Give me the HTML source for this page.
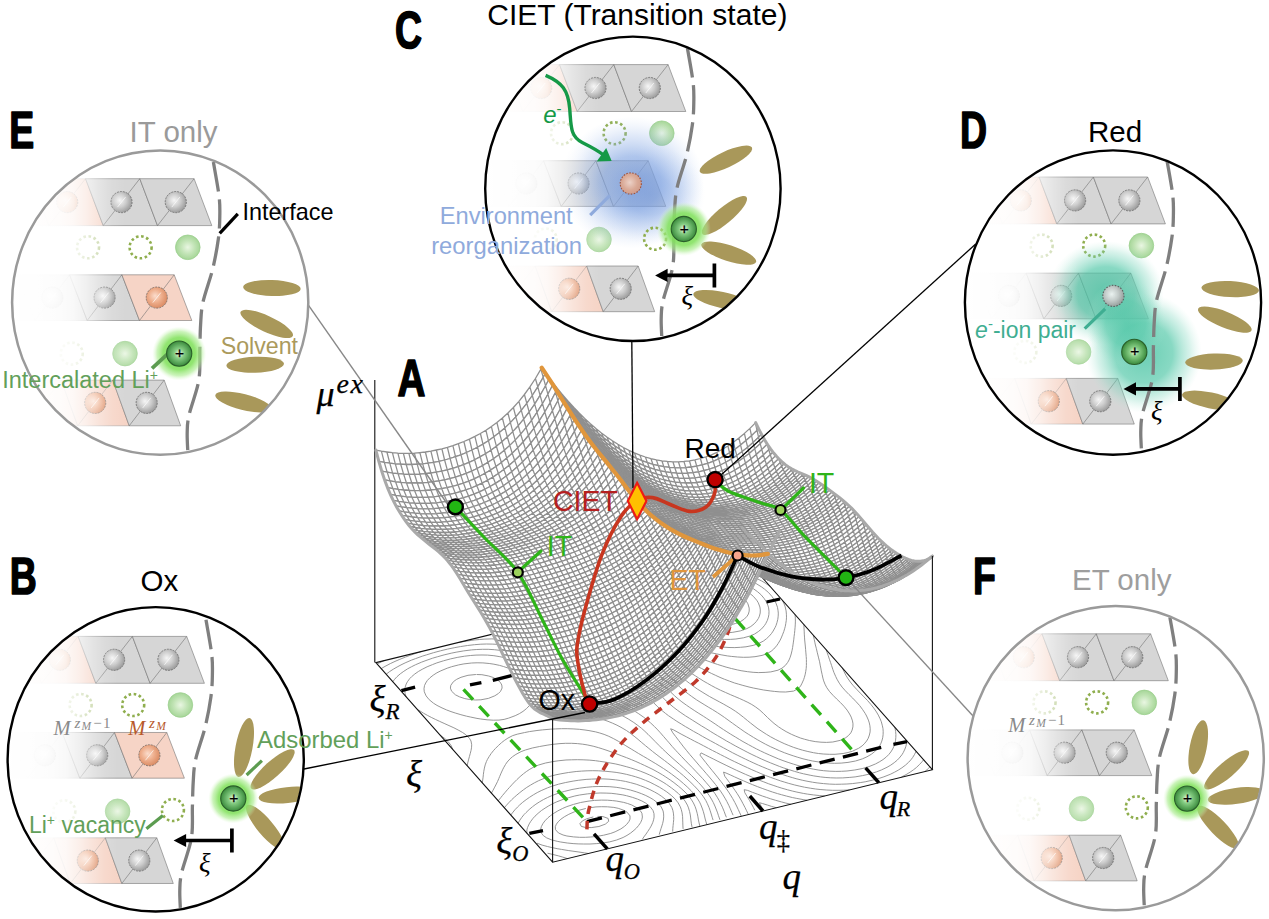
<!DOCTYPE html>
<html><head><meta charset="utf-8"><title>CIET landscape</title>
<style>html,body{margin:0;padding:0;background:#fff}svg{display:block}</style></head>
<body><svg width="1269" height="919" viewBox="0 0 1269 919">
<rect width="1269" height="919" fill="#fff"/>
<g id="plot">
<g fill="none" stroke="#8a8a8a" stroke-width="0.9">
<path d="M597.5 816.4l5.5 0.2 5.1 1.8 0.6 2.9-3.3 2.8-6.5 2.4-7.7 1.1-5.9-0.2-4-1-1.4-2.7 2.5-2.8 4-2 6.9-2"/>
<path d="M714.5 589.2l5.5 0.2 4.2 0.5 6.3 1.5 5 1.8 3.9 2.1 3.2 2.2 3.7 3.7 1.6 2.6 1.3 4.3 0 3-0.8 2.9-1.3 2.2-2.8 2.9-3.7 2.4-5.1 2-3.8 1-7.8 0.9-5.8 0-6.3-0.6-3.7-0.6-5.8-1.7-4.7-1.9-3.8-2.1-4.3-3.5-2.8-3.8-1-2.9-0.2-3.4 0.8-2.7 2.4-3.5 2.4-2.3 3.9-2.4 4.9-2.1 7-1.9 7.6-0.8"/>
<path d="M588.9 807.9l7.1-1 5.5-0.2 5.9 0.1 6.4 0.6 4.4 0.9 5.2 1.8 3.7 2.1 2.9 3.7 0 3.2-1 2.3-2.4 3.1-2.3 2-3.4 2.4-5.8 2.9-4.3 1.6-7.1 1.8-7.5 1.3-5.3 0.5-5.5 0.3-5.8 0-6.1-0.4-6.6-0.9-3.8-1-4.6-2-3-3.3-0.2-3 1.1-2.6 2.2-2.8 2.3-2.1 3.4-2.4 4.5-2.5 5.6-2.5 4.4-1.5 7-1.8"/>
<path d="M703.6 584.3l6.3-0.8 5.6-0.2 6 0.3 6.3 0.9 3.8 0.8 5.3 1.5 4.7 1.9 4.1 2 5 3.4 2.7 2.3 3.3 3.8 1.6 2.6 1.6 4.2 0.4 2.9-0.1 3.1-0.8 3.2-1.1 2.4-2 2.9-2.1 2.3-3.4 2.7-3.9 2.1-6.6 2.3-7.5 1.4-5.3 0.5-5.7 0.1-6-0.3-6.4-0.8-4.5-0.8-6-1.6-4.7-1.6-4.7-2.2-3.7-2.1-3.2-2.2-3.8-3.7-2.8-3.8-1.3-2.7-0.8-3 0-3.3 0.6-2.8 1.7-3.4 1.7-2.3 3.2-2.9 3.6-2.5 3.9-2 6.5-2.5 4.6-1.3"/>
<path d="M594.4 800.4l7.1-0.3 5.9 0.1 5.2 0.4 4.2 0.5 6.9 1.3 3.9 1.1 4.2 1.5 5.6 3.1 2.8 2.4 1.7 2.7 0.5 3.8-0.5 2.6-1.3 3-2.1 3-2.2 2.6-2.3 2.1-3.3 2.7-3.7 2.4-3.9 2.1-6.4 2.5-7.1 1.9-7.5 1.2-5.3 0.5-6.8 0.4-6.4 0-5.5-0.1-5-0.3-5.8-0.6-6.6-1-3.5-0.7-5.8-1.5-4.7-1.9-3.4-2.3-1.9-2.5-0.7-3.8 0.6-2.6 1.6-3.1 2-2.7 3-3.1 2.6-2.1 3.2-2.3 4.1-2.5 4.9-2.5 4.2-1.8 6.6-2.2 7.1-1.9 7.4-1.3 6.4-0.8"/>
<path d="M719.5 578.9l4.7 0.4 5.8 0.8 5 1.1 5.7 1.7 4.8 1.8 4.3 2 3.7 2.1 3.9 2.8 3.5 3 3.2 3.8 2 3.1 1.7 3.6 0.8 2.8 0.4 3.3-0.1 3.2-0.5 2.7-1 3.2-1.7 3.4-1.3 1.9-2.8 3.3-3.3 2.7-3.7 2.4-4.2 1.9-6.9 1.9-7.6 1.2-5.5 0.4-5.7 0-6-0.2-6.3-0.7-4.4-0.7-6-1.2-3.7-1-5.4-1.7-4.8-1.8-4.2-2-4.2-2.5-4.3-3.1-4-3.6-3-3.7-2.3-4.1-0.9-2.8-0.6-2.9 0.1-3.2 0.7-3 1.6-3.4 1.6-2.3 2.9-3.1 3.3-2.6"/>
<path d="M588.5 853.5l-3.8-0.6-6.6-1-5.1-0.7-4.8-0.7-6.7-1.1-3.6-0.6-6.8-1.4-3.7-0.9-5.3-1.4-5.1-1.9"/>
<path d="M526.8 833.1l0.1-3.2 0.7-2.5 1.6-3.5 1.6-2.6 2.2-2.9 2-2.2 3.1-2.9 3.4-2.8 3.6-2.4 3.7-2.3 3.9-2.1 4.1-1.9 6.5-2.5 4.9-1.5 6.6-1.8 4.9-1 7.6-1.1 5.3-0.5 7.5-0.4 6 0.1 5.1 0.2 5 0.6 6.7 1 3.6 0.8 5.8 1.6 5.2 1.8 4.4 1.9 3.8 2.1 4.4 3.5 2.9 3.9 1 3.2 0.1 3.4-0.5 2.7-0.9 2.9-1.6 3.4-1.4 2.4-1.9 2.9-1.8 2.7-2.1 2.8-1.7 2.6"/>
<path d="M732.7 575.7l6 1.3 3.9 1.1 4.8 1.6 4.6 1.9 4.2 2 5.3 3.3 3.1 2.3 4.1 3.5 3.3 3.8 2.6 3.9 1.4 2.7 1.5 4.2 0.5 2.9 0.3 2.9-0.1 3.1-0.4 3.1-0.8 3.2-1 3.1-1 2.1-1.9 3.4-1.6 2.4-2.8 3.2-2.2 2-3 2.3-5.4 2.8-5 1.6-7.1 1.4-5.6 0.5-5.6 0.3-5.8-0.1-6.1-0.4-6.4-0.7-3.9-0.6-6.4-1.2-3.8-0.9-5.9-1.5-5.5-1.8-4.3-1.5-4.6-2-4.6-2.3-3.6-2.1-3.6-2.4-4.1-3.3-3.7-3.7-3-3.8-2.3-4-1.1-2.7-0.8-2.9-0.4-3.5 0.3-3 0.6-2.7 1.4-3.4 1.8-2.6"/>
<path d="M567.5 858.6l-5.1-1.6-3.8-1.1-5.6-1.4-5.5-1.3"/>
<path d="M518.1 823.2l1.8-3.1 1.8-2.6 2.4-3 1.9-1.9 3.1-3 3.3-2.8 3.5-2.6 3.7-2.4 3.8-2.2 4-2 4.3-1.9 6.3-2.4 6.8-2 7.2-1.8 7.4-1.3 6.8-0.9 6.4-0.6 5.5-0.2 5.8 0 6 0.2 6.3 0.6 4.5 0.7 5.7 1.1 4.2 1 5.7 1.7 5 1.8 4.5 1.9 4.1 2.1 3.6 2.1 4.4 3.5 3.3 3.7 1.9 4.1 0.5 2.9 0.1 3-0.3 3.2-0.7 3.2-0.8 2.6-0.8 2.4-1 3.2-0.9 3.2"/>
<path d="M782.4 600.3l1.8 3.8 1 2.8 0.9 4 0.3 3.3 0.1 3-0.2 3.1-0.5 3.1-0.5 2.9-0.7 2.5-0.8 2.7-1.3 3.3-1.3 3.2-1 2.1-2 3.4-1.6 2.3-2.9 3.3-2.6 2.2-4.5 2.6-4.6 1.5-7 1.3-5.9 0.5-5.7 0.1-6-0.3-6.1-0.6-4-0.5-6.2-1.1-4.5-0.9-6.2-1.3-3.7-0.9-5.7-1.5-5.6-1.7-4.3-1.4-4.2-1.5-4.5-1.8-4.8-2.2-5.2-2.7-3.7-2.1-3.3-2.2-4.5-3.5-3.8-3.6-3.3-3.8-2.8-3.8-2.1-4.1-1.1-2.7-0.8-2.9-0.4-3.7 0.1-3.1 0.5-2.7 1-2.9"/>
<path d="M742 573.4l5.7 1.7 5.1 1.8 4.5 1.9 4.1 2 3.7 2.2 4.9 3.3"/>
<path d="M510.8 815l1.6-2.1 2.5-3.1 2.6-2.7 2.1-2.1 3.1-2.7 3.4-2.6 3.6-2.5 3.7-2.4 3.8-2.2 4-2 6.2-2.7 4.3-1.6 6.8-2.1 7.2-1.7 7.4-1.4 5.1-0.8 7.9-0.9 5.5-0.3 5.6-0.2 5.8 0 6 0.3 6.3 0.6 5 0.7 5.1 0.9 5 1.2 5.8 1.6 4.5 1.6 4.5 1.7 4.7 2.1 4.5 2.3 3.7 2.1 3.6 2.4 4.2 3.3 3.4 3.7 2.5 4 1 2.8 0.6 2.9 0.3 3.4 0 3.2-0.3 3-0.3 2.8-0.3 3-0.1 3.1"/>
<path d="M795.1 614.6l0.2 3.5 0.1 3-0.1 3-0.2 3.1-0.3 3.1-0.3 3.1-0.4 2.9-0.3 2.9-0.4 2.9-0.4 2.8-0.4 2.7-0.6 3.1-0.8 3.3-1 3.2-1.1 2.7-1.4 2.5-2.4 3.1-3.3 2.7-4 2-7.2 1.7-5.7 0.5-6.8 0.2-5.2-0.3-5.5-0.6-6.5-1-3.8-0.8-5.9-1.4-5.3-1.4-3.9-1.2-4.8-1.5-5.2-1.8-5.1-1.8-5.1-1.8-4.8-1.8-4.3-1.6-4.4-1.7-4.5-1.9-4.7-2-5-2.3-4.2-2.2-3.7-2.1-3.6-2.1-4.8-3.4-3.4-2.7-3.5-3.2-3.5-3.7-3-3.9-1.7-2.6-2.2-4-1.4-3.1-1.1-3.9-0.5-2.9-0.1-3 0.2-3.1 0.8-3.2"/>
<path d="M751.1 571.2l2.6 0.9 1.3 0.5 1.2 0.4 2.4 0.9 0.8 0.4"/>
<path d="M504.4 807.7l2.1-2.5 2.2-2.4 3-3.1 2.7-2.5 2.4-2.1 3-2.5 3.5-2.7 3.5-2.5 3.7-2.3 3.8-2.2 4.3-2.2 6-2.5 4.8-1.7 6.6-1.7 4.9-1 7.5-1.3 7.8-1 5.4-0.4 5.5-0.3 5.7-0.1 5.9 0.1 6.1 0.4 6.3 0.6 5 0.6 4.9 0.8 5.7 1.2 5.1 1.3 3.9 1.1 5.1 1.7 4.8 1.9 4.5 1.9 4.1 2.1 5.1 2.7 4.2 2.6 3.3 2.2 4.5 3.5 3.8 3.6 3 3.8 2.2 4 1 2.8 0.8 3.3 0.5 3.8 0.1 3.2 0.1 3 0.1 3 0.2 3"/>
<path d="M803.9 624.5l0.1 3.5 0.2 3.1 0.1 3 0.2 3 0.2 2.9 0.3 3 0.3 3 0.3 3.3 0.3 3.6 0.3 3.5 0.2 3 0 3 0 3-0.2 3.1-0.5 3.2-0.6 3.1-0.7 2.5-0.8 2.4-1.5 3.4-1.5 2.9-2.5 2.7-4.6 2.4-7.8 0.9-5.8-0.1-5.6-0.5-4.2-0.5-6.4-0.9-4.8-0.9-5.6-1.1-4.3-1-6.1-1.6-4.5-1.3-4.1-1.2-4.9-1.8-4.8-1.8-4.6-1.9-4.3-2-4.3-2-4.9-2.4-5.1-2.6-4.3-2.1-4.1-2.1-4.1-2-4.2-2-4.2-2-4.7-2.4-5.3-2.7-3.9-2.1-3.7-2.2-4.4-2.7-4.1-2.8-4-3.1-3.2-2.7-3.7-3.7-3.3-3.7-2.9-3.9-2.1-3.2-1.9-3.4-1.7-3.9-1-3-0.7-2.9-0.4-3-0.1-3.3"/>
<path d="M498.2 800.8l2.7-3.3 1.5-1.9 2.8-3.3 2.1-2.5 2.2-2.4 2.9-3.2 2.1-2.2 2.4-2.4 3.2-3 3.3-2.8 2.9-2.2 3.6-2.4 4.5-2.5 4.3-1.7 6.9-2 7.4-1.4 5.1-0.8 7.9-0.8 5.6-0.2 5.7-0.1 5.8 0.1 6.1 0.3 6.3 0.6 4.2 0.6 5.6 0.8 5.6 1 4.9 0.9 5 1.2 6 1.6 3.9 1.1 4.4 1.4 5.1 1.8 4.8 1.9 4.4 1.9 4.2 2 4.6 2.5 4.9 2.8 3.4 2.2 4.8 3.4 3 2.3 4.2 3.5 3.6 3.7 3 3.8 2.3 4 1.1 2.8 1.1 3.7 0.7 3.4 0.4 3 0.3 2.9 0.4 2.9 0.7 3.6"/>
<path d="M813.3 635.2l0.9 4.1 0.6 2.9 0.6 2.8 0.9 3.3 0.9 3.9 0.7 2.8 0.7 2.9 1 3.9 0.6 3.3 0.6 2.9 0.5 2.9 0.8 3.5 0.8 3.7 0.8 2.8 1.3 3.3 1.8 3.5 2.8 3.9 3.4 3.7 3.7 3.7 3.8 3.6 3.5 3.7 3.1 3.8 2.5 3.9 1.6 3.1 1.3 3.8 0.5 2.9-0.1 3.1-0.8 3.2-1.3 2.8-2.3 2.6-2.7 2.2-5.7 2.7-7.3 1.6-6.3 0.4-5.5-0.2-5.8-0.6-5.8-1.1-5-1.3-4-1.2-4.6-1.8-4.4-1.9-5.3-2.7-4.3-2.6-3.3-2.2-4.5-3.4-4-3.6-2.6-2.4-3.7-3.7-3.9-3.6-4-3-4-2.6-3.9-2.1-4.2-2-4.4-2-4.5-1.9-4.5-1.9-4.7-2.1-4.9-2.2-5.1-2.5-4.3-2.3-3.7-2.1-3.7-2.1-5.2-3.3-3.4-2.2-4.3-2.7-4.3-2.8-3.4-2.2-5.2-3.1-3.8-2.3-3.7-2.1-4.4-2.6-4.7-2.8-3.5-2.2-4.8-3.1-3.4-2.4-4.4-3.5-2.8-2.4-3.7-3.6-3.4-3.7-3.1-3.8-2.7-3.9-1.7-2.7-2.1-4-1.2-2.7-1.5-4.2-0.7-2.9-0.5-2.9-0.1-3"/>
<path d="M491.4 793.1l1.6-2.8 1.7-3.2 1.1-2.1 1.7-3.4 1.3-3 0.9-2.2 1.4-3.3 1.5-3.3 1-2 1.9-3.3 1.7-2.5 2.9-3.2 2.4-2.1 3.4-2.3 5.2-2.8 4.3-1.6 6.9-2 7.3-1.5 7.5-1.3 5.1-0.8 7.8-0.8 5.7-0.3 5.7 0 6 0.3 5.3 0.6 4.5 0.7 6 1.3 5.1 1.4 3.9 1.2 4.8 1.6 5 1.8 4.9 1.8 4.9 1.9 4.8 1.8 4.7 1.9 4.6 1.9 4.5 2 4.3 2 4.2 2 4.1 2 4.2 2.3 5.2 3 3.4 2.2 4.5 3 3.6 2.6 4.4 3.5 2.8 2.3 3.9 3.6 3.5 3.7 2.9 3.9 2 3.3 1.6 3.4 1 2.8 1.2 4.2 0.6 2.9 0.5 2.9 0.6 3 1 4.2"/>
<path d="M826.1 649.6l1.1 3.2 1 2.8 1.4 4.2 1 2.8 1 3 1.3 4 1 2.8 1.8 4.1 1.3 2.7 2.3 4 2.8 3.9 3.3 3.7 3.6 3.7 3.7 3.6 3.5 3.7 3.4 3.7 2.9 3.9 2.6 3.9 1.5 2.7 1.8 4.1 0.9 2.8 0.6 2.9 0.3 3-0.1 3.1-0.7 3.1-1.2 3.3-1.6 2.7-2.3 2.8-2.2 2.1-3.5 2.4-6.1 2.9-4.5 1.3-4.9 1-8 0.8-5.7 0-6.1-0.3-4.8-0.5-5.1-0.8-5.5-1.2-5.3-1.3-3.9-1.2-5-1.6-4.9-1.9-4.6-1.9-4.3-2-4.1-2-5.4-2.9-4-2.4-3.4-2.2-5-3.3-3-2.3-4.5-3.5-3.1-2.5-4-3.3-4.5-3.5-3.2-2.3-4.8-3.1-4-2.3-3.7-2.1-3.9-2.1-5.4-2.9-4.2-2.3-3.7-2.2-3.9-2.4-4.8-3-3.2-2.3-4.6-3.4-3.2-2.5-4.1-3.3-4.5-3.5-3-2.3-4.7-3.4-3.3-2.2-4.9-3.4-3.4-2.2-3.8-2.6-4.4-3-3.4-2.4-4.2-3.3-4.1-3.5-3.6-3.4-2.6-2.7-3.2-3.8-2-2.5-2.8-3.9-2.5-3.9-1.8-3.3-1.6-3.5-1.2-3-1.3-4-0.6-2.9-0.4-2.9"/>
<path d="M476.5 674.5l5.4 0.2 6.8 1.3 4.2 1.4 4.8 2.6 2.6 2.3 1.5 2.7 0.3 3-1.6 3.4-2.1 2.1-3.6 2.3-6.4 2.6-7.5 1.4-5.5 0.2-6.3-0.6-4.3-0.8-5.4-1.8-4-2-3.8-3.6-1.2-3.1 0.4-2.8 2.6-3.6 3.3-2.4 4.3-2 7-2 7.9-0.8"/>
<path d="M482.3 782.8l0.4-2.8 0.4-2.8 0.3-2.9 0.4-3 0.6-3.2 0.8-3.2 1.2-3.3 1.1-2.3 1.8-3 1.8-2.7 2.3-2.9 1.9-2.1 3.1-3.1 3.1-2.8 2.8-2.2 3.6-2.4 4.8-2.5 4.5-1.4 7.2-1.6 5-1 7.6-1.1 5.3-0.6 8-0.7 5.5-0.3 5.6-0.2 5.8 0 5.9 0.2 6.2 0.4 5.7 0.7 4 0.6 6.7 1.3 4.1 1.1 4.3 1.4 4.7 1.9 4.5 2.2 5.5 3 3.6 2.1 3.5 2.2 5.3 3.2 3.6 2.2 3.6 2.2 5.3 3.1 3.8 2.2 3.6 2.2 4.7 2.8 4.2 2.6 3.5 2.2 4.9 3.3 3.2 2.3 4.5 3.4 3 2.3 4.2 3.6 3.9 3.5 3.8 3.7 3.3 3.7 2.9 3.9 2.4 3.9 1.3 2.8 1.6 4.1 0.9 2.8 0.9 3.3 0.9 3.9 0.8 2.8 0.8 2.8"/>
<path d="M842.3 667.9l1.6 3.5 2 3.9 1.7 2.8 2.7 3.9 3.1 3.8 3.4 3.7 3.6 3.7 3.6 3.7 3.6 3.7 3.2 3.7 3 3.8 2.7 3.9 1.8 3.1 1.8 3.7 1.2 2.9 1.1 4.1 0.6 2.9 0.2 2.9-0.1 3.1-0.4 3.1-0.9 3.3-1.1 2.7-1.4 2.4-2.4 3.2-2.7 2.6-2.8 2.2-4.4 2.6-4.7 2.1-6.8 2.1-7.5 1.4-6.8 0.7-6.8 0.2-5.6-0.2-4.7-0.4-5.2-0.7-6.3-1-4.1-0.9-5.5-1.3-5.8-1.7-4-1.3-4.2-1.4-4.7-1.7-4.6-1.9-4.5-2-4.5-2-5.2-2.6-4.6-2.5-3.7-2.1-3.7-2.2-5.2-3.2-3.4-2.2-4.3-3-3.8-2.7-4.2-3-3.6-2.6-4.4-3.2-3.6-2.5-3.5-2.3-5.1-3.2-3.6-2.1-3.9-2.4-4.9-3-3.5-2.2-4.9-3.4-3.1-2.3-4.4-3.4-2.8-2.4-4-3.6-3.9-3.6-3.9-3.6-2.7-2.4-4.1-3.5-4.4-3.5-3-2.3-4.6-3.4-3.1-2.3-4.5-3.4-4-3.2-3.1-2.7-3.9-3.6-3.6-3.6-3.4-3.8-3-3.8-2.8-3.9-2.4-3.6-1.7-3-2.1-4-1.3-2.7-1.6-4.2-0.8-2.8-0.7-2.9"/>
<path d="M463.9 663.9l7.6-0.9 5.6-0.2 5.8 0.1 6.3 0.6 4.7 0.7 5.7 1.2 3.8 1.1 5.1 1.7 4.5 2 4.2 2.1 5.1 3.2 2.9 2.3 3.6 3.7 2.2 3.1 1.6 3.5 0.8 2.9 0.3 3.2-0.3 2.9-0.9 3.2-1.8 3.5-1.3 1.8-3 3.1-3.4 2.7-3.7 2.3-4.1 2-6.5 2.4-4.6 1.3-5.1 0.7-5.7 0.1-6.2-0.4-6.4-0.8-3.7-0.6-6.7-1.4-3.7-0.8-5.7-1.5-5.7-1.7-4.2-1.4-4.3-1.6-4.7-2.1-5-2.5-3.5-2.2-4.3-3.5-3.1-3.8-1.8-4.1-0.3-3 0.5-3.2 1.2-2.6 1.7-2.6 2.4-2.5 3.4-2.7 3.7-2.4 4-2 6.3-2.6 4.5-1.5 7-1.8 5.2-1"/>
<path d="M406.1 696.8l-1-3.4-0.3-3 0.3-3.1 1.1-3.3 1.2-2.2 2.3-3.2 1.9-1.9 3.2-2.7 3.6-2.5 3.8-2.2 4.9-2.5 5.4-2.2 4.3-1.7 6.7-2.1 7-1.9 7.3-1.6 6.8-1.1 6-0.7 5.4-0.4 6-0.1 5.6 0.1 6.3 0.6 6 1 4.3 0.9 5.1 1.3 5.4 1.7 5 1.9 4.5 1.9 4.2 2 4 2.1 3.6 2.1 5 3.3 3.1 2.3 4 3.6 3.6 3.7 3.3 3.7 3.1 3.8 2.9 3.9 3.1 3.8 3.4 3.7 4.1 3.5 3.5 2.5 5.5 2.9 4.5 2 4.5 1.6 4.1 1.4 4.2 1.4 5.1 1.8 5 1.8 4.6 1.9 4.4 2 4 2.1 5.4 3.2 3.2 2.2 4.5 3.5 2.9 2.3 4.2 3.6 4.2 3.5 2.8 2.3 4.3 3.5 3.6 2.8 3.9 3 4.6 3.4 3 2.3 4.5 3.5 2.9 2.3 4.3 3.5 4.2 3.5 2.6 2.4 3.9 3.6 3.8 3.7 3.5 3.7 3.2 3.7 2.9 3.9 2.4 3.8 1.4 2.8 1.8 4.1 1 2.8 0.9 2.8 1.3 4.3 0.9 2.8"/>
<path d="M894.9 727.3l0.7 4.1 0.3 3.2-0.1 3.1-0.3 3.1-0.6 2.8-0.8 2.4-1.4 3-1.9 3-2 2.5-2.4 2.4-3.4 2.7-3.7 2.3-3.9 2.1-6.4 2.6-6.9 2-7.3 1.4-7.8 1-5.5 0.3-5.7 0.1-6-0.2-6.2-0.5-4.7-0.6-5.2-0.9-5.5-1.1-5.3-1.3-3.9-1-5.6-1.7-5.3-1.7-5.1-1.8-4.5-1.7-4.5-1.9-4.6-2-4.7-2.1-4.2-2-4.1-2-3.9-2.1-3.9-2.1-5.6-3.1-3.7-2.2-3.6-2.2-5-3-3.8-2.4-3.4-2.2-5-3.3-3.3-2.3-5-3.3-3.4-2.2-3.5-2.3-5.1-3.2-3.4-2.2-5-3.3-3.3-2.3-4.6-3.3-3-2.4-4.1-3.5-3.9-3.7-3.5-3.6-2.3-2.5-3.4-3.7-3.5-3.7-3.6-3.7-3.9-3.6-4.1-3.5-2.8-2.4-4.3-3.5-4.2-3.5-2.7-2.4-3.9-3.6-3.7-3.7-3.4-3.7-3.1-3.8-2.9-3.8-2.8-3.9-1.6-2.6-2.4-4-1.8-3.3-1.6-3.4-1.5-3.3-1.3-3.7-0.8-2.8"/>
<path d="M467.2 765.7l0.5-2.7 0.8-3.1 0.9-3.3 0.9-3.3 0.7-2.8 0.5-2.7 0.2-3-0.7-3.8-1.5-2.6-3.7-3.7-3.2-2.2-3.7-2.1-5-2.6-4.9-2.2-4.9-2.2-4.4-2-4.3-2-4.1-2-4-2.1-3.8-2.1-5.2-3.3"/>
<path d="M392.8 681.7l1.8-2.4 2.4-2.6 3.3-2.9 3.5-2.5 3.7-2.4 3.9-2.1 4-2 6.3-2.7 4.3-1.6 6.6-2.3 5.1-1.5 6.4-1.8 7.1-1.7 4.9-1 7.6-1.3 7.8-1 5.3-0.4 5.6-0.2 5.8 0 6.1 0.4 6.3 0.7 3.7 0.7 6.5 1.4 4.4 1.3 4.1 1.2 4.9 1.8 4.7 1.9 4.4 2 4.3 2 5.3 2.7 4.3 2.5 3.6 2.2 4.8 3.2 3.2 2.4 4.5 3.4 2.8 2.4 4.2 3.5 4.1 3.6 2.9 2.3 4.5 3.4 3.3 2.3 5.3 3.2 3.7 2.2 4 2 4.1 2 4.4 2.1 5 2.3 4.9 2.4 4.7 2.3 3.9 2.1 3.7 2.1 5 3.2 3.3 2.4 4.4 3.4 2.7 2.4 3.8 3.6 3.7 3.7 3.6 3.7 3.6 3.6 3.7 3.7 2.6 2.4 3.8 3.6 4 3.6 4 3.5 2.7 2.4 4 3.6 3.8 3.6 3.8 3.6 3.7 3.7 3.6 3.7 2.3 2.4 3.3 3.8 2 2.5 2.9 3.9 2.4 3.9 1.8 3.3 1.6 3.5 1.2 3 1.5 3.9 0.9 2.8 1.5 4.2"/>
<path d="M906.8 740.8l-0.3 2.8-0.6 2.7-1 2.8-1.6 3.4-1.4 2.3-2.7 3.3-1.9 2-3 2.5-3.5 2.5-3.8 2.2-5.7 2.7-4.7 1.8-6.8 2.2-7.2 1.6-7.5 1.3-5.3 0.5-7 0.5-6.6 0.1-5.5-0.2-4.8-0.3-5.4-0.6-6.7-1-3.7-0.7-6.6-1.4-4-1-4.9-1.4-5.5-1.7-5.3-1.7-4.4-1.6-4.3-1.7-4.5-1.8-4.6-1.9-4.8-2.1-4.8-2.3-4.5-2.1-4-2-4-2.1-4-2.1-4.7-2.5-4.8-2.7-3.8-2.1-3.7-2.2-5.3-3.1-3.7-2.2-3.6-2.2-5.1-3.2-3.7-2.2-3.5-2.2-5.2-3.3-3.5-2.2-3.8-2.4-4.6-3.1-3.2-2.3-4.5-3.4-4.2-3.6-2.7-2.3-3.6-3.7-3.4-3.7-3.1-3.8-3-3.9-2.4-3-2.8-3.3-3.3-3.7-2.4-2.5-3.8-3.6-3.9-3.6-3.9-3.6-3.9-3.6-2.5-2.4-3.6-3.7-3.3-3.7-3.2-3.8-2.9-3.8-1.9-2.6-2.6-3.9-2.5-4-1.6-2.6-2.1-4-1.7-3.4-1.5-3.5-1.1-2.7-1.3-4.2"/>
<path d="M452.6 749.2l-1.3-3.4-2.8-3.8-3.8-3.6-4.7-3.4"/>
<path d="M386.2 674.2l3.4-2.6 3.7-2.4 3.8-2.2 3.9-2.1 4.1-2 6.2-2.7 4.3-1.6 6.6-2.4 4.5-1.4 6.8-2.1 7-1.9 7.1-1.7 7.3-1.5 5.5-1 7.1-1.1 6.9-0.8 6.4-0.5 5.6-0.2 5.8 0.1 6.1 0.3 5.5 0.7 4.4 0.7 5.9 1.3 5.2 1.5 4 1.3 4.4 1.5 4.8 1.9 4.5 1.9 4.4 2 5 2.4 5.2 2.7 3.8 2.1 3.8 2.1 4.2 2.5 4.5 2.9 3.3 2.3 4.8 3.4 3.2 2.2 4.7 3.4 3.3 2.3 5 3.3 3.6 2.1 3.7 2.2 4.6 2.4 5.2 2.6 4.4 2.1 4.1 2.1 4.1 2 4.1 2 4.1 2.2 5.3 3.1 3.4 2.2 4.6 3.2 3.2 2.5 4.1 3.5 3.9 3.7 2.4 2.4 3.4 3.7 3.3 3.8 3.2 3.7 2.2 2.5 3.2 3.8 3.4 3.7 2.3 2.5 3.5 3.7 3.5 3.7 3.6 3.7 3.6 3.6 3.5 3.7 3.5 3.7 3.5 3.7 3.3 3.8 3.2 3.7 3.1 3.8 2.8 3.9 2.2 3.5 1.8 3.1 2 4.1 1.3 2.7 1.7 4.1 1 2.8 1.3 3.2"/>
<path d="M916.1 751.2l-1.5 3.1-1.8 3-1.9 2.5-2.3 2.5-3.2 2.9-3.5 2.6-3.7 2.4-3.9 2.1-4 2-6.4 2.5-4.5 1.5-7 1.9-7.2 1.6-5 0.8-7.9 1-5.4 0.4-5.5 0.2-6.1 0.1-5.6-0.2-6.2-0.5-6.4-0.7-4.6-0.7-5.5-1-4.8-1-6.1-1.5-3.8-1.1-4.8-1.4-5.4-1.8-5-1.7-4.9-1.9-4.8-1.9-4.6-1.9-4.5-1.9-4.4-2-4.3-2-4.2-2-4.1-2-4.1-2-4.5-2.3-5.4-2.9-3.9-2.1-3.9-2.1-3.8-2.1-5-2.7-4.6-2.5-3.8-2.1-3.7-2.2-5.1-2.8-4.2-2.5-3.7-2.1-4.2-2.6-4.6-2.8-3.4-2.3-4.9-3.3-3-2.3-4.3-3.5-4-3.6-2.4-2.4-3.3-3.8-2-2.5-2.8-3.9-2.7-3.9-2.6-3.9-1.8-2.6-3-3.8-3.2-3.8-3.4-3.7-3.6-3.7-2.4-2.4-3.6-3.7-3.6-3.7-3.3-3.7-3.2-3.8-3-3.8-1.8-2.6-2.7-3.9-2.6-3.9-2.3-3.8-1.7-2.8-2.2-4-1.4-2.7-1.9-4.1-1.2-2.8-1.5-4.1"/>
<path d="M849.6 789.9l-5.8 0.3-5.7 0.1-5.8 0-6-0.3-6.2-0.5-4.4-0.5-5.4-0.8-5.8-1-4.6-1-5.1-1.2-6-1.6-4-1.2-4.2-1.3-5.2-1.8-5-1.8-4.8-1.8-4.7-1.9-4.6-2-4.5-1.9-4.3-2-4.4-2-4.2-2-4.2-2-4.8-2.3-5.2-2.7-4.2-2.1-4-2.1-4-2-4-2.1-5.1-2.7-4.8-2.5-4-2-3.9-2.1-4-2.1-4.8-2.5-4.9-2.7-3.8-2.1-2.6-0.9 2.2 4 3 3.9 2.9 3.8 2 2.6 2.9 3.8 3.1 3.8 3.1 3.8 3.2 3.7 3.3 3.8 3.2 3.8 3.3 3.7 3.3 3.8 3.2 3.7 3.2 3.8 3.1 3.8 2.9 3.8 2 2.7 2.5 3.8 2.4 4 1.5 2.7 2 4 1.4 3.1 1.6 3.8 1.2 2.7"/>
<path d="M923.6 759.7l-1.4 1.9-2.9 3.1-3 2.9-2.7 2.1-3.4 2.4-4.1 2.5-4.7 2.4"/>
<path d="M459.4 642.3l7.1-1.2 7.7-1.1 5.3-0.5 5.4-0.4 7-0.2 5.6 0.2 5.1 0.3 6.5 0.9 4.5 0.9 6.2 1.5 4 1.2 4.2 1.4 4.9 1.8 4.7 1.9 4.5 1.9 4.4 2 4.5 2.2 5.1 2.5 4.7 2.4 3.9 2.1 3.8 2.1 4.4 2.6 4.7 2.8 3.5 2.2 4.7 3 3.8 2.5 3.5 2.2 5.2 3.2 3.6 2.2 3.8 2.1 4.5 2.4 5.2 2.5 4.6 2.2 4.2 2 4.3 2 4.1 2.1 4.6 1.9 3.9 2.6-2-3.1-2.5-3.9-2.3-4-1.5-2.7-2.4-4-2-3.2-2.3-3.3-2.9-3.8-3.2-3.8-3.3-3.7-3.4-3.8-3.3-3.7-3.1-3.8-3.1-3.8-2.8-3.9-2.2-3.1-2.3-3.4-2.5-3.9-2.4-4-1.6-2.6-2.2-4-1.5-2.7-2-4-1.6-3.4-1.5-3.5"/>
<path d="M381.2 668.6l3.8-2.2 5.3-2.8 4.7-2.2 4.2-1.8 6.4-2.6 4.3-1.6 6.6-2.3 5.3-1.7"/>
<path d="M824.7 795.9l-5-0.3-6.4-0.7-5.9-0.8-4.1-0.7-6.4-1.3-4.3-1-5-1.3-5.7-1.6-4.7-1.5-4.1-1.4-4.4-1.5-4.9-1.9-4.7-1.8-4.7-1.9-4.5-2-4.5-1.9-4.4-2-4.3-1.9-4.8-2.3-5-2.4-4.9-2.4-4.1-2-4.1-2.1-4.1-2-4-2-4.6-2.3-1.2 2.1 3 3.9 3 3.8 3 3.8 3.1 3.8 3.1 3.8 3 3.8 3 3.8 2 2.6 2.8 3.8 2.7 3.9 2.5 4 1.6 2.6 2.2 4 1.7 3.4 1.6 3.4 1.6 3.5 1.5 3.3"/>
<path d="M929.9 766.9l-0.4 0.5-1.1 1-1.1 1-0.5 0.5-1.7 1.4-0.3 0.3"/>
<path d="M493.7 633.9l5.9 0.1 4.9 0.3 5.6 0.7 6 1 4.6 1.2 4.4 1.2 5.3 1.7 4.9 1.9 4.7 1.9 4.5 1.9 4.3 2 4.3 2 4.2 2 4.2 2.1 5.2 2.6 4.7 2.5 3.9 2 3.8 2.2 4.3 2.4 4.9 2.9 3.6 2.1 3.7 2.2 5.3 3.2 3.7 2.2 3.7 2.1 4.9 2.7 3.2-0.1-2.7-3.9-2.8-3.9-3.1-3.8-3-3.8-3.1-3.8-2-2.5-2.8-3.9-2.7-3.9-2.6-3.9-1.8-2.7-2.3-3.9-2.4-3.9-1.6-2.7-2.2-4-2.3-4-1.4-2.7-2.1-4-1.3-2.7-1.9-4.1"/>
<path d="M377.1 664l0.7-0.3 1.3-0.7 2-1 2.1-1 0.9-0.4"/>
<path d="M807 800.2l-3.9-0.6-6.9-1.3-3.6-0.7-6-1.5-5.2-1.4-3.9-1.1-5.1-1.6-5.2-1.8-5-1.8-4.8-1.8-4.8-1.9-4.6-1.9-4.5-2-4.5-1.9-4.4-2-4.3-2-4.3-1.9-2.5-0.9 1.3 4.2 1.9 2.5 2.9 3.9 2.8 3.9 2.7 3.9 2.1 3.1 2.1 3.4 2.3 4 1.4 2.7 2.1 4 1.5 3.1 1.8 3.7"/>
<path d="M511.3 629.6l6.7 1.2 3.7 0.8 5.7 1.7 5.2 1.8 4.8 1.8 4.6 1.9 4.5 2 4.3 2 4.2 2 4.2 2 4.1 2 4.2 2 5.2 2.7 4.8 2.5 4 2 3.9 2.1 3.7 0.6-2.1-4-1.7-2.6-2.4-4-2.3-4-1.6-2.6-2.3-4-1.6-2.9-2.2-3.8-2.2-4-1.5-2.7-2.1-4-1.5-2.7"/>
<path d="M790.8 804.2l-4.9-1.1-4.5-1.2-5.8-1.6-5-1.5-4.1-1.4-4.2-1.4-5-1.9-4.9-1.8-4.7-1.9-3.5-0.7 0.6 3 2.4 3.9 2.4 4 1.5 2.6 2.2 4.1 1.5 3"/>
<path d="M525.4 626.2l4.1 1.3 4.3 1.6 4.4 1.8 4.7 2 4.9 2.2 4.9 2.3 4.6 2.3 4.1 2 4.1 2 3.2 0.8-0.5-3-2.2-4-2.2-3.9-1.6-2.7-2.3-4-1.5-2.7-2.3-4"/>
<path d="M776.3 807.7l-4.8-1.3-3.9-1.3-5.2-1.6-3-0.8 2 4.1 1.4 2.8"/>
<path d="M536.6 623.5l4.3 1.9 4.2 2.1 5.4 1.7-0.1-1.5-2.4-4"/>
</g>
<polygon points="375.9,662.6 552.6,862.2 932.4,769.7 755.7,570.1" fill="none" stroke="#111" stroke-width="1.1"/>
<g stroke="#000" stroke-width="3.3">
<line x1="529.3" y1="833.4" x2="543.0" y2="830.6" />
<line x1="586.9" y1="821.6" x2="886.0" y2="746.2" stroke-dasharray="15.5 8.5"/>
<line x1="893.4" y1="744.3" x2="907.0" y2="741.6" />
<line x1="401.4" y1="690.6" x2="415.1" y2="687.1" />
<line x1="470.0" y1="684.9" x2="481.4" y2="682.6" />
<line x1="492.8" y1="680.3" x2="530.0" y2="671.0" />
<line x1="766.5" y1="602.0" x2="780.0" y2="599.0" />
</g>
<g stroke="#000" stroke-width="3.5">
<line x1="607.3" y1="848.9" x2="594.0" y2="833.9" />
<line x1="763.0" y1="811.0" x2="749.8" y2="796.0" />
<line x1="878.8" y1="782.7" x2="865.6" y2="767.8" />
</g>
<g stroke="#2fb419" stroke-width="3.4" stroke-dasharray="14 9" fill="none">
<line x1="463.5" y1="689.4" x2="586.9" y2="821.6" />
<line x1="735.2" y1="618.6" x2="854.3" y2="752.5" />
</g>
<path d="M586.9 829.4C587.2 826.2 586.8 818.5 588.8 810.0C590.8 801.5 593.7 789.1 598.6 778.7C603.5 768.3 610.9 756.5 618.0 747.4C625.1 738.3 633.0 731.5 641.5 724.0C650.0 716.5 659.8 709.7 668.9 702.5C678.0 695.3 688.4 688.5 696.2 681.0C704.0 673.5 710.5 665.4 715.7 657.6C720.9 649.8 724.8 640.7 727.4 634.2C730.0 627.7 730.6 621.2 731.3 618.6" fill="none" stroke="#c0392b" stroke-width="3.5" stroke-dasharray="8.5 7"/>
<g stroke="#111" stroke-width="1.1">
<line x1="374.8" y1="380.0" x2="374.8" y2="662.6" />
</g>
<g fill="#fff" stroke="#8f8f8f" stroke-width="1.28" stroke-linejoin="round"><path d="M541.7 367.7l4.7 6.5 5.5 7.3 5.5 7 5.5 6.6 5.5 6.4 5.5 6 5.5 5.7 5.5 5.4 5.5 5.1 5.5 4.8 5.5 4.4 5.5 4.1 5.5 3.8 5.5 3.5 5.5 3.2 5.5 2.9 5.5 2.5 5.5 2.2 5.5 1.9 5.5 1.6 5.5 1.3 5.5 0.9 5.5 0.6 5.5 0.4 5.5 0 5.5-0.4 5.5-0.6 5.5-1 5.5-1.3 5.5-1.6 5.5-2.1 5.5-2.5 5.5-3 5.5-3.3 5.5-3.8 5.5-4.2 5.5-4.6 5.5-5 5.5-5.5 0.3-0.3 2.9 6.1-1.6 1.7-5.5 5.3-5.5 4.9-5.4 4.5-5.5 4.1-5.5 3.6-5.5 3.3-5.5 2.8-5.4 2.4-5.5 2-5.5 1.6-5.5 1.2-5.5 0.9-5.4 0.6-5.5 0.2-5.5-0.1-5.5-0.4-5.5-0.7-5.5-1-5.4-1.3-5.5-1.7-5.5-2-5.5-2.3-5.5-2.6-5.4-3-5.5-3.3-5.5-3.6-5.5-3.9-5.5-4.2-5.4-4.5-5.5-4.9-5.5-5.2-5.5-5.5-5.5-5.8-5.4-6.2-5.5-6.4-5.5-6.8-5.5-7.1-5.5-7.4-3.2-4.6ZM546.4 374.2l2.3 3.7M551.9 381.5l2.3 3.8M557.4 388.5l2.3 3.9M562.9 395.1l2.3 4.1M568.4 401.5l2.3 4.1M573.9 407.5l2.2 4.3M579.4 413.2l2.2 4.4M584.9 418.6l2.2 4.5M590.4 423.7l2.2 4.6M595.9 428.5l2.2 4.7M601.4 432.9l2.1 4.8M606.9 437l2.1 4.9M612.4 440.8l2.1 5M617.9 444.3l2.1 5.1M623.4 447.5l2.1 5.2M628.9 450.4l2 5.3M634.4 452.9l2 5.4M639.9 455.1l2 5.5M645.4 457l2 5.6M650.9 458.6l2 5.7M656.4 459.9l1.9 5.7M661.9 460.8l1.9 5.8M667.4 461.4l1.9 5.9M672.9 461.8l1.9 5.9M678.4 461.8l1.9 6M683.9 461.4l1.9 6.2M689.4 460.8l1.8 6.2M694.9 459.8l1.8 6.3M700.4 458.5l1.8 6.4M705.9 456.9l1.8 6.4M711.4 454.8l1.8 6.5M716.9 452.3l1.7 6.6M722.4 449.3l1.7 6.8M727.9 446l1.7 6.8M733.4 442.2l1.7 7M738.9 438l1.7 7.1M744.4 433.4l1.6 7.2M749.9 428.4l1.6 7.3M755.4 422.9l1.6 7.5"/>
<path d="M375.9 450.1l5.5 1.1 5.5 0.8 5.5 0.7 5.5 0.4 5.5 0.2 5.5 0 5.5-0.2 5.5-0.5 5.5-0.6 5.5-0.9 5.5-1.1 5.5-1.2 5.5-1.5 5.5-1.7 5.5-2 5.5-2.1 5.5-2.4 5.5-2.7 5.5-2.9 5.5-3.3 5.5-3.6 5.5-4.1 5.5-4.5 5.5-5 5.5-5.5 5.5-6.2 5.5-6.8 5.5-7.6 5.5-8.4 5.5-9.3 0.8-1.5 3.8 5.6-2.3 4.1-5.4 9.5-5.5 8.6-5.5 7.9-5.5 7-5.5 6.5-5.4 5.7-5.5 5.3-5.5 4.7-5.5 4.2-5.5 3.9-5.4 3.4-5.5 3.1-5.5 2.8-5.5 2.5-5.5 2.3-5.5 1.9-5.4 1.8-5.5 1.5-5.5 1.3-5.5 1-5.5 0.9-5.4 0.6-5.5 0.4-5.5 0.3-5.5 0-5.5-0.3-5.4-0.4-5.5-0.6-5.5-0.8-5.5-1.1ZM381.4 451.2l2.9 11.2M386.9 452l2.9 11.2M392.4 452.7l2.9 11.1M397.9 453.1l2.8 11.1M403.4 453.3l2.8 11.2M408.9 453.3l2.8 11.2M414.4 453.1l2.8 11.1M419.9 452.6l2.8 11.2M425.4 452l2.7 11.2M430.9 451.1l2.7 11.2M436.4 450l2.7 11.3M441.9 448.8l2.7 11.2M447.4 447.3l2.7 11.2M452.9 445.6l2.6 11.1M458.4 443.6l2.6 11.2M463.9 441.5l2.6 11M469.4 439.1l2.6 10.9M474.9 436.4l2.6 10.8M480.4 433.5l2.6 10.6M485.9 430.2l2.5 10.5M491.4 426.6l2.5 10.2M496.9 422.5l2.5 10.1M502.4 418l2.5 9.9M507.9 413l2.5 9.6M513.4 407.5l2.4 9.4M518.9 401.3l2.4 9.1M524.4 394.5l2.4 8.9M529.9 386.9l2.4 8.6M535.4 378.5l2.4 8.4M540.9 369.2l2.3 8.2"/>
<path d="M545.5 373.3l3.2 4.6 5.5 7.4 5.5 7.1 5.5 6.8 5.5 6.4 5.4 6.2 5.5 5.8 5.5 5.5 5.5 5.2 5.5 4.9 5.4 4.5 5.5 4.2 5.5 3.9 5.5 3.6 5.5 3.3 5.4 3 5.5 2.6 5.5 2.3 5.5 2 5.5 1.7 5.4 1.3 5.5 1 5.5 0.7 5.5 0.4 5.5 0.1 5.5-0.2 5.4-0.6 5.5-0.9 5.5-1.2 5.5-1.6 5.5-2 5.4-2.4 5.5-2.8 5.5-3.3 5.5-3.6 5.5-4.1 5.4-4.5 5.5-4.9 5.5-5.3 1.6-1.7 2.9 5.6-2.9 3-5.5 5.2-5.4 4.8-5.5 4.3-5.4 4-5.5 3.5-5.5 3.2-5.4 2.7-5.5 2.3-5.5 1.9-5.4 1.5-5.5 1.1-5.4 0.9-5.5 0.5-5.5 0.1-5.4-0.1-5.5-0.5-5.5-0.8-5.4-1.1-5.5-1.4-5.4-1.7-5.5-2.1-5.5-2.4-5.4-2.7-5.5-3-5.5-3.3-5.4-3.7-5.5-4-5.4-4.3-5.5-4.6-5.5-4.9-5.4-5.3-5.5-5.6-5.4-5.9-5.5-6.2-5.5-6.6-5.4-6.8-5.5-7.2-5.5-7.5-1.8-2.7ZM548.7 377.9l2.3 3.7M554.2 385.3l2.3 3.8M559.7 392.4l2.3 3.9M565.2 399.2l2.2 3.9M570.7 405.6l2.2 4.1M576.1 411.8l2.3 4.1M581.6 417.6l2.2 4.2M587.1 423.1l2.2 4.3M592.6 428.3l2.1 4.4M598.1 433.2l2.1 4.4M603.5 437.7l2.2 4.5M609 441.9l2.1 4.6M614.5 445.8l2.1 4.7M620 449.4l2 4.8M625.5 452.7l2 4.8M630.9 455.7l2.1 4.8M636.4 458.3l2 4.9M641.9 460.6l2 5M647.4 462.6l2 5.1M652.9 464.3l1.9 5.1M658.3 465.6l2 5.2M663.8 466.6l1.9 5.3M669.3 467.3l1.9 5.4M674.8 467.7l1.9 5.5M680.3 467.8l1.8 5.5M685.8 467.6l1.8 5.6M691.2 467l1.9 5.7M696.7 466.1l1.8 5.7M702.2 464.9l1.8 5.8M707.7 463.3l1.7 5.9M713.2 461.3l1.7 6M718.6 458.9l1.8 6.1M724.1 456.1l1.7 6.2M729.6 452.8l1.7 6.3M735.1 449.2l1.7 6.4M740.6 445.1l1.6 6.5M746 440.6l1.7 6.7M751.5 435.7l1.6 6.8M757 430.4l1.6 6.9"/>
<path d="M378.8 461.3l5.5 1.1 5.5 0.8 5.5 0.6 5.4 0.4 5.5 0.3 5.5 0 5.5-0.3 5.5-0.4 5.4-0.6 5.5-0.9 5.5-1 5.5-1.3 5.5-1.5 5.4-1.8 5.5-1.9 5.5-2.3 5.5-2.5 5.5-2.8 5.5-3.1 5.4-3.4 5.5-3.9 5.5-4.2 5.5-4.7 5.5-5.3 5.4-5.7 5.5-6.5 5.5-7 5.5-7.9 5.5-8.6 5.4-9.5 2.3-4.1 3.7 5.6-3.6 6.9-5.5 9.6-5.4 8.7-5.5 7.9-5.5 7.2-5.4 6.5-5.5 5.9-5.5 5.4-5.4 4.8-5.5 4.4-5.4 4-5.5 3.5-5.5 3.2-5.4 2.9-5.5 2.5-5.5 2.3-5.4 2-5.5 1.8-5.4 1.5-5.5 1.2-5.5 1.1-5.4 0.8-5.5 0.7-5.5 0.4-5.4 0.2-5.5 0-5.4-0.2-5.5-0.4-5.5-0.6-5.4-0.9-5.5-1ZM384.3 462.4l2.9 9.8M389.8 463.2l2.8 9.9M395.3 463.8l2.8 9.9M400.7 464.2l2.9 9.9M406.2 464.5l2.8 9.8M411.7 464.5l2.8 9.8M417.2 464.2l2.7 9.9M422.7 463.8l2.7 9.9M428.1 463.2l2.8 9.8M433.6 462.3l2.7 9.9M439.1 461.3l2.7 9.8M444.6 460l2.7 9.9M450.1 458.5l2.6 9.9M455.5 456.7l2.7 9.9M461 454.8l2.6 9.8M466.5 452.5l2.6 9.8M472 450l2.6 9.8M477.5 447.2l2.5 9.7M483 444.1l2.5 9.6M488.4 440.7l2.6 9.5M493.9 436.8l2.5 9.4M499.4 432.6l2.5 9.2M504.9 427.9l2.4 9.1M510.4 422.6l2.4 9M515.8 416.9l2.5 8.8M521.3 410.4l2.4 8.8M526.8 403.4l2.4 8.6M532.3 395.5l2.4 8.6M537.8 386.9l2.3 8.5M543.2 377.4l2.4 8.4"/>
<path d="M549.2 378.9l1.8 2.7 5.5 7.5 5.5 7.2 5.4 6.8 5.5 6.6 5.5 6.2 5.4 5.9 5.5 5.6 5.4 5.3 5.5 4.9 5.5 4.6 5.4 4.3 5.5 4 5.4 3.7 5.5 3.3 5.5 3 5.4 2.7 5.5 2.4 5.5 2.1 5.4 1.7 5.5 1.4 5.4 1.1 5.5 0.8 5.5 0.5 5.4 0.1 5.5-0.1 5.5-0.5 5.4-0.9 5.5-1.1 5.4-1.5 5.5-1.9 5.5-2.3 5.4-2.7 5.5-3.2 5.5-3.5 5.4-4 5.5-4.3 5.4-4.8 5.5-5.2 2.9-3 2.9 5.2-4.2 4.2-5.5 5-5.4 4.7-5.4 4.2-5.5 3.9-5.4 3.4-5.5 3.1-5.4 2.6-5.5 2.2-5.4 1.8-5.4 1.4-5.5 1.1-5.4 0.7-5.5 0.5-5.4 0.1-5.5-0.2-5.4-0.6-5.4-0.8-5.5-1.2-5.4-1.4-5.5-1.8-5.4-2.2-5.5-2.4-5.4-2.8-5.4-3-5.5-3.4-5.4-3.8-5.5-4-5.4-4.3-5.5-4.7-5.4-5-5.5-5.3-5.4-5.6-5.4-6-5.5-6.3-5.4-6.5-5.5-6.9-5.4-7.3-5.5-7.5-0.4-0.7ZM551 381.6l2.3 3.8M556.5 389.1l2.3 3.8M562 396.3l2.2 3.9M567.4 403.1l2.3 4M572.9 409.7l2.2 3.9M578.4 415.9l2.2 4M583.8 421.8l2.2 4.1M589.3 427.4l2.1 4.1M594.7 432.7l2.2 4.1M600.2 437.6l2.1 4.2M605.7 442.2l2.1 4.3M611.1 446.5l2.1 4.3M616.6 450.5l2.1 4.3M622 454.2l2.1 4.4M627.5 457.5l2.1 4.5M633 460.5l2 4.5M638.4 463.2l2 4.6M643.9 465.6l2 4.6M649.4 467.7l1.9 4.7M654.8 469.4l2 4.8M660.3 470.8l1.9 4.8M665.7 471.9l2 4.9M671.2 472.7l1.9 4.9M676.7 473.2l1.8 5M682.1 473.3l1.9 5.1M687.6 473.2l1.8 5.1M693.1 472.7l1.8 5.1M698.5 471.8l1.8 5.3M704 470.7l1.8 5.3M709.4 469.2l1.8 5.4M714.9 467.3l1.7 5.5M720.4 465l1.7 5.6M725.8 462.3l1.7 5.7M731.3 459.1l1.7 5.8M736.8 455.6l1.6 5.9M742.2 451.6l1.7 6M747.7 447.3l1.6 6.1M753.1 442.5l1.6 6.2M758.6 437.3l1.6 6.4"/>
<path d="M381.7 471.2l5.5 1 5.4 0.9 5.5 0.6 5.5 0.4 5.4 0.2 5.5 0 5.4-0.2 5.5-0.4 5.5-0.7 5.4-0.8 5.5-1.1 5.5-1.2 5.4-1.5 5.5-1.8 5.4-2 5.5-2.3 5.5-2.5 5.4-2.9 5.5-3.2 5.5-3.5 5.4-4 5.5-4.4 5.4-4.8 5.5-5.4 5.5-5.9 5.4-6.5 5.5-7.2 5.5-7.9 5.4-8.7 5.5-9.6 3.6-6.9 3.7 5.8-5 9.5-5.4 9.5-5.5 8.7-5.4 8-5.5 7.2-5.4 6.5-5.5 6-5.4 5.3-5.4 4.9-5.5 4.4-5.4 4-5.5 3.6-5.4 3.3-5.5 2.9-5.4 2.6-5.5 2.3-5.4 2-5.4 1.7-5.5 1.5-5.4 1.3-5.5 1-5.4 0.8-5.5 0.7-5.4 0.4-5.4 0.2-5.5 0-5.4-0.2-5.5-0.4-5.4-0.6-5.5-0.9-5.4-1ZM387.2 472.2l2.8 8.7M392.6 473.1l2.9 8.7M398.1 473.7l2.8 8.7M403.6 474.1l2.8 8.7M409 474.3l2.8 8.7M414.5 474.3l2.8 8.7M419.9 474.1l2.8 8.7M425.4 473.7l2.7 8.7M430.9 473l2.7 8.7M436.3 472.2l2.7 8.7M441.8 471.1l2.7 8.8M447.3 469.9l2.6 8.7M452.7 468.4l2.7 8.7M458.2 466.6l2.6 8.8M463.6 464.6l2.6 8.8M469.1 462.3l2.6 8.8M474.6 459.8l2.5 8.7M480 456.9l2.6 8.7M485.5 453.7l2.5 8.6M491 450.2l2.5 8.5M496.4 446.2l2.5 8.5M501.9 441.8l2.5 8.5M507.3 437l2.5 8.4M512.8 431.6l2.4 8.5M518.3 425.7l2.4 8.4M523.7 419.2l2.4 8.4M529.2 412l2.4 8.4M534.7 404.1l2.3 8.3M540.1 395.4l2.4 8.3M545.6 385.8l2.3 8.4"/>
<path d="M552.9 384.7l0.4 0.7 5.5 7.5 5.4 7.3 5.5 6.9 5.4 6.5 5.5 6.3 5.4 6 5.4 5.6 5.5 5.3 5.4 5 5.5 4.7 5.4 4.3 5.5 4 5.4 3.8 5.5 3.4 5.4 3 5.4 2.8 5.5 2.4 5.4 2.2 5.5 1.8 5.4 1.4 5.5 1.2 5.4 0.8 5.4 0.6 5.5 0.2 5.4-0.1 5.5-0.5 5.4-0.7 5.5-1.1 5.4-1.4 5.4-1.8 5.5-2.2 5.4-2.6 5.5-3.1 5.4-3.4 5.5-3.9 5.4-4.2 5.4-4.7 5.5-5 4.2-4.2 2.9 4.6-0.1 0.1-5.4 5.4-5.5 4.9-5.4 4.5-5.4 4.2-5.4 3.7-5.4 3.3-5.5 3-5.4 2.5-5.4 2.1-5.4 1.7-5.5 1.4-5.4 1-5.4 0.6-5.4 0.4-5.5 0.1-5.4-0.3-5.4-0.6-5.4-0.9-5.5-1.2-5.4-1.5-5.4-1.9-5.4-2.1-5.5-2.5-5.4-2.8-5.4-3.1-5.4-3.5-5.5-3.7-5.4-4.1-5.4-4.4-5.4-4.7-5.5-5-5.4-5.3-5.4-5.6-5.4-6-5.5-6.3-5.4-6.6-5.4-6.9-5.4-7.2-4.6-6.3ZM553.3 385.4l0.8 1.3M558.8 392.9l2.3 3.9M564.2 400.2l2.3 3.8M569.7 407.1l2.2 3.8M575.1 413.6l2.2 3.9M580.6 419.9l2.2 3.9M586 425.9l2.2 3.9M591.4 431.5l2.2 3.9M596.9 436.8l2.1 3.9M602.3 441.8l2.2 3.9M607.8 446.5l2.1 3.9M613.2 450.8l2.1 4M618.7 454.8l2 4.1M624.1 458.6l2.1 4M629.6 462l2 4.1M635 465l2 4.2M640.4 467.8l2 4.2M645.9 470.2l2 4.3M651.3 472.4l2 4.2M656.8 474.2l1.9 4.3M662.2 475.6l1.9 4.4M667.7 476.8l1.9 4.4M673.1 477.6l1.9 4.5M678.5 478.2l1.9 4.5M684 478.4l1.8 4.6M689.4 478.3l1.9 4.6M694.9 477.8l1.8 4.7M700.3 477.1l1.8 4.8M705.8 476l1.7 4.9M711.2 474.6l1.8 4.9M716.6 472.8l1.8 5M722.1 470.6l1.7 5.1M727.5 468l1.7 5.2M733 464.9l1.7 5.3M738.4 461.5l1.7 5.4M743.9 457.6l1.6 5.6M749.3 453.4l1.6 5.6M754.7 448.7l1.6 5.8M760.2 443.7l1.6 5.9M767.2 444.2l-0.1-0.3"/>
<path d="M384.6 479.9l5.4 1 5.5 0.9 5.4 0.6 5.5 0.4 5.4 0.2 5.5 0 5.4-0.2 5.4-0.4 5.5-0.7 5.4-0.8 5.5-1 5.4-1.3 5.5-1.5 5.4-1.7 5.4-2 5.5-2.3 5.4-2.6 5.5-2.9 5.4-3.3 5.5-3.6 5.4-4 5.5-4.4 5.4-4.9 5.4-5.3 5.5-6 5.4-6.5 5.5-7.2 5.4-8 5.5-8.7 5.4-9.5 5-9.5 3.6 5.8-0.9 1.8-5.4 10.3-5.4 9.4-5.4 8.6-5.5 7.8-5.4 7.1-5.4 6.5-5.4 5.9-5.5 5.3-5.4 4.9-5.4 4.4-5.4 4-5.5 3.6-5.4 3.2-5.4 2.9-5.4 2.6-5.5 2.3-5.4 2-5.4 1.7-5.4 1.5-5.5 1.3-5.4 1-5.4 0.8-5.4 0.6-5.5 0.4-5.4 0.3-5.4 0-5.4-0.3-5.5-0.4-5.4-0.6-5.4-0.8-5.4-1ZM390 480.9l2.9 7.7M395.5 481.8l2.8 7.6M400.9 482.4l2.8 7.6M406.4 482.8l2.8 7.6M411.8 483l2.8 7.7M417.3 483l2.7 7.7M422.7 482.8l2.7 7.6M428.1 482.4l2.8 7.6M433.6 481.7l2.7 7.7M439 480.9l2.7 7.7M444.5 479.9l2.6 7.7M449.9 478.6l2.7 7.7M455.4 477.1l2.6 7.7M460.8 475.4l2.6 7.7M466.2 473.4l2.6 7.7M471.7 471.1l2.6 7.7M477.1 468.5l2.6 7.7M482.6 465.6l2.5 7.7M488 462.3l2.5 7.8M493.5 458.7l2.5 7.8M498.9 454.7l2.5 7.8M504.4 450.3l2.4 7.8M509.8 445.4l2.4 7.8M515.2 440.1l2.5 7.8M520.7 434.1l2.4 7.9M526.1 427.6l2.4 7.9M531.6 420.4l2.3 8M537 412.4l2.4 8.2M542.5 403.7l2.3 8.3M547.9 394.2l2.3 8.4M555.6 392.3l-1.5-5.6"/>
<path d="M556.5 390.5l4.6 6.3 5.4 7.2 5.4 6.9 5.4 6.6 5.5 6.3 5.4 6 5.4 5.6 5.4 5.3 5.5 5 5.4 4.7 5.4 4.4 5.4 4.1 5.5 3.7 5.4 3.5 5.4 3.1 5.4 2.8 5.5 2.5 5.4 2.1 5.4 1.9 5.4 1.5 5.5 1.2 5.4 0.9 5.4 0.6 5.4 0.3 5.5-0.1 5.4-0.4 5.4-0.6 5.4-1 5.5-1.4 5.4-1.7 5.4-2.1 5.4-2.5 5.5-3 5.4-3.3 5.4-3.7 5.4-4.2 5.4-4.5 5.5-4.9 5.4-5.4 0.1-0.1 2.8 4.3-1.3 1.4-5.5 5.2-5.4 4.8-5.4 4.4-5.4 4-5.4 3.7-5.4 3.2-5.4 2.8-5.4 2.4-5.4 2.1-5.4 1.6-5.4 1.2-5.4 1-5.4 0.6-5.4 0.3-5.4 0-5.4-0.3-5.5-0.6-5.4-1-5.4-1.2-5.4-1.6-5.4-1.9-5.4-2.2-5.4-2.5-5.4-2.8-5.4-3.1-5.4-3.5-5.4-3.7-5.4-4.1-5.4-4.4-5.4-4.7-5.4-5-5.4-5.3-5.4-5.7-5.5-5.9-5.4-6.3-5.4-6.6-5.4-6.8-5.4-7.3-3.1-4.3ZM561.1 396.8l2.2 3.8M566.5 404l2.2 3.9M571.9 410.9l2.2 3.8M577.3 417.5l2.2 3.8M582.8 423.8l2.1 3.8M588.2 429.8l2.2 3.7M593.6 435.4l2.2 3.8M599 440.7l2.2 3.8M604.5 445.7l2.1 3.8M609.9 450.4l2.1 3.8M615.3 454.8l2.1 3.8M620.7 458.9l2.1 3.8M626.2 462.6l2 3.8M631.6 466.1l2 3.8M637 469.2l2 3.8M642.4 472l2 3.8M647.9 474.5l1.9 3.8M653.3 476.6l1.9 3.9M658.7 478.5l1.9 3.9M664.1 480l1.9 4M669.6 481.2l1.8 4M675 482.1l1.8 4.1M680.4 482.7l1.9 4.1M685.8 483l1.9 4.1M691.3 482.9l1.8 4.2M696.7 482.5l1.8 4.3M702.1 481.9l1.8 4.3M707.5 480.9l1.8 4.3M713 479.5l1.7 4.5M718.4 477.8l1.7 4.6M723.8 475.7l1.7 4.6M729.2 473.2l1.7 4.7M734.7 470.2l1.6 4.9M740.1 466.9l1.6 5M745.5 463.2l1.6 5M750.9 459l1.6 5.2M756.3 454.5l1.6 5.3M761.8 449.6l1.5 5.4M767.2 444.2l1.6 5.6"/>
<path d="M387.5 487.6l5.4 1 5.4 0.8 5.4 0.6 5.5 0.4 5.4 0.3 5.4 0 5.4-0.3 5.5-0.4 5.4-0.6 5.4-0.8 5.4-1 5.5-1.3 5.4-1.5 5.4-1.7 5.4-2 5.5-2.3 5.4-2.6 5.4-2.9 5.4-3.2 5.5-3.6 5.4-4 5.4-4.4 5.4-4.9 5.5-5.3 5.4-5.9 5.4-6.5 5.4-7.1 5.5-7.8 5.4-8.6 5.4-9.4 5.4-10.3 0.9-1.8 3.7 5.8-2.3 4.5-5.4 10-5.4 9.2-5.4 8.4-5.4 7.7-5.4 6.9-5.4 6.4-5.4 5.8-5.4 5.3-5.4 4.7-5.4 4.4-5.5 3.9-5.4 3.6-5.4 3.1-5.4 2.9-5.4 2.6-5.4 2.3-5.4 1.9-5.4 1.8-5.4 1.4-5.4 1.3-5.4 1-5.4 0.8-5.4 0.6-5.4 0.4-5.4 0.2-5.4 0-5.5-0.2-5.4-0.4-5.4-0.6-5.4-0.8-5.4-1ZM392.9 488.6l2.8 6.8M398.3 489.4l2.8 6.8M403.7 490l2.8 6.8M409.2 490.4l2.7 6.8M414.6 490.7l2.8 6.7M420 490.7l2.8 6.7M425.4 490.4l2.8 6.8M430.9 490l2.7 6.8M436.3 489.4l2.7 6.8M441.7 488.6l2.7 6.8M447.1 487.6l2.7 6.8M452.6 486.3l2.6 6.8M458 484.8l2.6 6.9M463.4 483.1l2.6 6.8M468.8 481.1l2.6 6.9M474.3 478.8l2.5 6.9M479.7 476.2l2.5 6.9M485.1 473.3l2.5 6.9M490.5 470.1l2.5 7M496 466.5l2.4 7M501.4 462.5l2.5 7.1M506.8 458.1l2.5 7.1M512.2 453.2l2.5 7.3M517.7 447.9l2.4 7.3M523.1 442l2.4 7.4M528.5 435.5l2.4 7.5M533.9 428.4l2.4 7.7M539.4 420.6l2.3 7.8M544.8 412l2.3 8M550.2 402.6l2.3 8.2M555.6 392.3l2.3 8.5"/>
<path d="M560.2 396.3l3.1 4.3 5.4 7.3 5.4 6.8 5.4 6.6 5.4 6.3 5.5 5.9 5.4 5.7 5.4 5.3 5.4 5 5.4 4.7 5.4 4.4 5.4 4.1 5.4 3.7 5.4 3.5 5.4 3.1 5.4 2.8 5.4 2.5 5.4 2.2 5.4 1.9 5.4 1.6 5.4 1.2 5.4 1 5.5 0.6 5.4 0.3 5.4 0 5.4-0.3 5.4-0.6 5.4-1 5.4-1.2 5.4-1.6 5.4-2.1 5.4-2.4 5.4-2.8 5.4-3.2 5.4-3.7 5.4-4 5.4-4.4 5.4-4.8 5.5-5.2 1.3-1.4 2.9 3.8-2.7 2.6-5.4 5.1-5.4 4.7-5.4 4.3-5.3 3.9-5.4 3.6-5.4 3.1-5.4 2.7-5.4 2.3-5.4 2-5.4 1.5-5.4 1.2-5.4 0.9-5.3 0.5-5.4 0.3-5.4-0.1-5.4-0.3-5.4-0.7-5.4-1-5.4-1.3-5.4-1.5-5.3-1.9-5.4-2.3-5.4-2.5-5.4-2.8-5.4-3.1-5.4-3.5-5.4-3.7-5.4-4.1-5.3-4.4-5.4-4.6-5.4-5-5.4-5.3-5.4-5.6-5.4-5.9-5.4-6.3-5.4-6.5-5.3-6.8-5.4-7.2-1.8-2.4ZM563.3 400.6l2.3 3.9M568.7 407.9l2.3 3.8M574.1 414.7l2.2 3.8M579.5 421.3l2.2 3.7M584.9 427.6l2.2 3.7M590.4 433.5l2.1 3.7M595.8 439.2l2.1 3.6M601.2 444.5l2.1 3.6M606.6 449.5l2.1 3.6M612 454.2l2.1 3.5M617.4 458.6l2 3.5M622.8 462.7l2 3.5M628.2 466.4l2 3.5M633.6 469.9l2 3.5M639 473l2 3.5M644.4 475.8l2 3.5M649.8 478.3l2 3.5M655.2 480.5l2 3.6M660.6 482.4l1.9 3.6M666 484l1.9 3.5M671.4 485.2l1.9 3.6M676.8 486.2l1.9 3.6M682.3 486.8l1.8 3.7M687.7 487.1l1.8 3.7M693.1 487.1l1.8 3.8M698.5 486.8l1.8 3.8M703.9 486.2l1.7 3.9M709.3 485.2l1.7 4M714.7 484l1.7 4M720.1 482.4l1.7 4.1M725.5 480.3l1.7 4.2M730.9 477.9l1.7 4.3M736.3 475.1l1.7 4.4M741.7 471.9l1.7 4.5M747.1 468.2l1.7 4.6M752.5 464.2l1.6 4.7M757.9 459.8l1.6 4.8M763.3 455l1.6 4.9M768.8 449.8l1.5 5"/>
<path d="M390.3 494.4l5.4 1 5.4 0.8 5.4 0.6 5.4 0.4 5.5 0.2 5.4 0 5.4-0.2 5.4-0.4 5.4-0.6 5.4-0.8 5.4-1 5.4-1.3 5.4-1.4 5.4-1.8 5.4-1.9 5.4-2.3 5.4-2.6 5.4-2.9 5.4-3.1 5.4-3.6 5.5-3.9 5.4-4.4 5.4-4.7 5.4-5.3 5.4-5.8 5.4-6.4 5.4-6.9 5.4-7.7 5.4-8.4 5.4-9.2 5.4-10 2.3-4.5 3.6 5.8-3.6 7.1-5.4 9.7-5.4 8.9-5.4 8.1-5.4 7.5-5.4 6.8-5.3 6.2-5.4 5.6-5.4 5.1-5.4 4.7-5.4 4.2-5.4 3.9-5.4 3.5-5.4 3.1-5.3 2.8-5.4 2.6-5.4 2.2-5.4 2-5.4 1.7-5.4 1.4-5.4 1.2-5.4 1-5.3 0.8-5.4 0.6-5.4 0.4-5.4 0.2-5.4 0-5.4-0.2-5.4-0.4-5.4-0.6-5.3-0.8-5.4-1ZM395.7 495.4l2.9 6M401.1 496.2l2.8 6M406.5 496.8l2.8 6M411.9 497.2l2.8 6M417.4 497.4l2.7 6M422.8 497.4l2.7 6M428.2 497.2l2.7 6M433.6 496.8l2.7 6M439 496.2l2.7 6M444.4 495.4l2.6 6M449.8 494.4l2.6 6M455.2 493.1l2.6 6.1M460.6 491.7l2.6 6.1M466 489.9l2.6 6.2M471.4 488l2.6 6.1M476.8 485.7l2.6 6.2M482.2 483.1l2.6 6.2M487.6 480.2l2.5 6.3M493 477.1l2.5 6.3M498.4 473.5l2.5 6.4M503.9 469.6l2.4 6.4M509.3 465.2l2.4 6.6M514.7 460.5l2.4 6.6M520.1 455.2l2.4 6.8M525.5 449.4l2.4 7M530.9 443l2.3 7.2M536.3 436.1l2.3 7.3M541.7 428.4l2.3 7.5M547.1 420l2.3 7.8M552.5 410.8l2.3 8.1M557.9 400.8l2.3 8.4"/>
<path d="M563.8 402.1l1.8 2.4 5.4 7.2 5.3 6.8 5.4 6.5 5.4 6.3 5.4 5.9 5.4 5.6 5.4 5.3 5.4 5 5.4 4.6 5.3 4.4 5.4 4.1 5.4 3.7 5.4 3.5 5.4 3.1 5.4 2.8 5.4 2.5 5.4 2.3 5.3 1.9 5.4 1.5 5.4 1.3 5.4 1 5.4 0.7 5.4 0.3 5.4 0.1 5.4-0.3 5.3-0.5 5.4-0.9 5.4-1.2 5.4-1.5 5.4-2 5.4-2.3 5.4-2.7 5.4-3.1 5.4-3.6 5.3-3.9 5.4-4.3 5.4-4.7 5.4-5.1 2.7-2.6 2.8 3.4-4 3.9-5.3 5-5.4 4.6-5.4 4.2-5.3 3.8-5.4 3.4-5.4 3-5.3 2.6-5.4 2.2-5.4 1.9-5.4 1.4-5.3 1.2-5.4 0.8-5.4 0.5-5.3 0.2-5.4-0.1-5.4-0.4-5.3-0.7-5.4-1-5.4-1.3-5.3-1.6-5.4-1.9-5.4-2.3-5.4-2.5-5.3-2.8-5.4-3.1-5.4-3.4-5.3-3.8-5.4-4-5.4-4.3-5.3-4.7-5.4-4.9-5.4-5.3-5.3-5.5-5.4-5.9-5.4-6.1-5.4-6.5-5.3-6.7-5.4-7.1-0.4-0.5ZM565.6 404.5l2.2 3.9M571 411.7l2.2 3.8M576.3 418.5l2.2 3.7M581.7 425l2.2 3.7M587.1 431.3l2.2 3.5M592.5 437.2l2.2 3.5M597.9 442.8l2.1 3.4M603.3 448.1l2.1 3.4M608.7 453.1l2.1 3.3M614.1 457.7l2 3.4M619.4 462.1l2.1 3.3M624.8 466.2l2.1 3.2M630.2 469.9l2 3.3M635.6 473.4l2 3.2M641 476.5l2 3.2M646.4 479.3l1.9 3.2M651.8 481.8l1.9 3.2M657.2 484.1l1.9 3.2M662.5 486l2 3.2M667.9 487.5l1.9 3.3M673.3 488.8l1.9 3.3M678.7 489.8l1.9 3.3M684.1 490.5l1.8 3.3M689.5 490.8l1.8 3.4M694.9 490.9l1.8 3.4M700.3 490.6l1.7 3.5M705.6 490.1l1.8 3.5M711 489.2l1.8 3.6M716.4 488l1.7 3.6M721.8 486.5l1.7 3.7M727.2 484.5l1.7 3.8M732.6 482.2l1.7 3.9M738 479.5l1.6 4M743.4 476.4l1.6 4.1M748.8 472.8l1.6 4.3M754.1 468.9l1.6 4.4M759.5 464.6l1.6 4.5M764.9 459.9l1.6 4.6M770.3 454.8l1.5 4.7"/>
<path d="M393.2 500.4l5.4 1 5.3 0.8 5.4 0.6 5.4 0.4 5.4 0.2 5.4 0 5.4-0.2 5.4-0.4 5.4-0.6 5.3-0.8 5.4-1 5.4-1.2 5.4-1.4 5.4-1.7 5.4-2 5.4-2.2 5.4-2.6 5.3-2.8 5.4-3.1 5.4-3.5 5.4-3.9 5.4-4.2 5.4-4.7 5.4-5.1 5.4-5.6 5.3-6.2 5.4-6.8 5.4-7.5 5.4-8.1 5.4-8.9 5.4-9.7 3.6-7.1 3.6 5.8-5 9.5-5.3 9.3-5.4 8.6-5.4 7.9-5.3 7.1-5.4 6.6-5.4 6-5.3 5.5-5.4 4.9-5.4 4.6-5.4 4.1-5.3 3.7-5.4 3.4-5.4 3.1-5.3 2.8-5.4 2.4-5.4 2.2-5.3 1.9-5.4 1.7-5.4 1.4-5.3 1.2-5.4 1-5.4 0.8-5.4 0.6-5.3 0.4-5.4 0.2-5.4 0-5.3-0.2-5.4-0.4-5.4-0.6-5.3-0.8-5.4-1ZM398.6 501.4l2.8 5.4M403.9 502.2l2.8 5.4M409.3 502.8l2.8 5.4M414.7 503.2l2.8 5.4M420.1 503.4l2.7 5.4M425.5 503.4l2.7 5.4M430.9 503.2l2.7 5.4M436.3 502.8l2.6 5.4M441.7 502.2l2.6 5.4M447 501.4l2.7 5.4M452.4 500.4l2.7 5.4M457.8 499.2l2.6 5.4M463.2 497.8l2.6 5.4M468.6 496.1l2.6 5.4M474 494.1l2.5 5.5M479.4 491.9l2.5 5.5M484.8 489.3l2.5 5.7M490.1 486.5l2.5 5.7M495.5 483.4l2.5 5.7M500.9 479.9l2.5 5.8M506.3 476l2.4 6M511.7 471.8l2.4 6.1M517.1 467.1l2.4 6.2M522.5 462l2.4 6.4M527.9 456.4l2.3 6.5M533.2 450.2l2.4 6.7M538.6 443.4l2.4 6.9M544 435.9l2.3 7.3M549.4 427.8l2.3 7.5M554.8 418.9l2.3 7.8M560.2 409.2l2.2 8.2"/>
<path d="M567.4 407.9l0.4 0.5 5.4 7.1 5.3 6.7 5.4 6.5 5.4 6.1 5.4 5.9 5.3 5.5 5.4 5.3 5.4 4.9 5.3 4.7 5.4 4.3 5.4 4 5.3 3.8 5.4 3.4 5.4 3.1 5.3 2.8 5.4 2.5 5.4 2.3 5.4 1.9 5.3 1.6 5.4 1.3 5.4 1 5.3 0.7 5.4 0.4 5.4 0.1 5.3-0.2 5.4-0.5 5.4-0.8 5.3-1.2 5.4-1.4 5.4-1.9 5.4-2.2 5.3-2.6 5.4-3 5.4-3.4 5.3-3.8 5.4-4.2 5.4-4.6 5.3-5 4-3.9 2.8 3.1-5.2 5.1-5.4 4.8-5.3 4.5-5.4 4.1-5.3 3.7-5.4 3.3-5.3 2.9-5.4 2.5-5.3 2.1-5.4 1.8-5.3 1.4-5.4 1-5.3 0.8-5.4 0.5-5.3 0.1-5.4-0.1-5.3-0.4-5.4-0.8-5.3-1-5.4-1.3-5.3-1.6-5.4-1.9-5.3-2.2-5.4-2.5-5.3-2.8-5.4-3.1-5.4-3.4-5.3-3.7-5.4-4-5.3-4.3-5.4-4.6-5.3-4.9-5.4-5.1-5.3-5.5-5.4-5.8-5.3-6.1-5.4-6.3-5.3-6.7-4.3-5.6ZM567.8 408.4l0.6 1M573.2 415.5l2.2 3.7M578.5 422.2l2.2 3.7M583.9 428.7l2.2 3.5M589.3 434.8l2.1 3.5M594.7 440.7l2.1 3.4M600 446.2l2.1 3.4M605.4 451.5l2.1 3.2M610.8 456.4l2 3.2M616.1 461.1l2.1 3.1M621.5 465.4l2 3.1M626.9 469.4l2 3.1M632.2 473.2l2 3M637.6 476.6l2 3M643 479.7l2 3M648.3 482.5l2 3M653.7 485l2 3M659.1 487.3l1.9 2.9M664.5 489.2l1.9 2.9M669.8 490.8l1.9 2.9M675.2 492.1l1.9 2.9M680.6 493.1l1.8 2.9M685.9 493.8l1.9 3M691.3 494.2l1.8 3M696.7 494.3l1.8 3M702 494.1l1.8 3.1M707.4 493.6l1.8 3.1M712.8 492.8l1.7 3.1M718.1 491.6l1.8 3.3M723.5 490.2l1.7 3.3M728.9 488.3l1.7 3.4M734.3 486.1l1.6 3.5M739.6 483.5l1.7 3.6M745 480.5l1.6 3.7M750.4 477.1l1.6 3.8M755.7 473.3l1.6 3.9M761.1 469.1l1.6 4M766.5 464.5l1.5 4.1M771.8 459.5l1.6 4.3"/>
<path d="M396 505.8l5.4 1 5.3 0.8 5.4 0.6 5.4 0.4 5.3 0.2 5.4 0 5.4-0.2 5.3-0.4 5.4-0.6 5.4-0.8 5.4-1 5.3-1.2 5.4-1.4 5.4-1.7 5.3-1.9 5.4-2.2 5.4-2.4 5.3-2.8 5.4-3.1 5.4-3.4 5.3-3.7 5.4-4.1 5.4-4.6 5.4-4.9 5.3-5.5 5.4-6 5.4-6.6 5.3-7.1 5.4-7.9 5.4-8.6 5.3-9.3 5-9.5 3.7 5.7-1.1 1.9-5.3 9.8-5.4 9-5.3 8.2-5.4 7.6-5.3 6.9-5.4 6.3-5.3 5.8-5.4 5.2-5.3 4.8-5.4 4.4-5.3 4-5.4 3.7-5.3 3.2-5.4 3-5.3 2.7-5.4 2.4-5.3 2.1-5.4 1.9-5.3 1.7-5.4 1.4-5.3 1.2-5.4 1-5.3 0.8-5.4 0.6-5.3 0.4-5.4 0.2-5.3 0-5.4-0.2-5.3-0.4-5.4-0.6-5.3-0.8-5.4-1ZM401.4 506.8l2.8 5M406.7 507.6l2.8 5M412.1 508.2l2.8 5M417.5 508.6l2.7 5M422.8 508.8l2.8 5M428.2 508.8l2.7 5M433.6 508.6l2.7 5M438.9 508.2l2.7 5M444.3 507.6l2.7 5M449.7 506.8l2.6 5M455.1 505.8l2.6 5M460.4 504.6l2.6 5M465.8 503.2l2.6 5M471.2 501.5l2.5 5M476.5 499.6l2.6 5M481.9 497.4l2.5 5.1M487.3 495l2.5 5.1M492.6 492.2l2.5 5.2M498 489.1l2.5 5.3M503.4 485.7l2.4 5.5M508.7 482l2.5 5.5M514.1 477.9l2.4 5.6M519.5 473.3l2.4 5.8M524.9 468.4l2.3 5.9M530.2 462.9l2.4 6.2M535.6 456.9l2.3 6.4M541 450.3l2.3 6.7M546.3 443.2l2.3 6.9M551.7 435.3l2.3 7.2M557.1 426.7l2.2 7.6M562.4 417.4l2.3 7.9M570 415.5l-1.6-6.1"/>
<path d="M571.1 413.6l4.3 5.6 5.3 6.7 5.4 6.3 5.3 6.1 5.4 5.8 5.3 5.5 5.4 5.1 5.3 4.9 5.4 4.6 5.3 4.3 5.4 4 5.3 3.7 5.4 3.4 5.4 3.1 5.3 2.8 5.4 2.5 5.3 2.2 5.4 1.9 5.3 1.6 5.4 1.3 5.3 1 5.4 0.8 5.3 0.4 5.4 0.1 5.3-0.1 5.4-0.5 5.3-0.8 5.4-1 5.3-1.4 5.4-1.8 5.3-2.1 5.4-2.5 5.3-2.9 5.4-3.3 5.3-3.7 5.4-4.1 5.3-4.5 5.4-4.8 5.2-5.1 2.8 2.7-1.2 1.2-5.3 5.1-5.3 4.7-5.4 4.3-5.3 4-5.3 3.6-5.4 3.2-5.3 2.8-5.3 2.4-5.4 2.1-5.3 1.7-5.3 1.3-5.4 1-5.3 0.7-5.3 0.4-5.4 0.1-5.3-0.2-5.3-0.4-5.4-0.7-5.3-1.1-5.3-1.3-5.4-1.6-5.3-1.9-5.3-2.2-5.4-2.5-5.3-2.8-5.3-3-5.4-3.4-5.3-3.6-5.3-3.9-5.4-4.3-5.3-4.5-5.3-4.8-5.3-5.1-5.4-5.3-5.3-5.7-5.3-6-5.4-6.2-5.3-6.6-3-3.7ZM575.4 419.2l2.2 3.7M580.7 425.9l2.2 3.6M586.1 432.2l2.2 3.5M591.4 438.3l2.2 3.4M596.8 444.1l2.1 3.3M602.1 449.6l2.2 3.1M607.5 454.7l2.1 3.1M612.8 459.6l2.1 3M618.2 464.2l2 2.9M623.5 468.5l2.1 2.9M628.9 472.5l2 2.8M634.2 476.2l2 2.7M639.6 479.6l2 2.7M645 482.7l1.9 2.6M650.3 485.5l1.9 2.6M655.7 488l1.9 2.6M661 490.2l1.9 2.6M666.4 492.1l1.8 2.6M671.7 493.7l1.9 2.6M677.1 495l1.8 2.6M682.4 496l1.8 2.7M687.8 496.8l1.8 2.6M693.1 497.2l1.8 2.6M698.5 497.3l1.7 2.7M703.8 497.2l1.8 2.7M709.2 496.7l1.7 2.8M714.5 495.9l1.7 2.9M719.9 494.9l1.7 2.9M725.2 493.5l1.7 3M730.6 491.7l1.6 3.1M735.9 489.6l1.7 3.1M741.3 487.1l1.6 3.2M746.6 484.2l1.6 3.3M752 480.9l1.6 3.4M757.3 477.2l1.6 3.5M762.7 473.1l1.5 3.6M768 468.6l1.6 3.8M773.4 463.8l1.5 3.9M780.2 462.6l-1.3-3.7"/>
<path d="M398.8 510.8l5.4 1 5.3 0.8 5.4 0.6 5.3 0.4 5.4 0.2 5.3 0 5.4-0.2 5.3-0.4 5.4-0.6 5.3-0.8 5.4-1 5.3-1.2 5.4-1.4 5.3-1.7 5.4-1.9 5.3-2.1 5.4-2.4 5.3-2.7 5.4-3 5.3-3.2 5.4-3.7 5.3-4 5.4-4.4 5.3-4.8 5.4-5.2 5.3-5.8 5.4-6.3 5.3-6.9 5.4-7.6 5.3-8.2 5.4-9 5.3-9.8 1.1-1.9 3.5 5.6-2.3 4.4-5.4 9.4-5.3 8.5-5.3 7.9-5.4 7.3-5.3 6.6-5.3 6-5.4 5.6-5.3 5-5.3 4.7-5.4 4.2-5.3 3.9-5.3 3.5-5.4 3.1-5.3 2.9-5.3 2.6-5.4 2.4-5.3 2.1-5.3 1.8-5.4 1.6-5.3 1.4-5.3 1.2-5.4 1-5.3 0.8-5.3 0.6-5.4 0.3-5.3 0.2-5.3 0-5.4-0.2-5.3-0.4-5.3-0.6-5.4-0.8-5.3-0.9ZM404.2 511.8l2.7 4.4M409.5 512.6l2.8 4.4M414.9 513.2l2.7 4.4M420.2 513.6l2.7 4.4M425.6 513.8l2.7 4.4M430.9 513.8l2.7 4.4M436.3 513.6l2.6 4.4M441.6 513.2l2.7 4.5M447 512.6l2.6 4.5M452.3 511.8l2.6 4.5M457.7 510.8l2.6 4.5M463 509.6l2.6 4.5M468.4 508.2l2.5 4.5M473.7 506.5l2.6 4.6M479.1 504.6l2.5 4.7M484.4 502.5l2.5 4.7M489.8 500.1l2.5 4.7M495.1 497.4l2.5 4.8M500.5 494.4l2.4 4.9M505.8 491.2l2.5 5M511.2 487.5l2.4 5.2M516.5 483.5l2.4 5.3M521.9 479.1l2.4 5.5M527.2 474.3l2.4 5.6M532.6 469.1l2.3 5.8M537.9 463.3l2.4 6M543.3 457l2.3 6.3M548.6 450.1l2.3 6.6M554 442.5l2.3 6.9M559.3 434.3l2.3 7.2M564.7 425.3l2.2 7.7M570 415.5l2.3 8.1"/>
<path d="M574.6 419.2l3 3.7 5.3 6.6 5.4 6.2 5.3 6 5.3 5.7 5.4 5.3 5.3 5.1 5.3 4.8 5.3 4.5 5.4 4.3 5.3 3.9 5.3 3.6 5.4 3.4 5.3 3 5.3 2.8 5.4 2.5 5.3 2.2 5.3 1.9 5.4 1.6 5.3 1.3 5.3 1.1 5.4 0.7 5.3 0.4 5.3 0.2 5.4-0.1 5.3-0.4 5.3-0.7 5.4-1 5.3-1.3 5.3-1.7 5.4-2.1 5.3-2.4 5.3-2.8 5.4-3.2 5.3-3.6 5.3-4 5.4-4.3 5.3-4.7 5.3-5.1 1.2-1.2 2.8 2.4-2.5 2.4-5.3 5-5.3 4.6-5.3 4.3-5.3 3.8-5.3 3.5-5.4 3.1-5.3 2.7-5.3 2.3-5.3 2-5.3 1.6-5.3 1.2-5.3 0.9-5.4 0.7-5.3 0.4-5.3 0.1-5.3-0.2-5.3-0.5-5.3-0.7-5.3-1.1-5.4-1.3-5.3-1.6-5.3-1.9-5.3-2.1-5.3-2.5-5.3-2.7-5.4-3-5.3-3.3-5.3-3.6-5.3-3.9-5.3-4.1-5.3-4.4-5.3-4.7-5.4-5-5.3-5.3-5.3-5.6-5.3-5.8-5.3-6.1-5.3-6.4-1.6-2ZM577.6 422.9l2.2 3.7M582.9 429.5l2.2 3.5M588.3 435.7l2.1 3.4M593.6 441.7l2.1 3.2M598.9 447.4l2.1 3.1M604.3 452.7l2 3.1M609.6 457.8l2.1 3M614.9 462.6l2.1 2.9M620.2 467.1l2.1 2.8M625.6 471.4l2 2.6M630.9 475.3l2 2.6M636.2 478.9l2 2.6M641.6 482.3l1.9 2.5M646.9 485.3l2 2.5M652.2 488.1l2 2.4M657.6 490.6l1.9 2.4M662.9 492.8l1.9 2.3M668.2 494.7l1.9 2.3M673.6 496.3l1.8 2.3M678.9 497.6l1.9 2.3M684.2 498.7l1.9 2.3M689.6 499.4l1.8 2.3M694.9 499.8l1.8 2.4M700.2 500l1.8 2.4M705.6 499.9l1.7 2.4M710.9 499.5l1.7 2.4M716.2 498.8l1.8 2.4M721.6 497.8l1.7 2.5M726.9 496.5l1.7 2.6M732.2 494.8l1.7 2.7M737.6 492.7l1.6 2.8M742.9 490.3l1.6 2.9M748.2 487.5l1.6 3M753.6 484.3l1.6 3.1M758.9 480.7l1.6 3.2M764.2 476.7l1.6 3.4M769.6 472.4l1.5 3.4M774.9 467.7l1.5 3.5M780.2 462.6l1.5 3.6"/>
<path d="M401.6 515.3l5.3 0.9 5.4 0.8 5.3 0.6 5.3 0.4 5.4 0.2 5.3 0 5.3-0.2 5.4-0.3 5.3-0.6 5.3-0.8 5.4-1 5.3-1.2 5.3-1.4 5.4-1.6 5.3-1.8 5.3-2.1 5.4-2.4 5.3-2.6 5.3-2.9 5.4-3.1 5.3-3.5 5.3-3.9 5.4-4.2 5.3-4.7 5.3-5 5.4-5.6 5.3-6 5.3-6.6 5.4-7.3 5.3-7.9 5.3-8.5 5.4-9.4 2.3-4.4 3.6 5.4-3.7 6.8-5.4 8.9-5.3 8.2-5.3 7.5-5.3 6.9-5.3 6.3-5.3 5.8-5.3 5.3-5.4 4.9-5.3 4.4-5.3 4.1-5.3 3.7-5.3 3.4-5.3 3.1-5.3 2.7-5.4 2.6-5.3 2.2-5.3 2.1-5.3 1.8-5.3 1.6-5.3 1.3-5.3 1.2-5.4 1-5.3 0.8-5.3 0.5-5.3 0.4-5.3 0.2-5.3 0-5.3-0.2-5.4-0.4-5.3-0.6-5.3-0.8-5.3-0.9ZM406.9 516.2l2.8 4.1M412.3 517l2.7 4.1M417.6 517.6l2.7 4.1M422.9 518l2.8 4.1M428.3 518.2l2.7 4.1M433.6 518.2l2.7 4.1M438.9 518l2.7 4.1M444.3 517.7l2.6 4M449.6 517.1l2.6 4.1M454.9 516.3l2.6 4.1M460.3 515.3l2.6 4.1M465.6 514.1l2.6 4.1M470.9 512.7l2.6 4.2M476.3 511.1l2.5 4.2M481.6 509.3l2.5 4.2M486.9 507.2l2.5 4.2M492.3 504.8l2.4 4.4M497.6 502.2l2.5 4.4M502.9 499.3l2.5 4.6M508.3 496.2l2.4 4.6M513.6 492.7l2.4 4.7M518.9 488.8l2.4 4.9M524.3 484.6l2.3 5M529.6 479.9l2.3 5.3M534.9 474.9l2.4 5.4M540.3 469.3l2.3 5.7M545.6 463.3l2.3 5.9M550.9 456.7l2.3 6.2M556.3 449.4l2.2 6.6M561.6 441.5l2.2 7M566.9 433l2.2 7.3M572.3 423.6l2.2 7.8"/>
<path d="M578.2 424.6l1.6 2 5.3 6.4 5.3 6.1 5.3 5.8 5.3 5.6 5.3 5.3 5.4 5 5.3 4.7 5.3 4.4 5.3 4.1 5.3 3.9 5.3 3.6 5.3 3.3 5.4 3 5.3 2.7 5.3 2.5 5.3 2.1 5.3 1.9 5.3 1.6 5.4 1.3 5.3 1.1 5.3 0.7 5.3 0.5 5.3 0.2 5.3-0.1 5.3-0.4 5.4-0.7 5.3-0.9 5.3-1.2 5.3-1.6 5.3-2 5.3-2.3 5.3-2.7 5.4-3.1 5.3-3.5 5.3-3.8 5.3-4.3 5.3-4.6 5.3-5 2.5-2.4 2.8 2.1-3.8 3.6-5.3 4.9-5.3 4.5-5.3 4.1-5.3 3.8-5.3 3.3-5.3 3-5.3 2.7-5.3 2.2-5.2 1.9-5.3 1.5-5.3 1.1-5.3 0.9-5.3 0.6-5.3 0.4-5.3 0.1-5.3-0.3-5.3-0.4-5.3-0.8-5.3-1-5.3-1.3-5.3-1.6-5.3-1.9-5.3-2.1-5.3-2.4-5.3-2.7-5.3-2.9-5.3-3.3-5.3-3.5-5.3-3.8-5.3-4-5.3-4.3-5.3-4.6-5.3-4.9-5.3-5.2-5.3-5.4-5.3-5.7-5.3-6-5.2-6.2-0.2-0.3ZM579.8 426.6l2.2 3.6M585.1 433l2.1 3.4M590.4 439.1l2.1 3.3M595.7 444.9l2.1 3.2M601 450.5l2.1 3M606.3 455.8l2.1 2.9M611.7 460.8l2 2.8M617 465.5l2 2.7M622.3 469.9l2 2.6M627.6 474l2 2.5M632.9 477.9l2 2.4M638.2 481.5l2 2.3M643.5 484.8l2 2.3M648.9 487.8l1.9 2.2M654.2 490.5l1.9 2.2M659.5 493l1.9 2.1M664.8 495.1l1.9 2.1M670.1 497l1.9 2.1M675.4 498.6l1.9 2.1M680.8 499.9l1.8 2.1M686.1 501l1.8 2M691.4 501.7l1.8 2.1M696.7 502.2l1.8 2M702 502.4l1.8 2.1M707.3 502.3l1.8 2.1M712.6 501.9l1.8 2.1M718 501.2l1.7 2.2M723.3 500.3l1.7 2.2M728.6 499.1l1.7 2.3M733.9 497.5l1.7 2.4M739.2 495.5l1.6 2.5M744.5 493.2l1.6 2.6M749.8 490.5l1.6 2.6M755.2 487.4l1.5 2.7M760.5 483.9l1.5 2.9M765.8 480.1l1.5 2.9M771.1 475.8l1.5 3.1M776.4 471.2l1.5 3.2M781.7 466.2l1.5 3.3"/>
<path d="M404.4 519.4l5.3 0.9 5.3 0.8 5.3 0.6 5.4 0.4 5.3 0.2 5.3 0 5.3-0.2 5.3-0.4 5.3-0.5 5.3-0.8 5.4-1 5.3-1.2 5.3-1.3 5.3-1.6 5.3-1.8 5.3-2.1 5.3-2.2 5.4-2.6 5.3-2.7 5.3-3.1 5.3-3.4 5.3-3.7 5.3-4.1 5.3-4.4 5.4-4.9 5.3-5.3 5.3-5.8 5.3-6.3 5.3-6.9 5.3-7.5 5.3-8.2 5.4-8.9 3.7-6.8 3.6 5.3-5.1 8.9-5.3 8.5-5.3 7.8-5.3 7.1-5.3 6.6-5.3 6.1-5.3 5.5-5.3 5.1-5.3 4.6-5.3 4.3-5.3 3.9-5.3 3.5-5.3 3.3-5.3 2.9-5.3 2.7-5.3 2.4-5.3 2.3-5.3 1.9-5.3 1.8-5.3 1.6-5.3 1.3-5.3 1.2-5.3 0.9-5.3 0.8-5.3 0.6-5.3 0.4-5.3 0.1-5.3 0-5.2-0.2-5.3-0.3-5.3-0.6-5.3-0.8-5.3-1ZM409.7 520.3l2.8 3.8M415 521.1l2.8 3.8M420.3 521.7l2.8 3.8M425.7 522.1l2.7 3.7M431 522.3l2.6 3.7M436.3 522.3l2.6 3.7M441.6 522.1l2.6 3.8M446.9 521.7l2.6 3.8M452.2 521.2l2.6 3.7M457.5 520.4l2.6 3.7M462.9 519.4l2.5 3.8M468.2 518.2l2.5 3.8M473.5 516.9l2.5 3.8M478.8 515.3l2.5 3.8M484.1 513.5l2.5 3.8M489.4 511.4l2.5 4M494.7 509.2l2.5 3.9M500.1 506.6l2.4 4.1M505.4 503.9l2.4 4.1M510.7 500.8l2.4 4.3M516 497.4l2.4 4.4M521.3 493.7l2.4 4.6M526.6 489.6l2.4 4.8M531.9 485.2l2.4 4.9M537.3 480.3l2.3 5.2M542.6 475l2.3 5.4M547.9 469.2l2.3 5.7M553.2 462.9l2.3 5.9M558.5 456l2.3 6.2M563.8 448.5l2.3 6.6M569.1 440.3l2.3 7M574.5 431.4l2.2 7.4"/>
<path d="M581.8 429.9l0.2 0.3 5.2 6.2 5.3 6 5.3 5.7 5.3 5.4 5.3 5.2 5.3 4.9 5.3 4.6 5.3 4.3 5.3 4 5.3 3.8 5.3 3.5 5.3 3.3 5.3 2.9 5.3 2.7 5.3 2.4 5.3 2.1 5.3 1.9 5.3 1.6 5.3 1.3 5.3 1 5.3 0.8 5.3 0.4 5.3 0.3 5.3-0.1 5.3-0.4 5.3-0.6 5.3-0.9 5.3-1.1 5.3-1.5 5.2-1.9 5.3-2.2 5.3-2.7 5.3-3 5.3-3.3 5.3-3.8 5.3-4.1 5.3-4.5 5.3-4.9 3.8-3.6 2.7 1.8-5 4.8-5.3 4.8-5.3 4.4-5.2 4-5.3 3.6-5.3 3.3-5.3 2.9-5.2 2.5-5.3 2.2-5.3 1.8-5.3 1.4-5.3 1.1-5.2 0.8-5.3 0.6-5.3 0.3-5.3 0.1-5.3-0.3-5.2-0.5-5.3-0.7-5.3-1-5.3-1.3-5.2-1.6-5.3-1.8-5.3-2.1-5.3-2.4-5.3-2.6-5.2-2.9-5.3-3.1-5.3-3.5-5.3-3.6-5.3-4-5.2-4.2-5.3-4.5-5.3-4.8-5.3-5-5.2-5.3-5.3-5.5-5.3-5.9-4.1-4.7ZM582 430.2l0.3 0.5M587.2 436.4l2.2 3.3M592.5 442.4l2.2 3.2M597.8 448.1l2.2 3M603.1 453.5l2.1 2.9M608.4 458.7l2.1 2.7M613.7 463.6l2.1 2.6M619 468.2l2.1 2.5M624.3 472.5l2 2.4M629.6 476.5l2 2.4M634.9 480.3l2 2.2M640.2 483.8l2 2.2M645.5 487.1l2 2M650.8 490l1.9 2M656.1 492.7l1.9 1.9M661.4 495.1l1.9 1.9M666.7 497.2l1.9 1.9M672 499.1l1.9 1.8M677.3 500.7l1.8 1.8M682.6 502l1.8 1.8M687.9 503l1.8 1.8M693.2 503.8l1.8 1.7M698.5 504.2l1.7 1.8M703.8 504.5l1.7 1.8M709.1 504.4l1.7 1.8M714.4 504l1.7 1.9M719.7 503.4l1.7 1.9M725 502.5l1.6 2M730.3 501.4l1.6 2M735.6 499.9l1.6 2.1M740.8 498l1.7 2.2M746.1 495.8l1.7 2.2M751.4 493.1l1.6 2.4M756.7 490.1l1.6 2.5M762 486.8l1.6 2.5M767.3 483l1.6 2.7M772.6 478.9l1.5 2.8M777.9 474.4l1.5 2.9M783.2 469.5l1.5 3"/>
<path d="M407.2 523.1l5.3 1 5.3 0.8 5.3 0.6 5.3 0.3 5.2 0.2 5.3 0 5.3-0.1 5.3-0.4 5.3-0.6 5.3-0.8 5.3-0.9 5.3-1.2 5.3-1.3 5.3-1.6 5.3-1.8 5.3-1.9 5.3-2.3 5.3-2.4 5.3-2.7 5.3-2.9 5.3-3.3 5.3-3.5 5.3-3.9 5.3-4.3 5.3-4.6 5.3-5.1 5.3-5.5 5.3-6.1 5.3-6.6 5.3-7.1 5.3-7.8 5.3-8.5 5.1-8.9 3.5 5.1-1.2 2-5.3 8.8-5.2 8.1-5.3 7.4-5.3 6.8-5.3 6.3-5.3 5.7-5.2 5.3-5.3 4.8-5.3 4.5-5.3 4-5.2 3.8-5.3 3.4-5.3 3.1-5.3 2.8-5.3 2.6-5.2 2.4-5.3 2.1-5.3 1.9-5.3 1.8-5.3 1.5-5.2 1.3-5.3 1.2-5.3 0.9-5.3 0.8-5.2 0.6-5.3 0.3-5.3 0.2-5.3 0-5.3-0.2-5.2-0.4-5.3-0.5-5.3-0.8-5.3-1ZM412.5 524.1l2.7 3.4M417.8 524.9l2.7 3.4M423.1 525.5l2.7 3.3M428.4 525.8l2.6 3.4M433.6 526l2.7 3.4M438.9 526l2.7 3.4M444.2 525.9l2.7 3.3M449.5 525.5l2.7 3.4M454.8 524.9l2.6 3.4M460.1 524.1l2.6 3.4M465.4 523.2l2.6 3.4M470.7 522l2.6 3.4M476 520.7l2.5 3.4M481.3 519.1l2.5 3.5M486.6 517.3l2.5 3.5M491.9 515.4l2.5 3.5M497.2 513.1l2.5 3.7M502.5 510.7l2.4 3.7M507.8 508l2.4 3.8M513.1 505.1l2.4 3.9M518.4 501.8l2.4 4.1M523.7 498.3l2.4 4.2M529 494.4l2.3 4.3M534.3 490.1l2.3 4.6M539.6 485.5l2.3 4.7M544.9 480.4l2.3 5M550.2 474.9l2.2 5.2M555.5 468.8l2.2 5.6M560.8 462.2l2.2 5.9M566.1 455.1l2.2 6.2M571.4 447.3l2.2 6.6M576.7 438.8l2.1 7M584.1 437l-1.8-6.3"/>
<path d="M585.3 435l4.1 4.7 5.3 5.9 5.3 5.5 5.2 5.3 5.3 5 5.3 4.8 5.3 4.5 5.2 4.2 5.3 4 5.3 3.6 5.3 3.5 5.3 3.1 5.2 2.9 5.3 2.6 5.3 2.4 5.3 2.1 5.3 1.8 5.2 1.6 5.3 1.3 5.3 1 5.3 0.7 5.2 0.5 5.3 0.3 5.3-0.1 5.3-0.3 5.3-0.6 5.2-0.8 5.3-1.1 5.3-1.4 5.3-1.8 5.3-2.2 5.2-2.5 5.3-2.9 5.3-3.3 5.3-3.6 5.2-4 5.3-4.4 5.3-4.8 5-4.8 2.8 1.5-1.1 1.1-5.2 5-5.3 4.6-5.2 4.3-5.3 3.9-5.3 3.5-5.2 3.2-5.3 2.8-5.2 2.4-5.3 2.1-5.3 1.7-5.2 1.3-5.3 1.1-5.2 0.8-5.3 0.5-5.3 0.3-5.2 0-5.3-0.2-5.3-0.5-5.2-0.7-5.3-1.1-5.2-1.2-5.3-1.6-5.3-1.7-5.2-2.1-5.3-2.3-5.2-2.6-5.3-2.8-5.3-3.1-5.2-3.3-5.3-3.6-5.2-3.8-5.3-4.2-5.3-4.3-5.2-4.7-5.3-4.8-5.2-5.2-5.3-5.4-5.3-5.7-2.7-3ZM589.4 439.7l2.1 3.2M594.7 445.6l2.1 3M600 451.1l2.1 2.9M605.2 456.4l2.1 2.8M610.5 461.4l2.1 2.6M615.8 466.2l2 2.5M621.1 470.7l2 2.3M626.3 474.9l2.1 2.3M631.6 478.9l2 2.1M636.9 482.5l2 2.1M642.2 486l1.9 1.9M647.5 489.1l1.9 1.9M652.7 492l2 1.8M658 494.6l1.9 1.8M663.3 497l1.9 1.7M668.6 499.1l1.8 1.7M673.9 500.9l1.8 1.6M679.1 502.5l1.9 1.6M684.4 503.8l1.8 1.5M689.7 504.8l1.8 1.6M695 505.5l1.7 1.6M700.2 506l1.8 1.6M705.5 506.3l1.8 1.5M710.8 506.2l1.7 1.6M716.1 505.9l1.7 1.6M721.4 505.3l1.7 1.7M726.6 504.5l1.7 1.7M731.9 503.4l1.7 1.7M737.2 502l1.6 1.8M742.5 500.2l1.6 1.9M747.8 498l1.6 2M753 495.5l1.6 2.1M758.3 492.6l1.6 2.2M763.6 489.3l1.5 2.3M768.9 485.7l1.5 2.4M774.1 481.7l1.6 2.5M779.4 477.3l1.5 2.6M784.7 472.5l1.5 2.8M791.4 470.3l-1.1-2.3"/>
<path d="M409.9 526.5l5.3 1 5.3 0.8 5.3 0.5 5.2 0.4 5.3 0.2 5.3 0 5.3-0.2 5.3-0.3 5.2-0.6 5.3-0.8 5.3-0.9 5.3-1.2 5.2-1.3 5.3-1.5 5.3-1.8 5.3-1.9 5.3-2.1 5.2-2.4 5.3-2.6 5.3-2.8 5.3-3.1 5.3-3.4 5.2-3.8 5.3-4 5.3-4.5 5.3-4.8 5.2-5.3 5.3-5.7 5.3-6.3 5.3-6.8 5.3-7.4 5.2-8.1 5.3-8.8 1.2-2 3.5 4.9-2.5 4.2-5.3 8.4-5.2 7.6-5.3 7.1-5.3 6.4-5.2 6-5.3 5.5-5.3 5-5.2 4.6-5.3 4.2-5.2 3.9-5.3 3.6-5.3 3.2-5.2 3-5.3 2.7-5.2 2.5-5.3 2.3-5.3 2.1-5.2 1.9-5.3 1.6-5.2 1.5-5.3 1.4-5.3 1.1-5.2 0.9-5.3 0.8-5.2 0.6-5.3 0.3-5.3 0.2-5.2 0-5.3-0.2-5.2-0.4-5.3-0.5-5.3-0.8-5.2-1ZM415.2 527.5l2.7 3.1M420.5 528.3l2.7 3.1M425.8 528.8l2.7 3.1M431 529.2l2.7 3.1M436.3 529.4l2.7 3.1M441.6 529.4l2.6 3.1M446.9 529.2l2.6 3.1M452.2 528.9l2.6 3.1M457.4 528.3l2.6 3.1M462.7 527.5l2.6 3.1M468 526.6l2.5 3.1M473.3 525.4l2.5 3.2M478.5 524.1l2.6 3.1M483.8 522.6l2.5 3.1M489.1 520.8l2.5 3.3M494.4 518.9l2.4 3.3M499.7 516.8l2.4 3.3M504.9 514.4l2.5 3.4M510.2 511.8l2.4 3.5M515.5 509l2.4 3.6M520.8 505.9l2.3 3.7M526.1 502.5l2.3 3.9M531.3 498.7l2.4 4.1M536.6 494.7l2.3 4.2M541.9 490.2l2.3 4.5M547.2 485.4l2.2 4.7M552.4 480.1l2.3 5M557.7 474.4l2.3 5.2M563 468.1l2.2 5.5M568.3 461.3l2.2 5.9M573.6 453.9l2.2 6.2M578.8 445.8l2.2 6.7M584.1 437l2.2 7.1"/>
<path d="M588.8 439.9l2.7 3 5.3 5.7 5.3 5.4 5.2 5.2 5.3 4.8 5.2 4.7 5.3 4.3 5.3 4.2 5.2 3.8 5.3 3.6 5.2 3.3 5.3 3.1 5.3 2.8 5.2 2.6 5.3 2.3 5.2 2.1 5.3 1.7 5.3 1.6 5.2 1.2 5.3 1.1 5.2 0.7 5.3 0.5 5.3 0.2 5.2 0 5.3-0.3 5.3-0.5 5.2-0.8 5.3-1.1 5.2-1.3 5.3-1.7 5.3-2.1 5.2-2.4 5.3-2.8 5.2-3.2 5.3-3.5 5.3-3.9 5.2-4.3 5.3-4.6 5.2-5 1.1-1.1 2.7 1.4-2.3 2.3-5.3 4.9-5.2 4.5-5.2 4.2-5.3 3.8-5.2 3.4-5.3 3.1-5.2 2.7-5.3 2.3-5.2 2-5.2 1.6-5.3 1.3-5.2 1-5.3 0.8-5.2 0.5-5.3 0.2-5.2 0-5.2-0.2-5.3-0.5-5.2-0.8-5.3-0.9-5.2-1.3-5.3-1.5-5.2-1.7-5.2-2-5.3-2.3-5.2-2.5-5.3-2.7-5.2-3-5.3-3.3-5.2-3.5-5.2-3.7-5.3-4-5.2-4.3-5.3-4.5-5.2-4.7-5.3-5-5.2-5.3-5.2-5.5-1.4-1.5ZM591.5 442.9l2.2 3.1M596.8 448.6l2.1 2.9M602.1 454l2 2.8M607.3 459.2l2.1 2.6M612.6 464l2 2.5M617.8 468.7l2.1 2.3M623.1 473l2 2.3M628.4 477.2l2 2.1M633.6 481l2 2M638.9 484.6l1.9 1.9M644.1 487.9l2 1.9M649.4 491l1.9 1.8M654.7 493.8l1.9 1.7M659.9 496.4l1.9 1.6M665.2 498.7l1.9 1.6M670.4 500.8l1.9 1.5M675.7 502.5l1.8 1.5M681 504.1l1.8 1.4M686.2 505.3l1.8 1.5M691.5 506.4l1.8 1.3M696.7 507.1l1.8 1.4M702 507.6l1.8 1.4M707.3 507.8l1.7 1.4M712.5 507.8l1.7 1.4M717.8 507.5l1.7 1.5M723.1 507l1.6 1.5M728.3 506.2l1.7 1.5M733.6 505.1l1.6 1.6M738.8 503.8l1.7 1.6M744.1 502.1l1.6 1.7M749.4 500l1.5 1.8M754.6 497.6l1.6 1.9M759.9 494.8l1.5 2M765.1 491.6l1.6 2.1M770.4 488.1l1.5 2.2M775.7 484.2l1.5 2.3M780.9 479.9l1.5 2.4M786.2 475.3l1.4 2.5M791.4 470.3l1.5 2.6"/>
<path d="M412.7 529.6l5.2 1 5.3 0.8 5.3 0.5 5.2 0.4 5.3 0.2 5.2 0 5.3-0.2 5.3-0.3 5.2-0.6 5.3-0.8 5.2-0.9 5.3-1.1 5.3-1.4 5.2-1.5 5.3-1.6 5.2-1.9 5.3-2.1 5.3-2.3 5.2-2.5 5.3-2.7 5.2-3 5.3-3.2 5.3-3.6 5.2-3.9 5.3-4.2 5.2-4.6 5.3-5 5.3-5.5 5.2-6 5.3-6.4 5.3-7.1 5.2-7.6 5.3-8.4 2.5-4.2 3.5 4.6-3.9 6.3-5.2 7.9-5.3 7.3-5.2 6.6-5.3 6.2-5.2 5.7-5.2 5.1-5.3 4.8-5.2 4.4-5.3 4-5.2 3.7-5.3 3.4-5.2 3.2-5.2 2.8-5.3 2.6-5.2 2.5-5.3 2.2-5.2 2-5.3 1.8-5.2 1.6-5.2 1.5-5.3 1.3-5.2 1.1-5.3 1-5.2 0.7-5.3 0.6-5.2 0.3-5.2 0.2-5.3 0-5.2-0.2-5.3-0.4-5.2-0.5-5.3-0.8-5.2-0.9ZM417.9 530.6l2.7 2.8M423.2 531.4l2.7 2.8M428.5 531.9l2.6 2.8M433.7 532.3l2.7 2.8M439 532.5l2.6 2.8M444.2 532.5l2.7 2.8M449.5 532.3l2.6 2.8M454.8 532l2.5 2.8M460 531.4l2.6 2.8M465.3 530.6l2.5 2.9M470.5 529.7l2.6 2.8M475.8 528.6l2.5 2.8M481.1 527.2l2.5 2.9M486.3 525.7l2.5 2.9M491.6 524.1l2.4 2.9M496.8 522.2l2.5 3M502.1 520.1l2.4 3.1M507.4 517.8l2.4 3.2M512.6 515.3l2.4 3.2M517.9 512.6l2.4 3.3M523.1 509.6l2.4 3.5M528.4 506.4l2.3 3.5M533.7 502.8l2.3 3.7M538.9 498.9l2.3 3.9M544.2 494.7l2.3 4.1M549.4 490.1l2.3 4.3M554.7 485.1l2.3 4.5M560 479.6l2.2 4.9M565.2 473.6l2.2 5.2M570.5 467.2l2.2 5.4M575.8 460.1l2.1 5.9M581 452.5l2.2 6.2M586.3 444.1l2.1 6.7"/>
<path d="M592.3 444.5l1.4 1.5 5.2 5.5 5.2 5.3 5.3 5 5.2 4.7 5.3 4.5 5.2 4.3 5.3 4 5.2 3.7 5.2 3.5 5.3 3.3 5.2 3 5.3 2.7 5.2 2.5 5.3 2.3 5.2 2 5.2 1.7 5.3 1.5 5.2 1.3 5.3 0.9 5.2 0.8 5.3 0.5 5.2 0.2 5.2 0 5.3-0.2 5.2-0.5 5.3-0.8 5.2-1 5.3-1.3 5.2-1.6 5.2-2 5.3-2.3 5.2-2.7 5.3-3.1 5.2-3.4 5.3-3.8 5.2-4.2 5.2-4.5 5.3-4.9 2.3-2.3 2.7 1.3-3.6 3.5-5.2 4.8-5.2 4.4-5.2 4-5.3 3.7-5.2 3.4-5.2 2.9-5.2 2.6-5.3 2.3-5.2 1.9-5.2 1.5-5.2 1.2-5.3 1-5.2 0.7-5.2 0.5-5.2 0.2-5.3 0-5.2-0.2-5.2-0.5-5.2-0.8-5.3-0.9-5.2-1.3-5.2-1.4-5.2-1.7-5.3-2-5.2-2.2-5.2-2.4-5.2-2.7-5.3-2.9-5.2-3.2-5.2-3.4-5.2-3.6-5.3-3.9-5.2-4.1-5.2-4.4-5.2-4.6-5.3-4.9-5.2-5.1-5.2-5.3ZM593.7 446l2.1 3M598.9 451.5l2.1 2.8M604.1 456.8l2.1 2.6M609.4 461.8l2.1 2.5M614.6 466.5l2.1 2.4M619.9 471l2 2.3M625.1 475.3l2 2.1M630.4 479.3l2 2M635.6 483l2 1.9M640.8 486.5l2 1.8M646.1 489.8l1.9 1.7M651.3 492.8l2 1.6M656.6 495.5l1.9 1.6M661.8 498l1.9 1.5M667.1 500.3l1.8 1.4M672.3 502.3l1.9 1.4M677.5 504l1.9 1.4M682.8 505.5l1.8 1.3M688 506.8l1.8 1.3M693.3 507.7l1.8 1.3M698.5 508.5l1.8 1.3M703.8 509l1.7 1.3M709 509.2l1.7 1.3M714.2 509.2l1.8 1.3M719.5 509l1.7 1.3M724.7 508.5l1.7 1.3M730 507.7l1.6 1.4M735.2 506.7l1.7 1.4M740.5 505.4l1.6 1.5M745.7 503.8l1.6 1.6M750.9 501.8l1.6 1.7M756.2 499.5l1.6 1.7M761.4 496.8l1.6 1.8M766.7 493.7l1.5 2M771.9 490.3l1.5 2M777.2 486.5l1.5 2.1M782.4 482.3l1.5 2.3M787.6 477.8l1.5 2.4M792.9 472.9l1.4 2.5"/>
<path d="M415.4 532.5l5.2 0.9 5.3 0.8 5.2 0.5 5.3 0.4 5.2 0.2 5.3 0 5.2-0.2 5.2-0.3 5.3-0.6 5.2-0.7 5.3-1 5.2-1.1 5.3-1.3 5.2-1.5 5.2-1.6 5.3-1.8 5.2-2 5.3-2.2 5.2-2.5 5.3-2.6 5.2-2.8 5.2-3.2 5.3-3.4 5.2-3.7 5.3-4 5.2-4.4 5.3-4.8 5.2-5.1 5.2-5.7 5.3-6.2 5.2-6.6 5.3-7.3 5.2-7.9 3.9-6.3 3.5 4.5-5.2 8.1-5.3 7.5-5.2 6.9-5.2 6.3-5.3 5.8-5.2 5.4-5.2 4.9-5.2 4.6-5.3 4.1-5.2 3.9-5.2 3.5-5.2 3.3-5.3 2.9-5.2 2.8-5.2 2.5-5.2 2.3-5.3 2.1-5.2 2-5.2 1.8-5.2 1.6-5.3 1.4-5.2 1.3-5.2 1.1-5.2 1-5.3 0.7-5.2 0.5-5.2 0.4-5.2 0.2-5.3 0-5.2-0.2-5.2-0.4-5.2-0.6-5.3-0.7-5.2-1ZM420.6 533.4l2.7 2.6M425.9 534.2l2.7 2.5M431.1 534.7l2.7 2.6M436.4 535.1l2.6 2.6M441.6 535.3l2.6 2.6M446.9 535.3l2.6 2.6M452.1 535.1l2.6 2.6M457.3 534.8l2.6 2.5M462.6 534.2l2.5 2.6M467.8 533.5l2.6 2.6M473.1 532.5l2.5 2.6M478.3 531.4l2.5 2.6M483.6 530.1l2.4 2.6M488.8 528.6l2.5 2.7M494 527l2.5 2.7M499.3 525.2l2.4 2.7M504.5 523.2l2.4 2.7M509.8 521l2.4 2.8M515 518.5l2.4 3M520.3 515.9l2.3 3.1M525.5 513.1l2.3 3.1M530.7 509.9l2.4 3.4M536 506.5l2.3 3.5M541.2 502.8l2.3 3.7M546.5 498.8l2.2 3.8M551.7 494.4l2.3 4.1M557 489.6l2.2 4.3M562.2 484.5l2.2 4.5M567.4 478.8l2.2 4.8M572.7 472.6l2.2 5.2M577.9 466l2.2 5.5M583.2 458.7l2.1 5.9M588.4 450.8l2.2 6.3"/>
<path d="M595.8 449l5.2 5.3 5.2 5.1 5.3 4.9 5.2 4.6 5.2 4.4 5.2 4.1 5.3 3.9 5.2 3.6 5.2 3.4 5.2 3.2 5.3 2.9 5.2 2.7 5.2 2.4 5.2 2.2 5.3 2 5.2 1.7 5.2 1.4 5.2 1.3 5.3 0.9 5.2 0.8 5.2 0.5 5.2 0.2 5.3 0 5.2-0.2 5.2-0.5 5.2-0.7 5.3-1 5.2-1.2 5.2-1.5 5.2-1.9 5.3-2.3 5.2-2.6 5.2-2.9 5.2-3.4 5.3-3.7 5.2-4 5.2-4.4 5.2-4.8 3.6-3.5 2.7 1.2-4.8 4.7-5.2 4.6-5.2 4.3-5.3 4-5.2 3.6-5.2 3.2-5.2 2.9-5.2 2.5-5.2 2.2-5.2 1.8-5.2 1.4-5.2 1.2-5.2 0.9-5.2 0.7-5.2 0.4-5.2 0.2-5.3 0-5.2-0.2-5.2-0.5-5.2-0.7-5.2-1-5.2-1.2-5.2-1.4-5.2-1.7-5.2-1.9-5.2-2.1-5.2-2.4-5.2-2.6-5.2-2.8-5.2-3.1-5.3-3.3-5.2-3.5-5.2-3.8-5.2-4-5.2-4.3-5.2-4.4-5.2-4.8-5.2-4.9-3.9-3.8ZM601 454.3l2.1 2.8M606.2 459.4l2.1 2.6M611.5 464.3l2 2.5M616.7 468.9l2 2.3M621.9 473.3l2 2.2M627.1 477.4l2 2.1M632.4 481.3l1.9 2M637.6 484.9l1.9 1.9M642.8 488.3l2 1.8M648 491.5l2 1.7M653.3 494.4l1.9 1.6M658.5 497.1l1.9 1.5M663.7 499.5l1.9 1.5M668.9 501.7l1.9 1.4M674.2 503.7l1.8 1.3M679.4 505.4l1.8 1.3M684.6 506.8l1.8 1.3M689.8 508.1l1.8 1.2M695.1 509l1.7 1.3M700.3 509.8l1.7 1.2M705.5 510.3l1.7 1.2M710.7 510.5l1.7 1.2M716 510.5l1.7 1.2M721.2 510.3l1.7 1.2M726.4 509.8l1.7 1.3M731.6 509.1l1.7 1.3M736.9 508.1l1.6 1.4M742.1 506.9l1.6 1.4M747.3 505.4l1.6 1.5M752.5 503.5l1.6 1.6M757.8 501.2l1.5 1.7M763 498.6l1.5 1.8M768.2 495.7l1.5 1.8M773.4 492.3l1.5 2M778.7 488.6l1.4 2.1M783.9 484.6l1.5 2.1M789.1 480.2l1.5 2.2M794.3 475.4l1.5 2.4"/>
<path d="M418.1 535l5.2 1 5.3 0.7 5.2 0.6 5.2 0.4 5.2 0.2 5.3 0 5.2-0.2 5.2-0.4 5.2-0.5 5.3-0.7 5.2-1 5.2-1.1 5.2-1.3 5.3-1.4 5.2-1.6 5.2-1.8 5.2-2 5.3-2.1 5.2-2.3 5.2-2.5 5.2-2.8 5.3-2.9 5.2-3.3 5.2-3.5 5.2-3.9 5.3-4.1 5.2-4.6 5.2-4.9 5.2-5.4 5.3-5.8 5.2-6.3 5.2-6.9 5.3-7.5 5.2-8.1 3.4 4.3-1.3 2.1-5.2 7.7-5.2 7-5.2 6.6-5.2 6-5.3 5.5-5.2 5.1-5.2 4.7-5.2 4.3-5.2 3.9-5.2 3.7-5.2 3.4-5.2 3.1-5.2 2.8-5.2 2.6-5.2 2.5-5.2 2.2-5.2 2-5.3 1.9-5.2 1.7-5.2 1.6-5.2 1.5-5.2 1.2-5.2 1.1-5.2 1-5.2 0.7-5.2 0.5-5.2 0.4-5.2 0.2-5.2 0-5.2-0.2-5.3-0.4-5.2-0.6-5.2-0.7-5.2-1ZM423.3 536l2.7 2.4M428.6 536.7l2.6 2.4M433.8 537.3l2.6 2.4M439 537.7l2.7 2.4M444.2 537.9l2.7 2.4M449.5 537.9l2.6 2.4M454.7 537.7l2.6 2.4M459.9 537.3l2.6 2.4M465.1 536.8l2.6 2.4M470.4 536.1l2.5 2.4M475.6 535.1l2.5 2.4M480.8 534l2.5 2.4M486 532.7l2.5 2.5M491.3 531.3l2.4 2.4M496.5 529.7l2.4 2.4M501.7 527.9l2.4 2.5M506.9 525.9l2.5 2.6M512.2 523.8l2.4 2.7M517.4 521.5l2.4 2.8M522.6 519l2.4 2.8M527.8 516.2l2.4 3M533.1 513.3l2.3 3.1M538.3 510l2.3 3.3M543.5 506.5l2.3 3.4M548.7 502.6l2.3 3.6M554 498.5l2.2 3.8M559.2 493.9l2.2 4.1M564.4 489l2.2 4.3M569.6 483.6l2.2 4.6M574.9 477.8l2.2 4.9M580.1 471.5l2.2 5.2M585.3 464.6l2.2 5.5M590.6 457.1l2.1 6M597.9 455.4l-2.1-6.4"/>
<path d="M599.2 453.3l3.9 3.8 5.2 4.9 5.2 4.8 5.2 4.4 5.2 4.3 5.2 4 5.2 3.8 5.2 3.5 5.3 3.3 5.2 3.1 5.2 2.8 5.2 2.6 5.2 2.4 5.2 2.1 5.2 1.9 5.2 1.7 5.2 1.4 5.2 1.2 5.2 1 5.2 0.7 5.2 0.5 5.2 0.2 5.3 0 5.2-0.2 5.2-0.4 5.2-0.7 5.2-0.9 5.2-1.2 5.2-1.4 5.2-1.8 5.2-2.2 5.2-2.5 5.2-2.9 5.2-3.2 5.2-3.6 5.3-4 5.2-4.3 5.2-4.6 4.8-4.7 2.7 1.2-0.9 0.9-5.2 4.9-5.2 4.5-5.2 4.2-5.2 3.9-5.2 3.5-5.1 3.1-5.2 2.8-5.2 2.4-5.2 2.1-5.2 1.7-5.2 1.4-5.2 1.1-5.2 0.9-5.2 0.6-5.2 0.4-5.2 0.2-5.1 0-5.2-0.3-5.2-0.4-5.2-0.7-5.2-1-5.2-1.1-5.2-1.4-5.2-1.7-5.2-1.8-5.2-2.1-5.1-2.3-5.2-2.5-5.2-2.7-5.2-3-5.2-3.2-5.2-3.5-5.2-3.6-5.2-3.9-5.2-4.1-5.2-4.4-5.1-4.5-5.2-4.8-2.5-2.4ZM603.1 457.1l2.1 2.8M608.3 462l2.1 2.7M613.5 466.8l2 2.4M618.7 471.2l2 2.4M623.9 475.5l2 2.2M629.1 479.5l2 2.1M634.3 483.3l2 1.9M639.5 486.8l2 1.9M644.8 490.1l1.9 1.8M650 493.2l1.9 1.7M655.2 496l1.9 1.6M660.4 498.6l1.9 1.5M665.6 501l1.8 1.4M670.8 503.1l1.8 1.4M676 505l1.8 1.3M681.2 506.7l1.8 1.3M686.4 508.1l1.8 1.3M691.6 509.3l1.8 1.2M696.8 510.3l1.8 1.2M702 511l1.8 1.2M707.2 511.5l1.8 1.1M712.4 511.7l1.8 1.2M717.7 511.7l1.6 1.2M722.9 511.5l1.6 1.2M728.1 511.1l1.6 1.2M733.3 510.4l1.6 1.3M738.5 509.5l1.6 1.3M743.7 508.3l1.6 1.4M748.9 506.9l1.6 1.4M754.1 505.1l1.6 1.5M759.3 502.9l1.6 1.6M764.5 500.4l1.6 1.7M769.7 497.5l1.6 1.8M774.9 494.3l1.5 1.9M780.1 490.7l1.5 2M785.4 486.7l1.4 2.1M790.6 482.4l1.4 2.2M795.8 477.8l1.4 2.3M802.4 475.2l-1-1.8"/>
<path d="M420.8 537.4l5.2 1 5.2 0.7 5.2 0.6 5.3 0.4 5.2 0.2 5.2 0 5.2-0.2 5.2-0.4 5.2-0.5 5.2-0.7 5.2-1 5.2-1.1 5.2-1.2 5.2-1.5 5.2-1.6 5.2-1.7 5.3-1.9 5.2-2 5.2-2.2 5.2-2.5 5.2-2.6 5.2-2.8 5.2-3.1 5.2-3.4 5.2-3.7 5.2-3.9 5.2-4.3 5.2-4.7 5.2-5.1 5.3-5.5 5.2-6 5.2-6.6 5.2-7 5.2-7.7 1.3-2.1 3.5 4.2-2.7 4-5.2 7.3-5.2 6.7-5.2 6.1-5.2 5.7-5.2 5.3-5.2 4.8-5.2 4.4-5.1 4.1-5.2 3.8-5.2 3.4-5.2 3.2-5.2 3-5.2 2.7-5.2 2.5-5.2 2.3-5.2 2.2-5.2 2-5.1 1.8-5.2 1.7-5.2 1.5-5.2 1.4-5.2 1.3-5.2 1.1-5.2 0.9-5.2 0.7-5.2 0.6-5.2 0.3-5.1 0.2-5.2 0-5.2-0.2-5.2-0.4-5.2-0.5-5.2-0.8-5.2-0.9ZM426 538.4l2.7 2.2M431.2 539.1l2.7 2.3M436.4 539.7l2.7 2.2M441.7 540.1l2.6 2.2M446.9 540.3l2.6 2.2M452.1 540.3l2.6 2.2M457.3 540.1l2.5 2.2M462.5 539.7l2.5 2.3M467.7 539.2l2.5 2.2M472.9 538.5l2.5 2.2M478.1 537.5l2.5 2.3M483.3 536.4l2.5 2.3M488.5 535.2l2.5 2.2M493.7 533.7l2.5 2.3M498.9 532.1l2.5 2.4M504.1 530.4l2.5 2.4M509.4 528.5l2.3 2.5M514.6 526.5l2.3 2.5M519.8 524.3l2.3 2.5M525 521.8l2.3 2.7M530.2 519.2l2.3 2.8M535.4 516.4l2.3 2.9M540.6 513.3l2.3 3M545.8 509.9l2.3 3.2M551 506.2l2.3 3.5M556.2 502.3l2.3 3.6M561.4 498l2.2 3.8M566.6 493.3l2.2 4.1M571.8 488.2l2.2 4.4M577.1 482.7l2.1 4.6M582.3 476.7l2.1 4.9M587.5 470.1l2.1 5.4M592.7 463.1l2.1 5.7M597.9 455.4l2.1 6.1"/>
<path d="M602.7 457.5l2.5 2.4 5.2 4.8 5.1 4.5 5.2 4.4 5.2 4.1 5.2 3.9 5.2 3.6 5.2 3.5 5.2 3.2 5.2 3 5.2 2.7 5.2 2.5 5.1 2.3 5.2 2.1 5.2 1.8 5.2 1.7 5.2 1.4 5.2 1.1 5.2 1 5.2 0.7 5.2 0.4 5.2 0.3 5.1 0 5.2-0.2 5.2-0.4 5.2-0.6 5.2-0.9 5.2-1.1 5.2-1.4 5.2-1.7 5.2-2.1 5.2-2.4 5.2-2.8 5.1-3.1 5.2-3.5 5.2-3.9 5.2-4.2 5.2-4.5 5.2-4.9 0.9-0.9 2.7 1.2-2.2 2.1-5.2 4.8-5.1 4.4-5.2 4.1-5.2 3.7-5.2 3.4-5.1 3.1-5.2 2.7-5.2 2.3-5.2 2-5.1 1.6-5.2 1.3-5.2 1.1-5.1 0.8-5.2 0.7-5.2 0.4-5.2 0.2-5.1-0.1-5.2-0.2-5.2-0.5-5.2-0.7-5.1-0.9-5.2-1.2-5.2-1.3-5.1-1.6-5.2-1.8-5.2-2-5.2-2.2-5.1-2.5-5.2-2.6-5.2-2.9-5.2-3.1-5.1-3.3-5.2-3.6-5.2-3.8-5.1-3.9-5.2-4.2-5.2-4.5-5.2-4.6-1.1-1.1ZM605.2 459.9l2 2.8M610.4 464.7l2 2.6M615.5 469.2l2.1 2.6M620.7 473.6l2.1 2.4M625.9 477.7l2 2.2M631.1 481.6l2 2.1M636.3 485.2l2 2.1M641.5 488.7l1.9 1.9M646.7 491.9l1.9 1.8M651.9 494.9l1.9 1.7M657.1 497.6l1.9 1.6M662.3 500.1l1.8 1.6M667.4 502.4l1.9 1.5M672.6 504.5l1.9 1.4M677.8 506.3l1.9 1.4M683 508l1.8 1.3M688.2 509.4l1.8 1.2M693.4 510.5l1.8 1.3M698.6 511.5l1.7 1.2M703.8 512.2l1.7 1.2M709 512.6l1.7 1.3M714.2 512.9l1.7 1.2M719.3 512.9l1.7 1.3M724.5 512.7l1.7 1.3M729.7 512.3l1.7 1.3M734.9 511.7l1.7 1.2M740.1 510.8l1.6 1.3M745.3 509.7l1.6 1.3M750.5 508.3l1.6 1.4M755.7 506.6l1.5 1.5M760.9 504.5l1.5 1.6M766.1 502.1l1.5 1.7M771.3 499.3l1.5 1.8M776.4 496.2l1.5 1.8M781.6 492.7l1.5 1.9M786.8 488.8l1.5 2.1M792 484.6l1.5 2.2M797.2 480.1l1.4 2.3M802.4 475.2l1.4 2.4"/>
<path d="M423.5 539.7l5.2 0.9 5.2 0.8 5.2 0.5 5.2 0.4 5.2 0.2 5.2 0 5.1-0.2 5.2-0.3 5.2-0.6 5.2-0.7 5.2-0.9 5.2-1.1 5.2-1.3 5.2-1.4 5.2-1.5 5.2-1.7 5.1-1.8 5.2-2 5.2-2.2 5.2-2.3 5.2-2.5 5.2-2.7 5.2-3 5.2-3.2 5.2-3.4 5.2-3.8 5.1-4.1 5.2-4.4 5.2-4.8 5.2-5.3 5.2-5.7 5.2-6.1 5.2-6.7 5.2-7.3 2.7-4 3.4 4.1-4 5.8-5.2 6.9-5.2 6.3-5.2 5.8-5.1 5.4-5.2 4.9-5.2 4.6-5.1 4.2-5.2 3.9-5.2 3.5-5.2 3.3-5.1 3.1-5.2 2.8-5.2 2.6-5.2 2.4-5.1 2.2-5.2 2.1-5.2 1.9-5.1 1.8-5.2 1.6-5.2 1.5-5.2 1.4-5.1 1.3-5.2 1-5.2 0.9-5.2 0.8-5.1 0.5-5.2 0.3-5.2 0.2-5.1 0-5.2-0.2-5.2-0.4-5.2-0.5-5.1-0.7-5.2-1ZM428.7 540.6l2.7 2.2M433.9 541.4l2.6 2.1M439.1 541.9l2.6 2.1M444.3 542.3l2.6 2.1M449.5 542.5l2.6 2.1M454.7 542.5l2.5 2.1M459.8 542.3l2.6 2.1M465 542l2.6 2.1M470.2 541.4l2.5 2.2M475.4 540.7l2.5 2.1M480.6 539.8l2.5 2.1M485.8 538.7l2.5 2.2M491 537.4l2.4 2.2M496.2 536l2.4 2.2M501.4 534.5l2.4 2.2M506.6 532.8l2.4 2.3M511.7 531l2.4 2.3M516.9 529l2.4 2.4M522.1 526.8l2.4 2.5M527.3 524.5l2.3 2.6M532.5 522l2.3 2.7M537.7 519.3l2.3 2.8M542.9 516.3l2.3 3M548.1 513.1l2.2 3.1M553.3 509.7l2.2 3.2M558.5 505.9l2.2 3.5M563.6 501.8l2.3 3.7M568.8 497.4l2.2 3.9M574 492.6l2.2 4.1M579.2 487.3l2.2 4.5M584.4 481.6l2.1 4.8M589.6 475.5l2.1 5.1M594.8 468.8l2.1 5.5M600 461.5l2.1 5.9"/>
<path d="M606.1 461.6l1.1 1.1 5.2 4.6 5.2 4.5 5.2 4.2 5.1 3.9 5.2 3.8 5.2 3.6 5.1 3.3 5.2 3.1 5.2 2.9 5.2 2.6 5.1 2.5 5.2 2.2 5.2 2 5.2 1.8 5.1 1.6 5.2 1.3 5.2 1.2 5.1 0.9 5.2 0.7 5.2 0.5 5.2 0.2 5.1 0.1 5.2-0.2 5.2-0.4 5.2-0.7 5.1-0.8 5.2-1.1 5.2-1.3 5.1-1.6 5.2-2 5.2-2.3 5.2-2.7 5.1-3.1 5.2-3.4 5.2-3.7 5.2-4.1 5.1-4.4 5.2-4.8 2.2-2.1 2.7 1.2-3.5 3.3-5.2 4.7-5.1 4.4-5.2 3.9-5.1 3.7-5.2 3.3-5.1 2.9-5.2 2.6-5.1 2.3-5.2 1.9-5.2 1.5-5.1 1.3-5.2 1-5.1 0.8-5.2 0.6-5.1 0.4-5.2 0.1-5.1 0-5.2-0.2-5.2-0.5-5.1-0.7-5.2-0.9-5.1-1.1-5.2-1.3-5.1-1.5-5.2-1.8-5.1-1.9-5.2-2.2-5.2-2.3-5.1-2.6-5.2-2.8-5.1-3-5.2-3.2-5.1-3.5-5.2-3.6-5.1-3.9-5.2-4-5.2-4.3-4.9-4.3ZM607.2 462.7l1.7 2.4M612.4 467.3l2 2.8M617.6 471.8l2 2.6M622.8 476l2 2.4M627.9 479.9l2 2.4M633.1 483.7l2 2.2M638.3 487.3l1.9 2.1M643.4 490.6l2 2M648.6 493.7l1.9 1.9M653.8 496.6l1.9 1.8M659 499.2l1.8 1.8M664.1 501.7l1.9 1.6M669.3 503.9l1.9 1.6M674.5 505.9l1.8 1.5M679.7 507.7l1.8 1.5M684.8 509.3l1.8 1.4M690 510.6l1.8 1.4M695.2 511.8l1.7 1.3M700.3 512.7l1.8 1.3M705.5 513.4l1.7 1.3M710.7 513.9l1.7 1.3M715.9 514.1l1.7 1.3M721 514.2l1.7 1.2M726.2 514l1.7 1.3M731.4 513.6l1.6 1.3M736.6 512.9l1.6 1.4M741.7 512.1l1.6 1.4M746.9 511l1.6 1.5M752.1 509.7l1.5 1.5M757.2 508.1l1.6 1.6M762.4 506.1l1.6 1.7M767.6 503.8l1.5 1.7M772.8 501.1l1.5 1.8M777.9 498l1.5 2M783.1 494.6l1.5 2.1M788.3 490.9l1.4 2.1M793.5 486.8l1.4 2.3M798.6 482.4l1.4 2.3M803.8 477.6l1.4 2.4"/>
<path d="M426.2 541.8l5.2 1 5.1 0.7 5.2 0.5 5.2 0.4 5.2 0.2 5.1 0 5.2-0.2 5.2-0.3 5.1-0.5 5.2-0.8 5.2-0.9 5.2-1 5.1-1.3 5.2-1.4 5.2-1.5 5.2-1.6 5.1-1.8 5.2-1.9 5.2-2.1 5.1-2.2 5.2-2.4 5.2-2.6 5.2-2.8 5.1-3.1 5.2-3.3 5.2-3.5 5.2-3.9 5.1-4.2 5.2-4.6 5.2-4.9 5.1-5.4 5.2-5.8 5.2-6.3 5.2-6.9 4-5.8 3.4 4.2-0.2 0.3-5.2 7-5.1 6.5-5.2 6-5.1 5.5-5.2 5-5.1 4.7-5.2 4.3-5.2 4-5.1 3.7-5.2 3.3-5.1 3.2-5.2 2.8-5.1 2.7-5.2 2.5-5.1 2.3-5.2 2.1-5.2 2-5.1 1.9-5.2 1.7-5.1 1.6-5.2 1.4-5.1 1.4-5.2 1.3-5.1 1-5.2 0.9-5.1 0.7-5.2 0.6-5.2 0.3-5.1 0.2-5.2 0-5.1-0.2-5.2-0.4-5.1-0.5-5.2-0.8-5.1-0.9ZM431.4 542.8l2.6 2M436.5 543.5l2.7 2.1M441.7 544l2.6 2.1M446.9 544.4l2.6 2.1M452.1 544.6l2.5 2.1M457.2 544.6l2.6 2.1M462.4 544.4l2.5 2.1M467.6 544.1l2.5 2.1M472.7 543.6l2.6 2M477.9 542.8l2.5 2.1M483.1 541.9l2.5 2.1M488.3 540.9l2.4 2.1M493.4 539.6l2.5 2.1M498.6 538.2l2.4 2.1M503.8 536.7l2.4 2.2M509 535.1l2.3 2.2M514.1 533.3l2.4 2.3M519.3 531.4l2.3 2.3M524.5 529.3l2.3 2.4M529.6 527.1l2.4 2.5M534.8 524.7l2.3 2.6M540 522.1l2.3 2.7M545.2 519.3l2.2 2.8M550.3 516.2l2.3 3.1M555.5 512.9l2.2 3.2M560.7 509.4l2.2 3.4M565.9 505.5l2.1 3.6M571 501.3l2.2 3.8M576.2 496.7l2.2 4.1M581.4 491.8l2.1 4.3M586.5 486.4l2.2 4.7M591.7 480.6l2.1 5M596.9 474.3l2.1 5.3M602.1 467.4l2 5.7M609.3 466.1l-0.4-1"/>
<path d="M609.5 465.8l4.9 4.3 5.2 4.3 5.2 4 5.1 3.9 5.2 3.6 5.1 3.5 5.2 3.2 5.1 3 5.2 2.8 5.1 2.6 5.2 2.3 5.2 2.2 5.1 1.9 5.2 1.8 5.1 1.5 5.2 1.3 5.1 1.1 5.2 0.9 5.1 0.7 5.2 0.5 5.2 0.2 5.1 0 5.2-0.1 5.1-0.4 5.2-0.6 5.1-0.8 5.2-1 5.1-1.3 5.2-1.5 5.2-1.9 5.1-2.3 5.2-2.6 5.1-2.9 5.2-3.3 5.1-3.7 5.2-3.9 5.1-4.4 5.2-4.7 3.5-3.3 2.6 1.4-4.7 4.5-5.2 4.5-5.1 4.3-5.1 3.8-5.2 3.6-5.1 3.2-5.1 2.8-5.2 2.5-5.1 2.2-5.2 1.8-5.1 1.5-5.1 1.2-5.2 1-5.1 0.8-5.1 0.5-5.2 0.4-5.1 0.2-5.2-0.1-5.1-0.2-5.1-0.5-5.2-0.6-5.1-0.9-5.2-1.1-5.1-1.2-5.1-1.5-5.2-1.7-5.1-1.9-5.1-2.1-5.2-2.3-5.1-2.5-5.2-2.7-5.1-2.9-5.1-3.1-5.2-3.3-5.1-3.5-5.1-3.7-5.2-4-5.1-4.1-3.6-3ZM614.4 470.1l2.1 2.9M619.6 474.4l2 2.7M624.8 478.4l2 2.7M629.9 482.3l2 2.5M635.1 485.9l1.9 2.4M640.2 489.4l2 2.2M645.4 492.6l1.9 2.1M650.5 495.6l1.9 2M655.7 498.4l1.9 1.9M660.8 501l1.9 1.8M666 503.3l1.9 1.8M671.2 505.5l1.8 1.7M676.3 507.4l1.8 1.7M681.5 509.2l1.8 1.6M686.6 510.7l1.8 1.6M691.8 512l1.7 1.5M696.9 513.1l1.8 1.5M702.1 514l1.7 1.5M707.2 514.7l1.8 1.4M712.4 515.2l1.7 1.4M717.6 515.4l1.6 1.4M722.7 515.4l1.7 1.5M727.9 515.3l1.6 1.4M733 514.9l1.7 1.4M738.2 514.3l1.6 1.5M743.3 513.5l1.6 1.5M748.5 512.5l1.6 1.5M753.6 511.2l1.6 1.6M758.8 509.7l1.5 1.6M764 507.8l1.5 1.7M769.1 505.5l1.5 1.8M774.3 502.9l1.5 1.9M779.4 500l1.5 2M784.6 496.7l1.4 2.1M789.7 493l1.5 2.2M794.9 489.1l1.4 2.3M800 484.7l1.4 2.4M805.2 480l1.4 2.6"/>
<path d="M428.9 543.9l5.1 0.9 5.2 0.8 5.1 0.5 5.2 0.4 5.1 0.2 5.2 0 5.1-0.2 5.2-0.3 5.2-0.6 5.1-0.7 5.2-0.9 5.1-1 5.2-1.3 5.1-1.4 5.2-1.4 5.1-1.6 5.2-1.7 5.1-1.9 5.2-2 5.2-2.1 5.1-2.3 5.2-2.5 5.1-2.7 5.2-2.8 5.1-3.2 5.2-3.3 5.1-3.7 5.2-4 5.2-4.3 5.1-4.7 5.2-5 5.1-5.5 5.2-6 5.1-6.5 5.2-7 0.2-0.3 3.4 4.2-1.6 2.1-5.1 6.6-5.1 6.1-5.2 5.7-5.1 5.1-5.2 4.8-5.1 4.4-5.1 4.1-5.2 3.7-5.1 3.5-5.1 3.2-5.2 2.9-5.1 2.8-5.2 2.5-5.1 2.4-5.1 2.2-5.2 2-5.1 1.9-5.1 1.8-5.2 1.7-5.1 1.5-5.2 1.5-5.1 1.3-5.1 1.2-5.2 1.1-5.1 0.9-5.2 0.7-5.1 0.5-5.1 0.3-5.2 0.2-5.1 0-5.1-0.2-5.2-0.4-5.1-0.5-5.2-0.7-5.1-0.9ZM434 544.8l2.6 2.1M439.2 545.6l2.6 2M444.3 546.1l2.6 2M449.5 546.5l2.6 2M454.6 546.7l2.6 2M459.8 546.7l2.5 2M464.9 546.5l2.6 2M470.1 546.2l2.5 2M475.3 545.6l2.4 2.1M480.4 544.9l2.5 2.1M485.6 544l2.4 2.1M490.7 543l2.5 2M495.9 541.7l2.4 2.1M501 540.3l2.4 2.2M506.2 538.9l2.4 2.1M511.3 537.3l2.4 2.2M516.5 535.6l2.4 2.2M521.6 533.7l2.4 2.3M526.8 531.7l2.3 2.4M532 529.6l2.3 2.5M537.1 527.3l2.3 2.6M542.3 524.8l2.2 2.7M547.4 522.1l2.3 2.9M552.6 519.3l2.2 2.9M557.7 516.1l2.3 3.2M562.9 512.8l2.2 3.3M568 509.1l2.2 3.5M573.2 505.1l2.2 3.8M578.4 500.8l2.1 4M583.5 496.1l2.1 4.3M588.7 491.1l2.1 4.5M593.8 485.6l2.1 4.9M599 479.6l2.1 5.2M604.1 473.1l2.1 5.6M609.3 466.1l2 6"/>
<path d="M612.9 470l3.6 3 5.1 4.1 5.2 4 5.1 3.7 5.1 3.5 5.2 3.3 5.1 3.1 5.1 2.9 5.2 2.7 5.1 2.5 5.2 2.3 5.1 2.1 5.1 1.9 5.2 1.7 5.1 1.5 5.1 1.2 5.2 1.1 5.1 0.9 5.2 0.6 5.1 0.5 5.1 0.2 5.2 0.1 5.1-0.2 5.2-0.4 5.1-0.5 5.1-0.8 5.2-1 5.1-1.2 5.1-1.5 5.2-1.8 5.1-2.2 5.2-2.5 5.1-2.8 5.1-3.2 5.2-3.6 5.1-3.8 5.1-4.3 5.2-4.5 4.7-4.5 2.6 1.5-0.8 0.8-5.1 4.8-5.2 4.4-5.1 4.2-5.1 3.7-5.1 3.5-5.1 3.1-5.2 2.7-5.1 2.5-5.1 2.1-5.1 1.7-5.1 1.4-5.2 1.1-5.1 1-5.1 0.7-5.1 0.6-5.1 0.3-5.2 0.2-5.1-0.1-5.1-0.2-5.1-0.4-5.1-0.7-5.2-0.8-5.1-1-5.1-1.3-5.1-1.4-5.2-1.6-5.1-1.8-5.1-2-5.1-2.2-5.1-2.4-5.2-2.7-5.1-2.8-5.1-3-5.1-3.2-5.1-3.3-5.2-3.6-5.1-3.8-5.1-4-2.2-1.8ZM616.5 473l2 3.1M621.6 477.1l2 3M626.8 481.1l1.9 2.8M631.9 484.8l2 2.7M637 488.3l2 2.5M642.2 491.6l1.9 2.4M647.3 494.7l1.9 2.3M652.4 497.6l1.9 2.2M657.6 500.3l1.9 2.2M662.7 502.8l1.9 2.1M667.9 505.1l1.8 2M673 507.2l1.8 1.9M678.1 509.1l1.8 1.8M683.3 510.8l1.8 1.7M688.4 512.3l1.8 1.6M693.5 513.5l1.8 1.7M698.7 514.6l1.7 1.6M703.8 515.5l1.8 1.5M709 516.1l1.7 1.6M714.1 516.6l1.7 1.5M719.2 516.8l1.7 1.5M724.4 516.9l1.6 1.5M729.5 516.7l1.7 1.5M734.7 516.3l1.6 1.6M739.8 515.8l1.6 1.5M744.9 515l1.6 1.6M750.1 514l1.5 1.6M755.2 512.8l1.6 1.7M760.3 511.3l1.6 1.8M765.5 509.5l1.5 1.9M770.6 507.3l1.5 2M775.8 504.8l1.4 2M780.9 502l1.5 2.1M786 498.8l1.5 2.2M791.2 495.2l1.4 2.3M796.3 491.4l1.4 2.4M801.4 487.1l1.4 2.5M806.6 482.6l1.4 2.6M813.1 480.4l-0.9-1.8"/>
<path d="M431.5 546l5.1 0.9 5.2 0.7 5.1 0.5 5.2 0.4 5.1 0.2 5.1 0 5.2-0.2 5.1-0.3 5.1-0.5 5.2-0.7 5.1-0.9 5.2-1.1 5.1-1.2 5.1-1.3 5.2-1.5 5.1-1.5 5.2-1.7 5.1-1.8 5.1-1.9 5.2-2 5.1-2.2 5.1-2.4 5.2-2.5 5.1-2.8 5.2-2.9 5.1-3.2 5.1-3.5 5.2-3.7 5.1-4.1 5.1-4.4 5.2-4.8 5.1-5.1 5.2-5.7 5.1-6.1 5.1-6.6 1.6-2.1 3.4 4.3-2.9 3.8-5.1 6.2-5.2 5.7-5.1 5.3-5.1 4.9-5.1 4.5-5.2 4.1-5.1 3.8-5.1 3.5-5.1 3.3-5.1 3-5.2 2.8-5.1 2.6-5.1 2.4-5.1 2.2-5.1 2.1-5.2 2-5.1 1.8-5.1 1.7-5.1 1.6-5.1 1.6-5.2 1.4-5.1 1.3-5.1 1.2-5.1 1.1-5.1 0.9-5.2 0.6-5.1 0.6-5.1 0.3-5.1 0.2-5.2 0-5.1-0.2-5.1-0.4-5.1-0.5-5.1-0.8-5.2-0.8ZM436.6 546.9l2.7 2M441.8 547.6l2.6 2.1M446.9 548.1l2.6 2.1M452.1 548.5l2.5 2.1M457.2 548.7l2.5 2.1M462.3 548.7l2.6 2.1M467.5 548.5l2.5 2.1M472.6 548.2l2.5 2.1M477.7 547.7l2.5 2M482.9 547l2.5 2.1M488 546.1l2.5 2.1M493.2 545l2.4 2.1M498.3 543.8l2.4 2.1M503.4 542.5l2.4 2.1M508.6 541l2.4 2.2M513.7 539.5l2.4 2.1M518.9 537.8l2.3 2.2M524 536l2.3 2.3M529.1 534.1l2.3 2.4M534.3 532.1l2.3 2.4M539.4 529.9l2.3 2.5M544.5 527.5l2.3 2.7M549.7 525l2.2 2.8M554.8 522.2l2.2 3M560 519.3l2.2 3.1M565.1 516.1l2.2 3.3M570.2 512.6l2.2 3.5M575.4 508.9l2.1 3.7M580.5 504.8l2.1 4M585.6 500.4l2.2 4.3M590.8 495.6l2.1 4.6M595.9 490.5l2.1 4.8M601.1 484.8l2 5.2M606.2 478.7l2.1 5.6M611.3 472.1l2.1 6"/>
<path d="M616.3 474.3l2.2 1.8 5.1 4 5.1 3.8 5.2 3.6 5.1 3.3 5.1 3.2 5.1 3 5.1 2.8 5.2 2.7 5.1 2.4 5.1 2.2 5.1 2 5.1 1.8 5.2 1.6 5.1 1.4 5.1 1.3 5.1 1 5.2 0.8 5.1 0.7 5.1 0.4 5.1 0.2 5.1 0.1 5.2-0.2 5.1-0.3 5.1-0.6 5.1-0.7 5.1-1 5.2-1.1 5.1-1.4 5.1-1.7 5.1-2.1 5.1-2.5 5.2-2.7 5.1-3.1 5.1-3.5 5.1-3.7 5.1-4.2 5.2-4.4 5.1-4.8 0.8-0.8 2.7 1.5-2.1 2.1-5.2 4.7-5.1 4.3-5.1 4-5.1 3.7-5.1 3.4-5.1 3-5.1 2.6-5.1 2.4-5.1 2-5.1 1.6-5.1 1.4-5.1 1.1-5.1 0.9-5.1 0.7-5.1 0.5-5.1 0.4-5.1 0.1-5.1 0-5.1-0.2-5.1-0.5-5.1-0.6-5.1-0.8-5.1-0.9-5.1-1.2-5.1-1.4-5.1-1.6-5.2-1.7-5.1-1.9-5.1-2.2-5.1-2.3-5.1-2.5-5.1-2.7-5.1-2.9-5.1-3-5.1-3.3-5.1-3.5-5.1-3.6-5.1-3.8-0.9-0.7ZM618.5 476.1l2 3.3M623.6 480.1l2 3.1M628.7 483.9l2 2.9M633.9 487.5l1.9 2.8M639 490.8l1.9 2.8M644.1 494l1.9 2.6M649.2 497l1.9 2.5M654.3 499.8l1.9 2.4M659.5 502.5l1.8 2.2M664.6 504.9l1.8 2.1M669.7 507.1l1.8 2.1M674.8 509.1l1.8 2M679.9 510.9l1.9 1.9M685.1 512.5l1.8 1.9M690.2 513.9l1.8 1.9M695.3 515.2l1.8 1.8M700.4 516.2l1.8 1.7M705.6 517l1.7 1.7M710.7 517.7l1.7 1.6M715.8 518.1l1.7 1.7M720.9 518.3l1.7 1.7M726 518.4l1.7 1.6M731.2 518.2l1.6 1.7M736.3 517.9l1.6 1.6M741.4 517.3l1.6 1.7M746.5 516.6l1.6 1.7M751.6 515.6l1.6 1.8M756.8 514.5l1.5 1.8M761.9 513.1l1.5 1.8M767 511.4l1.5 1.9M772.1 509.3l1.5 2M777.2 506.8l1.5 2.1M782.4 504.1l1.4 2.2M787.5 501l1.4 2.3M792.6 497.5l1.4 2.4M797.7 493.8l1.4 2.4M802.8 489.6l1.4 2.6M808 485.2l1.3 2.7M813.1 480.4l1.4 2.8"/>
<path d="M434.1 548.1l5.2 0.8 5.1 0.8 5.1 0.5 5.1 0.4 5.1 0.2 5.2 0 5.1-0.2 5.1-0.3 5.1-0.6 5.2-0.6 5.1-0.9 5.1-1.1 5.1-1.2 5.1-1.3 5.2-1.4 5.1-1.6 5.1-1.6 5.1-1.7 5.1-1.8 5.2-2 5.1-2.1 5.1-2.2 5.1-2.4 5.1-2.6 5.2-2.8 5.1-3 5.1-3.3 5.1-3.5 5.1-3.8 5.2-4.1 5.1-4.5 5.1-4.9 5.1-5.3 5.2-5.7 5.1-6.2 2.9-3.8 3.3 4.4-4.2 5.2-5.1 5.9-5.1 5.3-5.1 5-5.1 4.6-5.1 4.2-5.1 3.9-5.1 3.5-5.1 3.4-5.1 3-5.1 2.9-5.1 2.6-5.1 2.4-5.1 2.3-5.2 2.2-5.1 1.9-5.1 1.9-5.1 1.8-5.1 1.6-5.1 1.6-5.1 1.5-5.1 1.4-5.1 1.3-5.1 1.2-5.1 1-5.1 0.9-5.1 0.7-5.1 0.5-5.1 0.3-5.1 0.2-5.1 0-5.1-0.2-5.1-0.4-5.1-0.5-5.1-0.7-5.1-0.9ZM439.3 548.9l2.6 2.2M444.4 549.7l2.6 2.1M449.5 550.2l2.6 2.1M454.6 550.6l2.6 2.1M459.7 550.8l2.6 2.1M464.9 550.8l2.5 2.1M470 550.6l2.5 2.1M475.1 550.3l2.5 2.1M480.2 549.7l2.5 2.2M485.4 549.1l2.4 2.1M490.5 548.2l2.4 2.1M495.6 547.1l2.4 2.2M500.7 545.9l2.4 2.2M505.8 544.6l2.4 2.2M511 543.2l2.3 2.2M516.1 541.6l2.3 2.3M521.2 540l2.3 2.3M526.3 538.3l2.3 2.4M531.4 536.5l2.3 2.4M536.6 534.5l2.2 2.5M541.7 532.4l2.2 2.7M546.8 530.2l2.3 2.7M551.9 527.8l2.3 2.8M557 525.2l2.3 3M562.2 522.4l2.2 3.2M567.3 519.4l2.2 3.3M572.4 516.1l2.2 3.6M577.5 512.6l2.2 3.7M582.6 508.8l2.2 4M587.8 504.7l2.1 4.2M592.9 500.2l2.1 4.5M598 495.3l2.1 4.8M603.1 490l2.1 5.1M608.3 484.3l2 5.5M613.4 478.1l2 5.8"/>
<path d="M619.6 478.7l0.9 0.7 5.1 3.8 5.1 3.6 5.1 3.5 5.1 3.3 5.1 3 5.1 2.9 5.1 2.7 5.1 2.5 5.1 2.3 5.1 2.2 5.1 1.9 5.2 1.7 5.1 1.6 5.1 1.4 5.1 1.2 5.1 0.9 5.1 0.8 5.1 0.6 5.1 0.5 5.1 0.2 5.1 0 5.1-0.1 5.1-0.4 5.1-0.5 5.1-0.7 5.1-0.9 5.1-1.1 5.1-1.4 5.1-1.6 5.1-2 5.1-2.4 5.1-2.6 5.1-3 5.1-3.4 5.1-3.7 5.1-4 5.1-4.3 5.2-4.7 2.1-2.1 2.6 1.7-3.4 3.2-5.1 4.6-5.1 4.3-5.1 3.9-5 3.6-5.1 3.2-5.1 2.9-5.1 2.6-5.1 2.3-5.1 1.9-5.1 1.6-5.1 1.2-5 1.1-5.1 0.9-5.1 0.7-5.1 0.5-5.1 0.3-5.1 0.2-5.1-0.1-5-0.2-5.1-0.4-5.1-0.6-5.1-0.7-5.1-1-5.1-1.1-5.1-1.3-5.1-1.5-5-1.7-5.1-1.8-5.1-2.1-5.1-2.2-5.1-2.4-5.1-2.6-5.1-2.8-5-2.9-5.1-3.1-5.1-3.4-5.1-3.5-4.6-3.3ZM620.5 479.4l1.3 2.1M625.6 483.2l2 3.2M630.7 486.8l2 3.1M635.8 490.3l2 3M640.9 493.6l2 2.8M646 496.6l1.9 2.7M651.1 499.5l1.9 2.6M656.2 502.2l1.9 2.5M661.3 504.7l1.9 2.4M666.4 507l1.9 2.3M671.5 509.2l1.9 2.2M676.6 511.1l1.9 2.1M681.8 512.8l1.7 2.1M686.9 514.4l1.7 2M692 515.8l1.7 1.9M697.1 517l1.7 1.8M702.2 517.9l1.7 1.9M707.3 518.7l1.7 1.8M712.4 519.3l1.7 1.8M717.5 519.8l1.7 1.7M722.6 520l1.6 1.7M727.7 520l1.6 1.8M732.8 519.9l1.6 1.7M737.9 519.5l1.6 1.8M743 519l1.6 1.8M748.1 518.3l1.6 1.8M753.2 517.4l1.6 1.8M758.3 516.3l1.5 1.8M763.4 514.9l1.5 2M768.5 513.3l1.5 2M773.6 511.3l1.5 2.1M778.7 508.9l1.5 2.2M783.8 506.3l1.5 2.2M788.9 503.3l1.5 2.3M794 499.9l1.5 2.5M799.1 496.2l1.4 2.6M804.2 492.2l1.4 2.7M809.3 487.9l1.4 2.7M814.5 483.2l1.3 2.8"/>
<path d="M436.8 550.2l5.1 0.9 5.1 0.7 5.1 0.5 5.1 0.4 5.1 0.2 5.1 0 5.1-0.2 5.1-0.3 5.1-0.5 5.1-0.7 5.1-0.9 5.1-1 5.1-1.2 5.1-1.3 5.1-1.4 5.1-1.5 5.1-1.6 5.1-1.6 5.1-1.8 5.1-1.9 5.1-1.9 5.2-2.2 5.1-2.3 5.1-2.4 5.1-2.6 5.1-2.9 5.1-3 5.1-3.4 5.1-3.5 5.1-3.9 5.1-4.2 5.1-4.6 5.1-5 5.1-5.3 5.1-5.9 4.2-5.2 3.4 4.4-0.5 0.6-5.1 5.9-5.1 5.5-5.1 5.1-5 4.6-5.1 4.3-5.1 4-5.1 3.6-5.1 3.4-5.1 3.1-5.1 2.9-5.1 2.7-5 2.4-5.1 2.4-5.1 2.1-5.1 2-5.1 1.9-5.1 1.8-5.1 1.7-5 1.6-5.1 1.5-5.1 1.5-5.1 1.3-5.1 1.3-5.1 1.2-5.1 1.1-5.1 0.8-5 0.7-5.1 0.5-5.1 0.4-5.1 0.1-5.1 0-5.1-0.2-5.1-0.3-5.1-0.6-5-0.7-5.1-0.9ZM441.9 551.1l2.6 2.2M447 551.8l2.5 2.2M452.1 552.3l2.5 2.3M457.2 552.7l2.5 2.2M462.3 552.9l2.5 2.2M467.4 552.9l2.5 2.2M472.5 552.7l2.5 2.3M477.6 552.4l2.5 2.2M482.7 551.9l2.5 2.2M487.8 551.2l2.4 2.2M492.9 550.3l2.4 2.3M498 549.3l2.4 2.2M503.1 548.1l2.4 2.2M508.2 546.8l2.4 2.2M513.3 545.4l2.4 2.3M518.4 543.9l2.4 2.3M523.5 542.3l2.4 2.4M528.6 540.7l2.3 2.4M533.7 538.9l2.3 2.5M538.8 537l2.3 2.6M543.9 535.1l2.3 2.6M549.1 532.9l2.2 2.8M554.2 530.6l2.2 3M559.3 528.2l2.2 3M564.4 525.6l2.1 3.2M569.5 522.7l2.1 3.4M574.6 519.7l2.1 3.5M579.7 516.3l2.1 3.8M584.8 512.8l2.1 3.9M589.9 508.9l2.1 4.2M595 504.7l2.1 4.4M600.1 500.1l2.1 4.7M605.2 495.1l2 5.1M610.3 489.8l2 5.3M615.4 483.9l2 5.7M622.5 483.7l-0.7-2.2"/>
<path d="M623 483.1l4.6 3.3 5.1 3.5 5.1 3.4 5.1 3.1 5 2.9 5.1 2.8 5.1 2.6 5.1 2.4 5.1 2.2 5.1 2.1 5.1 1.8 5 1.7 5.1 1.5 5.1 1.3 5.1 1.1 5.1 1 5.1 0.7 5.1 0.6 5.1 0.4 5 0.2 5.1 0.1 5.1-0.2 5.1-0.3 5.1-0.5 5.1-0.7 5.1-0.9 5-1.1 5.1-1.2 5.1-1.6 5.1-1.9 5.1-2.3 5.1-2.6 5.1-2.9 5.1-3.2 5-3.6 5.1-3.9 5.1-4.3 5.1-4.6 3.4-3.2 2.6 1.8-4.6 4.3-5.1 4.5-5.1 4.1-5.1 3.9-5 3.4-5.1 3.2-5.1 2.8-5 2.5-5.1 2.2-5.1 1.8-5 1.5-5.1 1.2-5.1 1.1-5.1 0.8-5 0.7-5.1 0.5-5.1 0.3-5 0.2-5.1 0-5.1-0.2-5-0.4-5.1-0.6-5.1-0.7-5.1-0.9-5-1.1-5.1-1.2-5.1-1.5-5-1.6-5.1-1.7-5.1-2-5-2.1-5.1-2.3-5.1-2.5-5.1-2.7-5-2.8-5.1-3-5.1-3.2-5-3.4-3.3-2.2ZM627.6 486.4l2 3.3M632.7 489.9l1.9 3.2M637.8 493.3l1.9 3M642.9 496.4l1.9 2.9M647.9 499.3l1.9 2.8M653 502.1l1.9 2.7M658.1 504.7l1.9 2.6M663.2 507.1l1.9 2.5M668.3 509.3l1.8 2.4M673.4 511.4l1.8 2.3M678.5 513.2l1.8 2.2M683.5 514.9l1.8 2.1M688.6 516.4l1.8 2.1M693.7 517.7l1.8 2M698.8 518.8l1.7 2M703.9 519.8l1.7 1.9M709 520.5l1.7 1.9M714.1 521.1l1.7 1.9M719.2 521.5l1.6 1.9M724.2 521.7l1.7 1.9M729.3 521.8l1.7 1.8M734.4 521.6l1.6 1.8M739.5 521.3l1.6 1.8M744.6 520.8l1.6 1.8M749.7 520.1l1.5 1.8M754.8 519.2l1.5 1.9M759.8 518.1l1.6 1.9M764.9 516.9l1.6 1.9M770 515.3l1.5 2M775.1 513.4l1.5 2.1M780.2 511.1l1.5 2.2M785.3 508.5l1.4 2.3M790.4 505.6l1.4 2.4M795.5 502.4l1.4 2.4M800.5 498.8l1.4 2.6M805.6 494.9l1.4 2.6M810.7 490.6l1.4 2.8M815.8 486l1.4 2.9"/>
<path d="M439.4 552.4l5.1 0.9 5 0.7 5.1 0.6 5.1 0.3 5.1 0.2 5.1 0 5.1-0.1 5.1-0.4 5.1-0.5 5-0.7 5.1-0.8 5.1-1.1 5.1-1.2 5.1-1.3 5.1-1.3 5.1-1.5 5.1-1.5 5-1.6 5.1-1.7 5.1-1.8 5.1-1.9 5.1-2 5.1-2.1 5.1-2.4 5-2.4 5.1-2.7 5.1-2.9 5.1-3.1 5.1-3.4 5.1-3.6 5.1-4 5.1-4.3 5-4.6 5.1-5.1 5.1-5.5 5.1-5.9 0.5-0.6 3.3 4.4-1.8 2.1-5.1 5.6-5 5.2-5.1 4.7-5.1 4.4-5.1 4-5 3.7-5.1 3.5-5.1 3.1-5 3-5.1 2.7-5.1 2.5-5 2.4-5.1 2.2-5.1 2-5.1 1.9-5 1.9-5.1 1.7-5.1 1.6-5 1.6-5.1 1.4-5.1 1.4-5 1.4-5.1 1.3-5.1 1.1-5.1 1.1-5 0.8-5.1 0.7-5.1 0.5-5 0.3-5.1 0.2-5.1 0-5-0.2-5.1-0.4-5.1-0.5-5.1-0.7-5-0.9ZM444.5 553.3l2.5 2.4M449.5 554l2.6 2.4M454.6 554.6l2.6 2.3M459.7 554.9l2.6 2.4M464.8 555.1l2.5 2.4M469.9 555.1l2.5 2.4M475 555l2.5 2.3M480.1 554.6l2.4 2.4M485.2 554.1l2.4 2.4M490.2 553.4l2.5 2.4M495.3 552.6l2.4 2.4M500.4 551.5l2.4 2.4M505.5 550.3l2.4 2.5M510.6 549l2.4 2.5M515.7 547.7l2.3 2.4M520.8 546.2l2.3 2.5M525.9 544.7l2.3 2.6M530.9 543.1l2.3 2.6M536 541.4l2.3 2.7M541.1 539.6l2.3 2.8M546.2 537.7l2.2 2.8M551.3 535.7l2.2 2.9M556.4 533.6l2.2 3M561.5 531.2l2.2 3.2M566.5 528.8l2.2 3.2M571.6 526.1l2.2 3.4M576.7 523.2l2.2 3.6M581.8 520.1l2.1 3.7M586.9 516.7l2.1 4M592 513.1l2.1 4.1M597.1 509.1l2 4.4M602.2 504.8l2 4.7M607.2 500.2l2.1 4.9M612.3 495.1l2.1 5.3M617.4 489.6l2 5.6M622.5 483.7l2 5.9"/>
<path d="M626.3 487.5l3.3 2.2 5 3.4 5.1 3.2 5.1 3 5 2.8 5.1 2.7 5.1 2.5 5.1 2.3 5 2.1 5.1 2 5.1 1.7 5 1.6 5.1 1.5 5.1 1.2 5 1.1 5.1 0.9 5.1 0.7 5.1 0.6 5 0.4 5.1 0.2 5.1 0 5-0.2 5.1-0.3 5.1-0.5 5-0.7 5.1-0.8 5.1-1.1 5.1-1.2 5-1.5 5.1-1.8 5.1-2.2 5-2.5 5.1-2.8 5.1-3.2 5-3.4 5.1-3.9 5.1-4.1 5.1-4.5 4.6-4.3 2.6 1.8-0.9 0.8-5 4.7-5.1 4.3-5 4.1-5.1 3.7-5 3.4-5.1 3-5 2.8-5.1 2.4-5 2.1-5.1 1.7-5 1.5-5.1 1.1-5 1-5.1 0.8-5.1 0.7-5 0.5-5.1 0.3-5 0.2-5.1 0-5-0.2-5.1-0.4-5-0.5-5.1-0.7-5-0.9-5.1-1-5-1.2-5.1-1.4-5-1.5-5.1-1.7-5-1.9-5.1-2-5.1-2.2-5-2.4-5.1-2.6-5-2.7-5.1-2.9-5-3-5.1-3.2-1.9-1.3ZM629.6 489.7l1.9 3.4M634.6 493.1l2 3.2M639.7 496.3l1.9 3M644.8 499.3l1.9 2.9M649.8 502.1l1.9 2.8M654.9 504.8l1.9 2.7M660 507.3l1.8 2.6M665.1 509.6l1.8 2.5M670.1 511.7l1.9 2.4M675.2 513.7l1.8 2.3M680.3 515.4l1.8 2.3M685.3 517l1.8 2.2M690.4 518.5l1.8 2.1M695.5 519.7l1.7 2.1M700.5 520.8l1.8 2M705.6 521.7l1.7 2M710.7 522.4l1.7 2M715.8 523l1.6 1.9M720.8 523.4l1.7 1.9M725.9 523.6l1.6 1.9M731 523.6l1.6 1.9M736 523.4l1.6 1.9M741.1 523.1l1.6 1.9M746.2 522.6l1.5 1.9M751.2 521.9l1.6 1.9M756.3 521.1l1.6 1.9M761.4 520l1.5 2M766.5 518.8l1.5 2.1M771.5 517.3l1.5 2.1M776.6 515.5l1.5 2.2M781.7 513.3l1.4 2.3M786.7 510.8l1.5 2.4M791.8 508l1.4 2.4M796.9 504.8l1.4 2.6M801.9 501.4l1.4 2.6M807 497.5l1.4 2.8M812.1 493.4l1.3 2.8M817.2 488.9l1.3 3M823.5 487.2l-0.8-2"/>
<path d="M442 554.8l5 0.9 5.1 0.7 5.1 0.5 5.1 0.4 5 0.2 5.1 0 5.1-0.2 5-0.3 5.1-0.5 5.1-0.7 5-0.8 5.1-1.1 5.1-1.1 5.1-1.3 5-1.4 5.1-1.4 5.1-1.4 5-1.6 5.1-1.6 5.1-1.7 5-1.9 5.1-1.9 5.1-2 5.1-2.2 5-2.4 5.1-2.5 5.1-2.7 5-3 5.1-3.1 5.1-3.5 5-3.7 5.1-4 5.1-4.4 5.1-4.7 5-5.2 5.1-5.6 1.8-2.1 3.3 4.3-3.1 3.5-5.1 5.3-5 4.8-5.1 4.5-5 4.1-5.1 3.9-5 3.5-5.1 3.2-5.1 3-5 2.8-5.1 2.6-5 2.3-5.1 2.3-5 2.1-5.1 1.9-5 1.9-5.1 1.7-5 1.7-5.1 1.6-5 1.5-5.1 1.4-5 1.4-5.1 1.3-5.1 1.3-5 1.1-5.1 1.1-5 0.8-5.1 0.7-5 0.5-5.1 0.3-5 0.2-5.1-0.1-5-0.1-5.1-0.4-5-0.5-5.1-0.7-5-0.9ZM447 555.7l2.6 2.6M452.1 556.4l2.6 2.6M457.2 556.9l2.5 2.6M462.3 557.3l2.5 2.6M467.3 557.5l2.5 2.5M472.4 557.5l2.5 2.6M477.5 557.3l2.4 2.6M482.5 557l2.5 2.6M487.6 556.5l2.4 2.6M492.7 555.8l2.4 2.6M497.7 555l2.4 2.6M502.8 553.9l2.4 2.6M507.9 552.8l2.3 2.6M513 551.5l2.3 2.6M518 550.1l2.4 2.7M523.1 548.7l2.3 2.7M528.2 547.3l2.3 2.7M533.2 545.7l2.3 2.8M538.3 544.1l2.3 2.8M543.4 542.4l2.2 2.8M548.4 540.5l2.3 3M553.5 538.6l2.2 3M558.6 536.6l2.2 3.1M563.7 534.4l2.1 3.2M568.7 532l2.2 3.3M573.8 529.5l2.1 3.5M578.9 526.8l2.1 3.6M583.9 523.8l2.1 3.8M589 520.7l2.1 3.9M594.1 517.2l2.1 4.2M599.1 513.5l2.1 4.4M604.2 509.5l2.1 4.5M609.3 505.1l2 4.8M614.4 500.4l2 5M619.4 495.2l2 5.4M624.5 489.6l2 5.7"/>
<path d="M629.6 491.8l1.9 1.3 5.1 3.2 5 3 5.1 2.9 5 2.7 5.1 2.6 5 2.4 5.1 2.2 5.1 2 5 1.9 5.1 1.7 5 1.5 5.1 1.4 5 1.2 5.1 1 5 0.9 5.1 0.7 5 0.5 5.1 0.4 5 0.2 5.1 0 5-0.2 5.1-0.3 5-0.5 5.1-0.7 5.1-0.8 5-1 5.1-1.1 5-1.5 5.1-1.7 5-2.1 5.1-2.4 5-2.8 5.1-3 5-3.4 5.1-3.7 5-4.1 5.1-4.3 5-4.7 0.9-0.8 2.5 1.8-2 2-5.1 4.6-5 4.3-5 3.9-5.1 3.6-5 3.3-5.1 3-5 2.6-5 2.4-5.1 2-5 1.6-5 1.4-5.1 1.1-5 1-5 0.8-5.1 0.6-5 0.5-5.1 0.3-5 0.2-5 0-5.1-0.2-5-0.3-5-0.5-5.1-0.7-5-0.8-5-1-5.1-1.1-5-1.3-5.1-1.5-5-1.6-5-1.8-5.1-2-5-2.1-5-2.3-5.1-2.5-5-2.6-5-2.7-5.1-3-5-3.1-0.6-0.3ZM631.5 493.1l2 3.2M636.6 496.3l1.9 3.1M641.6 499.3l2 3.1M646.7 502.2l1.9 2.9M651.7 504.9l1.9 2.8M656.8 507.5l1.9 2.7M661.8 509.9l1.9 2.6M666.9 512.1l1.8 2.5M672 514.1l1.8 2.5M677 516l1.8 2.4M682.1 517.7l1.7 2.3M687.1 519.2l1.8 2.3M692.2 520.6l1.7 2.2M697.2 521.8l1.8 2.1M702.3 522.8l1.7 2.1M707.3 523.7l1.7 2M712.4 524.4l1.7 2M717.4 524.9l1.7 2M722.5 525.3l1.6 1.9M727.5 525.5l1.7 1.9M732.6 525.5l1.6 1.9M737.6 525.3l1.6 1.9M742.7 525l1.6 1.9M747.7 524.5l1.6 1.9M752.8 523.8l1.6 2M757.9 523l1.5 2M762.9 522l1.5 2M768 520.9l1.5 2M773 519.4l1.5 2.1M778.1 517.7l1.4 2.2M783.1 515.6l1.5 2.3M788.2 513.2l1.4 2.3M793.2 510.4l1.4 2.5M798.3 507.4l1.4 2.5M803.3 504l1.4 2.6M808.4 500.3l1.4 2.7M813.4 496.2l1.4 2.9M818.5 491.9l1.3 2.9M823.5 487.2l1.4 3"/>
<path d="M444.6 557.4l5 0.9 5.1 0.7 5 0.5 5.1 0.4 5 0.1 5.1 0.1 5-0.2 5.1-0.3 5-0.5 5.1-0.7 5-0.8 5.1-1.1 5-1.1 5.1-1.3 5.1-1.3 5-1.4 5.1-1.4 5-1.5 5.1-1.6 5-1.7 5.1-1.7 5-1.9 5.1-1.9 5-2.1 5.1-2.3 5-2.3 5.1-2.6 5-2.8 5.1-3 5.1-3.2 5-3.5 5.1-3.9 5-4.1 5.1-4.5 5-4.8 5.1-5.3 3.1-3.5 3.3 4.2-4.5 4.8-5 5-5 4.6-5.1 4.2-5 3.9-5 3.6-5.1 3.4-5 3.1-5 2.8-5.1 2.6-5 2.5-5.1 2.3-5 2.1-5 2-5.1 1.9-5 1.8-5 1.7-5.1 1.6-5 1.5-5 1.5-5.1 1.4-5 1.3-5.1 1.4-5 1.2-5 1.2-5.1 1-5 0.8-5 0.7-5.1 0.5-5 0.3-5.1 0.2-5-0.1-5-0.1-5.1-0.4-5-0.5-5-0.7-5.1-0.9ZM449.6 558.3l2.6 2.8M454.7 559l2.5 2.8M459.7 559.5l2.5 2.8M464.8 559.9l2.5 2.8M469.8 560l2.5 2.8M474.9 560.1l2.4 2.8M479.9 559.9l2.5 2.8M485 559.6l2.4 2.8M490 559.1l2.5 2.8M495.1 558.4l2.4 2.8M500.1 557.6l2.4 2.8M505.2 556.5l2.4 2.9M510.2 555.4l2.4 2.8M515.3 554.1l2.3 2.9M520.4 552.8l2.3 2.8M525.4 551.4l2.3 2.9M530.5 550l2.3 2.9M535.5 548.5l2.3 2.9M540.6 546.9l2.2 3M545.6 545.2l2.3 3.1M550.7 543.5l2.2 3.1M555.7 541.6l2.2 3.2M560.8 539.7l2.2 3.2M565.8 537.6l2.2 3.3M570.9 535.3l2.1 3.5M575.9 533l2.2 3.5M581 530.4l2.1 3.6M586 527.6l2.2 3.8M591.1 524.6l2.1 4M596.2 521.4l2 4.1M601.2 517.9l2.1 4.2M606.3 514l2 4.5M611.3 509.9l2 4.7M616.4 505.4l2 5M621.4 500.6l2 5.2M626.5 495.3l1.9 5.5"/>
<path d="M632.9 496l0.6 0.3 5 3.1 5.1 3 5 2.7 5 2.6 5.1 2.5 5 2.3 5 2.1 5.1 2 5 1.8 5 1.6 5.1 1.5 5 1.3 5.1 1.1 5 1 5 0.8 5.1 0.7 5 0.5 5 0.3 5.1 0.2 5 0 5-0.2 5.1-0.3 5-0.5 5.1-0.6 5-0.8 5-1 5.1-1.1 5-1.4 5-1.6 5.1-2 5-2.4 5-2.6 5.1-3 5-3.3 5.1-3.6 5-3.9 5-4.3 5.1-4.6 2-2 2.6 1.9-3.3 3.2-5 4.4-5.1 4.2-5 3.8-5 3.6-5 3.2-5 2.9-5.1 2.5-5 2.3-5 1.9-5 1.6-5 1.3-5.1 1.1-5 0.9-5 0.8-5 0.6-5 0.5-5.1 0.3-5 0.2-5-0.1-5-0.1-5-0.3-5.1-0.5-5-0.6-5-0.8-5-1-5-1.1-5.1-1.2-5-1.4-5-1.6-5-1.7-5-1.9-5.1-2.1-5-2.2-5-2.3-5-2.5-5-2.7-5.1-2.8-4.2-2.6ZM633.5 496.3l0.8 1.3M638.5 499.4l1.9 3.1M643.6 502.4l1.9 2.9M648.6 505.1l1.9 2.9M653.6 507.7l1.9 2.8M658.7 510.2l1.8 2.6M663.7 512.5l1.8 2.5M668.7 514.6l1.9 2.5M673.8 516.6l1.8 2.4M678.8 518.4l1.8 2.3M683.8 520l1.8 2.3M688.9 521.5l1.7 2.2M693.9 522.8l1.8 2.1M699 523.9l1.7 2.1M704 524.9l1.7 2.1M709 525.7l1.7 2.1M714.1 526.4l1.6 2M719.1 526.9l1.7 2M724.1 527.2l1.7 2M729.2 527.4l1.6 1.9M734.2 527.4l1.6 2M739.2 527.2l1.6 2M744.3 526.9l1.6 2M749.3 526.4l1.6 2M754.4 525.8l1.5 2M759.4 525l1.5 2M764.4 524l1.5 2.1M769.5 522.9l1.5 2.1M774.5 521.5l1.5 2.2M779.5 519.9l1.5 2.2M784.6 517.9l1.4 2.3M789.6 515.5l1.4 2.4M794.6 512.9l1.5 2.5M799.7 509.9l1.4 2.6M804.7 506.6l1.4 2.7M809.8 503l1.3 2.7M814.8 499.1l1.3 2.8M819.8 494.8l1.4 2.9M824.9 490.2l1.3 3.1"/>
<path d="M447.1 560.2l5.1 0.9 5 0.7 5 0.5 5.1 0.4 5 0.1 5 0.1 5.1-0.2 5-0.3 5.1-0.5 5-0.7 5-0.8 5.1-1 5-1.2 5-1.2 5.1-1.4 5-1.3 5.1-1.4 5-1.5 5-1.5 5.1-1.6 5-1.7 5-1.8 5.1-1.9 5-2 5-2.1 5.1-2.3 5-2.5 5.1-2.6 5-2.8 5-3.1 5.1-3.4 5-3.6 5-3.9 5.1-4.2 5-4.6 5-5 4.5-4.8 3.3 3.9-0.8 0.9-5 5.2-5 4.7-5 4.4-5.1 4.1-5 3.7-5 3.5-5 3.2-5 2.9-5.1 2.8-5 2.5-5 2.4-5 2.2-5 2-5.1 2-5 1.8-5 1.7-5 1.7-5 1.5-5.1 1.5-5 1.5-5 1.3-5 1.4-5 1.3-5.1 1.2-5 1.2-5 1-5 0.8-5 0.7-5.1 0.5-5 0.3-5 0.1-5 0-5-0.2-5.1-0.3-5-0.5-5-0.7-5-0.9ZM452.2 561.1l2.5 3.1M457.2 561.8l2.5 3.1M462.2 562.3l2.5 3.1M467.3 562.7l2.5 3M472.3 562.8l2.5 3.1M477.3 562.9l2.5 3M482.4 562.7l2.4 3.1M487.4 562.4l2.4 3.1M492.5 561.9l2.4 3.1M497.5 561.2l2.4 3.1M502.5 560.4l2.4 3.1M507.6 559.4l2.3 3.1M512.6 558.2l2.3 3.1M517.6 557l2.4 3.1M522.7 555.6l2.3 3.2M527.7 554.3l2.3 3.1M532.8 552.9l2.2 3.2M537.8 551.4l2.2 3.2M542.8 549.9l2.3 3.2M547.9 548.3l2.2 3.3M552.9 546.6l2.2 3.3M557.9 544.8l2.2 3.4M563 542.9l2.1 3.5M568 540.9l2.2 3.5M573 538.8l2.2 3.6M578.1 536.5l2.1 3.7M583.1 534l2.1 3.8M588.2 531.4l2 3.9M593.2 528.6l2.1 3.9M598.2 525.5l2.1 4.1M603.3 522.1l2 4.3M608.3 518.5l2 4.4M613.3 514.6l2 4.6M618.4 510.4l2 4.7M623.4 505.8l2 4.9M628.4 500.8l2 5.2M635.4 500.8l-1.1-3.2"/>
<path d="M636.2 499.9l4.2 2.6 5.1 2.8 5 2.7 5 2.5 5 2.3 5 2.2 5.1 2.1 5 1.9 5 1.7 5 1.6 5 1.4 5.1 1.2 5 1.1 5 1 5 0.8 5 0.6 5.1 0.5 5 0.3 5 0.1 5 0.1 5-0.2 5.1-0.3 5-0.5 5-0.6 5-0.8 5-0.9 5.1-1.1 5-1.3 5-1.6 5-1.9 5-2.3 5.1-2.5 5-2.9 5-3.2 5-3.6 5-3.8 5.1-4.2 5-4.4 3.3-3.2 2.5 1.9-4.5 4.3-5 4.4-5 4-5 3.8-5 3.4-5 3.1-5 2.8-5 2.5-5 2.2-5.1 1.8-5 1.5-5 1.3-5 1-5 0.9-5 0.8-5 0.6-5 0.5-5 0.3-5 0.1-5 0-5-0.1-5-0.3-5-0.5-5-0.6-5-0.8-5-0.9-5-1-5-1.3-5-1.3-5-1.5-5-1.7-5-1.8-5-2-5-2.1-5-2.3-5-2.5-5-2.5-5-2.8-2.9-1.6ZM640.4 502.5l2 2.8M645.5 505.3l1.9 2.8M650.5 508l1.9 2.6M655.5 510.5l1.9 2.6M660.5 512.8l1.9 2.6M665.5 515l1.9 2.5M670.6 517.1l1.8 2.4M675.6 519l1.8 2.3M680.6 520.7l1.8 2.3M685.6 522.3l1.8 2.2M690.6 523.7l1.8 2.1M695.7 524.9l1.7 2.2M700.7 526l1.7 2.1M705.7 527l1.7 2M710.7 527.8l1.7 2M715.7 528.4l1.7 2M720.8 528.9l1.6 2M725.8 529.2l1.6 2M730.8 529.3l1.6 2M735.8 529.4l1.6 1.9M740.8 529.2l1.6 2M745.9 528.9l1.5 2M750.9 528.4l1.5 2M755.9 527.8l1.5 2M760.9 527l1.5 2M765.9 526.1l1.5 2M771 525l1.4 2.1M776 523.7l1.4 2.1M781 522.1l1.4 2.2M786 520.2l1.5 2.3M791 517.9l1.5 2.4M796.1 515.4l1.4 2.4M801.1 512.5l1.4 2.5M806.1 509.3l1.4 2.6M811.1 505.7l1.4 2.8M816.1 501.9l1.4 2.8M821.2 497.7l1.3 3M826.2 493.3l1.3 3"/>
<path d="M449.7 563.3l5 0.9 5 0.7 5 0.5 5.1 0.3 5 0.2 5 0 5-0.1 5-0.3 5.1-0.5 5-0.7 5-0.8 5-1 5-1.2 5.1-1.2 5-1.3 5-1.4 5-1.3 5-1.5 5.1-1.5 5-1.5 5-1.7 5-1.7 5-1.8 5.1-2 5-2 5-2.2 5-2.4 5-2.5 5.1-2.8 5-2.9 5-3.2 5-3.5 5-3.7 5.1-4.1 5-4.4 5-4.7 5-5.2 0.8-0.9 3.3 3.8-2.1 2.2-5 5-5.1 4.6-5 4.2-5 3.9-5 3.7-5 3.3-5 3.1-5 2.8-5 2.7-5 2.5-5 2.3-5 2.1-5 2-5 1.9-5 1.8-5 1.7-5 1.6-5 1.5-5 1.5-5 1.4-5 1.4-5 1.3-5 1.3-5 1.3-5 1.1-5 1-5 0.8-5 0.7-5 0.4-5 0.4-5 0.1-5 0-5-0.2-5.1-0.3-5-0.5-5-0.7-5-0.9ZM454.7 564.2l2.5 3.4M459.7 564.9l2.5 3.4M464.7 565.4l2.5 3.4M469.8 565.7l2.5 3.4M474.8 565.9l2.5 3.4M479.8 565.9l2.5 3.4M484.8 565.8l2.5 3.4M489.8 565.5l2.5 3.3M494.9 565l2.4 3.4M499.9 564.3l2.4 3.4M504.9 563.5l2.4 3.4M509.9 562.5l2.4 3.4M514.9 561.3l2.4 3.5M520 560.1l2.3 3.4M525 558.8l2.3 3.4M530 557.4l2.3 3.5M535 556.1l2.3 3.4M540 554.6l2.3 3.5M545.1 553.1l2.2 3.5M550.1 551.6l2.2 3.5M555.1 549.9l2.2 3.6M560.1 548.2l2.2 3.6M565.1 546.4l2.2 3.6M570.2 544.4l2.1 3.7M575.2 542.4l2.1 3.7M580.2 540.2l2.1 3.8M585.2 537.8l2.1 3.9M590.2 535.3l2.1 3.9M595.3 532.5l2 4M600.3 529.6l2 4.1M605.3 526.4l2 4.2M610.3 522.9l2 4.4M615.3 519.2l2 4.4M620.4 515.1l1.9 4.6M625.4 510.7l1.9 4.8M630.4 506l2 4.9M635.4 500.8l2 5.1"/>
<path d="M639.5 503.7l2.9 1.6 5 2.8 5 2.5 5 2.5 5 2.3 5 2.1 5 2 5 1.8 5 1.7 5 1.5 5 1.3 5 1.3 5 1 5 0.9 5 0.8 5 0.6 5 0.5 5 0.3 5 0.1 5 0 5-0.1 5-0.3 5-0.5 5-0.6 5-0.8 5-0.9 5-1 5-1.3 5-1.5 5.1-1.8 5-2.2 5-2.5 5-2.8 5-3.1 5-3.4 5-3.8 5-4 5-4.4 4.5-4.3 2.6 1.9-0.8 0.8-5 4.6-5 4.3-5 3.9-5 3.7-5 3.3-5 3.1-4.9 2.7-5 2.4-5 2-5 1.8-5 1.5-5 1.2-5 1-5 0.9-4.9 0.7-5 0.6-5 0.4-5 0.3-5 0.2-5 0-5-0.2-4.9-0.3-5-0.4-5-0.6-5-0.7-5-0.9-5-1.1-5-1.1-5-1.4-4.9-1.5-5-1.6-5-1.7-5-2-5-2-5-2.2-5-2.4-4.9-2.5-5-2.7-1.6-0.8ZM642.4 505.3l1.9 2.7M647.4 508.1l1.9 2.6M652.4 510.6l1.8 2.6M657.4 513.1l1.8 2.5M662.4 515.4l1.8 2.4M667.4 517.5l1.8 2.3M672.4 519.5l1.8 2.3M677.4 521.3l1.8 2.2M682.4 523l1.8 2.1M687.4 524.5l1.7 2.1M692.4 525.8l1.7 2.2M697.4 527.1l1.7 2M702.4 528.1l1.7 2.1M707.4 529l1.7 2.1M712.4 529.8l1.7 2M717.4 530.4l1.7 2M722.4 530.9l1.7 1.9M727.4 531.2l1.6 1.9M732.4 531.3l1.6 2M737.4 531.3l1.6 2M742.4 531.2l1.6 1.9M747.4 530.9l1.6 1.9M752.4 530.4l1.6 2M757.4 529.8l1.6 2M762.4 529l1.5 2.1M767.4 528.1l1.5 2.1M772.4 527.1l1.5 2.1M777.4 525.8l1.5 2.2M782.4 524.3l1.5 2.2M787.5 522.5l1.4 2.2M792.5 520.3l1.4 2.4M797.5 517.8l1.4 2.5M802.5 515l1.3 2.6M807.5 511.9l1.3 2.6M812.5 508.5l1.3 2.7M817.5 504.7l1.3 2.8M822.5 500.7l1.3 2.9M827.5 496.3l1.3 3M833.8 494.7l-0.9-2"/>
<path d="M452.2 566.7l5 0.9 5 0.7 5 0.5 5.1 0.3 5 0.2 5 0 5-0.1 5-0.4 5-0.4 5-0.7 5-0.8 5-1 5-1.1 5-1.3 5-1.3 5-1.3 5-1.4 5-1.4 5-1.5 5-1.5 5-1.6 5-1.7 5-1.8 5-1.9 5-2 5-2.1 5-2.3 5-2.5 5-2.7 5-2.8 5-3.1 5-3.3 5-3.7 5-3.9 5-4.2 5.1-4.6 5-5 2.1-2.2 3.2 3.5-3.4 3.5-5 4.9-5 4.4-5 4.2-5 3.8-5 3.5-4.9 3.3-5 3-5 2.8-5 2.6-5 2.4-5 2.3-5 2.1-4.9 2-5 1.8-5 1.8-5 1.7-5 1.6-5 1.5-5 1.5-5 1.4-4.9 1.3-5 1.4-5 1.2-5 1.3-5 1.1-5 1-5 0.8-4.9 0.6-5 0.5-5 0.3-5 0.2-5 0-5-0.2-5-0.3-5-0.6-4.9-0.6-5-0.9ZM457.2 567.6l2.6 3.7M462.2 568.3l2.5 3.6M467.2 568.8l2.5 3.7M472.3 569.1l2.4 3.7M477.3 569.3l2.4 3.7M482.3 569.3l2.4 3.7M487.3 569.2l2.4 3.6M492.3 568.8l2.4 3.7M497.3 568.4l2.4 3.6M502.3 567.7l2.3 3.7M507.3 566.9l2.3 3.7M512.3 565.9l2.3 3.7M517.3 564.8l2.3 3.7M522.3 563.5l2.3 3.7M527.3 562.2l2.3 3.8M532.3 560.9l2.3 3.7M537.3 559.5l2.2 3.8M542.3 558.1l2.2 3.8M547.3 556.6l2.2 3.8M552.3 555.1l2.2 3.8M557.3 553.5l2.2 3.8M562.3 551.8l2.2 3.8M567.3 550l2.2 3.8M572.3 548.1l2.2 3.9M577.3 546.1l2.1 3.9M582.3 544l2.1 3.9M587.3 541.7l2.1 3.9M592.3 539.2l2.1 4M597.3 536.5l2.1 4.1M602.3 533.7l2.1 4.1M607.3 530.6l2.1 4.2M612.3 527.3l2 4.2M617.3 523.6l2 4.4M622.3 519.7l2 4.5M627.3 515.5l2 4.5M632.4 510.9l1.9 4.7M637.4 505.9l1.9 4.8"/>
<path d="M642.7 507.2l1.6 0.8 5 2.7 4.9 2.5 5 2.4 5 2.2 5 2 5 2 5 1.7 5 1.6 4.9 1.5 5 1.4 5 1.1 5 1.1 5 0.9 5 0.7 5 0.6 5 0.4 4.9 0.3 5 0.2 5 0 5-0.2 5-0.3 5-0.4 5-0.6 4.9-0.7 5-0.9 5-1 5-1.2 5-1.5 5-1.8 5-2 5-2.4 4.9-2.7 5-3.1 5-3.3 5-3.7 5-3.9 5-4.3 5-4.6 0.8-0.8 2.5 1.9-2.1 2-4.9 4.5-5 4.2-5 3.8-4.9 3.6-5 3.2-5 3-5 2.6-4.9 2.3-5 2-5 1.7-4.9 1.4-5 1.1-5 1-4.9 0.9-5 0.7-5 0.6-5 0.4-4.9 0.3-5 0.1-5 0-4.9-0.1-5-0.3-5-0.5-5-0.5-4.9-0.8-5-0.8-5-1-4.9-1.2-5-1.3-5-1.4-4.9-1.6-5-1.8-5-1.8-5-2-4.9-2.2-5-2.3-5-2.5-4.9-2.6-0.3-0.1ZM644.3 508l1.9 2.5M649.3 510.7l1.8 2.4M654.2 513.2l1.9 2.4M659.2 515.6l1.9 2.3M664.2 517.8l1.8 2.3M669.2 519.8l1.8 2.3M674.2 521.8l1.8 2.1M679.2 523.5l1.8 2.2M684.2 525.1l1.7 2.2M689.1 526.6l1.8 2.1M694.1 528l1.8 2M699.1 529.1l1.7 2.1M704.1 530.2l1.7 2M709.1 531.1l1.7 1.9M714.1 531.8l1.6 2M719.1 532.4l1.6 1.9M724.1 532.8l1.6 2M729 533.1l1.7 2M734 533.3l1.6 1.9M739 533.3l1.6 1.9M744 533.1l1.6 2M749 532.8l1.5 2M754 532.4l1.5 2M759 531.8l1.5 2M763.9 531.1l1.6 2M768.9 530.2l1.5 2M773.9 529.2l1.5 2M778.9 528l1.5 2.1M783.9 526.5l1.4 2.2M788.9 524.7l1.4 2.3M793.9 522.7l1.4 2.3M798.9 520.3l1.3 2.4M803.8 517.6l1.4 2.5M808.8 514.5l1.4 2.6M813.8 511.2l1.4 2.7M818.8 507.5l1.3 2.8M823.8 503.6l1.3 2.9M828.8 499.3l1.3 3M833.8 494.7l1.2 3.1"/>
<path d="M454.8 570.4l5 0.9 4.9 0.6 5 0.6 5 0.3 5 0.2 5 0 5-0.2 5-0.3 5-0.5 4.9-0.6 5-0.8 5-1 5-1.1 5-1.3 5-1.2 5-1.4 4.9-1.3 5-1.4 5-1.5 5-1.5 5-1.6 5-1.7 5-1.8 5-1.8 4.9-2 5-2.1 5-2.3 5-2.4 5-2.6 5-2.8 5-3 4.9-3.3 5-3.5 5-3.8 5-4.2 5-4.4 5-4.9 3.4-3.5 3.2 3.2-4.7 4.9-5 4.7-4.9 4.4-5 4.1-5 3.7-5 3.5-4.9 3.2-5 3-5 2.8-4.9 2.6-5 2.4-5 2.2-5 2.1-4.9 2-5 1.8-5 1.8-4.9 1.7-5 1.6-5 1.5-4.9 1.4-5 1.4-5 1.4-5 1.3-4.9 1.3-5 1.2-5 1.1-4.9 1-5 0.8-5 0.7-4.9 0.4-5 0.3-5 0.2-5 0-4.9-0.2-5-0.3-5-0.6-4.9-0.6-5-0.9ZM459.8 571.3l2.5 3.9M464.7 571.9l2.5 3.9M469.7 572.5l2.5 3.9M474.7 572.8l2.5 3.9M479.7 573l2.4 3.9M484.7 573l2.4 3.9M489.7 572.8l2.4 3.9M494.7 572.5l2.4 3.9M499.7 572l2.3 4M504.6 571.4l2.4 3.9M509.6 570.6l2.4 3.9M514.6 569.6l2.3 3.9M519.6 568.5l2.3 3.9M524.6 567.2l2.3 4M529.6 566l2.2 3.9M534.6 564.6l2.2 4M539.5 563.3l2.3 3.9M544.5 561.9l2.3 3.9M549.5 560.4l2.2 4M554.5 558.9l2.2 4M559.5 557.3l2.2 4M564.5 555.6l2.1 4M569.5 553.8l2.1 4M574.5 552l2.1 4M579.4 550l2.1 4M584.4 547.9l2.1 4M589.4 545.6l2.1 4.1M594.4 543.2l2.1 4.1M599.4 540.6l2 4.1M604.4 537.8l2 4.1M609.4 534.8l2 4.1M614.3 531.5l2 4.2M619.3 528l2 4.2M624.3 524.2l2 4.3M629.3 520l2 4.4M634.3 515.6l1.9 4.4M639.3 510.7l1.9 4.6"/>
<path d="M645.9 510.4l0.3 0.1 4.9 2.6 5 2.5 5 2.3 4.9 2.2 5 2 5 1.8 5 1.8 4.9 1.6 5 1.4 5 1.3 4.9 1.2 5 1 5 0.8 4.9 0.8 5 0.5 5 0.5 5 0.3 4.9 0.1 5 0 5-0.1 4.9-0.3 5-0.4 5-0.6 5-0.7 4.9-0.9 5-1 5-1.1 4.9-1.4 5-1.7 5-2 4.9-2.3 5-2.6 5-3 5-3.2 4.9-3.6 5-3.8 5-4.2 4.9-4.5 2.1-2 2.5 2-3.3 3.1-5 4.4-4.9 4-5 3.8-4.9 3.5-5 3.1-4.9 2.9-5 2.5-4.9 2.3-5 1.9-4.9 1.6-5 1.3-4.9 1.1-5 1-5 0.8-4.9 0.7-5 0.6-4.9 0.4-5 0.3-4.9 0.1-5 0-4.9-0.2-5-0.3-4.9-0.4-5-0.6-4.9-0.7-5-0.9-5-1-4.9-1.1-5-1.3-4.9-1.4-5-1.6-4.9-1.7-5-1.8-4.9-2-5-2.1-4.9-2.3-5-2.4-3.9-1.9ZM646.2 510.5l0.3 0.5M651.1 513.1l1.9 2.3M656.1 515.6l1.9 2.2M661.1 517.9l1.8 2.2M666 520.1l1.9 2.1M671 522.1l1.8 2.1M676 523.9l1.8 2.1M681 525.7l1.7 2M685.9 527.3l1.8 2M690.9 528.7l1.7 2M695.9 530l1.7 2M700.8 531.2l1.7 1.9M705.8 532.2l1.7 1.9M710.8 533l1.7 2M715.7 533.8l1.7 1.9M720.7 534.3l1.7 2M725.7 534.8l1.6 1.9M730.7 535.1l1.6 1.9M735.6 535.2l1.6 2M740.6 535.2l1.6 2M745.6 535.1l1.5 2M750.5 534.8l1.6 2M755.5 534.4l1.5 2M760.5 533.8l1.5 2M765.5 533.1l1.4 2M770.4 532.2l1.5 2.1M775.4 531.2l1.5 2.1M780.4 530.1l1.4 2.1M785.3 528.7l1.5 2.2M790.3 527l1.4 2.3M795.3 525l1.4 2.4M800.2 522.7l1.4 2.4M805.2 520.1l1.4 2.5M810.2 517.1l1.3 2.6M815.2 513.9l1.3 2.7M820.1 510.3l1.3 2.8M825.1 506.5l1.3 2.8M830.1 502.3l1.2 3M835 497.8l1.3 3.1"/>
<path d="M457.3 574.3l5 0.9 4.9 0.6 5 0.6 5 0.3 4.9 0.2 5 0 5-0.2 5-0.3 4.9-0.4 5-0.7 5-0.8 4.9-1 5-1.1 5-1.2 4.9-1.3 5-1.3 5-1.4 5-1.4 4.9-1.4 5-1.5 5-1.6 4.9-1.7 5-1.8 5-1.8 4.9-2 5-2.1 5-2.2 5-2.4 4.9-2.6 5-2.8 5-3 4.9-3.2 5-3.5 5-3.7 5-4.1 4.9-4.4 5-4.7 4.7-4.9 3.2 3.1-1 1.1-5 5.1-5 4.7-4.9 4.3-5 4-4.9 3.7-5 3.5-4.9 3.2-5 2.9-4.9 2.8-5 2.5-4.9 2.4-5 2.3-4.9 2.1-5 1.9-5 1.9-4.9 1.8-5 1.6-4.9 1.6-5 1.6-4.9 1.4-5 1.4-4.9 1.4-5 1.3-4.9 1.3-5 1.2-5 1.1-4.9 1-5 0.8-4.9 0.6-5 0.5-4.9 0.3-5 0.1-4.9 0-5-0.2-4.9-0.3-5-0.5-4.9-0.7-5-0.8ZM462.3 575.2l2.5 4M467.2 575.8l2.5 4.1M472.2 576.4l2.5 4M477.2 576.7l2.4 4M482.1 576.9l2.5 4M487.1 576.9l2.4 4M492.1 576.7l2.4 4.1M497.1 576.4l2.3 4.1M502 576l2.4 4M507 575.3l2.3 4.1M512 574.5l2.3 4.1M516.9 573.5l2.3 4.1M521.9 572.4l2.3 4.1M526.9 571.2l2.3 4.1M531.8 569.9l2.3 4.1M536.8 568.6l2.3 4.1M541.8 567.2l2.2 4.1M546.8 565.8l2.2 4.1M551.7 564.4l2.2 4.1M556.7 562.9l2.2 4M561.7 561.3l2.1 4M566.6 559.6l2.2 4.1M571.6 557.8l2.1 4.1M576.6 556l2.1 4M581.5 554l2.2 4.1M586.5 551.9l2.1 4.1M591.5 549.7l2.1 4M596.5 547.3l2 4M601.4 544.7l2.1 4.1M606.4 541.9l2 4.1M611.4 538.9l2 4.2M616.3 535.7l2 4.2M621.3 532.2l2 4.2M626.3 528.5l1.9 4.2M631.3 524.4l1.9 4.3M636.2 520l1.9 4.4M641.2 515.3l1.9 4.4M648.1 514.6l-1.6-3.6"/>
<path d="M649.1 513.5l3.9 1.9 5 2.4 4.9 2.3 5 2.1 4.9 2 5 1.8 4.9 1.7 5 1.6 4.9 1.4 5 1.3 4.9 1.1 5 1 5 0.9 4.9 0.7 5 0.6 4.9 0.4 5 0.3 4.9 0.2 5 0 4.9-0.1 5-0.3 4.9-0.4 5-0.6 4.9-0.7 5-0.8 5-1 4.9-1.1 5-1.3 4.9-1.6 5-1.9 4.9-2.3 5-2.5 4.9-2.9 5-3.1 4.9-3.5 5-3.8 4.9-4 5-4.4 3.3-3.1 2.5 2-4.5 4.2-5 4.3-4.9 3.9-4.9 3.7-5 3.4-4.9 3.1-5 2.7-4.9 2.5-4.9 2.1-5 1.9-4.9 1.5-5 1.3-4.9 1.1-4.9 0.9-5 0.8-4.9 0.7-4.9 0.5-5 0.4-4.9 0.2-5 0.2-4.9-0.1-4.9-0.1-5-0.3-4.9-0.5-4.9-0.5-5-0.8-4.9-0.8-5-1-4.9-1.1-4.9-1.3-5-1.4-4.9-1.6-4.9-1.6-5-1.9-4.9-1.9-5-2.1-4.9-2.3-4.9-2.3-2.6-1.3ZM653 515.4l1.9 2.2M658 517.8l1.8 2.1M662.9 520.1l1.8 2.1M667.9 522.2l1.8 2.1M672.8 524.2l1.8 2M677.8 526l1.8 2.1M682.7 527.7l1.8 2M687.7 529.3l1.7 2M692.6 530.7l1.8 2M697.6 532l1.7 2M702.5 533.1l1.7 2M707.5 534.1l1.7 2M712.5 535l1.6 1.9M717.4 535.7l1.7 2M722.4 536.3l1.6 1.9M727.3 536.7l1.6 2M732.3 537l1.6 2M737.2 537.2l1.6 1.9M742.2 537.2l1.5 2M747.1 537.1l1.6 1.9M752.1 536.8l1.5 2M757 536.4l1.6 2M762 535.8l1.5 2.1M766.9 535.1l1.5 2.1M771.9 534.3l1.5 2.1M776.9 533.3l1.4 2.2M781.8 532.2l1.4 2.2M786.8 530.9l1.4 2.2M791.7 529.3l1.4 2.3M796.7 527.4l1.4 2.3M801.6 525.1l1.4 2.5M806.6 522.6l1.3 2.5M811.5 519.7l1.4 2.7M816.5 516.6l1.3 2.7M821.4 513.1l1.4 2.8M826.4 509.3l1.3 2.9M831.3 505.3l1.3 3M836.3 500.9l1.3 3.1"/>
<path d="M459.8 578.4l5 0.8 4.9 0.7 5 0.5 4.9 0.3 5 0.2 4.9 0 5-0.1 4.9-0.3 5-0.5 4.9-0.6 5-0.8 4.9-1 5-1.1 5-1.2 4.9-1.3 5-1.3 4.9-1.4 5-1.4 4.9-1.4 5-1.6 4.9-1.6 5-1.6 4.9-1.8 5-1.9 5-1.9 4.9-2.1 5-2.3 4.9-2.4 5-2.5 4.9-2.8 5-2.9 4.9-3.2 5-3.5 4.9-3.7 5-4 4.9-4.3 5-4.7 5-5.1 1-1.1 3.2 2.8-2.4 2.6-4.9 5-4.9 4.6-5 4.3-4.9 4-5 3.7-4.9 3.4-4.9 3.2-5 3-4.9 2.7-4.9 2.6-5 2.4-4.9 2.2-5 2.2-4.9 1.9-4.9 1.9-5 1.8-4.9 1.7-4.9 1.6-5 1.5-4.9 1.5-5 1.4-4.9 1.4-4.9 1.3-5 1.3-4.9 1.2-4.9 1.1-5 0.9-4.9 0.8-5 0.7-4.9 0.4-4.9 0.3-5 0.2-4.9 0-5-0.2-4.9-0.4-4.9-0.5-5-0.6-4.9-0.8ZM464.8 579.2l2.4 4.2M469.7 579.9l2.5 4.1M474.7 580.4l2.4 4.1M479.6 580.7l2.4 4.2M484.6 580.9l2.4 4.2M489.5 580.9l2.4 4.2M494.5 580.8l2.4 4.1M499.4 580.5l2.4 4.1M504.4 580l2.3 4.2M509.3 579.4l2.4 4.1M514.3 578.6l2.3 4.1M519.2 577.6l2.4 4.2M524.2 576.5l2.3 4.2M529.2 575.3l2.2 4.2M534.1 574l2.3 4.2M539.1 572.7l2.2 4.2M544 571.3l2.2 4.2M549 569.9l2.2 4.2M553.9 568.5l2.2 4.1M558.9 566.9l2.2 4.2M563.8 565.3l2.2 4.2M568.8 563.7l2.1 4.1M573.7 561.9l2.2 4.1M578.7 560l2.1 4.1M583.7 558.1l2 4.1M588.6 556l2.1 4M593.6 553.7l2 4.1M598.5 551.3l2.1 4.1M603.5 548.8l2 4M608.4 546l2 4.1M613.4 543.1l2 4M618.3 539.9l2 4M623.3 536.4l1.9 4.1M628.2 532.7l2 4.1M633.2 528.7l1.9 4.1M638.1 524.4l2 4.1M643.1 519.7l1.9 4.2M648.1 514.6l1.8 4.3"/>
<path d="M652.3 516.3l2.6 1.3 4.9 2.3 4.9 2.3 5 2.1 4.9 1.9 5 1.9 4.9 1.6 4.9 1.6 5 1.4 4.9 1.3 4.9 1.1 5 1 4.9 0.8 5 0.8 4.9 0.5 4.9 0.5 5 0.3 4.9 0.1 4.9 0.1 5-0.2 4.9-0.2 5-0.4 4.9-0.5 4.9-0.7 5-0.8 4.9-0.9 4.9-1.1 5-1.3 4.9-1.5 5-1.9 4.9-2.1 4.9-2.5 5-2.7 4.9-3.1 5-3.4 4.9-3.7 4.9-3.9 5-4.3 4.5-4.2 2.5 2-0.9 0.8-4.9 4.5-4.9 4.2-4.9 3.9-4.9 3.6-5 3.2-4.9 3-4.9 2.7-4.9 2.4-5 2.1-4.9 1.7-4.9 1.5-4.9 1.2-4.9 1.1-5 0.9-4.9 0.7-4.9 0.7-4.9 0.5-4.9 0.4-5 0.2-4.9 0.1-4.9-0.1-4.9-0.1-5-0.4-4.9-0.4-4.9-0.6-4.9-0.7-4.9-0.9-5-1-4.9-1.1-4.9-1.3-4.9-1.4-4.9-1.5-5-1.7-4.9-1.8-4.9-2-4.9-2.1-5-2.2-4.9-2.4-1.2-0.6ZM654.9 517.6l1.8 1.9M659.8 519.9l1.8 2M664.7 522.2l1.9 1.9M669.7 524.3l1.8 1.9M674.6 526.2l1.8 2M679.6 528.1l1.7 1.9M684.5 529.7l1.8 2M689.4 531.3l1.8 1.9M694.4 532.7l1.7 1.9M699.3 534l1.7 1.9M704.2 535.1l1.7 1.9M709.2 536.1l1.7 1.9M714.1 536.9l1.7 2M719.1 537.7l1.6 1.9M724 538.2l1.6 2M728.9 538.7l1.6 1.9M733.9 539l1.6 2M738.8 539.1l1.6 2M743.7 539.2l1.6 2M748.7 539l1.5 2.1M753.6 538.8l1.6 2.1M758.6 538.4l1.5 2.1M763.5 537.9l1.5 2.1M768.4 537.2l1.5 2.1M773.4 536.4l1.4 2.2M778.3 535.5l1.5 2.2M783.2 534.4l1.5 2.2M788.2 533.1l1.4 2.3M793.1 531.6l1.4 2.3M798.1 529.7l1.3 2.5M803 527.6l1.4 2.5M807.9 525.1l1.4 2.6M812.9 522.4l1.3 2.6M817.8 519.3l1.3 2.7M822.8 515.9l1.3 2.9M827.7 512.2l1.3 3M832.6 508.3l1.3 3M837.6 504l1.2 3.1M843.7 502.6l-0.8-2.2"/>
<path d="M462.3 582.6l4.9 0.8 5 0.6 4.9 0.5 4.9 0.4 5 0.2 4.9 0 5-0.2 4.9-0.3 4.9-0.4 5-0.7 4.9-0.8 5-0.9 4.9-1.1 4.9-1.2 5-1.3 4.9-1.3 4.9-1.4 5-1.4 4.9-1.5 5-1.5 4.9-1.6 4.9-1.7 5-1.8 4.9-1.9 4.9-1.9 5-2.2 4.9-2.2 5-2.4 4.9-2.6 4.9-2.7 5-3 4.9-3.2 4.9-3.4 5-3.7 4.9-4 5-4.3 4.9-4.6 4.9-5 2.4-2.6 3.2 2.6-3.7 4-4.9 5-4.9 4.6-5 4.3-4.9 4-4.9 3.7-4.9 3.4-5 3.2-4.9 3-4.9 2.7-4.9 2.6-4.9 2.4-5 2.3-4.9 2.1-4.9 2-4.9 1.9-4.9 1.8-5 1.7-4.9 1.6-4.9 1.6-4.9 1.5-5 1.4-4.9 1.4-4.9 1.3-4.9 1.2-4.9 1.3-5 1.1-4.9 0.9-4.9 0.8-4.9 0.6-4.9 0.5-5 0.3-4.9 0.1-4.9 0-4.9-0.2-5-0.3-4.9-0.5-4.9-0.7-4.9-0.8ZM467.2 583.4l2.5 4.1M472.2 584l2.4 4.2M477.1 584.5l2.4 4.2M482 584.9l2.5 4.1M487 585.1l2.4 4.1M491.9 585.1l2.4 4.1M496.9 584.9l2.3 4.2M501.8 584.6l2.4 4.2M506.7 584.2l2.4 4.1M511.7 583.5l2.3 4.2M516.6 582.7l2.3 4.2M521.6 581.8l2.2 4.2M526.5 580.7l2.3 4.2M531.4 579.5l2.3 4.1M536.4 578.2l2.2 4.2M541.3 576.9l2.2 4.2M546.2 575.5l2.2 4.2M551.2 574.1l2.2 4.2M556.1 572.6l2.2 4.2M561.1 571.1l2.1 4.1M566 569.5l2.1 4.1M570.9 567.8l2.2 4.1M575.9 566l2.1 4.1M580.8 564.1l2.1 4.1M585.7 562.2l2.1 4M590.7 560l2 4.1M595.6 557.8l2.1 4M600.6 555.4l2 4M605.5 552.8l2 4M610.4 550.1l2 4M615.4 547.1l1.9 4M620.3 543.9l2 4M625.2 540.5l2 4M630.2 536.8l1.9 4M635.1 532.8l1.9 4M640.1 528.5l1.9 4M645 523.9l1.9 4M649.9 518.9l1.9 4"/>
<path d="M655.5 518.9l1.2 0.6 4.9 2.4 5 2.2 4.9 2.1 4.9 2 4.9 1.8 5 1.7 4.9 1.5 4.9 1.4 4.9 1.3 4.9 1.1 5 1 4.9 0.9 4.9 0.7 4.9 0.6 4.9 0.4 5 0.4 4.9 0.1 4.9 0.1 4.9-0.1 5-0.2 4.9-0.4 4.9-0.5 4.9-0.7 4.9-0.7 5-0.9 4.9-1.1 4.9-1.2 4.9-1.5 4.9-1.7 5-2.1 4.9-2.4 4.9-2.7 4.9-3 5-3.2 4.9-3.6 4.9-3.9 4.9-4.2 4.9-4.5 0.9-0.8 2.5 2.1-2.1 2-4.9 4.4-4.9 4.1-4.9 3.8-4.9 3.5-5 3.2-4.9 2.9-4.9 2.6-4.9 2.2-4.9 2-4.9 1.7-4.9 1.5-4.9 1.1-4.9 1-4.9 0.9-4.9 0.8-4.9 0.6-4.9 0.4-4.9 0.4-4.9 0.2-4.9 0.1-4.9-0.1-4.9-0.2-5-0.4-4.9-0.4-4.9-0.6-4.9-0.8-4.9-0.9-4.9-1-4.9-1.1-4.9-1.3-4.9-1.4-4.9-1.6-4.9-1.7-4.9-1.8-4.9-2-4.9-2.1-4.9-2.2-4.8-2.3ZM656.7 519.5l1.7 1.7M661.6 521.9l1.9 1.8M666.6 524.1l1.8 1.8M671.5 526.2l1.8 1.8M676.4 528.2l1.8 1.8M681.3 530l1.8 1.8M686.3 531.7l1.7 1.8M691.2 533.2l1.7 1.9M696.1 534.6l1.7 1.9M701 535.9l1.7 1.9M705.9 537l1.7 1.9M710.9 538l1.6 1.9M715.8 538.9l1.6 1.9M720.7 539.6l1.6 2M725.6 540.2l1.6 2M730.5 540.6l1.6 2M735.5 541l1.6 2M740.4 541.1l1.6 2.1M745.3 541.2l1.6 2.1M750.2 541.1l1.6 2.1M755.2 540.9l1.5 2.1M760.1 540.5l1.5 2.1M765 540l1.5 2.2M769.9 539.3l1.5 2.3M774.8 538.6l1.5 2.2M779.8 537.7l1.4 2.2M784.7 536.6l1.4 2.3M789.6 535.4l1.4 2.4M794.5 533.9l1.4 2.4M799.4 532.2l1.4 2.4M804.4 530.1l1.3 2.5M809.3 527.7l1.3 2.7M814.2 525l1.3 2.8M819.1 522l1.3 2.9M824.1 518.8l1.3 2.9M829 515.2l1.3 3M833.9 511.3l1.3 3.1M838.8 507.1l1.3 3.2M843.7 502.6l1.3 3.3"/>
<path d="M464.8 586.7l4.9 0.8 4.9 0.7 4.9 0.5 5 0.3 4.9 0.2 4.9 0 4.9-0.1 5-0.3 4.9-0.5 4.9-0.6 4.9-0.8 4.9-0.9 5-1.1 4.9-1.3 4.9-1.2 4.9-1.3 4.9-1.4 5-1.4 4.9-1.5 4.9-1.6 4.9-1.6 5-1.7 4.9-1.8 4.9-1.9 4.9-2 4.9-2.1 5-2.3 4.9-2.4 4.9-2.6 4.9-2.7 4.9-3 5-3.2 4.9-3.4 4.9-3.7 4.9-4 5-4.3 4.9-4.6 4.9-5 3.7-4 3.2 2.5-0.1 0.1-4.9 5.3-4.9 5-4.9 4.6-5 4.3-4.9 3.9-4.9 3.7-4.9 3.5-4.9 3.2-4.9 3-4.9 2.7-4.9 2.7-4.9 2.4-4.9 2.3-4.9 2.1-4.9 2.1-4.9 1.9-4.9 1.8-4.9 1.7-4.9 1.6-4.9 1.6-4.9 1.5-5 1.4-4.9 1.4-4.9 1.3-4.9 1.3-4.9 1.2-4.9 1.1-4.9 0.9-4.9 0.8-4.9 0.6-4.9 0.4-4.9 0.3-4.9 0.2-4.9 0-4.9-0.2-4.9-0.3-4.9-0.5-4.9-0.7-4.9-0.8ZM469.7 587.5l2.5 4.1M474.6 588.2l2.5 4.1M479.5 588.7l2.5 4.1M484.5 589l2.4 4.1M489.4 589.2l2.4 4.1M494.3 589.2l2.4 4.1M499.2 589.1l2.4 4M504.2 588.8l2.3 4M509.1 588.3l2.3 4.1M514 587.7l2.3 4.1M518.9 586.9l2.3 4.1M523.8 586l2.3 4.1M528.8 584.9l2.2 4.1M533.7 583.6l2.2 4.2M538.6 582.4l2.2 4.1M543.5 581.1l2.2 4.1M548.4 579.7l2.2 4.1M553.4 578.3l2.2 4.1M558.3 576.8l2.2 4.1M563.2 575.2l2.2 4.1M568.1 573.6l2.2 4.1M573.1 571.9l2.1 4.1M578 570.1l2.1 4.1M582.9 568.2l2.1 4.1M587.8 566.2l2.1 4M592.7 564.1l2.1 4M597.7 561.8l2 4M602.6 559.4l2 4M607.5 556.8l2 3.9M612.4 554.1l2 3.9M617.3 551.1l2 3.9M622.3 547.9l1.9 3.9M627.2 544.5l1.9 3.8M632.1 540.8l1.9 3.8M637 536.8l1.9 3.9M642 532.5l1.9 3.9M646.9 527.9l1.9 3.9M651.8 522.9l1.9 3.9M658.6 521.5l-0.2-0.3"/>
<path d="M658.7 521.4l4.8 2.3 4.9 2.2 4.9 2.1 4.9 2 4.9 1.8 4.9 1.7 4.9 1.6 4.9 1.4 4.9 1.3 4.9 1.1 4.9 1 4.9 0.9 4.9 0.8 4.9 0.6 4.9 0.4 5 0.4 4.9 0.2 4.9 0.1 4.9-0.1 4.9-0.2 4.9-0.4 4.9-0.4 4.9-0.6 4.9-0.8 4.9-0.9 4.9-1 4.9-1.1 4.9-1.5 4.9-1.7 4.9-2 4.9-2.2 4.9-2.6 4.9-2.9 5-3.2 4.9-3.5 4.9-3.8 4.9-4.1 4.9-4.4 2.1-2 2.4 2.3-3.3 3-4.9 4.3-4.9 4-4.9 3.7-4.9 3.4-4.8 3.2-4.9 2.8-4.9 2.5-4.9 2.2-4.9 1.9-4.9 1.7-4.9 1.3-4.9 1.1-4.9 1-4.9 0.8-4.8 0.8-4.9 0.5-4.9 0.5-4.9 0.3-4.9 0.2-4.9 0-4.9-0.1-4.9-0.2-4.9-0.4-4.8-0.5-4.9-0.6-4.9-0.8-4.9-0.9-4.9-1.1-4.9-1.1-4.9-1.4-4.9-1.4-4.9-1.6-4.9-1.7-4.8-1.9-4.9-2-4.9-2.1-4.9-2.2-3.5-1.7ZM663.5 523.7l1.8 1.7M668.4 525.9l1.8 1.7M673.3 528l1.8 1.7M678.2 530l1.8 1.7M683.1 531.8l1.7 1.8M688 533.5l1.7 1.8M692.9 535.1l1.7 1.8M697.8 536.5l1.7 1.8M702.7 537.8l1.7 1.9M707.6 538.9l1.7 1.9M712.5 539.9l1.7 2M717.4 540.8l1.7 2M722.3 541.6l1.7 2M727.2 542.2l1.7 2M732.1 542.6l1.6 2.1M737.1 543l1.5 2.1M742 543.2l1.5 2.1M746.9 543.3l1.5 2.1M751.8 543.2l1.5 2.2M756.7 543l1.5 2.2M761.6 542.6l1.5 2.3M766.5 542.2l1.5 2.2M771.4 541.6l1.5 2.3M776.3 540.8l1.4 2.3M781.2 539.9l1.4 2.4M786.1 538.9l1.4 2.4M791 537.8l1.4 2.4M795.9 536.3l1.4 2.6M800.8 534.6l1.4 2.6M805.7 532.6l1.4 2.7M810.6 530.4l1.4 2.7M815.5 527.8l1.4 2.8M820.4 524.9l1.4 2.9M825.4 521.7l1.2 2.9M830.3 518.2l1.2 3M835.2 514.4l1.2 3.1M840.1 510.3l1.2 3.2M845 505.9l1.2 3.3"/>
<path d="M467.3 590.8l4.9 0.8 4.9 0.7 4.9 0.5 4.9 0.3 4.9 0.2 4.9 0 4.9-0.2 4.9-0.3 4.9-0.4 4.9-0.6 4.9-0.8 4.9-0.9 4.9-1.1 4.9-1.2 4.9-1.3 4.9-1.3 4.9-1.4 5-1.4 4.9-1.5 4.9-1.6 4.9-1.6 4.9-1.7 4.9-1.8 4.9-1.9 4.9-2.1 4.9-2.1 4.9-2.3 4.9-2.4 4.9-2.7 4.9-2.7 4.9-3 4.9-3.2 4.9-3.5 4.9-3.7 4.9-3.9 5-4.3 4.9-4.6 4.9-5 4.9-5.3 0.1-0.1 3.1 2.3-1.4 1.6-4.9 5.3-4.9 4.9-4.9 4.6-4.9 4.3-4.8 4-4.9 3.7-4.9 3.4-4.9 3.2-4.9 3-4.9 2.8-4.9 2.7-4.9 2.4-4.9 2.3-4.9 2.2-4.8 2.1-4.9 1.9-4.9 1.8-4.9 1.8-4.9 1.6-4.9 1.6-4.9 1.5-4.9 1.4-4.9 1.4-4.8 1.3-4.9 1.3-4.9 1.2-4.9 1.1-4.9 0.9-4.9 0.8-4.9 0.6-4.9 0.4-4.9 0.3-4.9 0.2-4.8-0.1-4.9-0.1-4.9-0.4-4.9-0.5-4.9-0.6-4.9-0.8ZM472.2 591.6l2.4 4M477.1 592.3l2.4 3.9M482 592.8l2.4 3.9M486.9 593.1l2.4 4M491.8 593.3l2.4 3.9M496.7 593.3l2.3 4M501.6 593.1l2.3 4M506.5 592.8l2.3 4M511.4 592.4l2.3 4M516.3 591.8l2.3 4M521.2 591l2.3 4M526.1 590.1l2.3 4M531 589l2.3 4M535.9 587.8l2.3 4M540.8 586.5l2.3 4M545.7 585.2l2.2 4M550.6 583.8l2.2 4M555.6 582.4l2.1 4M560.5 580.9l2.1 4M565.4 579.3l2.1 4M570.3 577.7l2.1 4M575.2 576l2.1 3.9M580.1 574.2l2.1 3.9M585 572.3l2.1 3.9M589.9 570.2l2 3.9M594.8 568.1l2 3.8M599.7 565.8l2 3.8M604.6 563.4l2 3.8M609.5 560.7l2 3.8M614.4 558l2 3.7M619.3 555l2 3.7M624.2 551.8l2 3.7M629.1 548.3l2 3.8M634 544.6l2 3.8M638.9 540.7l1.9 3.7M643.9 536.4l1.8 3.7M648.8 531.8l1.8 3.7M653.7 526.8l1.8 3.8M658.6 521.5l1.8 3.8"/>
<path d="M661.8 523.7l3.5 1.7 4.9 2.2 4.9 2.1 4.9 2 4.8 1.9 4.9 1.7 4.9 1.6 4.9 1.4 4.9 1.4 4.9 1.1 4.9 1.1 4.9 0.9 4.9 0.8 4.9 0.6 4.8 0.5 4.9 0.4 4.9 0.2 4.9 0.1 4.9 0 4.9-0.2 4.9-0.3 4.9-0.5 4.9-0.5 4.8-0.8 4.9-0.8 4.9-1 4.9-1.1 4.9-1.3 4.9-1.7 4.9-1.9 4.9-2.2 4.9-2.5 4.9-2.8 4.8-3.2 4.9-3.4 4.9-3.7 4.9-4 4.9-4.3 3.3-3 2.5 2.3-4.6 4.2-4.9 4.2-4.8 3.9-4.9 3.6-4.9 3.3-4.8 3.1-4.9 2.7-4.9 2.4-4.9 2.2-4.8 1.8-4.9 1.6-4.9 1.2-4.9 1.1-4.8 1-4.9 0.8-4.9 0.7-4.9 0.5-4.8 0.4-4.9 0.3-4.9 0.1-4.8 0-4.9-0.1-4.9-0.3-4.9-0.4-4.8-0.5-4.9-0.7-4.9-0.8-4.9-1-4.8-1.1-4.9-1.2-4.9-1.3-4.9-1.5-4.8-1.7-4.9-1.7-4.9-1.9-4.9-2.1-4.8-2.1-4.9-2.3-2.1-1.1ZM665.3 525.4l1.8 1.5M670.2 527.6l1.8 1.6M675.1 529.7l1.7 1.6M680 531.7l1.7 1.7M684.8 533.6l1.8 1.7M689.7 535.3l1.8 1.7M694.6 536.9l1.7 1.8M699.5 538.3l1.7 1.9M704.4 539.7l1.7 1.8M709.3 540.8l1.7 1.9M714.2 541.9l1.6 1.9M719.1 542.8l1.6 2M724 543.6l1.6 2M728.9 544.2l1.6 2.1M733.7 544.7l1.6 2.1M738.6 545.1l1.6 2.1M743.5 545.3l1.6 2.2M748.4 545.4l1.6 2.2M753.3 545.4l1.5 2.2M758.2 545.2l1.5 2.3M763.1 544.9l1.5 2.3M768 544.4l1.4 2.4M772.9 543.9l1.4 2.4M777.7 543.1l1.5 2.5M782.6 542.3l1.5 2.5M787.5 541.3l1.4 2.5M792.4 540.2l1.4 2.5M797.3 538.9l1.4 2.6M802.2 537.2l1.4 2.7M807.1 535.3l1.3 2.8M812 533.1l1.3 2.8M816.9 530.6l1.3 2.9M821.8 527.8l1.3 3M826.6 524.6l1.3 3.1M831.5 521.2l1.3 3.2M836.4 517.5l1.3 3.3M841.3 513.5l1.2 3.4M846.2 509.2l1.2 3.5"/>
<path d="M469.7 594.8l4.9 0.8 4.9 0.6 4.9 0.5 4.9 0.4 4.9 0.1 4.8 0.1 4.9-0.2 4.9-0.3 4.9-0.4 4.9-0.6 4.9-0.8 4.9-0.9 4.9-1.1 4.9-1.2 4.9-1.3 4.8-1.3 4.9-1.4 4.9-1.4 4.9-1.5 4.9-1.6 4.9-1.6 4.9-1.8 4.9-1.8 4.9-1.9 4.8-2.1 4.9-2.2 4.9-2.3 4.9-2.4 4.9-2.7 4.9-2.8 4.9-3 4.9-3.2 4.9-3.4 4.9-3.7 4.8-4 4.9-4.3 4.9-4.6 4.9-4.9 4.9-5.3 1.4-1.6 3.2 2.1-2.8 3.1-4.8 5.3-4.9 4.9-4.9 4.6-4.9 4.3-4.8 4-4.9 3.7-4.9 3.5-4.9 3.2-4.8 3-4.9 2.8-4.9 2.7-4.9 2.5-4.8 2.3-4.9 2.2-4.9 2.1-4.8 1.9-4.9 1.9-4.9 1.7-4.9 1.7-4.8 1.6-4.9 1.5-4.9 1.4-4.9 1.4-4.8 1.3-4.9 1.3-4.9 1.2-4.9 1.1-4.8 0.9-4.9 0.7-4.9 0.6-4.9 0.5-4.8 0.3-4.9 0.1-4.9 0-4.8-0.2-4.9-0.3-4.9-0.5-4.9-0.6-4.8-0.8ZM474.6 595.6l2.4 3.9M479.5 596.2l2.4 3.9M484.4 596.7l2.4 3.9M489.3 597.1l2.4 3.8M494.2 597.2l2.3 3.9M499 597.3l2.4 3.8M503.9 597.1l2.4 3.9M508.8 596.8l2.3 3.9M513.7 596.4l2.3 3.8M518.6 595.8l2.3 3.8M523.5 595l2.3 3.9M528.4 594.1l2.2 3.9M533.3 593l2.2 3.9M538.2 591.8l2.2 3.9M543.1 590.5l2.2 3.9M547.9 589.2l2.2 3.9M552.8 587.8l2.2 3.9M557.7 586.4l2.2 3.9M562.6 584.9l2.2 3.9M567.5 583.3l2.1 3.9M572.4 581.7l2.1 3.8M577.3 579.9l2.1 3.9M582.2 578.1l2.1 3.8M587.1 576.2l2 3.8M591.9 574.1l2.1 3.8M596.8 571.9l2.1 3.8M601.7 569.6l2 3.8M606.6 567.2l2 3.7M611.5 564.5l2 3.7M616.4 561.7l2 3.7M621.3 558.7l1.9 3.7M626.2 555.5l1.9 3.7M631.1 552.1l1.9 3.6M636 548.4l1.9 3.6M640.8 544.4l1.9 3.6M645.7 540.1l1.9 3.6M650.6 535.5l1.9 3.6M655.5 530.6l1.9 3.6M660.4 525.3l1.8 3.6"/>
<path d="M665 525.8l2.1 1.1 4.9 2.3 4.8 2.1 4.9 2.1 4.9 1.9 4.9 1.7 4.8 1.7 4.9 1.5 4.9 1.3 4.9 1.2 4.8 1.1 4.9 1 4.9 0.8 4.9 0.7 4.8 0.5 4.9 0.4 4.9 0.3 4.9 0.1 4.8 0 4.9-0.1 4.9-0.3 4.8-0.4 4.9-0.5 4.9-0.7 4.9-0.8 4.8-1 4.9-1.1 4.9-1.2 4.9-1.6 4.8-1.8 4.9-2.2 4.9-2.4 4.9-2.7 4.8-3.1 4.9-3.3 4.9-3.6 4.8-3.9 4.9-4.2 4.6-4.2 2.4 2.5-0.9 0.9-4.9 4.4-4.8 4.1-4.9 3.8-4.8 3.5-4.9 3.2-4.9 3-4.8 2.6-4.9 2.4-4.8 2-4.9 1.8-4.8 1.5-4.9 1.2-4.9 1.1-4.8 0.9-4.9 0.8-4.8 0.6-4.9 0.5-4.8 0.4-4.9 0.2-4.9 0.1-4.8 0-4.9-0.2-4.8-0.3-4.9-0.5-4.8-0.6-4.9-0.7-4.9-0.9-4.8-1-4.9-1.1-4.8-1.3-4.9-1.4-4.9-1.6-4.8-1.7-4.9-1.8-4.8-2-4.9-2.1-4.8-2.2-4.9-2.4-0.8-0.4ZM667.1 526.9l1.8 1.3M672 529.2l1.8 1.4M676.8 531.3l1.8 1.5M681.7 533.4l1.8 1.5M686.6 535.3l1.7 1.6M691.5 537l1.7 1.7M696.3 538.7l1.7 1.7M701.2 540.2l1.7 1.8M706.1 541.5l1.7 1.9M711 542.7l1.6 2M715.8 543.8l1.7 2M720.7 544.8l1.6 2M725.6 545.6l1.6 2.1M730.5 546.3l1.6 2.1M735.3 546.8l1.6 2.2M740.2 547.2l1.6 2.3M745.1 547.5l1.5 2.3M750 547.6l1.5 2.4M754.8 547.6l1.5 2.4M759.7 547.5l1.5 2.4M764.6 547.2l1.5 2.5M769.4 546.8l1.5 2.5M774.3 546.3l1.5 2.5M779.2 545.6l1.4 2.6M784.1 544.8l1.4 2.6M788.9 543.8l1.4 2.7M793.8 542.7l1.4 2.7M798.7 541.5l1.4 2.7M803.6 539.9l1.3 2.8M808.4 538.1l1.4 2.8M813.3 535.9l1.3 3M818.2 533.5l1.3 3M823.1 530.8l1.2 3.1M827.9 527.7l1.3 3.2M832.8 524.4l1.3 3.3M837.7 520.8l1.2 3.4M842.5 516.9l1.3 3.5M847.4 512.7l1.2 3.6M853.5 511.9l-0.9-2.7"/>
<path d="M472.2 598.7l4.8 0.8 4.9 0.6 4.9 0.5 4.9 0.3 4.8 0.2 4.9 0 4.9-0.1 4.8-0.3 4.9-0.5 4.9-0.6 4.9-0.7 4.8-0.9 4.9-1.1 4.9-1.2 4.9-1.3 4.8-1.3 4.9-1.4 4.9-1.4 4.9-1.5 4.8-1.6 4.9-1.7 4.9-1.7 4.9-1.9 4.8-1.9 4.9-2.1 4.9-2.2 4.8-2.3 4.9-2.5 4.9-2.7 4.9-2.8 4.8-3 4.9-3.2 4.9-3.5 4.9-3.7 4.8-4 4.9-4.3 4.9-4.6 4.9-4.9 4.8-5.3 2.8-3.1 3.1 2-4.1 4.7-4.8 5.2-4.9 4.9-4.8 4.6-4.9 4.3-4.8 4-4.9 3.7-4.9 3.5-4.8 3.3-4.9 3-4.8 2.8-4.9 2.7-4.8 2.5-4.9 2.4-4.9 2.2-4.8 2.1-4.9 2-4.8 1.8-4.9 1.8-4.9 1.7-4.8 1.6-4.9 1.5-4.8 1.5-4.9 1.4-4.8 1.3-4.9 1.2-4.9 1.2-4.8 1.1-4.9 0.9-4.8 0.7-4.9 0.6-4.8 0.5-4.9 0.3-4.9 0.1-4.8 0-4.9-0.2-4.8-0.3-4.9-0.5-4.8-0.6-4.9-0.8ZM477 599.5l2.5 3.8M481.9 600.1l2.4 3.8M486.8 600.6l2.4 3.8M491.7 600.9l2.3 3.8M496.5 601.1l2.4 3.8M501.4 601.1l2.3 3.8M506.3 601l2.3 3.8M511.1 600.7l2.4 3.8M516 600.2l2.3 3.8M520.9 599.6l2.3 3.8M525.8 598.9l2.2 3.8M530.6 598l2.3 3.8M535.5 596.9l2.2 3.8M540.4 595.7l2.2 3.8M545.3 594.4l2.2 3.9M550.1 593.1l2.2 3.9M555 591.7l2.2 3.9M559.9 590.3l2.1 3.8M564.8 588.8l2.1 3.8M569.6 587.2l2.1 3.8M574.5 585.5l2.1 3.8M579.4 583.8l2.1 3.7M584.3 581.9l2 3.8M589.1 580l2.1 3.7M594 577.9l2 3.7M598.9 575.7l2 3.7M603.7 573.4l2.1 3.6M608.6 570.9l2 3.6M613.5 568.2l2 3.6M618.4 565.4l1.9 3.6M623.2 562.4l2 3.6M628.1 559.2l1.9 3.5M633 555.7l1.9 3.5M637.9 552l1.9 3.5M642.7 548l1.9 3.5M647.6 543.7l1.9 3.5M652.5 539.1l1.8 3.5M657.4 534.2l1.8 3.5M662.2 528.9l1.8 3.6"/>
<path d="M668.1 527.8l0.8 0.4 4.9 2.4 4.8 2.2 4.9 2.1 4.8 2 4.9 1.8 4.8 1.7 4.9 1.6 4.9 1.4 4.8 1.3 4.9 1.1 4.8 1 4.9 0.9 4.9 0.7 4.8 0.6 4.9 0.5 4.8 0.3 4.9 0.2 4.8 0 4.9-0.1 4.9-0.2 4.8-0.4 4.9-0.5 4.8-0.6 4.9-0.8 4.8-0.9 4.9-1.1 4.9-1.2 4.8-1.5 4.9-1.8 4.8-2 4.9-2.4 4.8-2.6 4.9-3 4.9-3.2 4.8-3.5 4.9-3.8 4.8-4.1 4.9-4.4 0.9-0.9 2.4 2.7-2.1 2-4.9 4.3-4.8 4-4.8 3.7-4.9 3.4-4.8 3.2-4.9 2.8-4.8 2.6-4.8 2.3-4.9 2-4.8 1.7-4.9 1.4-4.8 1.1-4.9 1.1-4.8 0.8-4.8 0.8-4.9 0.6-4.8 0.4-4.9 0.3-4.8 0.2-4.9 0.1-4.8-0.1-4.8-0.3-4.9-0.3-4.8-0.6-4.9-0.6-4.8-0.8-4.8-0.9-4.9-1.1-4.8-1.2-4.9-1.4-4.8-1.5-4.9-1.6-4.8-1.8-4.8-1.9-4.9-2-4.8-2.2-4.9-2.3-4.3-2.3ZM668.9 528.2l1.1 0.8M673.8 530.6l1.7 1.3M678.6 532.8l1.8 1.4M683.5 534.9l1.7 1.5M688.3 536.9l1.8 1.5M693.2 538.7l1.7 1.6M698 540.4l1.7 1.7M702.9 542l1.7 1.7M707.8 543.4l1.6 1.8M712.6 544.7l1.7 1.9M717.5 545.8l1.6 2M722.3 546.8l1.7 2.1M727.2 547.7l1.6 2.1M732.1 548.4l1.5 2.2M736.9 549l1.6 2.2M741.8 549.5l1.5 2.3M746.6 549.8l1.6 2.3M751.5 550l1.5 2.4M756.3 550l1.5 2.5M761.2 549.9l1.5 2.5M766.1 549.7l1.4 2.5M770.9 549.3l1.5 2.6M775.8 548.8l1.4 2.7M780.6 548.2l1.5 2.7M785.5 547.4l1.4 2.7M790.3 546.5l1.4 2.8M795.2 545.4l1.4 2.8M800.1 544.2l1.3 2.9M804.9 542.7l1.4 3M809.8 540.9l1.3 3.1M814.6 538.9l1.4 3.1M819.5 536.5l1.3 3.2M824.3 533.9l1.3 3.2M829.2 530.9l1.3 3.4M834.1 527.7l1.2 3.4M838.9 524.2l1.3 3.5M843.8 520.4l1.2 3.6M848.6 516.3l1.2 3.7M853.5 511.9l1.2 3.8"/>
<path d="M474.6 602.5l4.9 0.8 4.8 0.6 4.9 0.5 4.8 0.3 4.9 0.2 4.8 0 4.9-0.1 4.9-0.3 4.8-0.5 4.9-0.6 4.8-0.7 4.9-0.9 4.8-1.1 4.9-1.2 4.9-1.2 4.8-1.3 4.9-1.4 4.8-1.5 4.9-1.5 4.8-1.6 4.9-1.7 4.9-1.8 4.8-1.8 4.9-2 4.8-2.1 4.9-2.2 4.9-2.4 4.8-2.5 4.9-2.7 4.8-2.8 4.9-3 4.8-3.3 4.9-3.5 4.9-3.7 4.8-4 4.9-4.3 4.8-4.6 4.9-4.9 4.8-5.2 4.1-4.7 3.1 1.8-0.5 0.6-4.8 5.7-4.9 5.2-4.8 5-4.9 4.5-4.8 4.3-4.9 4-4.8 3.8-4.8 3.5-4.9 3.3-4.8 3-4.9 2.9-4.8 2.7-4.9 2.6-4.8 2.3-4.8 2.3-4.9 2.1-4.8 2-4.9 1.9-4.8 1.8-4.8 1.7-4.9 1.6-4.8 1.5-4.9 1.5-4.8 1.4-4.9 1.3-4.8 1.3-4.8 1.1-4.9 1.1-4.8 0.9-4.9 0.7-4.8 0.6-4.8 0.5-4.9 0.3-4.8 0.1-4.9 0-4.8-0.2-4.9-0.3-4.8-0.5-4.8-0.6-4.9-0.8ZM479.5 603.3l2.4 3.8M484.3 603.9l2.4 3.8M489.2 604.4l2.3 3.8M494 604.7l2.4 3.8M498.9 604.9l2.3 3.8M503.7 604.9l2.4 3.8M508.6 604.8l2.3 3.8M513.5 604.5l2.3 3.8M518.3 604l2.3 3.8M523.2 603.4l2.2 3.8M528 602.7l2.3 3.8M532.9 601.8l2.2 3.8M537.7 600.7l2.3 3.8M542.6 599.5l2.2 3.9M547.5 598.3l2.1 3.8M552.3 597l2.2 3.8M557.2 595.6l2.1 3.8M562 594.1l2.2 3.8M566.9 592.6l2.1 3.8M571.7 591l2.2 3.8M576.6 589.3l2.1 3.8M581.5 587.5l2 3.8M586.3 585.7l2.1 3.7M591.2 583.7l2 3.7M596 581.6l2.1 3.7M600.9 579.4l2 3.6M605.8 577l1.9 3.7M610.6 574.5l2 3.6M615.5 571.8l1.9 3.6M620.3 569l2 3.5M625.2 566l1.9 3.5M630 562.7l2 3.5M634.9 559.2l1.9 3.5M639.8 555.5l1.8 3.4M644.6 551.5l1.9 3.4M649.5 547.2l1.8 3.4M654.3 542.6l1.9 3.5M659.2 537.7l1.8 3.4M664 532.5l1.9 3.4M670.7 530.2l-0.7-1.2"/>
<path d="M671.2 529.6l4.3 2.3 4.9 2.3 4.8 2.2 4.9 2 4.8 1.9 4.8 1.8 4.9 1.6 4.8 1.5 4.9 1.4 4.8 1.2 4.9 1.1 4.8 0.9 4.8 0.8 4.9 0.6 4.8 0.6 4.9 0.3 4.8 0.3 4.8 0.1 4.9-0.1 4.8-0.2 4.9-0.3 4.8-0.4 4.9-0.6 4.8-0.8 4.8-0.8 4.9-1.1 4.8-1.1 4.9-1.4 4.8-1.7 4.9-2 4.8-2.3 4.8-2.6 4.9-2.8 4.8-3.2 4.9-3.4 4.8-3.7 4.8-4 4.9-4.3 2.1-2 2.4 2.7-3.3 3.1-4.9 4.2-4.8 3.9-4.8 3.7-4.8 3.3-4.9 3.1-4.8 2.7-4.8 2.5-4.8 2.2-4.9 2-4.8 1.6-4.8 1.3-4.8 1.2-4.9 0.9-4.8 0.9-4.8 0.7-4.8 0.5-4.9 0.4-4.8 0.3-4.8 0.1-4.9 0-4.8-0.2-4.8-0.3-4.8-0.4-4.9-0.6-4.8-0.7-4.8-0.9-4.8-1-4.9-1.1-4.8-1.3-4.8-1.5-4.8-1.6-4.9-1.7-4.8-1.8-4.8-2-4.8-2.2-4.9-2.3-4.8-2.4-3-1.6ZM675.5 531.9l1.8 1.1M680.4 534.2l1.7 1.2M685.2 536.4l1.8 1.3M690.1 538.4l1.7 1.5M694.9 540.3l1.7 1.6M699.7 542.1l1.7 1.6M704.6 543.7l1.7 1.7M709.4 545.2l1.7 1.8M714.3 546.6l1.6 1.9M719.1 547.8l1.6 2M724 548.9l1.6 2M728.8 549.8l1.6 2.1M733.6 550.6l1.6 2.2M738.5 551.2l1.5 2.3M743.3 551.8l1.6 2.3M748.2 552.1l1.5 2.4M753 552.4l1.5 2.4M757.8 552.5l1.5 2.5M762.7 552.4l1.5 2.6M767.5 552.2l1.5 2.7M772.4 551.9l1.4 2.7M777.2 551.5l1.5 2.7M782.1 550.9l1.4 2.8M786.9 550.1l1.4 2.9M791.7 549.3l1.4 2.8M796.6 548.2l1.4 3M801.4 547.1l1.4 2.9M806.3 545.7l1.3 3M811.1 544l1.3 3.1M816 542l1.3 3.1M820.8 539.7l1.3 3.2M825.6 537.1l1.3 3.3M830.5 534.3l1.2 3.4M835.3 531.1l1.3 3.5M840.2 527.7l1.2 3.6M845 524l1.2 3.6M849.8 520l1.2 3.7M854.7 515.7l1.2 3.8"/>
<path d="M477 606.3l4.9 0.8 4.8 0.6 4.8 0.5 4.9 0.3 4.8 0.2 4.9 0 4.8-0.1 4.9-0.3 4.8-0.5 4.8-0.6 4.9-0.7 4.8-0.9 4.9-1.1 4.8-1.1 4.8-1.3 4.9-1.3 4.8-1.4 4.9-1.5 4.8-1.5 4.9-1.6 4.8-1.7 4.8-1.8 4.9-1.9 4.8-2 4.9-2.1 4.8-2.3 4.8-2.3 4.9-2.6 4.8-2.7 4.9-2.9 4.8-3 4.9-3.3 4.8-3.5 4.8-3.8 4.9-4 4.8-4.3 4.9-4.5 4.8-5 4.9-5.2 4.8-5.7 0.5-0.6 3.1 1.8-1.8 2.2-4.8 5.6-4.9 5.3-4.8 4.9-4.8 4.6-4.9 4.3-4.8 4.1-4.8 3.7-4.8 3.6-4.9 3.3-4.8 3.1-4.8 2.9-4.8 2.7-4.9 2.6-4.8 2.4-4.8 2.3-4.8 2.1-4.9 2-4.8 2-4.8 1.8-4.8 1.7-4.9 1.6-4.8 1.6-4.8 1.4-4.9 1.4-4.8 1.4-4.8 1.2-4.8 1.2-4.9 1-4.8 0.9-4.8 0.8-4.8 0.5-4.9 0.5-4.8 0.3-4.8 0.1-4.8 0-4.9-0.2-4.8-0.3-4.8-0.5-4.8-0.6-4.9-0.8ZM481.9 607.1l2.4 3.8M486.7 607.7l2.4 3.8M491.5 608.2l2.4 3.8M496.4 608.5l2.3 3.8M501.2 608.7l2.4 3.8M506.1 608.7l2.3 3.8M510.9 608.6l2.3 3.8M515.8 608.3l2.2 3.8M520.6 607.8l2.3 3.8M525.4 607.2l2.3 3.9M530.3 606.5l2.2 3.8M535.1 605.6l2.2 3.8M540 604.5l2.2 3.9M544.8 603.4l2.2 3.8M549.6 602.1l2.2 3.9M554.5 600.8l2.1 3.8M559.3 599.4l2.2 3.8M564.2 597.9l2.1 3.9M569 596.4l2.1 3.8M573.9 594.8l2.1 3.8M578.7 593.1l2.1 3.8M583.5 591.3l2.1 3.8M588.4 589.4l2 3.7M593.2 587.4l2.1 3.7M598.1 585.3l2 3.7M602.9 583l2 3.7M607.7 580.7l2 3.6M612.6 578.1l2 3.6M617.4 575.4l2 3.6M622.3 572.5l1.9 3.6M627.1 569.5l1.9 3.5M632 566.2l1.9 3.5M636.8 562.7l1.9 3.4M641.6 558.9l1.9 3.5M646.5 554.9l1.8 3.4M651.3 550.6l1.9 3.4M656.2 546.1l1.8 3.3M661 541.1l1.8 3.4M665.9 535.9l1.8 3.3M670.7 530.2l1.8 3.4"/>
<path d="M674.3 531.4l3 1.6 4.8 2.4 4.9 2.3 4.8 2.2 4.8 2 4.8 1.8 4.9 1.7 4.8 1.6 4.8 1.5 4.8 1.3 4.9 1.1 4.8 1 4.8 0.9 4.8 0.7 4.9 0.6 4.8 0.4 4.8 0.3 4.8 0.2 4.9 0 4.8-0.1 4.8-0.3 4.9-0.4 4.8-0.5 4.8-0.7 4.8-0.9 4.9-0.9 4.8-1.2 4.8-1.3 4.8-1.6 4.9-2 4.8-2.2 4.8-2.5 4.8-2.7 4.9-3.1 4.8-3.3 4.8-3.7 4.8-3.9 4.9-4.2 3.3-3.1 2.4 2.9-4.5 4.1-4.9 4.1-4.8 3.8-4.8 3.6-4.8 3.2-4.8 3-4.8 2.7-4.8 2.4-4.8 2.2-4.8 1.8-4.9 1.6-4.8 1.3-4.8 1-4.8 1-4.8 0.8-4.8 0.6-4.8 0.5-4.8 0.4-4.8 0.2-4.8 0.1-4.9-0.1-4.8-0.3-4.8-0.3-4.8-0.5-4.8-0.7-4.8-0.8-4.8-1-4.8-1.1-4.8-1.2-4.9-1.4-4.8-1.5-4.8-1.7-4.8-1.8-4.8-2-4.8-2.1-4.8-2.3-4.8-2.4-4.8-2.5-1.8-1ZM677.3 533l1.8 1M682.1 535.4l1.8 1.1M687 537.7l1.7 1.2M691.8 539.9l1.7 1.3M696.6 541.9l1.7 1.4M701.4 543.7l1.7 1.6M706.3 545.4l1.6 1.7M711.1 547l1.6 1.8M715.9 548.5l1.6 1.8M720.7 549.8l1.7 1.9M725.6 550.9l1.6 2M730.4 551.9l1.6 2.1M735.2 552.8l1.6 2.2M740 553.5l1.6 2.3M744.9 554.1l1.5 2.4M749.7 554.5l1.5 2.5M754.5 554.8l1.5 2.5M759.3 555l1.5 2.6M764.2 555l1.5 2.7M769 554.9l1.5 2.7M773.8 554.6l1.5 2.8M778.7 554.2l1.4 2.8M783.5 553.7l1.4 2.8M788.3 553l1.4 2.9M793.1 552.1l1.4 3M798 551.2l1.3 2.9M802.8 550l1.3 3.1M807.6 548.7l1.3 3.1M812.4 547.1l1.4 3.1M817.3 545.1l1.3 3.3M822.1 542.9l1.3 3.3M826.9 540.4l1.3 3.4M831.7 537.7l1.3 3.4M836.6 534.6l1.2 3.5M841.4 531.3l1.2 3.6M846.2 527.6l1.2 3.7M851 523.7l1.2 3.8M855.9 519.5l1.2 3.9"/>
<path d="M479.4 610.1l4.9 0.8 4.8 0.6 4.8 0.5 4.8 0.3 4.9 0.2 4.8 0 4.8-0.1 4.8-0.3 4.9-0.5 4.8-0.5 4.8-0.8 4.8-0.9 4.9-1 4.8-1.2 4.8-1.2 4.8-1.4 4.9-1.4 4.8-1.4 4.8-1.6 4.9-1.6 4.8-1.7 4.8-1.8 4.8-2 4.9-2 4.8-2.1 4.8-2.3 4.8-2.4 4.9-2.6 4.8-2.7 4.8-2.9 4.8-3.1 4.9-3.3 4.8-3.6 4.8-3.7 4.8-4.1 4.9-4.3 4.8-4.6 4.8-4.9 4.9-5.3 4.8-5.6 1.8-2.2 3 1.6-3 3.8-4.9 5.7-4.8 5.3-4.8 4.9-4.8 4.7-4.8 4.3-4.8 4.1-4.8 3.8-4.8 3.6-4.8 3.3-4.9 3.1-4.8 3-4.8 2.8-4.8 2.6-4.8 2.4-4.8 2.3-4.8 2.2-4.8 2-4.8 2-4.8 1.8-4.9 1.8-4.8 1.6-4.8 1.6-4.8 1.4-4.8 1.4-4.8 1.4-4.8 1.2-4.8 1.2-4.8 1-4.9 0.9-4.8 0.7-4.8 0.6-4.8 0.5-4.8 0.2-4.8 0.2-4.8 0-4.8-0.2-4.8-0.3-4.9-0.5-4.8-0.6-4.8-0.8ZM484.3 610.9l2.3 3.9M489.1 611.5l2.3 3.9M493.9 612l2.4 3.9M498.7 612.3l2.4 3.9M503.6 612.5l2.3 3.9M508.4 612.5l2.3 3.9M513.2 612.4l2.3 3.8M518 612.1l2.3 3.9M522.9 611.6l2.2 3.9M527.7 611.1l2.2 3.8M532.5 610.3l2.2 3.9M537.3 609.4l2.3 3.9M542.2 608.4l2.2 3.9M547 607.2l2.2 3.9M551.8 606l2.2 3.9M556.6 604.6l2.2 3.9M561.5 603.2l2.1 3.9M566.3 601.8l2.1 3.9M571.1 600.2l2.1 3.9M576 598.6l2 3.9M580.8 596.9l2.1 3.8M585.6 595.1l2.1 3.8M590.4 593.1l2.1 3.8M595.3 591.1l2 3.8M600.1 589l2 3.7M604.9 586.7l2 3.7M609.7 584.3l2 3.7M614.6 581.7l1.9 3.7M619.4 579l1.9 3.6M624.2 576.1l1.9 3.5M629 573l2 3.5M633.9 569.7l1.9 3.5M638.7 566.1l1.9 3.5M643.5 562.4l1.9 3.4M648.3 558.3l1.9 3.4M653.2 554l1.8 3.4M658 549.4l1.8 3.3M662.8 544.5l1.8 3.3M667.7 539.2l1.7 3.3M672.5 533.6l1.8 3.2"/>
<path d="M677.3 533l1.8 1 4.8 2.5 4.8 2.4 4.8 2.3 4.8 2.1 4.8 2 4.8 1.8 4.8 1.7 4.8 1.5 4.9 1.4 4.8 1.2 4.8 1.1 4.8 1 4.8 0.8 4.8 0.7 4.8 0.5 4.8 0.3 4.8 0.3 4.9 0.1 4.8-0.1 4.8-0.2 4.8-0.4 4.8-0.5 4.8-0.6 4.8-0.8 4.8-1 4.8-1 4.8-1.3 4.9-1.6 4.8-1.8 4.8-2.2 4.8-2.4 4.8-2.7 4.8-3 4.8-3.2 4.8-3.6 4.8-3.8 4.9-4.1 4.5-4.1 2.4 2.8-1 0.9-4.8 4.3-4.8 4-4.8 3.8-4.8 3.4-4.8 3.2-4.7 2.9-4.8 2.6-4.8 2.3-4.8 2.1-4.8 1.8-4.8 1.5-4.8 1.2-4.8 1-4.8 0.9-4.8 0.8-4.8 0.6-4.8 0.4-4.8 0.3-4.8 0.2-4.8 0-4.8-0.2-4.8-0.3-4.8-0.4-4.8-0.6-4.8-0.8-4.7-0.9-4.8-1-4.8-1.2-4.8-1.3-4.8-1.5-4.8-1.7-4.8-1.8-4.8-1.9-4.8-2.1-4.8-2.2-4.8-2.4-4.8-2.5-4.8-2.7-0.4-0.3ZM679.1 534l1.7 0.8M683.9 536.5l1.7 1M688.7 538.9l1.7 1.1M693.5 541.2l1.7 1.2M698.3 543.3l1.7 1.3M703.1 545.3l1.7 1.4M707.9 547.1l1.7 1.5M712.7 548.8l1.7 1.6M717.5 550.3l1.7 1.8M722.4 551.7l1.6 1.9M727.2 552.9l1.6 2M732 554l1.6 2.1M736.8 555l1.6 2.1M741.6 555.8l1.5 2.2M746.4 556.5l1.5 2.3M751.2 557l1.5 2.4M756 557.3l1.5 2.5M760.8 557.6l1.5 2.5M765.7 557.7l1.4 2.6M770.5 557.6l1.4 2.7M775.3 557.4l1.4 2.7M780.1 557l1.4 2.8M784.9 556.5l1.4 2.9M789.7 555.9l1.4 2.9M794.5 555.1l1.4 2.9M799.3 554.1l1.4 3M804.1 553.1l1.4 3M808.9 551.8l1.4 3.1M813.8 550.2l1.3 3.2M818.6 548.4l1.3 3.2M823.4 546.2l1.3 3.3M828.2 543.8l1.3 3.4M833 541.1l1.3 3.5M837.8 538.1l1.2 3.6M842.6 534.9l1.2 3.6M847.4 531.3l1.2 3.8M852.2 527.5l1.2 3.8M857.1 523.4l1.1 3.9M863 523l-0.9-3.2"/>
<path d="M481.8 614l4.8 0.8 4.8 0.6 4.9 0.5 4.8 0.3 4.8 0.2 4.8 0 4.8-0.2 4.8-0.2 4.8-0.5 4.8-0.6 4.8-0.7 4.9-0.9 4.8-1 4.8-1.2 4.8-1.2 4.8-1.4 4.8-1.4 4.8-1.4 4.8-1.6 4.8-1.6 4.9-1.8 4.8-1.8 4.8-2 4.8-2 4.8-2.2 4.8-2.3 4.8-2.4 4.8-2.6 4.8-2.8 4.8-3 4.9-3.1 4.8-3.3 4.8-3.6 4.8-3.8 4.8-4.1 4.8-4.3 4.8-4.7 4.8-4.9 4.8-5.3 4.9-5.7 3-3.8 3.1 1.5-4.4 5.6-4.8 5.6-4.8 5.4-4.8 4.9-4.8 4.7-4.8 4.4-4.8 4.1-4.7 3.9-4.8 3.6-4.8 3.4-4.8 3.2-4.8 3-4.8 2.8-4.8 2.6-4.8 2.5-4.8 2.3-4.8 2.3-4.8 2-4.8 2-4.8 1.9-4.8 1.7-4.8 1.7-4.8 1.6-4.8 1.5-4.8 1.4-4.8 1.3-4.8 1.2-4.7 1.2-4.8 1-4.8 0.9-4.8 0.7-4.8 0.6-4.8 0.4-4.8 0.3-4.8 0.2-4.8-0.1-4.8-0.1-4.8-0.3-4.8-0.5-4.8-0.6-4.8-0.8ZM486.6 614.8l2.4 4M491.4 615.4l2.4 4M496.3 615.9l2.3 4M501.1 616.2l2.3 4M505.9 616.4l2.3 3.9M510.7 616.4l2.3 4M515.5 616.2l2.3 4M520.3 616l2.3 3.9M525.1 615.5l2.3 4M529.9 614.9l2.3 4M534.7 614.2l2.3 4M539.6 613.3l2.2 4M544.4 612.3l2.2 4M549.2 611.1l2.1 4M554 609.9l2.1 4M558.8 608.5l2.1 4.1M563.6 607.1l2.1 4.1M568.4 605.7l2.1 4M573.2 604.1l2.1 4M578 602.5l2.1 3.9M582.9 600.7l2 4M587.7 598.9l2 3.9M592.5 596.9l2 3.9M597.3 594.9l2 3.9M602.1 592.7l2 3.8M606.9 590.4l2 3.8M611.7 588l2 3.7M616.5 585.4l2 3.7M621.3 582.6l2 3.7M626.1 579.6l2 3.7M631 576.5l1.9 3.6M635.8 573.2l1.9 3.5M640.6 569.6l1.9 3.5M645.4 565.8l1.8 3.4M650.2 561.7l1.8 3.4M655 557.4l1.8 3.3M659.8 552.7l1.8 3.3M664.6 547.8l1.8 3.3M669.4 542.5l1.8 3.2M674.3 536.8l1.7 3.3"/>
<path d="M680.4 534.5l0.4 0.3 4.8 2.7 4.8 2.5 4.8 2.4 4.8 2.2 4.8 2.1 4.8 1.9 4.8 1.8 4.8 1.7 4.8 1.5 4.8 1.3 4.8 1.2 4.8 1 4.7 0.9 4.8 0.8 4.8 0.6 4.8 0.4 4.8 0.3 4.8 0.2 4.8 0 4.8-0.2 4.8-0.3 4.8-0.4 4.8-0.6 4.8-0.8 4.8-0.9 4.8-1 4.8-1.2 4.8-1.5 4.8-1.8 4.8-2.1 4.8-2.3 4.8-2.6 4.7-2.9 4.8-3.2 4.8-3.4 4.8-3.8 4.8-4 4.8-4.3 1-0.9 2.4 2.8-2.2 2.1-4.8 4.2-4.8 3.9-4.8 3.7-4.7 3.3-4.8 3.1-4.8 2.8-4.8 2.6-4.8 2.2-4.7 2-4.8 1.7-4.8 1.4-4.8 1.2-4.8 1-4.7 0.9-4.8 0.7-4.8 0.5-4.8 0.4-4.8 0.2-4.7 0.1-4.8 0-4.8-0.3-4.8-0.3-4.8-0.6-4.7-0.6-4.8-0.9-4.8-1-4.8-1.1-4.8-1.3-4.7-1.4-4.8-1.6-4.8-1.8-4.8-1.9-4.7-2.1-4.8-2.2-4.8-2.3-4.8-2.5-4.8-2.7-3.9-2.3ZM680.8 534.8l0.6 0.2M685.6 537.5l1.7 0.8M690.4 540l1.7 1M695.2 542.4l1.7 1.1M700 544.6l1.7 1.2M704.8 546.7l1.7 1.3M709.6 548.6l1.6 1.5M714.4 550.4l1.6 1.6M719.2 552.1l1.6 1.7M724 553.6l1.6 1.8M728.8 554.9l1.5 1.9M733.6 556.1l1.5 2M738.4 557.1l1.5 2.1M743.1 558l1.6 2.2M747.9 558.8l1.6 2.3M752.7 559.4l1.5 2.3M757.5 559.8l1.5 2.5M762.3 560.1l1.5 2.5M767.1 560.3l1.5 2.6M771.9 560.3l1.5 2.6M776.7 560.1l1.4 2.7M781.5 559.8l1.4 2.8M786.3 559.4l1.4 2.8M791.1 558.8l1.4 2.9M795.9 558l1.4 3M800.7 557.1l1.3 3M805.5 556.1l1.3 3M810.3 554.9l1.3 3M815.1 553.4l1.3 3.1M819.9 551.6l1.3 3.2M824.7 549.5l1.2 3.3M829.5 547.2l1.2 3.4M834.3 544.6l1.2 3.4M839 541.7l1.3 3.5M843.8 538.5l1.3 3.6M848.6 535.1l1.2 3.7M853.4 531.3l1.2 3.8M858.2 527.3l1.2 3.9M863 523l1.2 4"/>
<path d="M484.2 618l4.8 0.8 4.8 0.6 4.8 0.5 4.8 0.3 4.8 0.1 4.8 0.1 4.8-0.2 4.8-0.3 4.8-0.4 4.8-0.6 4.8-0.7 4.8-0.9 4.8-1 4.7-1.2 4.8-1.2 4.8-1.3 4.8-1.4 4.8-1.5 4.8-1.6 4.8-1.7 4.8-1.7 4.8-1.9 4.8-2 4.8-2 4.8-2.3 4.8-2.3 4.8-2.5 4.8-2.6 4.8-2.8 4.8-3 4.8-3.2 4.8-3.4 4.8-3.6 4.7-3.9 4.8-4.1 4.8-4.4 4.8-4.7 4.8-4.9 4.8-5.4 4.8-5.6 4.4-5.6 3 1.5-0.8 1.2-4.8 6-4.8 5.8-4.8 5.3-4.8 5.1-4.7 4.7-4.8 4.5-4.8 4.1-4.8 3.9-4.8 3.7-4.7 3.4-4.8 3.3-4.8 3-4.8 2.9-4.8 2.7-4.7 2.5-4.8 2.4-4.8 2.2-4.8 2.2-4.8 2-4.7 1.9-4.8 1.7-4.8 1.7-4.8 1.6-4.8 1.5-4.7 1.4-4.8 1.4-4.8 1.2-4.8 1.2-4.8 1-4.7 0.9-4.8 0.7-4.8 0.5-4.8 0.5-4.8 0.2-4.7 0.2-4.8 0-4.8-0.2-4.8-0.3-4.8-0.5-4.7-0.6-4.8-0.8ZM489 618.8l2.4 4.1M493.8 619.4l2.3 4.1M498.6 619.9l2.3 4.1M503.4 620.2l2.3 4.1M508.2 620.3l2.3 4.2M513 620.4l2.3 4.1M517.8 620.2l2.2 4.1M522.6 619.9l2.2 4.2M527.4 619.5l2.2 4.1M532.2 618.9l2.2 4.2M537 618.2l2.2 4.2M541.8 617.3l2.1 4.2M546.6 616.3l2.1 4.2M551.3 615.1l2.2 4.2M556.1 613.9l2.2 4.2M560.9 612.6l2.2 4.1M565.7 611.2l2.1 4.1M570.5 609.7l2.1 4.1M575.3 608.1l2.1 4.1M580.1 606.4l2.1 4.1M584.9 604.7l2.1 4.1M589.7 602.8l2 4.1M594.5 600.8l2 4.1M599.3 598.8l2 3.9M604.1 596.5l2 4M608.9 594.2l2 3.9M613.7 591.7l1.9 3.9M618.5 589.1l1.9 3.8M623.3 586.3l1.9 3.7M628.1 583.3l1.9 3.7M632.9 580.1l1.9 3.6M637.7 576.7l1.8 3.6M642.5 573.1l1.8 3.5M647.2 569.2l1.9 3.5M652 565.1l1.9 3.5M656.8 560.7l1.9 3.4M661.6 556l1.8 3.4M666.4 551.1l1.8 3.2M671.2 545.7l1.8 3.3M676 540.1l1.8 3.1M682.6 537.2l-1.2-2.2"/>
<path d="M683.4 536l3.9 2.3 4.8 2.7 4.8 2.5 4.8 2.3 4.8 2.2 4.7 2.1 4.8 1.9 4.8 1.8 4.8 1.6 4.7 1.4 4.8 1.3 4.8 1.1 4.8 1 4.8 0.9 4.7 0.6 4.8 0.6 4.8 0.3 4.8 0.3 4.8 0 4.7-0.1 4.8-0.2 4.8-0.4 4.8-0.5 4.8-0.7 4.7-0.9 4.8-1 4.8-1.2 4.8-1.4 4.8-1.7 4.7-2 4.8-2.2 4.8-2.6 4.8-2.8 4.8-3.1 4.7-3.3 4.8-3.7 4.8-3.9 4.8-4.2 2.2-2.1 2.4 2.8-3.5 3.2-4.7 4.1-4.8 3.8-4.8 3.6-4.7 3.3-4.8 3-4.8 2.7-4.7 2.5-4.8 2.1-4.8 2-4.7 1.6-4.8 1.4-4.7 1.1-4.8 0.9-4.8 0.8-4.7 0.7-4.8 0.5-4.8 0.3-4.7 0.2-4.8 0-4.8-0.1-4.7-0.3-4.8-0.5-4.8-0.6-4.7-0.8-4.8-0.9-4.7-1.1-4.8-1.2-4.8-1.4-4.7-1.5-4.8-1.8-4.8-1.8-4.7-2.1-4.8-2.1-4.8-2.4-4.7-2.5-4.8-2.6-4.7-2.8-2.6-1.6ZM687.3 538.3l1.8 0.7M692.1 541l1.7 0.8M696.9 543.5l1.7 0.9M701.7 545.8l1.6 1.1M706.5 548l1.6 1.3M711.2 550.1l1.7 1.3M716 552l1.6 1.5M720.8 553.8l1.6 1.5M725.6 555.4l1.6 1.7M730.3 556.8l1.6 1.8M735.1 558.1l1.6 1.9M739.9 559.2l1.6 2M744.7 560.2l1.5 2.1M749.5 561.1l1.5 2.1M754.2 561.7l1.5 2.3M759 562.3l1.5 2.3M763.8 562.6l1.5 2.5M768.6 562.9l1.4 2.5M773.4 562.9l1.4 2.6M778.1 562.8l1.5 2.7M782.9 562.6l1.4 2.7M787.7 562.2l1.4 2.8M792.5 561.7l1.4 2.8M797.3 561l1.3 2.8M802 560.1l1.4 2.9M806.8 559.1l1.4 3M811.6 557.9l1.3 3.1M816.4 556.5l1.3 3.1M821.2 554.8l1.2 3.2M825.9 552.8l1.3 3.2M830.7 550.6l1.3 3.3M835.5 548l1.2 3.4M840.3 545.2l1.2 3.5M845.1 542.1l1.2 3.6M849.8 538.8l1.2 3.6M854.6 535.1l1.2 3.7M859.4 531.2l1.2 3.8M864.2 527l1.1 3.9"/>
<path d="M486.6 622.1l4.8 0.8 4.7 0.6 4.8 0.5 4.8 0.3 4.8 0.2 4.8 0 4.7-0.2 4.8-0.2 4.8-0.5 4.8-0.5 4.8-0.7 4.7-0.9 4.8-1 4.8-1.2 4.8-1.2 4.8-1.4 4.7-1.4 4.8-1.5 4.8-1.6 4.8-1.7 4.8-1.7 4.7-1.9 4.8-2 4.8-2.2 4.8-2.2 4.8-2.4 4.7-2.5 4.8-2.7 4.8-2.9 4.8-3 4.8-3.3 4.7-3.4 4.8-3.7 4.8-3.9 4.8-4.1 4.8-4.5 4.7-4.7 4.8-5.1 4.8-5.3 4.8-5.8 4.8-6 0.8-1.2 3.1 1.4-2.2 2.9-4.8 6.1-4.7 5.8-4.8 5.5-4.8 5.1-4.7 4.7-4.8 4.6-4.8 4.2-4.7 4-4.8 3.7-4.8 3.5-4.7 3.3-4.8 3.1-4.7 2.9-4.8 2.7-4.8 2.6-4.7 2.5-4.8 2.3-4.8 2.1-4.7 2.1-4.8 1.9-4.8 1.8-4.7 1.7-4.8 1.6-4.8 1.5-4.7 1.5-4.8 1.3-4.7 1.2-4.8 1.2-4.8 1-4.7 0.8-4.8 0.8-4.8 0.5-4.7 0.4-4.8 0.3-4.8 0.1-4.7 0-4.8-0.1-4.8-0.4-4.7-0.4-4.8-0.6-4.7-0.8ZM491.4 622.9l2.3 4.3M496.1 623.5l2.4 4.3M500.9 624l2.3 4.2M505.7 624.3l2.3 4.3M510.5 624.5l2.3 4.2M515.3 624.5l2.2 4.2M520 624.3l2.3 4.3M524.8 624.1l2.3 4.2M529.6 623.6l2.2 4.3M534.4 623.1l2.2 4.3M539.2 622.4l2.2 4.2M543.9 621.5l2.2 4.3M548.7 620.5l2.2 4.3M553.5 619.3l2.2 4.3M558.3 618.1l2.1 4.3M563.1 616.7l2.1 4.4M567.8 615.3l2.1 4.3M572.6 613.8l2.1 4.3M577.4 612.2l2.1 4.3M582.2 610.5l2 4.3M587 608.8l2 4.2M591.7 606.9l2.1 4.2M596.5 604.9l2 4.1M601.3 602.7l2 4.2M606.1 600.5l2 4.1M610.9 598.1l1.9 4M615.6 595.6l2 3.9M620.4 592.9l2 3.9M625.2 590l1.9 3.9M630 587l1.9 3.8M634.8 583.7l1.8 3.8M639.5 580.3l1.9 3.7M644.3 576.6l1.9 3.7M649.1 572.7l1.8 3.6M653.9 568.6l1.8 3.5M658.7 564.1l1.8 3.4M663.4 559.4l1.8 3.4M668.2 554.3l1.8 3.4M673 549l1.8 3.2M677.8 543.2l1.7 3.2M682.6 537.2l1.7 3.1"/>
<path d="M686.5 537.4l2.6 1.6 4.7 2.8 4.8 2.6 4.7 2.5 4.8 2.4 4.8 2.1 4.7 2.1 4.8 1.8 4.8 1.8 4.7 1.5 4.8 1.4 4.8 1.2 4.7 1.1 4.8 0.9 4.7 0.8 4.8 0.6 4.8 0.5 4.7 0.3 4.8 0.1 4.8 0 4.7-0.2 4.8-0.3 4.8-0.5 4.7-0.7 4.8-0.8 4.8-0.9 4.7-1.1 4.8-1.4 4.7-1.6 4.8-2 4.8-2.1 4.7-2.5 4.8-2.7 4.8-3 4.7-3.3 4.8-3.6 4.8-3.8 4.7-4.1 3.5-3.2 2.3 2.8-4.6 4.2-4.8 4-4.7 3.7-4.8 3.5-4.7 3.2-4.8 2.9-4.7 2.7-4.8 2.4-4.7 2.1-4.8 1.8-4.7 1.6-4.8 1.3-4.7 1.1-4.8 0.9-4.7 0.7-4.8 0.6-4.7 0.5-4.8 0.2-4.7 0.2-4.8-0.1-4.7-0.2-4.8-0.4-4.7-0.5-4.8-0.7-4.7-0.9-4.8-1-4.7-1.2-4.8-1.3-4.7-1.5-4.7-1.7-4.8-1.8-4.7-2-4.8-2.1-4.7-2.3-4.8-2.5-4.7-2.6-4.8-2.8-4.7-3-1.3-0.8ZM689.1 539l1.7 0.5M693.8 541.8l1.7 0.7M698.6 544.4l1.7 0.9M703.3 546.9l1.7 1M708.1 549.3l1.7 1.1M712.9 551.4l1.6 1.3M717.6 553.5l1.7 1.3M722.4 555.3l1.6 1.5M727.2 557.1l1.6 1.5M731.9 558.6l1.6 1.7M736.7 560l1.5 1.8M741.5 561.2l1.5 1.9M746.2 562.3l1.5 2M751 563.2l1.5 2.1M755.7 564l1.5 2.2M760.5 564.6l1.5 2.3M765.3 565.1l1.4 2.3M770 565.4l1.5 2.4M774.8 565.5l1.4 2.5M779.6 565.5l1.4 2.6M784.3 565.3l1.4 2.6M789.1 565l1.4 2.7M793.9 564.5l1.3 2.7M798.6 563.8l1.4 2.8M803.4 563l1.3 2.9M808.2 562.1l1.3 2.9M812.9 561l1.3 2.9M817.7 559.6l1.3 3M822.4 558l1.3 3M827.2 556l1.3 3.2M832 553.9l1.2 3.2M836.7 551.4l1.3 3.3M841.5 548.7l1.2 3.3M846.3 545.7l1.2 3.4M851 542.4l1.2 3.5M855.8 538.8l1.2 3.6M860.6 535l1.1 3.7M865.3 530.9l1.2 3.8"/>
<path d="M489 626.4l4.7 0.8 4.8 0.6 4.7 0.4 4.8 0.4 4.8 0.1 4.7 0 4.8-0.1 4.8-0.3 4.7-0.4 4.8-0.5 4.8-0.8 4.7-0.8 4.8-1 4.8-1.2 4.7-1.2 4.8-1.3 4.7-1.5 4.8-1.5 4.8-1.6 4.7-1.7 4.8-1.8 4.8-1.9 4.7-2.1 4.8-2.1 4.8-2.3 4.7-2.5 4.8-2.6 4.8-2.7 4.7-2.9 4.8-3.1 4.7-3.3 4.8-3.5 4.8-3.7 4.7-4 4.8-4.2 4.8-4.6 4.7-4.7 4.8-5.1 4.8-5.5 4.7-5.8 4.8-6.1 2.2-2.9 3 1.3-3.5 4.8-4.7 6.2-4.8 5.8-4.7 5.5-4.8 5.2-4.7 4.8-4.8 4.6-4.7 4.3-4.8 4.1-4.7 3.8-4.8 3.5-4.7 3.4-4.8 3.2-4.7 2.9-4.8 2.8-4.7 2.7-4.8 2.5-4.7 2.3-4.8 2.2-4.7 2.1-4.8 1.9-4.7 1.9-4.8 1.7-4.7 1.6-4.8 1.6-4.7 1.4-4.8 1.3-4.7 1.3-4.8 1.1-4.7 1-4.8 0.9-4.7 0.7-4.8 0.5-4.7 0.5-4.8 0.2-4.7 0.2-4.8-0.1-4.7-0.1-4.7-0.3-4.8-0.5-4.7-0.6-4.8-0.7ZM493.7 627.2l2.4 4.4M498.5 627.8l2.3 4.4M503.2 628.2l2.4 4.5M508 628.6l2.3 4.4M512.8 628.7l2.2 4.4M517.5 628.7l2.3 4.5M522.3 628.6l2.2 4.4M527.1 628.3l2.2 4.5M531.8 627.9l2.2 4.4M536.6 627.4l2.2 4.4M541.4 626.6l2.1 4.5M546.1 625.8l2.2 4.4M550.9 624.8l2.1 4.4M555.7 623.6l2.1 4.5M560.4 622.4l2.1 4.4M565.2 621.1l2.1 4.4M569.9 619.6l2.1 4.5M574.7 618.1l2.1 4.4M579.5 616.5l2 4.4M584.2 614.8l2.1 4.4M589 613l2 4.3M593.8 611.1l2 4.3M598.5 609l2 4.3M603.3 606.9l2 4.2M608.1 604.6l1.9 4.2M612.8 602.1l2 4.2M617.6 599.5l1.9 4.1M622.4 596.8l1.9 4M627.1 593.9l1.9 4M631.9 590.8l1.9 3.9M636.6 587.5l1.9 3.8M641.4 584l1.9 3.8M646.2 580.3l1.8 3.7M650.9 576.3l1.9 3.6M655.7 572.1l1.8 3.5M660.5 567.5l1.8 3.5M665.2 562.8l1.8 3.4M670 557.7l1.8 3.3M674.8 552.2l1.7 3.3M679.5 546.4l1.8 3.3M684.3 540.3l1.7 3.2"/>
<path d="M689.5 538.7l1.3 0.8 4.7 3 4.8 2.8 4.7 2.6 4.8 2.5 4.7 2.3 4.8 2.1 4.7 2 4.8 1.8 4.7 1.7 4.7 1.5 4.8 1.3 4.7 1.2 4.8 1 4.7 0.9 4.8 0.7 4.7 0.5 4.8 0.4 4.7 0.2 4.8 0.1 4.7-0.2 4.8-0.2 4.7-0.5 4.8-0.6 4.7-0.7 4.8-0.9 4.7-1.1 4.8-1.3 4.7-1.6 4.8-1.8 4.7-2.1 4.8-2.4 4.7-2.7 4.8-2.9 4.7-3.2 4.8-3.5 4.7-3.7 4.8-4 4.6-4.2 2.3 2.6-1.1 1-4.7 4.2-4.7 3.9-4.8 3.7-4.7 3.4-4.7 3.1-4.8 2.9-4.7 2.5-4.7 2.3-4.8 2.1-4.7 1.8-4.7 1.5-4.8 1.2-4.7 1-4.7 0.9-4.8 0.7-4.7 0.6-4.7 0.3-4.8 0.2-4.7 0.1-4.7-0.1-4.8-0.3-4.7-0.5-4.7-0.6-4.8-0.8-4.7-0.9-4.7-1.1-4.8-1.3-4.7-1.4-4.7-1.6-4.8-1.8-4.7-2-4.7-2.1-4.8-2.2-4.7-2.5-4.7-2.6-4.8-2.7-4.7-3-4.7-3.1ZM690.8 539.5l1.7 0.4M695.5 542.5l1.7 0.5M700.3 545.3l1.6 0.7M705 547.9l1.7 0.8M709.8 550.4l1.6 0.9M714.5 552.7l1.6 1.1M719.3 554.8l1.6 1.2M724 556.8l1.6 1.3M728.8 558.6l1.5 1.5M733.5 560.3l1.6 1.6M738.2 561.8l1.6 1.7M743 563.1l1.5 1.8M747.7 564.3l1.6 1.9M752.5 565.3l1.5 2M757.2 566.2l1.5 2M762 566.9l1.5 2.1M766.7 567.4l1.5 2.2M771.5 567.8l1.4 2.3M776.2 568l1.5 2.4M781 568.1l1.4 2.4M785.7 567.9l1.4 2.5M790.5 567.7l1.4 2.5M795.2 567.2l1.4 2.7M800 566.6l1.3 2.7M804.7 565.9l1.4 2.7M809.5 565l1.3 2.7M814.2 563.9l1.3 2.8M819 562.6l1.3 2.9M823.7 561l1.3 3M828.5 559.2l1.2 3M833.2 557.1l1.3 3M838 554.7l1.2 3.1M842.7 552l1.2 3.3M847.5 549.1l1.2 3.3M852.2 545.9l1.2 3.4M857 542.4l1.1 3.5M861.7 538.7l1.2 3.5M866.5 534.7l1.1 3.6M872.3 534.1l-1-3.4"/>
<path d="M491.3 630.9l4.8 0.7 4.7 0.6 4.8 0.5 4.7 0.3 4.7 0.1 4.8 0.1 4.7-0.2 4.8-0.2 4.7-0.5 4.8-0.5 4.7-0.7 4.8-0.9 4.7-1 4.8-1.1 4.7-1.3 4.8-1.3 4.7-1.4 4.8-1.6 4.7-1.6 4.8-1.7 4.7-1.9 4.8-1.9 4.7-2.1 4.8-2.2 4.7-2.3 4.8-2.5 4.7-2.7 4.8-2.8 4.7-2.9 4.8-3.2 4.7-3.4 4.8-3.5 4.7-3.8 4.8-4.1 4.7-4.3 4.8-4.6 4.7-4.8 4.8-5.2 4.7-5.5 4.8-5.8 4.7-6.2 3.5-4.8 3 1.2-4.8 6.7-4.7 6.3-4.7 5.9-4.8 5.6-4.7 5.3-4.7 4.9-4.8 4.7-4.7 4.3-4.7 4.2-4.8 3.8-4.7 3.7-4.7 3.4-4.8 3.2-4.7 3.1-4.7 2.9-4.8 2.6-4.7 2.6-4.7 2.4-4.8 2.2-4.7 2.1-4.7 2-4.8 1.9-4.7 1.8-4.7 1.6-4.8 1.6-4.7 1.4-4.8 1.3-4.7 1.3-4.7 1.1-4.8 1-4.7 0.8-4.7 0.7-4.8 0.6-4.7 0.4-4.7 0.3-4.8 0.1-4.7 0-4.7-0.2-4.8-0.3-4.7-0.4-4.7-0.6-4.8-0.8ZM496.1 631.6l2.3 4.6M500.8 632.2l2.3 4.6M505.6 632.7l2.2 4.5M510.3 633l2.3 4.5M515 633.1l2.3 4.6M519.8 633.2l2.2 4.5M524.5 633l2.3 4.6M529.3 632.8l2.2 4.5M534 632.3l2.2 4.6M538.8 631.8l2.2 4.5M543.5 631.1l2.2 4.5M548.3 630.2l2.1 4.6M553 629.2l2.2 4.6M557.8 628.1l2.1 4.6M562.5 626.8l2.1 4.6M567.3 625.5l2.1 4.6M572 624.1l2.1 4.6M576.8 622.5l2.1 4.6M581.5 620.9l2.1 4.6M586.3 619.2l2 4.5M591 617.3l2.1 4.5M595.8 615.4l2 4.4M600.5 613.3l2 4.4M605.3 611.1l2 4.4M610 608.8l2 4.3M614.8 606.3l1.9 4.2M619.5 603.6l2 4.3M624.3 600.8l1.9 4.2M629 597.9l1.9 4M633.8 594.7l1.9 4M638.5 591.3l1.9 4M643.3 587.8l1.8 3.8M648 584l1.9 3.8M652.8 579.9l1.8 3.7M657.5 575.6l1.8 3.7M662.3 571l1.8 3.6M667 566.2l1.8 3.5M671.8 561l1.7 3.4M676.5 555.5l1.8 3.3M681.3 549.7l1.7 3.2M686 543.5l1.7 3.1"/>
<path d="M692.5 539.9l4.7 3.1 4.7 3 4.8 2.7 4.7 2.6 4.7 2.5 4.8 2.2 4.7 2.1 4.7 2 4.8 1.8 4.7 1.6 4.7 1.4 4.8 1.3 4.7 1.1 4.7 0.9 4.8 0.8 4.7 0.6 4.7 0.5 4.8 0.3 4.7 0.1 4.7-0.1 4.8-0.2 4.7-0.3 4.7-0.6 4.8-0.7 4.7-0.9 4.7-1 4.8-1.2 4.7-1.5 4.7-1.8 4.8-2.1 4.7-2.3 4.7-2.5 4.8-2.9 4.7-3.1 4.7-3.4 4.8-3.7 4.7-3.9 4.7-4.2 1.1-1 2.4 2.5-2.3 2.1-4.8 4.1-4.7 3.9-4.7 3.6-4.7 3.3-4.7 3-4.8 2.8-4.7 2.5-4.7 2.2-4.7 2-4.7 1.7-4.7 1.4-4.8 1.2-4.7 1-4.7 0.8-4.7 0.7-4.7 0.5-4.8 0.3-4.7 0.1-4.7 0-4.7-0.2-4.7-0.3-4.8-0.6-4.7-0.7-4.7-0.8-4.7-1.1-4.7-1.2-4.7-1.3-4.8-1.6-4.7-1.7-4.7-1.9-4.7-2-4.7-2.3-4.8-2.3-4.7-2.6-4.7-2.7-4.7-2.9-4.7-3.1-3.5-2.3ZM697.2 543l1.7 0.5M701.9 546l1.7 0.6M706.7 548.7l1.6 0.8M711.4 551.3l1.6 0.9M716.1 553.8l1.6 1M720.9 556l1.6 1.1M725.6 558.1l1.6 1.3M730.3 560.1l1.6 1.3M735.1 561.9l1.5 1.4M739.8 563.5l1.5 1.5M744.5 564.9l1.6 1.7M749.3 566.2l1.5 1.7M754 567.3l1.5 1.8M758.7 568.2l1.5 2M763.5 569l1.4 2M768.2 569.6l1.4 2.1M772.9 570.1l1.5 2.2M777.7 570.4l1.4 2.2M782.4 570.5l1.4 2.3M787.1 570.4l1.4 2.4M791.9 570.2l1.3 2.5M796.6 569.9l1.4 2.5M801.3 569.3l1.4 2.6M806.1 568.6l1.3 2.6M810.8 567.7l1.3 2.7M815.5 566.7l1.3 2.7M820.3 565.5l1.3 2.7M825 564l1.3 2.8M829.7 562.2l1.3 2.9M834.5 560.1l1.2 3M839.2 557.8l1.2 3.1M843.9 555.3l1.2 3.1M848.7 552.4l1.2 3.2M853.4 549.3l1.2 3.3M858.1 545.9l1.2 3.4M862.9 542.2l1.1 3.5M867.6 538.3l1.1 3.5M872.3 534.1l1.2 3.6"/>
<path d="M493.6 635.4l4.8 0.8 4.7 0.6 4.7 0.4 4.8 0.3 4.7 0.2 4.7 0 4.8-0.1 4.7-0.3 4.7-0.4 4.8-0.6 4.7-0.7 4.7-0.8 4.8-1 4.7-1.1 4.7-1.3 4.8-1.3 4.7-1.4 4.8-1.6 4.7-1.6 4.7-1.8 4.8-1.9 4.7-2 4.7-2.1 4.8-2.2 4.7-2.4 4.7-2.6 4.8-2.6 4.7-2.9 4.7-3.1 4.8-3.2 4.7-3.4 4.7-3.7 4.8-3.8 4.7-4.2 4.7-4.3 4.8-4.7 4.7-4.9 4.7-5.3 4.8-5.6 4.7-5.9 4.7-6.3 4.8-6.7 2.9 1.3-1.2 1.9-4.8 6.8-4.7 6.3-4.7 6-4.7 5.7-4.7 5.3-4.8 5.1-4.7 4.7-4.7 4.5-4.7 4.2-4.7 3.9-4.8 3.7-4.7 3.5-4.7 3.3-4.7 3.2-4.7 2.9-4.7 2.7-4.8 2.6-4.7 2.5-4.7 2.3-4.7 2.1-4.7 2.1-4.8 1.9-4.7 1.7-4.7 1.7-4.7 1.6-4.7 1.4-4.7 1.3-4.8 1.3-4.7 1.1-4.7 1-4.7 0.8-4.7 0.7-4.8 0.6-4.7 0.4-4.7 0.2-4.7 0.2-4.7-0.1-4.8-0.1-4.7-0.3-4.7-0.5-4.7-0.6-4.7-0.7ZM498.4 636.2l2.3 4.6M503.1 636.8l2.3 4.6M507.8 637.2l2.3 4.7M512.6 637.5l2.2 4.7M517.3 637.7l2.3 4.6M522 637.7l2.3 4.7M526.8 637.6l2.2 4.6M531.5 637.3l2.2 4.7M536.2 636.9l2.2 4.7M541 636.3l2.2 4.7M545.7 635.6l2.2 4.7M550.4 634.8l2.2 4.7M555.2 633.8l2.1 4.7M559.9 632.7l2.1 4.7M564.6 631.4l2.2 4.7M569.4 630.1l2.1 4.7M574.1 628.7l2.1 4.7M578.9 627.1l2 4.7M583.6 625.5l2 4.6M588.3 623.7l2 4.7M593.1 621.8l2 4.7M597.8 619.8l2 4.6M602.5 617.7l2 4.6M607.3 615.5l1.9 4.5M612 613.1l1.9 4.4M616.7 610.5l2 4.4M621.5 607.9l1.9 4.3M626.2 605l1.9 4.3M630.9 601.9l1.9 4.2M635.7 598.7l1.8 4.1M640.4 595.3l1.8 4M645.1 591.6l1.9 4M649.9 587.8l1.8 3.9M654.6 583.6l1.8 3.9M659.3 579.3l1.8 3.7M664.1 574.6l1.7 3.7M668.8 569.7l1.8 3.5M673.5 564.4l1.8 3.5M678.3 558.8l1.7 3.4M683 552.9l1.7 3.3M687.7 546.6l1.7 3.3M694.2 543.1l-1.7-3.2"/>
<path d="M695.4 541.2l3.5 2.3 4.7 3.1 4.7 2.9 4.7 2.7 4.7 2.6 4.8 2.3 4.7 2.3 4.7 2 4.7 1.9 4.7 1.7 4.8 1.6 4.7 1.3 4.7 1.2 4.7 1.1 4.7 0.8 4.7 0.7 4.8 0.6 4.7 0.3 4.7 0.2 4.7 0 4.7-0.1 4.8-0.3 4.7-0.5 4.7-0.7 4.7-0.8 4.7-1 4.8-1.2 4.7-1.4 4.7-1.7 4.7-2 4.7-2.2 4.7-2.5 4.8-2.8 4.7-3 4.7-3.3 4.7-3.6 4.7-3.9 4.8-4.1 2.3-2.1 2.3 2.4-3.5 3.2-4.7 4-4.7 3.8-4.7 3.5-4.7 3.2-4.8 3-4.7 2.7-4.7 2.4-4.7 2.2-4.7 1.9-4.7 1.6-4.7 1.4-4.7 1.1-4.7 0.9-4.7 0.8-4.7 0.6-4.7 0.5-4.7 0.2-4.7 0.1-4.7-0.1-4.7-0.3-4.7-0.4-4.7-0.6-4.7-0.8-4.7-0.9-4.7-1.1-4.7-1.3-4.7-1.5-4.7-1.7-4.7-1.8-4.7-2-4.7-2.1-4.7-2.4-4.7-2.5-4.8-2.6-4.7-2.9-4.7-3-4.7-3.2-2.1-1.5ZM698.9 543.5l1.6 0.4M703.6 546.6l1.6 0.5M708.3 549.5l1.6 0.6M713 552.2l1.6 0.8M717.7 554.8l1.7 0.8M722.5 557.1l1.6 1M727.2 559.4l1.6 1.1M731.9 561.4l1.6 1.2M736.6 563.3l1.6 1.3M741.3 565l1.6 1.4M746.1 566.6l1.5 1.5M750.8 567.9l1.5 1.7M755.5 569.1l1.5 1.8M760.2 570.2l1.5 1.8M764.9 571l1.5 1.9M769.6 571.7l1.5 2M774.4 572.3l1.4 2M779.1 572.6l1.4 2.1M783.8 572.8l1.4 2.2M788.5 572.8l1.4 2.3M793.2 572.7l1.4 2.3M798 572.4l1.3 2.4M802.7 571.9l1.3 2.4M807.4 571.2l1.3 2.5M812.1 570.4l1.3 2.5M816.8 569.4l1.3 2.6M821.6 568.2l1.2 2.7M826.3 566.8l1.2 2.7M831 565.1l1.2 2.8M835.7 563.1l1.2 2.9M840.4 560.9l1.2 2.9M845.1 558.4l1.2 3M849.9 555.6l1.1 3.1M854.6 552.6l1.2 3.1M859.3 549.3l1.2 3.2M864 545.7l1.2 3.3M868.7 541.8l1.2 3.4M873.5 537.7l1.1 3.5"/>
<path d="M496 640.1l4.7 0.7 4.7 0.6 4.7 0.5 4.7 0.3 4.8 0.1 4.7 0.1 4.7-0.2 4.7-0.2 4.7-0.4 4.8-0.6 4.7-0.7 4.7-0.8 4.7-1 4.7-1.1 4.8-1.3 4.7-1.3 4.7-1.4 4.7-1.6 4.7-1.7 4.7-1.7 4.8-1.9 4.7-2.1 4.7-2.1 4.7-2.3 4.7-2.5 4.8-2.6 4.7-2.7 4.7-2.9 4.7-3.2 4.7-3.3 4.7-3.5 4.8-3.7 4.7-3.9 4.7-4.2 4.7-4.5 4.7-4.7 4.8-5.1 4.7-5.3 4.7-5.7 4.7-6 4.7-6.3 4.8-6.8 1.2-1.9 3 1.2-2.6 3.9-4.7 6.8-4.7 6.5-4.7 6.1-4.7 5.8-4.7 5.4-4.7 5.1-4.7 4.8-4.7 4.6-4.7 4.2-4.7 4.1-4.7 3.8-4.7 3.6-4.7 3.3-4.7 3.2-4.7 3-4.7 2.8-4.7 2.7-4.7 2.5-4.7 2.3-4.7 2.2-4.7 2.1-4.7 1.9-4.7 1.8-4.7 1.7-4.8 1.6-4.7 1.4-4.7 1.4-4.7 1.2-4.7 1.1-4.7 1-4.7 0.8-4.7 0.7-4.7 0.5-4.7 0.4-4.7 0.3-4.7 0.1-4.7 0-4.7-0.1-4.7-0.3-4.7-0.5-4.7-0.6-4.7-0.7ZM500.7 640.8l2.3 4.8M505.4 641.4l2.3 4.8M510.1 641.9l2.3 4.8M514.8 642.2l2.3 4.8M519.6 642.3l2.2 4.8M524.3 642.4l2.2 4.7M529 642.2l2.2 4.8M533.7 642l2.2 4.7M538.4 641.6l2.2 4.7M543.2 641l2.1 4.8M547.9 640.3l2.1 4.8M552.6 639.5l2.1 4.8M557.3 638.5l2.1 4.8M562 637.4l2.1 4.8M566.8 636.1l2 4.9M571.5 634.8l2 4.8M576.2 633.4l2 4.8M580.9 631.8l2.1 4.8M585.6 630.1l2.1 4.8M590.3 628.4l2.1 4.7M595.1 626.5l2 4.7M599.8 624.4l2 4.7M604.5 622.3l2 4.6M609.2 620l2 4.6M613.9 617.5l2 4.6M618.7 614.9l1.9 4.5M623.4 612.2l1.9 4.4M628.1 609.3l1.9 4.3M632.8 606.1l1.9 4.3M637.5 602.8l1.9 4.3M642.2 599.3l1.9 4.2M647 595.6l1.8 4.1M651.7 591.7l1.8 3.9M656.4 587.5l1.8 3.9M661.1 583l1.8 3.8M665.8 578.3l1.8 3.7M670.6 573.2l1.7 3.7M675.3 567.9l1.7 3.6M680 562.2l1.7 3.5M684.7 556.2l1.7 3.4M689.4 549.9l1.7 3.2M694.2 543.1l1.6 3.2"/>
<path d="M698.4 542.4l2.1 1.5 4.7 3.2 4.7 3 4.7 2.9 4.8 2.6 4.7 2.5 4.7 2.4 4.7 2.1 4.7 2 4.7 1.8 4.7 1.7 4.7 1.5 4.7 1.3 4.7 1.1 4.7 0.9 4.7 0.8 4.7 0.6 4.7 0.4 4.7 0.3 4.7 0.1 4.7-0.1 4.7-0.2 4.7-0.5 4.7-0.6 4.7-0.8 4.7-0.9 4.7-1.1 4.7-1.4 4.7-1.6 4.7-1.9 4.7-2.2 4.7-2.4 4.7-2.7 4.8-3 4.7-3.2 4.7-3.5 4.7-3.8 4.7-4 3.5-3.2 2.3 2.3-4.7 4.3-4.7 3.9-4.7 3.7-4.7 3.4-4.7 3.1-4.7 2.9-4.7 2.6-4.6 2.4-4.7 2.1-4.7 1.8-4.7 1.6-4.7 1.3-4.7 1.1-4.7 0.9-4.7 0.7-4.7 0.5-4.6 0.4-4.7 0.2-4.7 0-4.7-0.1-4.7-0.4-4.7-0.5-4.7-0.6-4.7-0.9-4.7-1-4.6-1.3-4.7-1.3-4.7-1.6-4.7-1.7-4.7-2-4.7-2.1-4.7-2.2-4.7-2.5-4.6-2.6-4.7-2.8-4.7-3-4.7-3.1-4.7-3.3-0.8-0.7ZM700.5 543.9l1.7 0.3M705.2 547.1l1.7 0.4M709.9 550.1l1.7 0.5M714.6 553l1.7 0.6M719.4 555.6l1.6 0.8M724.1 558.1l1.5 0.9M728.8 560.5l1.5 1M733.5 562.6l1.5 1.1M738.2 564.6l1.5 1.2M742.9 566.4l1.5 1.4M747.6 568.1l1.5 1.4M752.3 569.6l1.5 1.5M757 570.9l1.5 1.5M761.7 572l1.4 1.7M766.4 572.9l1.4 1.8M771.1 573.7l1.4 1.9M775.8 574.3l1.4 1.9M780.5 574.7l1.4 2M785.2 575l1.4 2.1M789.9 575.1l1.4 2.1M794.6 575l1.4 2.2M799.3 574.8l1.4 2.2M804 574.3l1.3 2.3M808.7 573.7l1.3 2.4M813.4 572.9l1.3 2.5M818.1 572l1.3 2.5M822.8 570.9l1.3 2.5M827.5 569.5l1.3 2.6M832.2 567.9l1.3 2.6M836.9 566l1.3 2.7M841.6 563.8l1.3 2.8M846.3 561.4l1.2 2.8M851 558.7l1.2 2.9M855.8 555.7l1.1 3M860.5 552.5l1.1 3.1M865.2 549l1.1 3.2M869.9 545.2l1.1 3.3M874.6 541.2l1.1 3.4"/>
<path d="M498.3 644.9l4.7 0.7 4.7 0.6 4.7 0.5 4.7 0.3 4.7 0.1 4.7 0 4.7-0.1 4.7-0.3 4.7-0.4 4.7-0.5 4.7-0.7 4.7-0.8 4.7-1 4.7-1.1 4.7-1.2 4.7-1.4 4.7-1.4 4.8-1.6 4.7-1.7 4.7-1.8 4.7-1.9 4.7-2.1 4.7-2.2 4.7-2.3 4.7-2.5 4.7-2.7 4.7-2.8 4.7-3 4.7-3.2 4.7-3.3 4.7-3.6 4.7-3.8 4.7-4.1 4.7-4.2 4.7-4.6 4.7-4.8 4.7-5.1 4.7-5.4 4.7-5.8 4.7-6.1 4.7-6.5 4.7-6.8 2.6-3.9 3 1.1-3.9 6-4.7 7-4.7 6.5-4.7 6.2-4.6 5.9-4.7 5.5-4.7 5.2-4.7 4.9-4.7 4.6-4.7 4.4-4.7 4.1-4.7 3.9-4.7 3.6-4.6 3.5-4.7 3.2-4.7 3.1-4.7 2.9-4.7 2.7-4.7 2.5-4.7 2.4-4.7 2.2-4.6 2.1-4.7 2-4.7 1.8-4.7 1.7-4.7 1.6-4.7 1.5-4.7 1.3-4.7 1.3-4.7 1.1-4.6 0.9-4.7 0.8-4.7 0.7-4.7 0.6-4.7 0.4-4.7 0.2-4.7 0.2-4.7-0.1-4.7-0.1-4.6-0.3-4.7-0.5-4.7-0.5-4.7-0.8ZM503 645.6l2.3 4.9M507.7 646.2l2.3 4.8M512.4 646.7l2.3 4.8M517.1 647l2.2 4.8M521.8 647.1l2.2 4.8M526.5 647.1l2.2 4.9M531.2 647l2.2 4.8M535.9 646.7l2.2 4.9M540.6 646.3l2.2 4.9M545.3 645.8l2.2 4.8M550 645.1l2.2 4.8M554.7 644.3l2.2 4.8M559.4 643.3l2.1 4.9M564.1 642.2l2.1 4.9M568.8 641l2.1 4.8M573.5 639.6l2.1 4.9M578.2 638.2l2.1 4.8M583 636.6l2 4.8M587.7 634.9l2 4.8M592.4 633.1l2 4.8M597.1 631.2l2 4.7M601.8 629.1l1.9 4.7M606.5 626.9l1.9 4.7M611.2 624.6l1.9 4.6M615.9 622.1l1.9 4.6M620.6 619.4l1.9 4.6M625.3 616.6l1.9 4.5M630 613.6l1.9 4.4M634.7 610.4l1.9 4.4M639.4 607.1l1.8 4.2M644.1 603.5l1.8 4.2M648.8 599.7l1.8 4.1M653.5 595.6l1.8 4.1M658.2 591.4l1.8 3.9M662.9 586.8l1.8 3.9M667.6 582l1.8 3.8M672.3 576.9l1.8 3.7M677 571.5l1.8 3.6M681.7 565.7l1.7 3.5M686.4 559.6l1.7 3.4M691.1 553.1l1.7 3.4M695.8 546.3l1.7 3.2"/>
<path d="M701.4 543.5l0.8 0.7 4.7 3.3 4.7 3.1 4.7 3 4.7 2.8 4.6 2.6 4.7 2.5 4.7 2.2 4.7 2.1 4.7 2 4.7 1.7 4.7 1.6 4.7 1.3 4.6 1.3 4.7 1 4.7 0.9 4.7 0.6 4.7 0.5 4.7 0.4 4.7 0.1 4.7 0 4.7-0.2 4.6-0.4 4.7-0.5 4.7-0.7 4.7-0.9 4.7-1.1 4.7-1.3 4.7-1.6 4.7-1.8 4.7-2.1 4.6-2.4 4.7-2.6 4.7-2.9 4.7-3.1 4.7-3.4 4.7-3.7 4.7-3.9 4.7-4.3 2.3 2.2-1.3 1.2-4.6 4.1-4.7 3.8-4.7 3.6-4.7 3.3-4.6 3.1-4.7 2.8-4.7 2.5-4.6 2.3-4.7 2-4.7 1.8-4.7 1.5-4.6 1.3-4.7 1-4.7 0.9-4.7 0.6-4.6 0.5-4.7 0.3-4.7 0.2-4.7-0.1-4.6-0.2-4.7-0.4-4.7-0.6-4.6-0.7-4.7-1-4.7-1.1-4.7-1.3-4.6-1.5-4.7-1.6-4.7-1.9-4.7-2-4.6-2.2-4.7-2.3-4.7-2.6-4.7-2.7-4.6-2.9-4.7-3.1-4.7-3.3-4.2-3.1ZM702.2 544.2l1.1 0.1M706.9 547.5l1.6 0.3M711.6 550.6l1.6 0.5M716.3 553.6l1.6 0.6M721 556.4l1.5 0.7M725.6 559l1.6 0.8M730.3 561.5l1.6 0.9M735 563.7l1.6 1M739.7 565.8l1.5 1.1M744.4 567.8l1.5 1.1M749.1 569.5l1.5 1.3M753.8 571.1l1.5 1.3M758.5 572.4l1.4 1.5M763.1 573.7l1.5 1.5M767.8 574.7l1.5 1.6M772.5 575.6l1.5 1.7M777.2 576.2l1.4 1.8M781.9 576.7l1.4 1.9M786.6 577.1l1.4 1.9M791.3 577.2l1.3 2M796 577.2l1.3 2.1M800.7 577l1.3 2.1M805.3 576.6l1.4 2.2M810 576.1l1.3 2.2M814.7 575.4l1.3 2.3M819.4 574.5l1.3 2.3M824.1 573.4l1.3 2.4M828.8 572.1l1.2 2.4M833.5 570.5l1.2 2.5M838.2 568.7l1.2 2.5M842.9 566.6l1.2 2.6M847.5 564.2l1.2 2.7M852.2 561.6l1.2 2.8M856.9 558.7l1.2 2.9M861.6 555.6l1.1 2.9M866.3 552.2l1.1 3M871 548.5l1.1 3.1M875.7 544.6l1.1 3.2M881.4 543.7l-1-3.4"/>
<path d="M500.6 649.7l4.7 0.8 4.7 0.5 4.7 0.5 4.6 0.3 4.7 0.1 4.7 0.1 4.7-0.2 4.7-0.2 4.7-0.4 4.7-0.6 4.7-0.7 4.7-0.8 4.6-0.9 4.7-1.1 4.7-1.3 4.7-1.3 4.7-1.5 4.7-1.6 4.7-1.7 4.7-1.8 4.7-2 4.6-2.1 4.7-2.2 4.7-2.4 4.7-2.5 4.7-2.7 4.7-2.9 4.7-3.1 4.7-3.2 4.6-3.5 4.7-3.6 4.7-3.9 4.7-4.1 4.7-4.4 4.7-4.6 4.7-4.9 4.7-5.2 4.7-5.5 4.6-5.9 4.7-6.2 4.7-6.5 4.7-7 3.9-6 2.9 1.2-0.5 0.7-4.6 7.4-4.7 7.1-4.7 6.6-4.6 6.3-4.7 5.9-4.7 5.6-4.7 5.3-4.6 5-4.7 4.7-4.7 4.5-4.7 4.2-4.6 3.9-4.7 3.7-4.7 3.6-4.7 3.3-4.6 3.1-4.7 2.9-4.7 2.8-4.6 2.6-4.7 2.4-4.7 2.3-4.7 2.1-4.6 2-4.7 1.9-4.7 1.7-4.7 1.6-4.6 1.5-4.7 1.3-4.7 1.2-4.7 1.1-4.6 1-4.7 0.8-4.7 0.7-4.7 0.5-4.6 0.4-4.7 0.3-4.7 0.1-4.6 0-4.7-0.2-4.7-0.3-4.7-0.4-4.6-0.6-4.7-0.7ZM505.3 650.5l2.3 4.8M510 651l2.2 4.9M514.7 651.5l2.2 4.8M519.3 651.8l2.3 4.8M524 651.9l2.3 4.9M528.7 652l2.2 4.8M533.4 651.8l2.2 4.9M538.1 651.6l2.2 4.8M542.8 651.2l2.1 4.8M547.5 650.6l2.1 4.9M552.2 649.9l2.1 4.9M556.9 649.1l2.1 4.9M561.5 648.2l2.1 4.8M566.2 647.1l2.1 4.8M570.9 645.8l2.1 4.9M575.6 644.5l2.1 4.9M580.3 643l2 4.9M585 641.4l2 4.9M589.7 639.7l2 4.9M594.4 637.9l2 4.8M599.1 635.9l1.9 4.8M603.7 633.8l2 4.8M608.4 631.6l2 4.7M613.1 629.2l2 4.7M617.8 626.7l1.9 4.6M622.5 624l1.9 4.5M627.2 621.1l1.9 4.5M631.9 618l1.8 4.5M636.6 614.8l1.8 4.4M641.2 611.3l1.9 4.3M645.9 607.7l1.9 4.2M650.6 603.8l1.8 4.2M655.3 599.7l1.8 4.1M660 595.3l1.8 4M664.7 590.7l1.8 3.9M669.4 585.8l1.7 3.8M674.1 580.6l1.7 3.7M678.8 575.1l1.7 3.6M683.4 569.2l1.8 3.6M688.1 563l1.7 3.5M692.8 556.5l1.7 3.4M697.5 549.5l1.7 3.3M703.8 545.4l-0.5-1.1"/>
<path d="M704.3 544.7l4.2 3.1 4.7 3.3 4.7 3.1 4.6 2.9 4.7 2.7 4.7 2.6 4.7 2.3 4.6 2.2 4.7 2 4.7 1.9 4.7 1.6 4.6 1.5 4.7 1.3 4.7 1.1 4.7 1 4.6 0.7 4.7 0.6 4.7 0.4 4.6 0.2 4.7 0.1 4.7-0.2 4.7-0.3 4.6-0.5 4.7-0.6 4.7-0.9 4.7-1 4.6-1.3 4.7-1.5 4.7-1.8 4.7-2 4.6-2.3 4.7-2.5 4.7-2.8 4.6-3.1 4.7-3.3 4.7-3.6 4.7-3.8 4.6-4.1 1.3-1.2 2.3 2.1-2.5 2.2-4.6 4-4.7 3.8-4.7 3.5-4.6 3.2-4.7 3-4.6 2.7-4.7 2.5-4.6 2.2-4.7 2-4.7 1.7-4.6 1.4-4.7 1.2-4.6 1-4.7 0.8-4.7 0.6-4.6 0.5-4.7 0.2-4.6 0.1-4.7-0.1-4.7-0.3-4.6-0.4-4.7-0.7-4.6-0.8-4.7-1-4.6-1.3-4.7-1.3-4.7-1.6-4.6-1.7-4.7-2-4.6-2.1-4.7-2.3-4.7-2.5-4.6-2.6-4.7-2.9-4.6-3-4.7-3.2-4.6-3.4-3-2.2ZM708.5 547.8l1.7 0.2M713.2 551.1l1.6 0.3M717.9 554.2l1.6 0.4M722.5 557.1l1.6 0.5M727.2 559.8l1.6 0.7M731.9 562.4l1.5 0.7M736.6 564.7l1.5 0.9M741.2 566.9l1.6 1M745.9 568.9l1.5 1.1M750.6 570.8l1.5 1.2M755.3 572.4l1.4 1.3M759.9 573.9l1.5 1.4M764.6 575.2l1.5 1.4M769.3 576.3l1.4 1.6M774 577.3l1.4 1.6M778.6 578l1.4 1.7M783.3 578.6l1.4 1.8M788 579l1.3 1.8M792.6 579.2l1.4 1.9M797.3 579.3l1.4 1.9M802 579.1l1.3 2M806.7 578.8l1.3 2.1M811.3 578.3l1.3 2.1M816 577.7l1.3 2.1M820.7 576.8l1.3 2.2M825.4 575.8l1.2 2.2M830 574.5l1.3 2.3M834.7 573l1.2 2.4M839.4 571.2l1.2 2.5M844.1 569.2l1.2 2.5M848.7 566.9l1.2 2.6M853.4 564.4l1.2 2.6M858.1 561.6l1.1 2.7M862.7 558.5l1.2 2.8M867.4 555.2l1.1 2.9M872.1 551.6l1.1 3M876.8 547.8l1.1 3M881.4 543.7l1.1 3.1"/>
<path d="M502.9 654.6l4.7 0.7 4.6 0.6 4.7 0.4 4.7 0.3 4.7 0.2 4.6 0 4.7-0.1 4.7-0.3 4.6-0.4 4.7-0.5 4.7-0.7 4.7-0.8 4.6-1 4.7-1.1 4.7-1.2 4.7-1.3 4.6-1.5 4.7-1.6 4.7-1.7 4.7-1.9 4.6-2 4.7-2.1 4.7-2.3 4.7-2.4 4.6-2.6 4.7-2.8 4.7-2.9 4.6-3.1 4.7-3.3 4.7-3.6 4.7-3.7 4.6-3.9 4.7-4.2 4.7-4.5 4.7-4.7 4.6-5 4.7-5.3 4.7-5.6 4.7-5.9 4.6-6.3 4.7-6.6 4.7-7.1 4.6-7.4 0.5-0.7 2.9 1.1-1.7 2.9-4.7 7.5-4.6 7.1-4.7 6.7-4.6 6.4-4.7 6-4.7 5.7-4.6 5.4-4.7 5-4.6 4.8-4.7 4.6-4.7 4.2-4.6 4.1-4.7 3.8-4.6 3.5-4.7 3.4-4.6 3.2-4.7 3-4.7 2.8-4.6 2.6-4.7 2.5-4.6 2.3-4.7 2.2-4.7 2-4.6 1.9-4.7 1.7-4.6 1.6-4.7 1.5-4.7 1.3-4.6 1.3-4.7 1-4.6 1-4.7 0.8-4.6 0.7-4.7 0.5-4.7 0.4-4.6 0.3-4.7 0.1-4.6 0-4.7-0.2-4.7-0.3-4.6-0.4-4.7-0.6-4.6-0.7ZM507.6 655.3l2.2 4.8M512.2 655.9l2.3 4.8M516.9 656.3l2.2 4.8M521.6 656.6l2.2 4.8M526.3 656.8l2.2 4.8M530.9 656.8l2.2 4.8M535.6 656.7l2.2 4.8M540.3 656.4l2.1 4.8M544.9 656l2.2 4.8M549.6 655.5l2.2 4.8M554.3 654.8l2.1 4.8M559 654l2.1 4.8M563.6 653l2.1 4.8M568.3 651.9l2.1 4.9M573 650.7l2 4.8M577.7 649.4l2 4.8M582.3 647.9l2.1 4.8M587 646.3l2 4.8M591.7 644.6l2 4.8M596.4 642.7l1.9 4.8M601 640.7l2 4.8M605.7 638.6l2 4.7M610.4 636.3l1.9 4.7M615.1 633.9l1.9 4.6M619.7 631.3l1.9 4.6M624.4 628.5l1.9 4.6M629.1 625.6l1.9 4.5M633.7 622.5l1.9 4.4M638.4 619.2l1.9 4.3M643.1 615.6l1.8 4.4M647.8 611.9l1.8 4.3M652.4 608l1.8 4.1M657.1 603.8l1.8 4.1M661.8 599.3l1.8 4M666.5 594.6l1.7 3.9M671.1 589.6l1.8 3.9M675.8 584.3l1.7 3.8M680.5 578.7l1.7 3.7M685.2 572.8l1.7 3.6M689.8 566.5l1.7 3.5M694.5 559.9l1.7 3.4M699.2 552.8l1.6 3.4M703.8 545.4l1.7 3.3"/>
<path d="M707.2 545.8l3 2.2 4.6 3.4 4.7 3.2 4.6 3 4.7 2.9 4.6 2.6 4.7 2.5 4.7 2.3 4.6 2.1 4.7 2 4.6 1.7 4.7 1.6 4.7 1.3 4.6 1.3 4.7 1 4.6 0.8 4.7 0.7 4.6 0.4 4.7 0.3 4.7 0.1 4.6-0.1 4.7-0.2 4.6-0.5 4.7-0.6 4.7-0.8 4.6-1 4.7-1.2 4.6-1.4 4.7-1.7 4.7-2 4.6-2.2 4.7-2.5 4.6-2.7 4.7-3 4.6-3.2 4.7-3.5 4.7-3.8 4.6-4 2.5-2.2 2.2 2-3.6 3.2-4.6 3.9-4.7 3.7-4.6 3.4-4.7 3.2-4.6 2.9-4.7 2.7-4.6 2.4-4.7 2.1-4.6 1.9-4.6 1.6-4.7 1.4-4.6 1.1-4.7 1-4.6 0.7-4.7 0.6-4.6 0.4-4.6 0.2-4.7 0-4.6-0.1-4.7-0.4-4.6-0.5-4.7-0.8-4.6-0.9-4.7-1.1-4.6-1.2-4.6-1.5-4.7-1.7-4.6-1.8-4.7-2-4.6-2.2-4.7-2.4-4.6-2.6-4.7-2.8-4.6-2.9-4.6-3.1-4.7-3.4-4.6-3.5-1.7-1.2ZM710.2 548l1.6 0.1M714.8 551.4l1.6 0.2M719.5 554.6l1.6 0.4M724.1 557.6l1.6 0.5M728.8 560.5l1.5 0.5M733.4 563.1l1.6 0.7M738.1 565.6l1.5 0.8M742.8 567.9l1.5 0.9M747.4 570l1.5 1M752.1 572l1.5 1M756.7 573.7l1.5 1.1M761.4 575.3l1.5 1.2M766.1 576.6l1.4 1.4M770.7 577.9l1.4 1.3M775.4 578.9l1.4 1.4M780 579.7l1.4 1.5M784.7 580.4l1.4 1.6M789.3 580.8l1.4 1.7M794 581.1l1.4 1.8M798.7 581.2l1.3 1.8M803.3 581.1l1.4 1.9M808 580.9l1.3 1.9M812.6 580.4l1.3 2M817.3 579.8l1.3 2M822 579l1.2 2.1M826.6 578l1.3 2.1M831.3 576.8l1.2 2.2M835.9 575.4l1.3 2.2M840.6 573.7l1.2 2.3M845.3 571.7l1.1 2.4M849.9 569.5l1.2 2.5M854.6 567l1.1 2.6M859.2 564.3l1.2 2.6M863.9 561.3l1.1 2.7M868.5 558.1l1.2 2.7M873.2 554.6l1.1 2.8M877.9 550.8l1.1 2.9M882.5 546.8l1.1 3"/>
<path d="M505.2 659.4l4.6 0.7 4.7 0.6 4.6 0.4 4.7 0.3 4.7 0.2 4.6 0 4.7-0.1 4.6-0.3 4.7-0.4 4.7-0.5 4.6-0.7 4.7-0.8 4.6-1 4.7-1 4.6-1.3 4.7-1.3 4.7-1.5 4.6-1.6 4.7-1.7 4.6-1.9 4.7-2 4.7-2.2 4.6-2.3 4.7-2.5 4.6-2.6 4.7-2.8 4.7-3 4.6-3.2 4.7-3.4 4.6-3.5 4.7-3.8 4.6-4.1 4.7-4.2 4.7-4.6 4.6-4.8 4.7-5 4.6-5.4 4.7-5.7 4.7-6 4.6-6.4 4.7-6.7 4.6-7.1 4.7-7.5 1.7-2.9 2.9 1.1-3 5.1-4.6 7.6-4.7 7.2-4.6 6.8-4.6 6.4-4.7 6.1-4.6 5.8-4.7 5.4-4.6 5.2-4.7 4.8-4.6 4.6-4.7 4.4-4.6 4.1-4.6 3.8-4.7 3.7-4.6 3.4-4.7 3.2-4.6 3.1-4.7 2.8-4.6 2.7-4.7 2.5-4.6 2.4-4.6 2.2-4.7 2-4.6 1.9-4.7 1.8-4.6 1.6-4.7 1.5-4.6 1.3-4.6 1.2-4.7 1.1-4.6 0.9-4.7 0.8-4.6 0.7-4.7 0.5-4.6 0.4-4.7 0.3-4.6 0.1-4.6 0-4.7-0.2-4.6-0.3-4.7-0.4-4.6-0.6-4.7-0.7ZM509.8 660.1l2.3 4.7M514.5 660.7l2.2 4.7M519.1 661.1l2.3 4.7M523.8 661.4l2.2 4.7M528.5 661.6l2.2 4.7M533.1 661.6l2.2 4.7M537.8 661.5l2.1 4.7M542.4 661.2l2.2 4.7M547.1 660.8l2.1 4.7M551.8 660.3l2.1 4.7M556.4 659.6l2.1 4.7M561.1 658.8l2.1 4.7M565.7 657.8l2.1 4.8M570.4 656.8l2.1 4.7M575 655.5l2.1 4.8M579.7 654.2l2 4.8M584.4 652.7l2 4.8M589 651.1l2 4.8M593.7 649.4l2 4.7M598.3 647.5l2 4.7M603 645.5l2 4.7M607.7 643.3l1.9 4.7M612.3 641l1.9 4.6M617 638.5l1.9 4.6M621.6 635.9l1.9 4.5M626.3 633.1l1.9 4.5M631 630.1l1.8 4.4M635.6 626.9l1.9 4.4M640.3 623.5l1.8 4.4M644.9 620l1.9 4.2M649.6 616.2l1.8 4.2M654.2 612.1l1.8 4.2M658.9 607.9l1.8 4M663.6 603.3l1.7 4M668.2 598.5l1.8 4M672.9 593.5l1.7 3.8M677.5 588.1l1.8 3.8M682.2 582.4l1.7 3.7M686.9 576.4l1.7 3.6M691.5 570l1.7 3.6M696.2 563.3l1.6 3.5M700.8 556.2l1.7 3.4M705.5 548.7l1.6 3.3"/>
<path d="M710.1 546.9l1.7 1.2 4.6 3.5 4.7 3.4 4.6 3.1 4.6 2.9 4.7 2.8 4.6 2.6 4.7 2.4 4.6 2.2 4.7 2 4.6 1.8 4.7 1.7 4.6 1.5 4.6 1.2 4.7 1.1 4.6 0.9 4.7 0.8 4.6 0.5 4.7 0.4 4.6 0.1 4.7 0 4.6-0.2 4.6-0.4 4.7-0.6 4.6-0.7 4.7-1 4.6-1.1 4.7-1.4 4.6-1.6 4.6-1.9 4.7-2.1 4.6-2.4 4.7-2.7 4.6-2.9 4.7-3.2 4.6-3.4 4.7-3.7 4.6-3.9 3.6-3.2 2.3 1.8-0.2 0.2-4.6 4.1-4.7 3.8-4.6 3.6-4.6 3.3-4.7 3.1-4.6 2.9-4.6 2.5-4.6 2.4-4.7 2-4.6 1.9-4.6 1.5-4.7 1.4-4.6 1-4.6 0.9-4.6 0.7-4.7 0.6-4.6 0.3-4.6 0.1-4.7 0-4.6-0.2-4.6-0.5-4.6-0.6-4.7-0.8-4.6-0.9-4.6-1.2-4.7-1.4-4.6-1.5-4.6-1.8-4.7-1.9-4.6-2.1-4.6-2.3-4.6-2.5-4.7-2.6-4.6-2.9-4.6-3.1-4.7-3.2-4.6-3.4-4.6-3.6-0.4-0.3ZM711.8 548.1l1.6 0.1M716.4 551.6l1.6 0.2M721.1 555l1.5 0.2M725.7 558.1l1.6 0.3M730.3 561l1.6 0.5M735 563.8l1.5 0.6M739.6 566.4l1.6 0.6M744.3 568.8l1.5 0.7M748.9 571l1.5 0.8M753.6 573l1.4 0.9M758.2 574.8l1.5 1M762.9 576.5l1.4 1.1M767.5 578l1.4 1.1M772.1 579.2l1.5 1.3M776.8 580.3l1.4 1.4M781.4 581.2l1.4 1.4M786.1 582l1.4 1.4M790.7 582.5l1.4 1.5M795.4 582.9l1.3 1.6M800 583l1.3 1.7M804.7 583l1.3 1.7M809.3 582.8l1.3 1.8M813.9 582.4l1.3 1.9M818.6 581.8l1.3 1.9M823.2 581.1l1.3 1.9M827.9 580.1l1.2 2M832.5 579l1.2 2.1M837.2 577.6l1.2 2.1M841.8 576l1.2 2.2M846.4 574.1l1.2 2.2M851.1 572l1.2 2.3M855.7 569.6l1.2 2.3M860.4 566.9l1.1 2.5M865 564l1.1 2.5M869.7 560.8l1.1 2.6M874.3 557.4l1.1 2.7M879 553.7l1 2.8M883.6 549.8l1.1 2.9M889.3 548.6l-0.2-0.5"/>
<path d="M507.4 664.1l4.7 0.7 4.6 0.6 4.7 0.4 4.6 0.3 4.7 0.2 4.6 0 4.6-0.1 4.7-0.3 4.6-0.4 4.7-0.5 4.6-0.7 4.7-0.8 4.6-0.9 4.7-1.1 4.6-1.2 4.6-1.3 4.7-1.5 4.6-1.6 4.7-1.8 4.6-1.9 4.7-2 4.6-2.2 4.6-2.4 4.7-2.5 4.6-2.7 4.7-2.8 4.6-3.1 4.7-3.2 4.6-3.4 4.7-3.7 4.6-3.8 4.6-4.1 4.7-4.4 4.6-4.6 4.7-4.8 4.6-5.2 4.7-5.4 4.6-5.8 4.7-6.1 4.6-6.4 4.6-6.8 4.7-7.2 4.6-7.6 3-5.1 2.9 1-4.2 7.4-4.7 7.7-4.6 7.2-4.6 6.9-4.7 6.5-4.6 6.2-4.6 5.8-4.6 5.5-4.7 5.3-4.6 4.9-4.6 4.7-4.7 4.4-4.6 4.1-4.6 4-4.7 3.7-4.6 3.4-4.6 3.3-4.6 3.1-4.7 2.9-4.6 2.7-4.6 2.6-4.7 2.4-4.6 2.2-4.6 2-4.6 2-4.7 1.7-4.6 1.7-4.6 1.4-4.7 1.4-4.6 1.2-4.6 1.1-4.7 0.9-4.6 0.8-4.6 0.6-4.6 0.6-4.7 0.4-4.6 0.2-4.6 0.1-4.7 0-4.6-0.2-4.6-0.2-4.6-0.5-4.7-0.5-4.6-0.7ZM512.1 664.8l2.2 4.7M516.7 665.4l2.3 4.6M521.4 665.8l2.2 4.7M526 666.1l2.2 4.6M530.7 666.3l2.1 4.6M535.3 666.3l2.2 4.6M539.9 666.2l2.2 4.6M544.6 665.9l2.1 4.7M549.2 665.5l2.2 4.7M553.9 665l2.1 4.6M558.5 664.3l2.1 4.7M563.2 663.5l2 4.7M567.8 662.6l2.1 4.7M572.5 661.5l2 4.7M577.1 660.3l2 4.7M581.7 659l2.1 4.6M586.4 657.5l2 4.7M591 655.9l2 4.6M595.7 654.1l2 4.7M600.3 652.2l2 4.6M605 650.2l1.9 4.6M609.6 648l1.9 4.6M614.2 645.6l2 4.6M618.9 643.1l1.9 4.5M623.5 640.4l1.9 4.5M628.2 637.6l1.9 4.4M632.8 634.5l1.9 4.4M637.5 631.3l1.8 4.3M642.1 627.9l1.8 4.3M646.8 624.2l1.8 4.3M651.4 620.4l1.8 4.1M656 616.3l1.8 4.1M660.7 611.9l1.8 4.1M665.3 607.3l1.8 4M670 602.5l1.7 3.9M674.6 597.3l1.8 3.8M679.3 591.9l1.7 3.7M683.9 586.1l1.7 3.7M688.6 580l1.6 3.6M693.2 573.6l1.7 3.5M697.8 566.8l1.7 3.4M702.5 559.6l1.6 3.4M707.1 552l1.7 3.3"/>
<path d="M713 547.9l0.4 0.3 4.6 3.6 4.6 3.4 4.7 3.2 4.6 3.1 4.6 2.9 4.7 2.6 4.6 2.5 4.6 2.3 4.6 2.1 4.7 1.9 4.6 1.8 4.6 1.5 4.7 1.4 4.6 1.2 4.6 0.9 4.7 0.8 4.6 0.6 4.6 0.5 4.6 0.2 4.7 0 4.6-0.1 4.6-0.3 4.7-0.6 4.6-0.7 4.6-0.9 4.6-1 4.7-1.4 4.6-1.5 4.6-1.9 4.7-2 4.6-2.4 4.6-2.5 4.6-2.9 4.7-3.1 4.6-3.3 4.6-3.6 4.7-3.8 4.6-4.1 0.2-0.2 2.2 1.7-1.4 1.3-4.6 4-4.6 3.7-4.6 3.5-4.6 3.3-4.6 3-4.6 2.8-4.7 2.5-4.6 2.2-4.6 2-4.6 1.8-4.6 1.5-4.6 1.3-4.6 1-4.7 0.9-4.6 0.6-4.6 0.5-4.6 0.2-4.6 0.1-4.6-0.1-4.6-0.3-4.7-0.5-4.6-0.6-4.6-0.9-4.6-1-4.6-1.3-4.6-1.4-4.7-1.7-4.6-1.8-4.6-2-4.6-2.2-4.6-2.4-4.6-2.5-4.6-2.8-4.7-3-4.6-3.1-4.6-3.4-4.6-3.5-3.7-3ZM713.4 548.2l0.4-0.1M718 551.8l1.6 0M722.6 555.2l1.6 0.1M727.3 558.4l1.5 0.3M731.9 561.5l1.5 0.3M736.5 564.4l1.6 0.4M741.2 567l1.5 0.6M745.8 569.5l1.5 0.6M750.4 571.8l1.5 0.7M755 573.9l1.5 0.8M759.7 575.8l1.4 0.9M764.3 577.6l1.4 0.9M768.9 579.1l1.5 1.1M773.6 580.5l1.4 1.1M778.2 581.7l1.4 1.2M782.8 582.6l1.4 1.3M787.5 583.4l1.3 1.4M792.1 584l1.3 1.4M796.7 584.5l1.4 1.4M801.3 584.7l1.4 1.5M806 584.7l1.3 1.6M810.6 584.6l1.3 1.6M815.2 584.3l1.3 1.7M819.9 583.7l1.2 1.8M824.5 583l1.2 1.9M829.1 582.1l1.3 1.9M833.7 581.1l1.3 1.9M838.4 579.7l1.2 2M843 578.2l1.2 2M847.6 576.3l1.2 2.1M852.3 574.3l1.1 2.1M856.9 571.9l1.1 2.3M861.5 569.4l1.2 2.3M866.1 566.5l1.2 2.4M870.8 563.4l1.1 2.5M875.4 560.1l1.1 2.5M880 556.5l1.1 2.6M884.7 552.7l1 2.7M889.3 548.6l1 2.8"/>
<path d="M509.7 668.8l4.6 0.7 4.7 0.5 4.6 0.5 4.6 0.2 4.6 0.2 4.7 0 4.6-0.1 4.6-0.2 4.7-0.4 4.6-0.6 4.6-0.6 4.6-0.8 4.7-0.9 4.6-1.1 4.6-1.2 4.7-1.4 4.6-1.4 4.6-1.7 4.7-1.7 4.6-2 4.6-2 4.6-2.2 4.7-2.4 4.6-2.6 4.6-2.7 4.7-2.9 4.6-3.1 4.6-3.3 4.6-3.4 4.7-3.7 4.6-4 4.6-4.1 4.7-4.4 4.6-4.7 4.6-4.9 4.7-5.3 4.6-5.5 4.6-5.8 4.6-6.2 4.7-6.5 4.6-6.9 4.6-7.2 4.7-7.7 4.2-7.4 2.9 0.9-0.9 1.7-4.6 8.1-4.6 7.8-4.7 7.3-4.6 6.9-4.6 6.6-4.6 6.3-4.6 5.9-4.6 5.6-4.6 5.2-4.7 5-4.6 4.8-4.6 4.4-4.6 4.3-4.6 3.9-4.6 3.8-4.6 3.5-4.7 3.3-4.6 3.2-4.6 2.9-4.6 2.8-4.6 2.5-4.6 2.5-4.6 2.2-4.7 2.1-4.6 1.9-4.6 1.8-4.6 1.6-4.6 1.5-4.6 1.4-4.6 1.2-4.7 1-4.6 0.9-4.6 0.8-4.6 0.7-4.6 0.5-4.6 0.4-4.7 0.2-4.6 0.1-4.6 0-4.6-0.1-4.6-0.3-4.6-0.4-4.6-0.6-4.7-0.7ZM514.3 669.5l2.3 4.5M519 670l2.2 4.6M523.6 670.5l2.2 4.5M528.2 670.7l2.2 4.6M532.8 670.9l2.2 4.5M537.5 670.9l2.1 4.5M542.1 670.8l2.1 4.5M546.7 670.6l2.2 4.5M551.4 670.2l2.1 4.5M556 669.6l2.1 4.6M560.6 669l2.1 4.5M565.2 668.2l2.1 4.5M569.9 667.3l2 4.5M574.5 666.2l2.1 4.6M579.1 665l2.1 4.6M583.8 663.6l2 4.6M588.4 662.2l2 4.5M593 660.5l2 4.6M597.7 658.8l1.9 4.5M602.3 656.8l1.9 4.6M606.9 654.8l2 4.5M611.5 652.6l2 4.5M616.2 650.2l1.9 4.4M620.8 647.6l1.9 4.5M625.4 644.9l1.9 4.4M630.1 642l1.8 4.4M634.7 638.9l1.8 4.3M639.3 635.6l1.9 4.3M643.9 632.2l1.9 4.2M648.6 628.5l1.8 4.1M653.2 624.5l1.8 4.2M657.8 620.4l1.8 4M662.5 616l1.7 4M667.1 611.3l1.7 3.9M671.7 606.4l1.8 3.8M676.4 601.1l1.7 3.9M681 595.6l1.7 3.8M685.6 589.8l1.7 3.7M690.2 583.6l1.7 3.6M694.9 577.1l1.6 3.5M699.5 570.2l1.6 3.5M704.1 563l1.7 3.4M708.8 555.3l1.6 3.3M715 550.5l-1.2-2.4"/>
<path d="M715.9 548.8l3.7 3 4.6 3.5 4.6 3.4 4.6 3.1 4.7 3 4.6 2.8 4.6 2.5 4.6 2.4 4.6 2.2 4.6 2 4.6 1.8 4.7 1.7 4.6 1.4 4.6 1.3 4.6 1 4.6 0.9 4.6 0.6 4.7 0.5 4.6 0.3 4.6 0.1 4.6-0.1 4.6-0.2 4.6-0.5 4.6-0.6 4.7-0.9 4.6-1 4.6-1.3 4.6-1.5 4.6-1.8 4.6-2 4.6-2.2 4.7-2.5 4.6-2.8 4.6-3 4.6-3.3 4.6-3.5 4.6-3.7 4.6-4 1.4-1.3 2.3 1.6-2.6 2.3-4.6 3.9-4.6 3.7-4.6 3.4-4.6 3.2-4.6 3-4.6 2.6-4.6 2.5-4.6 2.2-4.6 1.9-4.6 1.7-4.6 1.5-4.6 1.2-4.6 0.9-4.6 0.8-4.6 0.6-4.6 0.5-4.6 0.2-4.6 0-4.6-0.2-4.6-0.3-4.6-0.6-4.6-0.7-4.6-0.9-4.6-1.2-4.6-1.3-4.6-1.5-4.6-1.7-4.6-1.9-4.6-2.1-4.6-2.3-4.6-2.5-4.6-2.6-4.6-2.9-4.6-3-4.6-3.3-4.6-3.4-4.6-3.7-2.4-1.9ZM719.6 551.8l1.6-0.1M724.2 555.3l1.6 0.1M728.8 558.7l1.6 0.1M733.4 561.8l1.6 0.3M738.1 564.8l1.5 0.3M742.7 567.6l1.5 0.4M747.3 570.1l1.5 0.5M751.9 572.5l1.5 0.6M756.5 574.7l1.5 0.7M761.1 576.7l1.5 0.8M765.7 578.5l1.5 0.9M770.4 580.2l1.4 0.9M775 581.6l1.4 1M779.6 582.9l1.4 1M784.2 583.9l1.4 1.2M788.8 584.8l1.4 1.2M793.4 585.4l1.4 1.3M798.1 585.9l1.3 1.4M802.7 586.2l1.3 1.4M807.3 586.3l1.3 1.5M811.9 586.2l1.3 1.6M816.5 586l1.3 1.6M821.1 585.5l1.3 1.6M825.7 584.9l1.3 1.6M830.4 584l1.2 1.7M835 583l1.2 1.8M839.6 581.7l1.2 1.9M844.2 580.2l1.2 1.9M848.8 578.4l1.2 2M853.4 576.4l1.2 2.1M858 574.2l1.2 2.1M862.7 571.7l1.1 2.1M867.3 568.9l1.1 2.3M871.9 565.9l1.1 2.3M876.5 562.6l1.1 2.4M881.1 559.1l1.1 2.5M885.7 555.4l1.1 2.5M890.3 551.4l1.1 2.6"/>
<path d="M511.9 673.3l4.7 0.7 4.6 0.6 4.6 0.4 4.6 0.3 4.6 0.1 4.6 0 4.6-0.1 4.7-0.2 4.6-0.4 4.6-0.5 4.6-0.7 4.6-0.8 4.6-0.9 4.7-1 4.6-1.2 4.6-1.4 4.6-1.5 4.6-1.6 4.6-1.8 4.6-1.9 4.7-2.1 4.6-2.2 4.6-2.5 4.6-2.5 4.6-2.8 4.6-2.9 4.6-3.2 4.7-3.3 4.6-3.5 4.6-3.8 4.6-3.9 4.6-4.3 4.6-4.4 4.6-4.8 4.7-5 4.6-5.2 4.6-5.6 4.6-5.9 4.6-6.3 4.6-6.6 4.6-6.9 4.7-7.3 4.6-7.8 4.6-8.1 0.9-1.7 2.9 1-2.2 4-4.6 8.2-4.6 7.8-4.6 7.4-4.6 7-4.6 6.6-4.6 6.3-4.6 6-4.6 5.6-4.6 5.4-4.6 5-4.6 4.8-4.6 4.5-4.6 4.3-4.6 4-4.6 3.8-4.6 3.6-4.6 3.4-4.6 3.1-4.6 3-4.6 2.8-4.6 2.6-4.6 2.5-4.6 2.2-4.6 2.1-4.6 2-4.6 1.8-4.6 1.6-4.6 1.5-4.6 1.3-4.6 1.2-4.6 1.1-4.6 0.9-4.6 0.8-4.6 0.6-4.6 0.5-4.6 0.4-4.6 0.2-4.6 0.2-4.6-0.1-4.6-0.1-4.6-0.3-4.6-0.4-4.6-0.6-4.6-0.7ZM516.6 674l2.2 4.4M521.2 674.6l2.2 4.4M525.8 675l2.2 4.4M530.4 675.3l2.2 4.4M535 675.4l2.2 4.4M539.6 675.4l2.2 4.5M544.2 675.3l2.2 4.4M548.9 675.1l2.1 4.4M553.5 674.7l2.1 4.4M558.1 674.2l2.1 4.4M562.7 673.5l2.1 4.5M567.3 672.7l2.1 4.5M571.9 671.8l2.1 4.5M576.6 670.8l2 4.4M581.2 669.6l2 4.4M585.8 668.2l2 4.5M590.4 666.7l2 4.5M595 665.1l2 4.5M599.6 663.3l2 4.5M604.2 661.4l2 4.4M608.9 659.3l1.9 4.4M613.5 657.1l1.9 4.4M618.1 654.6l1.9 4.4M622.7 652.1l1.9 4.3M627.3 649.3l1.9 4.3M631.9 646.4l1.9 4.2M636.5 643.2l1.9 4.3M641.2 639.9l1.8 4.2M645.8 636.4l1.8 4.1M650.4 632.6l1.8 4.1M655 628.7l1.8 4M659.6 624.4l1.8 4M664.2 620l1.8 3.9M668.8 615.2l1.8 3.9M673.5 610.2l1.7 3.9M678.1 605l1.7 3.7M682.7 599.4l1.7 3.7M687.3 593.5l1.7 3.6M691.9 587.2l1.7 3.6M696.5 580.6l1.7 3.6M701.1 573.7l1.7 3.5M705.8 566.4l1.6 3.4M710.4 558.6l1.6 3.4M715 550.5l1.6 3.3"/>
<path d="M718.8 549.8l2.4 1.9 4.6 3.7 4.6 3.4 4.6 3.3 4.6 3 4.6 2.9 4.6 2.6 4.6 2.5 4.6 2.3 4.6 2.1 4.6 1.9 4.6 1.7 4.6 1.5 4.6 1.3 4.6 1.2 4.6 0.9 4.6 0.7 4.6 0.6 4.6 0.3 4.6 0.2 4.6 0 4.6-0.2 4.6-0.5 4.6-0.6 4.6-0.8 4.6-0.9 4.6-1.2 4.6-1.5 4.6-1.7 4.6-1.9 4.6-2.2 4.6-2.5 4.6-2.6 4.6-3 4.6-3.2 4.6-3.4 4.6-3.7 4.6-3.9 2.6-2.3 2.2 1.5-3.8 3.3-4.6 3.9-4.5 3.6-4.6 3.3-4.6 3.1-4.6 2.9-4.6 2.6-4.6 2.3-4.6 2.2-4.5 1.8-4.6 1.7-4.6 1.4-4.6 1.1-4.6 1-4.6 0.7-4.6 0.5-4.5 0.4-4.6 0.2-4.6-0.1-4.6-0.2-4.6-0.4-4.6-0.6-4.6-0.8-4.5-1-4.6-1.2-4.6-1.4-4.6-1.6-4.6-1.8-4.6-2-4.6-2.1-4.5-2.4-4.6-2.6-4.6-2.7-4.6-3-4.6-3.1-4.6-3.4-4.6-3.5-4.5-3.7-1.2-1ZM721.2 551.7l1.6-0.1M725.8 555.4l1.5-0.1M730.4 558.8l1.5 0M735 562.1l1.5 0.1M739.6 565.1l1.5 0.2M744.2 568l1.5 0.3M748.8 570.6l1.5 0.4M753.4 573.1l1.5 0.5M758 575.4l1.4 0.6M762.6 577.5l1.4 0.6M767.2 579.4l1.4 0.7M771.8 581.1l1.4 0.8M776.4 582.6l1.4 0.9M781 583.9l1.4 1M785.6 585.1l1.4 1M790.2 586l1.3 1.1M794.8 586.7l1.3 1.2M799.4 587.3l1.3 1.2M804 587.6l1.3 1.3M808.6 587.8l1.3 1.3M813.2 587.8l1.3 1.4M817.8 587.6l1.3 1.4M822.4 587.1l1.2 1.5M827 586.5l1.2 1.6M831.6 585.7l1.2 1.7M836.2 584.8l1.2 1.6M840.8 583.6l1.2 1.7M845.4 582.1l1.2 1.8M850 580.4l1.2 1.8M854.6 578.5l1.1 1.9M859.2 576.3l1.1 1.9M863.8 573.8l1.1 2.1M868.4 571.2l1.1 2.1M873 568.2l1.1 2.2M877.6 565l1.1 2.3M882.2 561.6l1.1 2.4M886.8 557.9l1 2.5M891.4 554l1 2.5"/>
<path d="M514.2 677.7l4.6 0.7 4.6 0.6 4.6 0.4 4.6 0.3 4.6 0.1 4.6 0.1 4.6-0.2 4.6-0.2 4.6-0.4 4.6-0.5 4.6-0.6 4.6-0.8 4.6-0.9 4.6-1.1 4.6-1.2 4.6-1.3 4.6-1.5 4.6-1.6 4.6-1.8 4.6-2 4.6-2.1 4.6-2.2 4.6-2.5 4.6-2.6 4.6-2.8 4.6-3 4.6-3.1 4.6-3.4 4.6-3.6 4.6-3.8 4.6-4 4.6-4.3 4.6-4.5 4.6-4.8 4.6-5 4.6-5.4 4.6-5.6 4.6-6 4.6-6.3 4.6-6.6 4.6-7 4.6-7.4 4.6-7.8 4.6-8.2 2.2-4 2.8 0.8-3.4 6.5-4.6 8.3-4.6 7.8-4.6 7.4-4.6 7.1-4.6 6.7-4.5 6.3-4.6 6.1-4.6 5.7-4.6 5.4-4.6 5.1-4.6 4.8-4.6 4.6-4.5 4.3-4.6 4.1-4.6 3.8-4.6 3.6-4.6 3.4-4.6 3.2-4.6 3-4.5 2.9-4.6 2.6-4.6 2.4-4.6 2.3-4.6 2.1-4.6 2-4.6 1.8-4.5 1.6-4.6 1.5-4.6 1.4-4.6 1.1-4.6 1.1-4.6 0.9-4.5 0.8-4.6 0.6-4.6 0.5-4.6 0.4-4.6 0.2-4.6 0.1-4.6 0-4.5-0.1-4.6-0.3-4.6-0.4-4.6-0.6-4.6-0.7ZM518.8 678.4l2.2 4.3M523.4 679l2.2 4.3M528 679.4l2.2 4.3M532.6 679.7l2.2 4.3M537.2 679.8l2.1 4.3M541.8 679.9l2.1 4.2M546.4 679.7l2.1 4.3M551 679.5l2.1 4.3M555.6 679.1l2.1 4.3M560.2 678.6l2.1 4.3M564.8 678l2.1 4.3M569.4 677.2l2 4.3M574 676.3l2 4.3M578.6 675.2l2 4.3M583.2 674l2 4.4M587.8 672.7l2 4.3M592.4 671.2l2 4.3M597 669.6l1.9 4.3M601.6 667.8l1.9 4.3M606.2 665.8l1.9 4.3M610.8 663.7l1.9 4.3M615.4 661.5l1.9 4.2M620 659l1.9 4.3M624.6 656.4l1.9 4.3M629.2 653.6l1.8 4.2M633.8 650.6l1.8 4.2M638.4 647.5l1.8 4.1M643 644.1l1.8 4.1M647.6 640.5l1.8 4.1M652.2 636.7l1.8 4.1M656.8 632.7l1.8 4M661.4 628.4l1.7 4M666 623.9l1.7 3.9M670.6 619.1l1.7 3.9M675.2 614.1l1.7 3.8M679.8 608.7l1.7 3.8M684.4 603.1l1.7 3.7M689 597.1l1.7 3.6M693.6 590.8l1.6 3.6M698.2 584.2l1.6 3.5M702.8 577.2l1.6 3.4M707.4 569.8l1.6 3.4M712 562l1.6 3.4M716.6 553.8l1.6 3.3"/>
<path d="M721.6 550.6l1.2 1 4.5 3.7 4.6 3.5 4.6 3.4 4.6 3.1 4.6 3 4.6 2.7 4.6 2.6 4.5 2.4 4.6 2.1 4.6 2 4.6 1.8 4.6 1.6 4.6 1.4 4.6 1.2 4.5 1 4.6 0.8 4.6 0.6 4.6 0.4 4.6 0.2 4.6 0.1 4.6-0.2 4.5-0.4 4.6-0.5 4.6-0.7 4.6-1 4.6-1.1 4.6-1.4 4.6-1.7 4.5-1.8 4.6-2.2 4.6-2.3 4.6-2.6 4.6-2.9 4.6-3.1 4.6-3.3 4.5-3.6 4.6-3.9 3.8-3.3 2.2 1.3-0.4 0.4-4.5 4-4.6 3.8-4.6 3.5-4.6 3.2-4.5 3.1-4.6 2.8-4.6 2.5-4.5 2.3-4.6 2-4.6 1.9-4.6 1.5-4.5 1.4-4.6 1-4.6 0.9-4.5 0.7-4.6 0.5-4.6 0.3-4.6 0.1-4.5 0-4.6-0.3-4.6-0.5-4.5-0.7-4.6-0.9-4.6-1-4.6-1.3-4.5-1.5-4.6-1.6-4.6-1.9-4.5-2-4.6-2.3-4.6-2.4-4.5-2.7-4.6-2.8-4.6-3.1-4.6-3.2-4.5-3.4-4.6-3.7-4.5-3.7ZM722.8 551.6l1.4-0.2M727.3 555.3l1.6-0.2M731.9 558.8l1.6 0M736.5 562.2l1.5 0M741.1 565.3l1.5 0.1M745.7 568.3l1.5 0.2M750.3 571l1.5 0.3M754.9 573.6l1.4 0.4M759.4 576l1.5 0.4M764 578.1l1.5 0.6M768.6 580.1l1.4 0.6M773.2 581.9l1.4 0.7M777.8 583.5l1.4 0.7M782.4 584.9l1.3 0.8M787 586.1l1.3 0.9M791.5 587.1l1.4 0.9M796.1 587.9l1.4 1M800.7 588.5l1.3 1.1M805.3 588.9l1.3 1.2M809.9 589.1l1.3 1.3M814.5 589.2l1.2 1.2M819.1 589l1.2 1.3M823.6 588.6l1.3 1.4M828.2 588.1l1.3 1.4M832.8 587.4l1.2 1.4M837.4 586.4l1.2 1.5M842 585.3l1.2 1.6M846.6 583.9l1.1 1.6M851.2 582.2l1.1 1.8M855.7 580.4l1.2 1.7M860.3 578.2l1.2 1.9M864.9 575.9l1.1 1.9M869.5 573.3l1.1 2M874.1 570.4l1.1 2.1M878.7 567.3l1 2.1M883.3 564l1 2.2M887.8 560.4l1.1 2.3M892.4 556.5l1.1 2.4M898 554.9l-0.3-0.8"/>
<path d="M516.4 682l4.6 0.7 4.6 0.6 4.6 0.4 4.6 0.3 4.5 0.1 4.6 0 4.6-0.1 4.6-0.2 4.6-0.4 4.6-0.5 4.6-0.6 4.5-0.8 4.6-0.9 4.6-1.1 4.6-1.1 4.6-1.4 4.6-1.5 4.5-1.6 4.6-1.8 4.6-2 4.6-2.1 4.6-2.3 4.6-2.4 4.6-2.6 4.5-2.9 4.6-3 4.6-3.2 4.6-3.4 4.6-3.6 4.6-3.8 4.6-4.1 4.5-4.3 4.6-4.6 4.6-4.8 4.6-5.1 4.6-5.4 4.6-5.7 4.6-6.1 4.5-6.3 4.6-6.7 4.6-7.1 4.6-7.4 4.6-7.8 4.6-8.3 3.4-6.5 2.8 0.8-0.1 0.3-4.5 8.7-4.6 8.3-4.6 7.9-4.6 7.5-4.5 7.1-4.6 6.7-4.6 6.4-4.5 6.1-4.6 5.7-4.6 5.5-4.6 5.1-4.5 4.9-4.6 4.6-4.6 4.4-4.5 4.1-4.6 3.9-4.6 3.6-4.6 3.5-4.5 3.2-4.6 3-4.6 2.9-4.5 2.6-4.6 2.5-4.6 2.3-4.6 2.1-4.5 2-4.6 1.8-4.6 1.7-4.5 1.4-4.6 1.4-4.6 1.1-4.6 1.1-4.5 0.9-4.6 0.7-4.6 0.7-4.5 0.5-4.6 0.4-4.6 0.2-4.5 0.1-4.6 0-4.6-0.2-4.6-0.2-4.5-0.5-4.6-0.5-4.6-0.7ZM521 682.7l2.2 4.2M525.6 683.3l2.2 4.1M530.2 683.7l2.1 4.2M534.8 684l2.1 4.1M539.3 684.1l2.2 4.2M543.9 684.1l2.2 4.2M548.5 684l2.1 4.2M553.1 683.8l2.1 4.2M557.7 683.4l2.1 4.2M562.3 682.9l2 4.2M566.9 682.3l2 4.1M571.4 681.5l2.1 4.2M576 680.6l2 4.2M580.6 679.5l2 4.2M585.2 678.4l2 4.2M589.8 677l2 4.2M594.4 675.5l1.9 4.3M598.9 673.9l2 4.2M603.5 672.1l2 4.2M608.1 670.1l1.9 4.2M612.7 668l1.9 4.2M617.3 665.7l1.9 4.2M621.9 663.3l1.9 4.1M626.5 660.7l1.8 4.1M631 657.8l1.9 4.1M635.6 654.8l1.9 4.1M640.2 651.6l1.8 4.1M644.8 648.2l1.8 4M649.4 644.6l1.8 4M654 640.8l1.8 3.9M658.6 636.7l1.7 3.9M663.1 632.4l1.8 3.8M667.7 627.8l1.8 3.8M672.3 623l1.7 3.7M676.9 617.9l1.7 3.7M681.5 612.5l1.7 3.6M686.1 606.8l1.7 3.6M690.7 600.7l1.6 3.6M695.2 594.4l1.7 3.5M699.8 587.7l1.7 3.5M704.4 580.6l1.6 3.5M709 573.2l1.6 3.4M713.6 565.4l1.6 3.3M718.2 557.1l1.6 3.3M724.3 551.7l-0.1-0.3"/>
<path d="M724.4 551.4l4.5 3.7 4.6 3.7 4.5 3.4 4.6 3.2 4.6 3.1 4.6 2.8 4.5 2.7 4.6 2.4 4.6 2.3 4.5 2 4.6 1.9 4.6 1.6 4.5 1.5 4.6 1.3 4.6 1 4.6 0.9 4.5 0.7 4.6 0.5 4.6 0.3 4.5 0 4.6-0.1 4.6-0.3 4.6-0.5 4.5-0.7 4.6-0.9 4.6-1 4.5-1.4 4.6-1.5 4.6-1.9 4.6-2 4.5-2.3 4.6-2.5 4.6-2.8 4.5-3.1 4.6-3.2 4.6-3.5 4.6-3.8 4.5-4 0.4-0.4 2.2 1.3-1.6 1.4-4.5 3.9-4.6 3.7-4.5 3.4-4.6 3.2-4.5 3-4.6 2.7-4.6 2.5-4.5 2.2-4.6 2-4.5 1.7-4.6 1.5-4.5 1.3-4.6 1.1-4.6 0.8-4.5 0.6-4.6 0.5-4.5 0.2-4.6 0.1-4.5-0.2-4.6-0.3-4.6-0.5-4.5-0.8-4.6-0.9-4.5-1.2-4.6-1.3-4.5-1.5-4.6-1.8-4.5-1.9-4.6-2.1-4.6-2.4-4.5-2.5-4.6-2.7-4.5-2.9-4.6-3.2-4.5-3.3-4.6-3.5-4.6-3.7-3.1-2.7ZM728.9 555.1l1.5-0.2M733.5 558.8l1.5-0.2M738 562.2l1.6-0.1M742.6 565.4l1.5 0M747.2 568.5l1.5 0.1M751.8 571.3l1.4 0.2M756.3 574l1.5 0.2M760.9 576.4l1.4 0.3M765.5 578.7l1.4 0.4M770 580.7l1.5 0.5M774.6 582.6l1.4 0.5M779.2 584.2l1.4 0.7M783.7 585.7l1.4 0.7M788.3 587l1.4 0.7M792.9 588l1.3 0.9M797.5 588.9l1.3 0.9M802 589.6l1.3 1M806.6 590.1l1.3 1M811.2 590.4l1.3 1M815.7 590.4l1.3 1.2M820.3 590.3l1.3 1.2M824.9 590l1.2 1.3M829.5 589.5l1.2 1.3M834 588.8l1.2 1.4M838.6 587.9l1.2 1.5M843.2 586.9l1.2 1.4M847.7 585.5l1.2 1.5M852.3 584l1.2 1.5M856.9 582.1l1.1 1.7M861.5 580.1l1.1 1.7M866 577.8l1.1 1.8M870.6 575.3l1.1 1.8M875.2 572.5l1.1 1.9M879.7 569.4l1.1 2M884.3 566.2l1.1 2M888.9 562.7l1 2.1M893.5 558.9l1 2.2M898 554.9l1 2.3"/>
<path d="M518.6 686.2l4.6 0.7 4.6 0.5 4.5 0.5 4.6 0.2 4.6 0.2 4.6 0 4.5-0.1 4.6-0.2 4.6-0.4 4.5-0.5 4.6-0.7 4.6-0.7 4.5-0.9 4.6-1.1 4.6-1.1 4.6-1.4 4.5-1.4 4.6-1.7 4.6-1.8 4.5-2 4.6-2.1 4.6-2.3 4.6-2.5 4.5-2.6 4.6-2.9 4.6-3 4.5-3.2 4.6-3.5 4.6-3.6 4.6-3.9 4.5-4.1 4.6-4.4 4.6-4.6 4.5-4.9 4.6-5.1 4.6-5.5 4.6-5.7 4.5-6.1 4.6-6.4 4.6-6.7 4.5-7.1 4.6-7.5 4.6-7.9 4.6-8.3 4.5-8.7 0.1-0.3 2.9 0.8-1.4 2.7-4.6 8.8-4.5 8.3-4.6 7.9-4.5 7.6-4.6 7.1-4.6 6.8-4.5 6.4-4.6 6.2-4.5 5.7-4.6 5.5-4.5 5.2-4.6 4.9-4.6 4.7-4.5 4.4-4.6 4.1-4.5 3.9-4.6 3.7-4.5 3.5-4.6 3.3-4.6 3-4.5 2.9-4.6 2.6-4.5 2.5-4.6 2.4-4.5 2.1-4.6 2-4.5 1.8-4.6 1.6-4.6 1.5-4.5 1.3-4.6 1.2-4.5 1-4.6 0.9-4.5 0.8-4.6 0.6-4.6 0.5-4.5 0.4-4.6 0.2-4.5 0.1-4.6 0-4.5-0.2-4.6-0.2-4.6-0.4-4.5-0.6-4.6-0.7ZM523.2 686.9l2.2 4M527.8 687.4l2.1 4.1M532.3 687.9l2.2 4M536.9 688.1l2.2 4M541.5 688.3l2.1 4M546.1 688.3l2.1 4M550.6 688.2l2.1 4M555.2 688l2.1 4M559.8 687.6l2 4M564.3 687.1l2.1 4M568.9 686.4l2.1 4.1M573.5 685.7l2 4M578 684.8l2.1 4M582.6 683.7l2 4.1M587.2 682.6l2 4M591.8 681.2l1.9 4.1M596.3 679.8l2 4M600.9 678.1l2 4.1M605.5 676.3l1.9 4.1M610 674.3l2 4.1M614.6 672.2l1.9 4.1M619.2 669.9l1.9 4M623.8 667.4l1.8 4M628.3 664.8l1.9 4M632.9 661.9l1.8 4M637.5 658.9l1.8 4M642 655.7l1.9 3.9M646.6 652.2l1.8 3.9M651.2 648.6l1.8 3.8M655.8 644.7l1.7 3.8M660.3 640.6l1.8 3.8M664.9 636.2l1.7 3.8M669.5 631.6l1.7 3.7M674 626.7l1.8 3.7M678.6 621.6l1.7 3.6M683.2 616.1l1.7 3.6M687.8 610.4l1.6 3.6M692.3 604.3l1.7 3.5M696.9 597.9l1.6 3.5M701.5 591.2l1.6 3.4M706 584.1l1.7 3.4M710.6 576.6l1.6 3.3M715.2 568.7l1.6 3.3M719.8 560.4l1.5 3.3M724.3 551.7l1.6 3.2"/>
<path d="M727.3 552.2l3.1 2.7 4.6 3.7 4.6 3.5 4.5 3.3 4.6 3.2 4.5 2.9 4.6 2.7 4.5 2.5 4.6 2.4 4.6 2.1 4.5 1.9 4.6 1.8 4.5 1.5 4.6 1.3 4.5 1.2 4.6 0.9 4.5 0.8 4.6 0.5 4.6 0.3 4.5 0.2 4.6-0.1 4.5-0.2 4.6-0.5 4.5-0.6 4.6-0.8 4.6-1.1 4.5-1.3 4.6-1.5 4.5-1.7 4.6-2 4.5-2.2 4.6-2.5 4.6-2.7 4.5-3 4.6-3.2 4.5-3.4 4.6-3.7 4.5-3.9 1.6-1.4 2.2 1.2-2.8 2.4-4.5 3.8-4.5 3.6-4.6 3.4-4.5 3.1-4.6 2.9-4.5 2.6-4.5 2.4-4.6 2.2-4.5 1.9-4.6 1.7-4.5 1.5-4.6 1.2-4.5 1-4.5 0.7-4.6 0.6-4.5 0.4-4.6 0.2-4.5 0-4.6-0.2-4.5-0.4-4.5-0.6-4.6-0.8-4.5-1-4.6-1.2-4.5-1.4-4.6-1.6-4.5-1.8-4.5-2-4.6-2.3-4.5-2.4-4.6-2.6-4.5-2.8-4.6-3-4.5-3.2-4.5-3.4-4.6-3.6-4.5-3.8-1.9-1.7ZM730.4 554.9l1.6-0.4M735 558.6l1.5-0.3M739.6 562.1l1.5-0.2M744.1 565.4l1.5-0.1M748.7 568.6l1.4-0.1M753.2 571.5l1.5 0M757.8 574.2l1.4 0.1M762.3 576.7l1.5 0.2M766.9 579.1l1.4 0.2M771.5 581.2l1.4 0.4M776 583.1l1.4 0.5M780.6 584.9l1.3 0.5M785.1 586.4l1.4 0.6M789.7 587.7l1.3 0.7M794.2 588.9l1.4 0.7M798.8 589.8l1.3 0.8M803.3 590.6l1.4 0.8M807.9 591.1l1.3 0.9M812.5 591.4l1.2 1M817 591.6l1.3 1M821.6 591.5l1.2 1.1M826.1 591.3l1.3 1.1M830.7 590.8l1.2 1.2M835.2 590.2l1.3 1.2M839.8 589.4l1.2 1.3M844.4 588.3l1.1 1.4M848.9 587l1.2 1.5M853.5 585.5l1.1 1.5M858 583.8l1.2 1.5M862.6 581.8l1.1 1.6M867.1 579.6l1.2 1.6M871.7 577.1l1.1 1.7M876.3 574.4l1 1.8M880.8 571.4l1.1 1.9M885.4 568.2l1 2M889.9 564.8l1.1 2M894.5 561.1l1 2.1M899 557.2l1 2.2"/>
<path d="M520.8 690.2l4.6 0.7 4.5 0.6 4.6 0.4 4.6 0.2 4.5 0.2 4.6 0 4.5-0.1 4.6-0.2 4.5-0.4 4.6-0.5 4.6-0.6 4.5-0.8 4.6-0.9 4.5-1 4.6-1.2 4.5-1.3 4.6-1.5 4.6-1.6 4.5-1.8 4.6-2 4.5-2.1 4.6-2.4 4.5-2.5 4.6-2.6 4.5-2.9 4.6-3 4.6-3.3 4.5-3.5 4.6-3.7 4.5-3.9 4.6-4.1 4.5-4.4 4.6-4.7 4.6-4.9 4.5-5.2 4.6-5.5 4.5-5.7 4.6-6.2 4.5-6.4 4.6-6.8 4.6-7.1 4.5-7.6 4.6-7.9 4.5-8.3 4.6-8.8 1.4-2.7 2.8 0.6-2.7 5.4-4.5 8.8-4.6 8.3-4.5 8-4.5 7.5-4.6 7.2-4.5 6.8-4.6 6.5-4.5 6.1-4.5 5.8-4.6 5.6-4.5 5.2-4.6 4.9-4.5 4.7-4.6 4.4-4.5 4.2-4.5 3.9-4.6 3.8-4.5 3.4-4.6 3.3-4.5 3.1-4.6 2.9-4.5 2.7-4.5 2.5-4.6 2.3-4.5 2.2-4.6 1.9-4.5 1.8-4.6 1.7-4.5 1.5-4.5 1.3-4.6 1.1-4.5 1-4.6 0.9-4.5 0.8-4.6 0.6-4.5 0.5-4.5 0.4-4.6 0.2-4.5 0.1-4.6 0-4.5-0.2-4.6-0.2-4.5-0.4-4.5-0.6-4.6-0.6ZM525.4 690.9l2.2 3.8M529.9 691.5l2.2 3.8M534.5 691.9l2.1 3.8M539.1 692.1l2.1 3.8M543.6 692.3l2.1 3.8M548.2 692.3l2.1 3.8M552.7 692.2l2.1 3.8M557.3 692l2.1 3.8M561.8 691.6l2.1 3.8M566.4 691.1l2 3.8M571 690.5l2 3.8M575.5 689.7l2 3.8M580.1 688.8l2 3.8M584.6 687.8l2 3.8M589.2 686.6l2 3.9M593.7 685.3l2 3.9M598.3 683.8l1.9 3.9M602.9 682.2l1.9 3.8M607.4 680.4l1.9 3.8M612 678.4l1.9 3.9M616.5 676.3l1.9 3.8M621.1 673.9l1.9 3.9M625.6 671.4l1.9 3.9M630.2 668.8l1.8 3.8M634.7 665.9l1.9 3.8M639.3 662.9l1.8 3.7M643.9 659.6l1.8 3.7M648.4 656.1l1.8 3.8M653 652.4l1.8 3.7M657.5 648.5l1.8 3.7M662.1 644.4l1.7 3.6M666.6 640l1.8 3.6M671.2 635.3l1.7 3.6M675.8 630.4l1.7 3.6M680.3 625.2l1.7 3.6M684.9 619.7l1.7 3.5M689.4 614l1.7 3.4M694 607.8l1.6 3.5M698.5 601.4l1.7 3.4M703.1 594.6l1.6 3.4M707.7 587.5l1.6 3.3M712.2 579.9l1.6 3.4M716.8 572l1.5 3.3M721.3 563.7l1.6 3.3M725.9 554.9l1.5 3.3"/>
<path d="M730.1 552.8l1.9 1.7 4.5 3.8 4.6 3.6 4.5 3.4 4.5 3.2 4.6 3 4.5 2.8 4.6 2.6 4.5 2.4 4.6 2.3 4.5 2 4.5 1.8 4.6 1.6 4.5 1.4 4.6 1.2 4.5 1 4.6 0.8 4.5 0.6 4.5 0.4 4.6 0.2 4.5 0 4.6-0.2 4.5-0.4 4.6-0.6 4.5-0.7 4.5-1 4.6-1.2 4.5-1.5 4.6-1.7 4.5-1.9 4.6-2.2 4.5-2.4 4.5-2.6 4.6-2.9 4.5-3.1 4.6-3.4 4.5-3.6 4.5-3.8 2.8-2.4 2.2 1-3.9 3.5-4.6 3.7-4.5 3.5-4.5 3.3-4.6 3.1-4.5 2.8-4.5 2.5-4.5 2.4-4.6 2.1-4.5 1.8-4.5 1.6-4.6 1.4-4.5 1.2-4.5 0.9-4.5 0.8-4.6 0.5-4.5 0.4-4.5 0.1-4.6-0.1-4.5-0.2-4.5-0.5-4.5-0.7-4.6-0.8-4.5-1.1-4.5-1.3-4.6-1.5-4.5-1.6-4.5-1.9-4.5-2.1-4.6-2.3-4.5-2.5-4.5-2.6-4.6-2.9-4.5-3.1-4.5-3.3-4.5-3.5-4.6-3.7-4.5-3.9-0.6-0.5ZM732 554.5l1.5-0.5M736.5 558.3l1.5-0.4M741.1 561.9l1.5-0.3M745.6 565.3l1.5-0.2M750.1 568.5l1.5-0.1M754.7 571.5l1.4 0M759.2 574.3l1.5 0.1M763.8 576.9l1.4 0.1M768.3 579.3l1.4 0.2M772.9 581.6l1.4 0.2M777.4 583.6l1.4 0.3M781.9 585.4l1.4 0.4M786.5 587l1.3 0.4M791 588.4l1.4 0.5M795.6 589.6l1.3 0.6M800.1 590.6l1.3 0.7M804.7 591.4l1.3 0.7M809.2 592l1.3 0.8M813.7 592.4l1.3 0.9M818.3 592.6l1.2 0.9M822.8 592.6l1.3 1M827.4 592.4l1.2 1.1M831.9 592l1.2 1.1M836.5 591.4l1.2 1.2M841 590.7l1.2 1.1M845.5 589.7l1.2 1.2M850.1 588.5l1.1 1.2M854.6 587l1.2 1.3M859.2 585.3l1.1 1.4M863.7 583.4l1.1 1.5M868.3 581.2l1.1 1.6M872.8 578.8l1.1 1.6M877.3 576.2l1.1 1.7M881.9 573.3l1 1.8M886.4 570.2l1.1 1.8M891 566.8l1 1.9M895.5 563.2l1 2M900 559.4l1.1 2.1"/>
<path d="M523 694.1l4.6 0.6 4.5 0.6 4.5 0.4 4.6 0.2 4.5 0.2 4.6 0 4.5-0.1 4.6-0.2 4.5-0.4 4.5-0.5 4.6-0.6 4.5-0.8 4.6-0.9 4.5-1 4.6-1.1 4.5-1.3 4.5-1.5 4.6-1.7 4.5-1.8 4.6-1.9 4.5-2.2 4.6-2.3 4.5-2.5 4.5-2.7 4.6-2.9 4.5-3.1 4.6-3.3 4.5-3.4 4.6-3.8 4.5-3.9 4.5-4.2 4.6-4.4 4.5-4.7 4.6-4.9 4.5-5.2 4.6-5.6 4.5-5.8 4.5-6.1 4.6-6.5 4.5-6.8 4.6-7.2 4.5-7.5 4.5-8 4.6-8.3 4.5-8.8 2.7-5.4 2.8 0.7-3.9 7.9-4.6 8.8-4.5 8.3-4.5 8-4.5 7.6-4.6 7.2-4.5 6.8-4.5 6.5-4.5 6.2-4.6 5.8-4.5 5.6-4.5 5.2-4.6 5-4.5 4.7-4.5 4.4-4.5 4.2-4.6 4-4.5 3.7-4.5 3.5-4.6 3.3-4.5 3.1-4.5 2.9-4.5 2.7-4.6 2.5-4.5 2.3-4.5 2.2-4.6 1.9-4.5 1.9-4.5 1.6-4.5 1.5-4.6 1.3-4.5 1.1-4.5 1-4.6 0.9-4.5 0.7-4.5 0.7-4.5 0.5-4.6 0.3-4.5 0.3-4.5 0.1-4.6 0-4.5-0.2-4.5-0.3-4.5-0.4-4.6-0.5-4.5-0.7ZM527.6 694.7l2.1 3.6M532.1 695.3l2.2 3.5M536.6 695.7l2.2 3.5M541.2 695.9l2.1 3.6M545.7 696.1l2.1 3.6M550.3 696.1l2.1 3.6M554.8 696l2.1 3.6M559.4 695.8l2 3.5M563.9 695.4l2.1 3.6M568.4 694.9l2.1 3.6M573 694.3l2 3.5M577.5 693.5l2 3.6M582.1 692.6l2 3.6M586.6 691.6l2 3.6M591.2 690.5l1.9 3.6M595.7 689.2l2 3.6M600.2 687.7l2 3.6M604.8 686l1.9 3.7M609.3 684.2l1.9 3.6M613.9 682.3l1.9 3.6M618.4 680.1l1.9 3.6M623 677.8l1.8 3.6M627.5 675.3l1.9 3.6M632 672.6l1.9 3.6M636.6 669.7l1.8 3.6M641.1 666.6l1.8 3.6M645.7 663.3l1.8 3.6M650.2 659.9l1.8 3.5M654.8 656.1l1.7 3.6M659.3 652.2l1.8 3.5M663.8 648l1.8 3.5M668.4 643.6l1.7 3.5M672.9 638.9l1.7 3.5M677.5 634l1.7 3.4M682 628.8l1.7 3.4M686.6 623.2l1.6 3.4M691.1 617.4l1.7 3.4M695.6 611.3l1.7 3.3M700.2 604.8l1.6 3.3M704.7 598l1.6 3.3M709.3 590.8l1.6 3.3M713.8 583.3l1.6 3.2M718.3 575.3l1.6 3.2M722.9 567l1.5 3.2M727.4 558.2l1.6 3.2"/>
<path d="M732.9 553.5l0.6 0.5 4.5 3.9 4.6 3.7 4.5 3.5 4.5 3.3 4.5 3.1 4.6 2.9 4.5 2.6 4.5 2.5 4.6 2.3 4.5 2.1 4.5 1.9 4.5 1.6 4.6 1.5 4.5 1.3 4.5 1.1 4.6 0.8 4.5 0.7 4.5 0.5 4.5 0.2 4.6 0.1 4.5-0.1 4.5-0.4 4.6-0.5 4.5-0.8 4.5-0.9 4.5-1.2 4.6-1.4 4.5-1.6 4.5-1.8 4.6-2.1 4.5-2.4 4.5-2.5 4.5-2.8 4.6-3.1 4.5-3.3 4.5-3.5 4.6-3.7 3.9-3.5 2.2 0.9-0.6 0.6-4.5 3.9-4.6 3.7-4.5 3.4-4.5 3.2-4.5 3-4.5 2.7-4.5 2.5-4.5 2.3-4.6 2-4.5 1.8-4.5 1.6-4.5 1.3-4.5 1.1-4.5 0.9-4.5 0.7-4.6 0.5-4.5 0.2-4.5 0.1-4.5-0.1-4.5-0.3-4.5-0.5-4.5-0.8-4.6-0.9-4.5-1.1-4.5-1.4-4.5-1.5-4.5-1.8-4.5-1.9-4.5-2.2-4.6-2.3-4.5-2.6-4.5-2.7-4.5-3-4.5-3.2-4.5-3.3-4.5-3.6-4.6-3.8-3.8-3.4ZM733.5 554l0.8-0.3M738 557.9l1.5-0.5M742.6 561.6l1.5-0.4M747.1 565.1l1.5-0.3M751.6 568.4l1.5-0.3M756.1 571.5l1.5-0.2M760.7 574.4l1.4-0.1M765.2 577l1.4 0M769.7 579.5l1.4 0.1M774.3 581.8l1.4 0.1M778.8 583.9l1.4 0.2M783.3 585.8l1.4 0.2M787.8 587.4l1.4 0.4M792.4 588.9l1.3 0.4M796.9 590.2l1.3 0.5M801.4 591.3l1.3 0.5M806 592.1l1.3 0.6M810.5 592.8l1.3 0.7M815 593.3l1.3 0.7M819.5 593.5l1.3 0.8M824.1 593.6l1.2 0.8M828.6 593.5l1.2 0.8M833.1 593.1l1.2 1M837.7 592.6l1.2 1M842.2 591.8l1.2 1.1M846.7 590.9l1.2 1.1M851.2 589.7l1.2 1.2M855.8 588.3l1.1 1.3M860.3 586.7l1.1 1.3M864.8 584.9l1.1 1.3M869.4 582.8l1.1 1.4M873.9 580.4l1.1 1.5M878.4 577.9l1.1 1.5M882.9 575.1l1.1 1.6M887.5 572l1 1.7M892 568.7l1 1.8M896.5 565.2l1 1.9M901.1 561.5l1 1.9M906.6 559.5l-0.5-1"/>
<path d="M525.2 697.6l4.5 0.7 4.6 0.5 4.5 0.4 4.5 0.3 4.5 0.2 4.6 0 4.5-0.1 4.5-0.3 4.6-0.3 4.5-0.5 4.5-0.7 4.5-0.7 4.6-0.9 4.5-1 4.5-1.1 4.6-1.3 4.5-1.5 4.5-1.6 4.5-1.9 4.6-1.9 4.5-2.2 4.5-2.3 4.6-2.5 4.5-2.7 4.5-2.9 4.5-3.1 4.6-3.3 4.5-3.5 4.5-3.7 4.6-4 4.5-4.2 4.5-4.4 4.5-4.7 4.6-5 4.5-5.2 4.5-5.6 4.6-5.8 4.5-6.2 4.5-6.5 4.5-6.8 4.6-7.2 4.5-7.6 4.5-8 4.5-8.3 4.6-8.8 3.9-7.9 2.8 0.5-0.7 1.3-4.5 9.2-4.5 8.8-4.5 8.4-4.5 8-4.5 7.5-4.6 7.2-4.5 6.9-4.5 6.5-4.5 6.2-4.5 5.8-4.5 5.6-4.5 5.2-4.6 5-4.5 4.7-4.5 4.5-4.5 4.2-4.5 3.9-4.5 3.8-4.5 3.5-4.6 3.3-4.5 3.1-4.5 2.9-4.5 2.7-4.5 2.5-4.5 2.3-4.5 2.2-4.6 2-4.5 1.8-4.5 1.6-4.5 1.5-4.5 1.3-4.5 1.1-4.5 1-4.6 0.9-4.5 0.7-4.5 0.6-4.5 0.5-4.5 0.4-4.5 0.2-4.5 0.1-4.6 0-4.5-0.1-4.5-0.3-4.5-0.4-4.5-0.6-4.5-0.6ZM529.7 698.3l2.2 3.2M534.3 698.8l2.1 3.3M538.8 699.2l2.1 3.3M543.3 699.5l2.1 3.3M547.8 699.7l2.1 3.2M552.4 699.7l2.1 3.2M556.9 699.6l2.1 3.2M561.4 699.3l2.1 3.3M566 699l2 3.2M570.5 698.5l2 3.2M575 697.8l2 3.3M579.5 697.1l2 3.3M584.1 696.2l2 3.3M588.6 695.2l2 3.3M593.1 694.1l2 3.3M597.7 692.8l1.9 3.3M602.2 691.3l1.9 3.3M606.7 689.7l1.9 3.3M611.2 687.8l1.9 3.4M615.8 685.9l1.9 3.3M620.3 683.7l1.9 3.3M624.8 681.4l1.9 3.3M629.4 678.9l1.8 3.3M633.9 676.2l1.8 3.3M638.4 673.3l1.8 3.3M642.9 670.2l1.8 3.3M647.5 666.9l1.8 3.3M652 663.4l1.8 3.3M656.5 659.7l1.8 3.2M661.1 655.7l1.7 3.3M665.6 651.5l1.7 3.3M670.1 647.1l1.7 3.2M674.6 642.4l1.7 3.2M679.2 637.4l1.7 3.2M683.7 632.2l1.7 3.2M688.2 626.6l1.7 3.2M692.8 620.8l1.6 3.2M697.3 614.6l1.6 3.2M701.8 608.1l1.6 3.2M706.3 601.3l1.6 3.1M710.9 594.1l1.6 3.1M715.4 586.5l1.6 3.2M719.9 578.5l1.6 3.2M724.4 570.2l1.6 3.1M729 561.4l1.5 3.1M735 555.3l-0.7-1.6"/>
<path d="M735.7 554l3.8 3.4 4.6 3.8 4.5 3.6 4.5 3.3 4.5 3.2 4.5 3 4.5 2.7 4.5 2.6 4.6 2.3 4.5 2.2 4.5 1.9 4.5 1.8 4.5 1.5 4.5 1.4 4.5 1.1 4.6 0.9 4.5 0.8 4.5 0.5 4.5 0.3 4.5 0.1 4.5-0.1 4.5-0.2 4.6-0.5 4.5-0.7 4.5-0.9 4.5-1.1 4.5-1.3 4.5-1.6 4.5-1.8 4.6-2 4.5-2.3 4.5-2.5 4.5-2.7 4.5-3 4.5-3.2 4.5-3.4 4.6-3.7 4.5-3.9 0.6-0.6 2.1 0.8-1.8 1.6-4.5 3.8-4.5 3.6-4.5 3.4-4.5 3.1-4.5 2.9-4.5 2.7-4.5 2.4-4.5 2.2-4.5 2-4.5 1.7-4.5 1.5-4.5 1.3-4.5 1-4.5 0.9-4.5 0.6-4.5 0.5-4.5 0.2-4.5 0-4.5-0.2-4.5-0.3-4.5-0.6-4.5-0.8-4.5-1-4.5-1.2-4.5-1.4-4.5-1.6-4.5-1.8-4.5-2.1-4.5-2.2-4.5-2.4-4.5-2.6-4.5-2.9-4.5-3-4.5-3.3-4.5-3.4-4.5-3.7-4.5-3.8-2.6-2.4ZM739.5 557.4l1.5-0.6M744.1 561.2l1.4-0.6M748.6 564.8l1.4-0.5M753.1 568.1l1.4-0.4M757.6 571.3l1.4-0.3M762.1 574.3l1.4-0.3M766.6 577l1.4-0.1M771.1 579.6l1.4-0.1M775.7 581.9l1.3 0M780.2 584.1l1.3 0M784.7 586l1.3 0.2M789.2 587.8l1.3 0.2M793.7 589.3l1.3 0.3M798.2 590.7l1.3 0.3M802.7 591.8l1.3 0.4M807.3 592.7l1.2 0.5M811.8 593.5l1.2 0.5M816.3 594l1.2 0.6M820.8 594.3l1.2 0.6M825.3 594.4l1.2 0.7M829.8 594.3l1.2 0.8M834.3 594.1l1.2 0.8M838.9 593.6l1.1 0.8M843.4 592.9l1.1 0.9M847.9 592l1.1 0.9M852.4 590.9l1.1 1M856.9 589.6l1.1 1M861.4 588l1.1 1.1M865.9 586.2l1.1 1.2M870.5 584.2l1 1.2M875 581.9l1 1.3M879.5 579.4l1 1.4M884 576.7l1 1.4M888.5 573.7l1 1.5M893 570.5l1 1.6M897.5 567.1l1 1.6M902.1 563.4l0.9 1.7M906.6 559.5l0.9 1.8"/>
<path d="M527.4 700.9l4.5 0.6 4.5 0.6 4.5 0.4 4.5 0.3 4.5 0.1 4.6 0 4.5-0.1 4.5-0.2 4.5-0.4 4.5-0.5 4.5-0.6 4.5-0.7 4.6-0.9 4.5-1 4.5-1.1 4.5-1.3 4.5-1.5 4.5-1.6 4.5-1.8 4.6-2 4.5-2.2 4.5-2.3 4.5-2.5 4.5-2.7 4.5-2.9 4.5-3.1 4.6-3.3 4.5-3.5 4.5-3.8 4.5-3.9 4.5-4.2 4.5-4.5 4.5-4.7 4.6-5 4.5-5.2 4.5-5.6 4.5-5.8 4.5-6.2 4.5-6.5 4.5-6.9 4.6-7.2 4.5-7.5 4.5-8 4.5-8.4 4.5-8.8 4.5-9.2 0.7-1.3 2.7 0.4-1.9 4-4.5 9.2-4.5 8.8-4.5 8.4-4.5 7.9-4.5 7.6-4.5 7.2-4.5 6.8-4.5 6.5-4.5 6.1-4.5 5.9-4.5 5.5-4.5 5.3-4.5 5-4.5 4.7-4.5 4.4-4.5 4.2-4.5 4-4.5 3.7-4.5 3.6-4.5 3.3-4.5 3.1-4.5 2.9-4.5 2.7-4.5 2.5-4.5 2.3-4.5 2.2-4.5 1.9-4.5 1.8-4.5 1.7-4.5 1.4-4.5 1.3-4.5 1.1-4.5 1-4.5 0.9-4.5 0.7-4.5 0.6-4.5 0.5-4.5 0.4-4.5 0.2-4.5 0.1-4.5 0-4.5-0.2-4.5-0.2-4.5-0.4-4.5-0.6-4.5-0.6ZM531.9 701.5l2.1 2.9M536.4 702.1l2.1 2.9M540.9 702.5l2.1 2.9M545.4 702.8l2.1 2.8M549.9 702.9l2.1 2.9M554.5 702.9l2 2.9M559 702.8l2 2.9M563.5 702.6l2 2.9M568 702.2l2 2.9M572.5 701.7l2 2.9M577 701.1l2 2.9M581.5 700.4l2 2.9M586.1 699.5l1.9 2.9M590.6 698.5l1.9 2.9M595.1 697.4l1.9 2.9M599.6 696.1l1.9 2.9M604.1 694.6l1.9 3M608.6 693l1.9 2.9M613.1 691.2l1.9 2.9M617.7 689.2l1.8 3M622.2 687l1.8 3M626.7 684.7l1.8 3M631.2 682.2l1.8 3M635.7 679.5l1.8 3M640.2 676.6l1.8 3M644.7 673.5l1.8 3M649.3 670.2l1.7 3M653.8 666.7l1.7 2.9M658.3 662.9l1.7 3M662.8 659l1.7 2.9M667.3 654.8l1.7 2.9M671.8 650.3l1.7 3M676.3 645.6l1.7 3M680.9 640.6l1.6 3M685.4 635.4l1.6 2.9M689.9 629.8l1.6 3M694.4 624l1.6 2.9M698.9 617.8l1.6 3M703.4 611.3l1.6 3M707.9 604.4l1.6 3.1M712.5 597.2l1.5 3.1M717 589.7l1.5 3M721.5 581.7l1.5 3.1M726 573.3l1.5 3.1M730.5 564.5l1.5 3.1M735 555.3l1.5 3.1"/>
<path d="M738.4 554.4l2.6 2.4 4.5 3.8 4.5 3.7 4.5 3.4 4.5 3.3 4.5 3 4.5 2.9 4.5 2.6 4.5 2.4 4.5 2.2 4.5 2.1 4.5 1.8 4.5 1.6 4.5 1.4 4.5 1.2 4.5 1 4.5 0.8 4.5 0.6 4.5 0.3 4.5 0.2 4.5 0 4.5-0.2 4.5-0.5 4.5-0.6 4.5-0.9 4.5-1 4.5-1.3 4.5-1.5 4.5-1.7 4.5-2 4.5-2.2 4.5-2.4 4.5-2.7 4.5-2.9 4.5-3.1 4.5-3.4 4.5-3.6 4.5-3.8 1.8-1.6 2.2 0.7-3 2.6-4.5 3.7-4.5 3.6-4.4 3.2-4.5 3.1-4.5 2.8-4.5 2.6-4.5 2.4-4.5 2.1-4.5 1.9-4.4 1.7-4.5 1.4-4.5 1.3-4.5 1-4.5 0.7-4.5 0.6-4.5 0.4-4.4 0.2-4.5 0-4.5-0.3-4.5-0.4-4.5-0.7-4.5-0.8-4.5-1.1-4.4-1.2-4.5-1.5-4.5-1.7-4.5-1.9-4.5-2-4.5-2.3-4.5-2.5-4.5-2.7-4.4-2.9-4.5-3.1-4.5-3.4-4.5-3.5-4.5-3.7-4.5-3.9-1.3-1.3ZM741 556.8l1.5-0.7M745.5 560.6l1.5-0.6M750 564.3l1.5-0.6M754.5 567.7l1.5-0.5M759 571l1.5-0.4M763.5 574l1.5-0.3M768 576.9l1.4-0.3M772.5 579.5l1.4-0.2M777 581.9l1.4-0.1M781.5 584.1l1.4 0M786 586.2l1.4-0.1M790.5 588l1.4 0M795 589.6l1.4 0.1M799.5 591l1.4 0.2M804 592.2l1.3 0.2M808.5 593.2l1.3 0.3M813 594l1.3 0.3M817.5 594.6l1.3 0.4M822 594.9l1.3 0.5M826.5 595.1l1.3 0.6M831 595.1l1.3 0.6M835.5 594.9l1.2 0.6M840 594.4l1.2 0.7M844.5 593.8l1.2 0.7M849 592.9l1.2 0.9M853.5 591.9l1.2 0.9M858 590.6l1.2 0.9M862.5 589.1l1.2 1M867 587.4l1.1 1M871.5 585.4l1.1 1.1M876 583.2l1.1 1.2M880.5 580.8l1.1 1.2M885 578.1l1.1 1.3M889.5 575.2l1.1 1.4M894 572.1l1.1 1.4M898.5 568.7l1 1.6M903 565.1l1 1.6M907.5 561.3l1 1.7"/>
<path d="M529.5 703.8l4.5 0.6 4.5 0.6 4.5 0.4 4.5 0.2 4.5 0.2 4.5 0 4.5-0.1 4.5-0.2 4.5-0.4 4.5-0.5 4.5-0.6 4.5-0.7 4.5-0.9 4.5-1 4.5-1.1 4.5-1.3 4.5-1.4 4.5-1.7 4.5-1.8 4.5-1.9 4.5-2.2 4.5-2.3 4.5-2.5 4.5-2.7 4.5-2.9 4.5-3.1 4.5-3.3 4.5-3.6 4.5-3.7 4.5-4 4.5-4.2 4.5-4.4 4.5-4.7 4.5-5 4.5-5.3 4.5-5.5 4.5-5.9 4.5-6.1 4.5-6.5 4.5-6.8 4.5-7.2 4.5-7.6 4.5-7.9 4.5-8.4 4.5-8.8 4.5-9.2 1.9-4 2.8 0.4-3.2 6.7-4.4 9.1-4.5 8.8-4.5 8.3-4.5 7.9-4.5 7.5-4.5 7.2-4.5 6.8-4.4 6.5-4.5 6.1-4.5 5.8-4.5 5.6-4.5 5.2-4.5 5-4.5 4.7-4.4 4.4-4.5 4.2-4.5 4-4.5 3.7-4.5 3.5-4.5 3.3-4.5 3.1-4.4 2.9-4.5 2.7-4.5 2.5-4.5 2.3-4.5 2.1-4.5 2-4.5 1.8-4.5 1.6-4.4 1.5-4.5 1.2-4.5 1.1-4.5 1-4.5 0.9-4.5 0.7-4.5 0.6-4.4 0.5-4.5 0.4-4.5 0.2-4.5 0.1-4.5 0-4.5-0.2-4.5-0.2-4.4-0.4-4.5-0.6-4.5-0.6ZM534 704.4l2.2 2.5M538.5 705l2.2 2.5M543 705.4l2.1 2.5M547.5 705.6l2.1 2.5M552 705.8l2.1 2.5M556.5 705.8l2.1 2.5M561 705.7l2.1 2.5M565.5 705.5l2.1 2.5M570 705.1l2.1 2.5M574.5 704.6l2 2.5M579 704l2 2.5M583.5 703.3l2 2.5M588 702.4l2 2.5M592.5 701.4l2 2.5M597 700.3l2 2.5M601.5 699l2 2.6M606 697.6l1.9 2.5M610.5 695.9l1.9 2.6M615 694.1l1.9 2.6M619.5 692.2l1.9 2.5M624 690l1.9 2.6M628.5 687.7l1.9 2.6M633 685.2l1.9 2.6M637.5 682.5l1.9 2.6M642 679.6l1.8 2.6M646.5 676.5l1.8 2.6M651 673.2l1.8 2.6M655.5 669.6l1.8 2.7M660 665.9l1.8 2.7M664.5 661.9l1.8 2.7M669 657.7l1.8 2.7M673.5 653.3l1.7 2.7M678 648.6l1.7 2.7M682.5 643.6l1.7 2.7M687 638.3l1.7 2.8M691.5 632.8l1.7 2.7M696 626.9l1.7 2.8M700.5 620.8l1.7 2.8M705 614.3l1.6 2.8M709.5 607.5l1.6 2.8M714 600.3l1.6 2.8M718.5 592.7l1.6 2.9M723 584.8l1.6 2.9M727.5 576.4l1.6 3M732 567.6l1.6 3M736.5 558.4l1.5 3.1"/>
<path d="M741.2 554.8l1.3 1.3 4.5 3.9 4.5 3.7 4.5 3.5 4.5 3.4 4.5 3.1 4.4 2.9 4.5 2.7 4.5 2.5 4.5 2.3 4.5 2 4.5 1.9 4.5 1.7 4.5 1.5 4.4 1.2 4.5 1.1 4.5 0.8 4.5 0.7 4.5 0.4 4.5 0.3 4.5 0 4.4-0.2 4.5-0.4 4.5-0.6 4.5-0.7 4.5-1 4.5-1.3 4.5-1.4 4.4-1.7 4.5-1.9 4.5-2.1 4.5-2.4 4.5-2.6 4.5-2.8 4.5-3.1 4.4-3.2 4.5-3.6 4.5-3.7 3-2.6 2.1 0.5-4.1 3.6-4.5 3.6-4.5 3.5-4.4 3.2-4.5 3-4.5 2.7-4.4 2.6-4.5 2.3-4.5 2-4.5 1.9-4.4 1.6-4.5 1.4-4.5 1.1-4.5 1-4.4 0.7-4.5 0.6-4.5 0.3-4.4 0.1-4.5-0.1-4.5-0.3-4.5-0.5-4.4-0.7-4.5-0.9-4.5-1.1-4.4-1.3-4.5-1.5-4.5-1.8-4.5-1.9-4.4-2.2-4.5-2.3-4.5-2.6-4.5-2.7-4.4-3-4.5-3.2-4.5-3.4-4.4-3.6-4.5-3.8-4.5-4-0.1-0.1ZM742.5 556.1l1.5-0.9M747 560l1.5-0.8M751.5 563.7l1.5-0.7M756 567.2l1.4-0.6M760.5 570.6l1.4-0.6M765 573.7l1.4-0.5M769.4 576.6l1.4-0.4M773.9 579.3l1.4-0.4M778.4 581.8l1.4-0.3M782.9 584.1l1.4-0.3M787.4 586.1l1.3-0.1M791.9 588l1.3-0.1M796.4 589.7l1.3 0M800.9 591.2l1.3 0M805.3 592.4l1.3 0.1M809.8 593.5l1.3 0.1M814.3 594.3l1.3 0.2M818.8 595l1.2 0.2M823.3 595.4l1.2 0.3M827.8 595.7l1.2 0.3M832.3 595.7l1.2 0.4M836.7 595.5l1.2 0.5M841.2 595.1l1.2 0.6M845.7 594.5l1.2 0.6M850.2 593.8l1.1 0.6M854.7 592.8l1.1 0.6M859.2 591.5l1.1 0.8M863.7 590.1l1.1 0.8M868.1 588.4l1.1 0.9M872.6 586.5l1.1 0.9M877.1 584.4l1.1 1M881.6 582l1.1 1.1M886.1 579.4l1 1.1M890.6 576.6l1 1.2M895.1 573.5l1 1.3M899.5 570.3l1 1.3M904 566.7l1 1.4M908.5 563l1 1.5"/>
<path d="M531.7 706.3l4.5 0.6 4.5 0.6 4.4 0.4 4.5 0.2 4.5 0.2 4.5 0 4.5-0.1 4.5-0.2 4.5-0.4 4.4-0.5 4.5-0.6 4.5-0.7 4.5-0.9 4.5-1 4.5-1.1 4.5-1.2 4.4-1.5 4.5-1.6 4.5-1.8 4.5-2 4.5-2.1 4.5-2.3 4.5-2.5 4.5-2.7 4.4-2.9 4.5-3.1 4.5-3.3 4.5-3.5 4.5-3.7 4.5-4 4.5-4.2 4.4-4.4 4.5-4.7 4.5-5 4.5-5.2 4.5-5.6 4.5-5.8 4.5-6.1 4.4-6.5 4.5-6.8 4.5-7.2 4.5-7.5 4.5-7.9 4.5-8.3 4.5-8.8 4.4-9.1 3.2-6.7 2.7 0.3-4.4 9.3-4.4 9.1-4.5 8.7-4.5 8.3-4.4 7.8-4.5 7.5-4.5 7.1-4.5 6.8-4.4 6.4-4.5 6.1-4.5 5.8-4.4 5.5-4.5 5.2-4.5 5-4.5 4.6-4.4 4.4-4.5 4.2-4.5 4-4.5 3.7-4.4 3.5-4.5 3.2-4.5 3.1-4.4 2.9-4.5 2.7-4.5 2.5-4.5 2.3-4.4 2.1-4.5 1.9-4.5 1.8-4.4 1.6-4.5 1.5-4.5 1.2-4.5 1.1-4.4 1-4.5 0.9-4.5 0.7-4.5 0.6-4.4 0.5-4.5 0.3-4.5 0.2-4.4 0.1-4.5 0-4.5-0.1-4.5-0.3-4.4-0.4-4.5-0.5-4.5-0.6ZM536.2 706.9l2.1 2.1M540.7 707.5l2.1 2M545.1 707.9l2.1 2M549.6 708.1l2.1 2.1M554.1 708.3l2.1 2M558.6 708.3l2.1 2M563.1 708.2l2 2M567.6 708l2 2M572.1 707.6l2 2.1M576.5 707.1l2 2.1M581 706.5l2 2.1M585.5 705.8l2 2.1M590 704.9l2 2.1M594.5 703.9l1.9 2.1M599 702.8l1.9 2.1M603.5 701.6l1.9 2.1M607.9 700.1l2 2.1M612.4 698.5l1.9 2.1M616.9 696.7l1.9 2.1M621.4 694.7l1.9 2.2M625.9 692.6l1.8 2.2M630.4 690.3l1.8 2.2M634.9 687.8l1.8 2.2M639.4 685.1l1.8 2.2M643.8 682.2l1.8 2.2M648.3 679.1l1.8 2.2M652.8 675.8l1.8 2.3M657.3 672.3l1.7 2.3M661.8 668.6l1.7 2.3M666.3 664.6l1.7 2.3M670.8 660.4l1.7 2.3M675.2 656l1.7 2.3M679.7 651.3l1.7 2.4M684.2 646.3l1.7 2.4M688.7 641.1l1.7 2.4M693.2 635.5l1.6 2.5M697.7 629.7l1.6 2.5M702.2 623.6l1.6 2.5M706.6 617.1l1.6 2.6M711.1 610.3l1.6 2.6M715.6 603.1l1.6 2.7M720.1 595.6l1.6 2.7M724.6 587.7l1.5 2.8M729.1 579.4l1.5 2.8M733.6 570.6l1.5 2.9M738 561.5l1.5 2.9"/>
<path d="M743.9 555.1l0.1 0.1 4.5 4 4.5 3.8 4.4 3.6 4.5 3.4 4.5 3.2 4.4 3 4.5 2.7 4.5 2.6 4.5 2.3 4.4 2.2 4.5 1.9 4.5 1.8 4.5 1.5 4.4 1.3 4.5 1.1 4.5 0.9 4.4 0.7 4.5 0.5 4.5 0.3 4.5 0.1 4.4-0.1 4.5-0.3 4.5-0.6 4.4-0.7 4.5-1 4.5-1.1 4.5-1.4 4.4-1.6 4.5-1.9 4.5-2 4.5-2.3 4.4-2.6 4.5-2.7 4.5-3 4.4-3.2 4.5-3.5 4.5-3.6 4.1-3.6 2.2 0.3-0.9 0.8-4.4 3.8-4.5 3.6-4.5 3.3-4.4 3.2-4.5 2.9-4.4 2.7-4.5 2.4-4.5 2.3-4.4 2-4.5 1.7-4.4 1.6-4.5 1.3-4.4 1.1-4.5 0.9-4.5 0.7-4.4 0.5-4.5 0.3-4.4 0.1-4.5-0.2-4.5-0.3-4.4-0.6-4.5-0.7-4.4-1-4.5-1.2-4.4-1.3-4.5-1.6-4.5-1.8-4.4-2-4.5-2.2-4.4-2.5-4.5-2.6-4.5-2.8-4.4-3-4.5-3.3-4.4-3.4-4.5-3.7-4.4-3.8-3.4-3.1ZM744 555.2l0.1-0.1M748.5 559.2l1.5-0.8M753 563l1.4-0.8M757.4 566.6l1.5-0.7M761.9 570l1.4-0.7M766.4 573.2l1.4-0.6M770.8 576.2l1.4-0.6M775.3 578.9l1.4-0.5M779.8 581.5l1.4-0.5M784.3 583.8l1.3-0.3M788.7 586l1.4-0.3M793.2 587.9l1.3-0.2M797.7 589.7l1.3-0.2M802.2 591.2l1.3-0.1M806.6 592.5l1.3-0.1M811.1 593.6l1.3 0M815.6 594.5l1.2 0.1M820 595.2l1.3 0.1M824.5 595.7l1.2 0.2M829 596l1.2 0.2M833.5 596.1l1.2 0.3M837.9 596l1.2 0.3M842.4 595.7l1.2 0.3M846.9 595.1l1.1 0.4M851.3 594.4l1.2 0.4M855.8 593.4l1.2 0.5M860.3 592.3l1.1 0.5M864.8 590.9l1.1 0.6M869.2 589.3l1.1 0.6M873.7 587.4l1.1 0.8M878.2 585.4l1 0.8M882.7 583.1l1 0.8M887.1 580.5l1.1 1M891.6 577.8l1 1M896.1 574.8l1 1.1M900.5 571.6l1 1.1M905 568.1l1 1.3M909.5 564.5l1 1.3M914.9 562l-0.7-1"/>
<path d="M533.8 708.4l4.5 0.6 4.5 0.5 4.4 0.4 4.5 0.3 4.5 0.1 4.5 0 4.4-0.1 4.5-0.2 4.5-0.3 4.4-0.5 4.5-0.6 4.5-0.7 4.5-0.9 4.4-1 4.5-1.1 4.5-1.2 4.5-1.5 4.4-1.6 4.5-1.8 4.5-1.9 4.4-2.1 4.5-2.3 4.5-2.5 4.5-2.7 4.4-2.9 4.5-3.1 4.5-3.2 4.4-3.5 4.5-3.7 4.5-4 4.5-4.2 4.4-4.4 4.5-4.6 4.5-5 4.5-5.2 4.4-5.5 4.5-5.8 4.5-6.1 4.4-6.4 4.5-6.8 4.5-7.1 4.5-7.5 4.4-7.8 4.5-8.3 4.5-8.7 4.4-9.1 4.4-9.3 2.7 0.2-1.1 2.5-4.5 9.5-4.4 9-4.5 8.6-4.4 8.2-4.5 7.8-4.5 7.4-4.4 7-4.5 6.7-4.4 6.4-4.5 6.1-4.4 5.7-4.5 5.5-4.5 5.1-4.4 4.9-4.5 4.7-4.4 4.4-4.5 4.1-4.5 3.9-4.4 3.7-4.5 3.5-4.4 3.2-4.5 3.1-4.4 2.8-4.5 2.7-4.5 2.5-4.4 2.2-4.5 2.2-4.4 1.9-4.5 1.8-4.5 1.6-4.4 1.4-4.5 1.2-4.4 1.1-4.5 1-4.4 0.8-4.5 0.8-4.5 0.5-4.4 0.5-4.5 0.4-4.4 0.2-4.5 0.1-4.5 0-4.4-0.2-4.5-0.2-4.4-0.4-4.5-0.5-4.4-0.7ZM538.3 709l2.1 1.7M542.8 709.5l2.1 1.7M547.2 709.9l2.1 1.7M551.7 710.2l2.1 1.6M556.2 710.3l2 1.7M560.7 710.3l2 1.7M565.1 710.2l2.1 1.7M569.6 710l2 1.7M574.1 709.7l2 1.6M578.5 709.2l2 1.6M583 708.6l2 1.7M587.5 707.9l2 1.6M592 707l1.9 1.7M596.4 706l2 1.7M600.9 704.9l1.9 1.7M605.4 703.7l1.9 1.7M609.9 702.2l1.8 1.8M614.3 700.6l1.9 1.8M618.8 698.8l1.9 1.8M623.3 696.9l1.8 1.8M627.7 694.8l1.9 1.7M632.2 692.5l1.8 1.8M636.7 690l1.8 1.8M641.2 687.3l1.8 1.8M645.6 684.4l1.8 1.9M650.1 681.3l1.8 1.9M654.6 678.1l1.7 1.9M659 674.6l1.8 1.9M663.5 670.9l1.7 1.9M668 666.9l1.7 2M672.5 662.7l1.7 2.1M676.9 658.3l1.7 2.1M681.4 653.7l1.7 2M685.9 648.7l1.6 2.1M690.4 643.5l1.6 2.2M694.8 638l1.7 2.2M699.3 632.2l1.6 2.3M703.8 626.1l1.6 2.3M708.2 619.7l1.6 2.3M712.7 612.9l1.6 2.4M717.2 605.8l1.5 2.5M721.7 598.3l1.5 2.6M726.1 590.5l1.6 2.6M730.6 582.2l1.5 2.7M735.1 573.5l1.5 2.8M739.5 564.4l1.5 2.9M745.5 557.8l-1.4-2.7"/>
<path d="M746.6 555.3l3.4 3.1 4.4 3.8 4.5 3.7 4.4 3.4 4.5 3.3 4.4 3 4.5 2.8 4.5 2.6 4.4 2.5 4.5 2.2 4.4 2 4.5 1.8 4.5 1.6 4.4 1.3 4.5 1.2 4.4 1 4.5 0.7 4.4 0.6 4.5 0.3 4.5 0.2 4.4-0.1 4.5-0.3 4.4-0.5 4.5-0.7 4.5-0.9 4.4-1.1 4.5-1.3 4.4-1.6 4.5-1.7 4.4-2 4.5-2.3 4.5-2.4 4.4-2.7 4.5-2.9 4.4-3.2 4.5-3.3 4.5-3.6 4.4-3.8 0.9-0.8 2.1 0.2-2 1.7-4.5 3.8-4.4 3.5-4.5 3.3-4.4 3-4.5 2.9-4.4 2.6-4.5 2.4-4.4 2.1-4.4 2-4.5 1.7-4.4 1.5-4.5 1.3-4.4 1-4.5 0.9-4.4 0.6-4.5 0.5-4.4 0.2-4.4 0-4.5-0.2-4.4-0.4-4.5-0.6-4.4-0.8-4.5-1-4.4-1.2-4.5-1.5-4.4-1.6-4.4-1.9-4.5-2-4.4-2.3-4.5-2.4-4.4-2.7-4.5-2.9-4.4-3.1-4.5-3.3-4.4-3.5-4.4-3.7-4.5-3.9-2.1-1.9ZM750 558.4l1.4-1M754.4 562.2l1.5-0.9M758.9 565.9l1.4-0.9M763.3 569.3l1.4-0.8M767.8 572.6l1.4-0.8M772.2 575.6l1.4-0.7M776.7 578.4l1.4-0.6M781.2 581l1.3-0.5M785.6 583.5l1.4-0.6M790.1 585.7l1.3-0.5M794.5 587.7l1.4-0.5M799 589.5l1.3-0.4M803.5 591.1l1.2-0.4M807.9 592.4l1.3-0.2M812.4 593.6l1.2-0.2M816.8 594.6l1.3-0.2M821.3 595.3l1.2-0.1M825.7 595.9l1.3-0.1M830.2 596.2l1.2 0M834.7 596.4l1.2 0M839.1 596.3l1.2 0.1M843.6 596l1.1 0.2M848 595.5l1.2 0.2M852.5 594.8l1.1 0.3M857 593.9l1.1 0.3M861.4 592.8l1.1 0.4M865.9 591.5l1.1 0.4M870.3 589.9l1.1 0.5M874.8 588.2l1.1 0.5M879.2 586.2l1.1 0.5M883.7 583.9l1 0.7M888.2 581.5l1 0.7M892.6 578.8l1 0.8M897.1 575.9l1 0.8M901.5 572.7l1 1M906 569.4l1 1M910.5 565.8l0.9 1.1M914.9 562l1 1.1"/>
<path d="M536 710l4.4 0.7 4.5 0.5 4.4 0.4 4.5 0.2 4.4 0.2 4.5 0 4.5-0.1 4.4-0.2 4.5-0.4 4.4-0.5 4.5-0.5 4.5-0.8 4.4-0.8 4.5-1 4.4-1.1 4.5-1.2 4.4-1.4 4.5-1.6 4.5-1.8 4.4-1.9 4.5-2.2 4.4-2.2 4.5-2.5 4.5-2.7 4.4-2.8 4.5-3.1 4.4-3.2 4.5-3.5 4.4-3.7 4.5-3.9 4.5-4.1 4.4-4.4 4.5-4.7 4.4-4.9 4.5-5.1 4.5-5.5 4.4-5.7 4.5-6.1 4.4-6.4 4.5-6.7 4.4-7 4.5-7.4 4.5-7.8 4.4-8.2 4.5-8.6 4.4-9 4.5-9.5 1.1-2.5 2.7 0.2-2.3 5.2-4.5 9.3-4.4 8.9-4.5 8.5-4.4 8.1-4.5 7.8-4.4 7.3-4.4 7-4.5 6.6-4.4 6.3-4.5 6-4.4 5.7-4.5 5.4-4.4 5.1-4.5 4.9-4.4 4.6-4.4 4.3-4.5 4.1-4.4 3.9-4.5 3.7-4.4 3.4-4.5 3.2-4.4 3-4.5 2.9-4.4 2.6-4.5 2.5-4.4 2.2-4.4 2.1-4.5 1.9-4.4 1.8-4.5 1.6-4.4 1.4-4.5 1.2-4.4 1.1-4.5 1-4.4 0.8-4.4 0.7-4.5 0.6-4.4 0.5-4.5 0.3-4.4 0.3-4.5 0.1-4.4-0.1-4.5-0.1-4.4-0.3-4.4-0.4-4.5-0.5-4.4-0.6ZM540.4 710.7l2.1 1.3M544.9 711.2l2.1 1.3M549.3 711.6l2.1 1.3M553.8 711.8l2 1.4M558.2 712l2.1 1.3M562.7 712l2 1.4M567.2 711.9l2 1.4M571.6 711.7l2 1.3M576.1 711.3l2 1.4M580.5 710.8l2 1.4M585 710.3l2 1.3M589.5 709.5l1.9 1.4M593.9 708.7l1.9 1.4M598.4 707.7l1.9 1.4M602.8 706.6l1.9 1.4M607.3 705.4l1.9 1.4M611.7 704l1.9 1.4M616.2 702.4l1.9 1.4M620.7 700.6l1.8 1.4M625.1 698.7l1.9 1.4M629.6 696.5l1.8 1.5M634 694.3l1.8 1.5M638.5 691.8l1.8 1.5M643 689.1l1.7 1.6M647.4 686.3l1.8 1.5M651.9 683.2l1.7 1.6M656.3 680l1.8 1.6M660.8 676.5l1.7 1.7M665.2 672.8l1.8 1.7M669.7 668.9l1.7 1.7M674.2 664.8l1.7 1.7M678.6 660.4l1.7 1.8M683.1 655.7l1.6 1.9M687.5 650.8l1.7 1.9M692 645.7l1.6 1.9M696.5 640.2l1.6 2M700.9 634.5l1.6 2M705.4 628.4l1.6 2.1M709.8 622l1.6 2.2M714.3 615.3l1.6 2.3M718.7 608.3l1.6 2.3M723.2 600.9l1.5 2.4M727.7 593.1l1.5 2.4M732.1 584.9l1.5 2.5M736.6 576.3l1.5 2.6M741 567.3l1.5 2.7M745.5 557.8l1.5 2.9"/>
<path d="M749.3 555.5l2.1 1.9 4.5 3.9 4.4 3.7 4.4 3.5 4.5 3.3 4.4 3.1 4.5 2.9 4.4 2.7 4.5 2.4 4.4 2.3 4.5 2 4.4 1.9 4.4 1.6 4.5 1.5 4.4 1.2 4.5 1 4.4 0.8 4.5 0.6 4.4 0.4 4.5 0.2 4.4 0 4.4-0.2 4.5-0.5 4.4-0.6 4.5-0.9 4.4-1 4.5-1.3 4.4-1.5 4.5-1.7 4.4-2 4.4-2.1 4.5-2.4 4.4-2.6 4.5-2.9 4.4-3 4.5-3.3 4.4-3.5 4.5-3.8 2-1.7 2.1-0.1-3.2 2.8-4.4 3.6-4.5 3.5-4.4 3.2-4.4 3-4.5 2.7-4.4 2.6-4.4 2.3-4.4 2.1-4.5 1.9-4.4 1.7-4.4 1.4-4.5 1.2-4.4 1-4.4 0.8-4.5 0.6-4.4 0.4-4.4 0.2-4.5 0-4.4-0.3-4.4-0.4-4.4-0.7-4.5-0.8-4.4-1.1-4.4-1.3-4.5-1.5-4.4-1.7-4.4-1.9-4.5-2.1-4.4-2.3-4.4-2.5-4.5-2.7-4.4-3-4.4-3.1-4.5-3.3-4.4-3.6-4.4-3.8-4.4-3.9-0.9-0.8ZM751.4 557.4l1.5-1.1M755.9 561.3l1.4-1.1M760.3 565l1.4-1M764.7 568.5l1.4-0.9M769.2 571.8l1.4-0.9M773.6 574.9l1.4-0.9M778.1 577.8l1.3-0.8M782.5 580.5l1.4-0.8M787 582.9l1.3-0.7M791.4 585.2l1.3-0.7M795.9 587.2l1.3-0.6M800.3 589.1l1.3-0.6M804.7 590.7l1.3-0.5M809.2 592.2l1.3-0.5M813.6 593.4l1.3-0.4M818.1 594.4l1.2-0.3M822.5 595.2l1.3-0.3M827 595.8l1.2-0.2M831.4 596.2l1.2-0.2M835.9 596.4l1.1-0.1M840.3 596.4l1.2-0.1M844.7 596.2l1.2-0.1M849.2 595.7l1.1 0M853.6 595.1l1.2 0M858.1 594.2l1.1 0.1M862.5 593.2l1.1 0.1M867 591.9l1.1 0.2M871.4 590.4l1.1 0.3M875.9 588.7l1 0.3M880.3 586.7l1.1 0.4M884.7 584.6l1.1 0.4M889.2 582.2l1 0.5M893.6 579.6l1 0.5M898.1 576.7l1 0.7M902.5 573.7l1 0.7M907 570.4l0.9 0.8M911.4 566.9l1 0.8M915.9 563.1l0.9 1"/>
<path d="M538.1 711.4l4.4 0.6 4.5 0.5 4.4 0.4 4.4 0.3 4.5 0.1 4.4 0.1 4.5-0.1 4.4-0.3 4.5-0.3 4.4-0.5 4.5-0.6 4.4-0.7 4.4-0.8 4.5-1 4.4-1.1 4.5-1.2 4.4-1.4 4.5-1.6 4.4-1.8 4.5-1.9 4.4-2.1 4.4-2.2 4.5-2.5 4.4-2.6 4.5-2.9 4.4-3 4.5-3.2 4.4-3.4 4.5-3.7 4.4-3.9 4.5-4.1 4.4-4.3 4.4-4.6 4.5-4.9 4.4-5.1 4.5-5.4 4.4-5.7 4.5-6 4.4-6.3 4.5-6.6 4.4-7 4.4-7.3 4.5-7.8 4.4-8.1 4.5-8.5 4.4-8.9 4.5-9.3 2.3-5.2 2.7 0-3.6 7.9-4.4 9.2-4.4 8.9-4.5 8.4-4.4 8-4.4 7.6-4.5 7.3-4.4 6.9-4.4 6.5-4.5 6.3-4.4 5.9-4.4 5.7-4.4 5.3-4.5 5.1-4.4 4.8-4.4 4.5-4.5 4.3-4.4 4.1-4.4 3.8-4.5 3.6-4.4 3.4-4.4 3.2-4.5 3-4.4 2.8-4.4 2.6-4.4 2.5-4.5 2.2-4.4 2.1-4.4 1.9-4.5 1.7-4.4 1.6-4.4 1.4-4.5 1.2-4.4 1.1-4.4 0.9-4.5 0.9-4.4 0.7-4.4 0.6-4.4 0.4-4.5 0.4-4.4 0.2-4.4 0.1-4.5 0-4.4-0.2-4.4-0.2-4.5-0.4-4.4-0.5-4.4-0.6ZM542.5 712l2.1 1.2M547 712.5l2 1.2M551.4 712.9l2.1 1.2M555.8 713.2l2.1 1.1M560.3 713.3l2 1.2M564.7 713.4l2.1 1.1M569.2 713.3l2 1.1M573.6 713l2 1.2M578.1 712.7l2 1.1M582.5 712.2l2 1.2M587 711.6l1.9 1.2M591.4 710.9l1.9 1.2M595.8 710.1l2 1.1M600.3 709.1l1.9 1.2M604.7 708l1.9 1.2M609.2 706.8l1.9 1.2M613.6 705.4l1.9 1.2M618.1 703.8l1.8 1.2M622.5 702l1.9 1.3M627 700.1l1.8 1.3M631.4 698l1.8 1.3M635.8 695.8l1.9 1.3M640.3 693.3l1.8 1.3M644.7 690.7l1.8 1.3M649.2 687.8l1.7 1.4M653.6 684.8l1.8 1.4M658.1 681.6l1.7 1.4M662.5 678.2l1.7 1.4M667 674.5l1.7 1.5M671.4 670.6l1.7 1.6M675.9 666.5l1.6 1.6M680.3 662.2l1.7 1.6M684.7 657.6l1.7 1.7M689.2 652.7l1.6 1.8M693.6 647.6l1.7 1.8M698.1 642.2l1.6 1.9M702.5 636.5l1.6 1.9M707 630.5l1.5 2M711.4 624.2l1.6 2M715.9 617.6l1.5 2.1M720.3 610.6l1.5 2.2M724.7 603.3l1.6 2.2M729.2 595.5l1.5 2.4M733.6 587.4l1.5 2.5M738.1 578.9l1.5 2.6M742.5 570l1.5 2.6M747 560.7l1.4 2.7"/>
<path d="M752 555.5l0.9 0.8 4.4 3.9 4.4 3.8 4.4 3.6 4.5 3.3 4.4 3.1 4.4 3 4.5 2.7 4.4 2.5 4.4 2.3 4.5 2.1 4.4 1.9 4.4 1.7 4.5 1.5 4.4 1.3 4.4 1.1 4.5 0.8 4.4 0.7 4.4 0.4 4.4 0.3 4.5 0 4.4-0.2 4.4-0.4 4.5-0.6 4.4-0.8 4.4-1 4.5-1.2 4.4-1.4 4.4-1.7 4.5-1.9 4.4-2.1 4.4-2.3 4.4-2.6 4.5-2.7 4.4-3 4.4-3.2 4.5-3.5 4.4-3.6 3.2-2.8 2.1-0.3-4.4 3.8-4.4 3.6-4.4 3.3-4.4 3.2-4.4 2.9-4.5 2.7-4.4 2.5-4.4 2.2-4.4 2.1-4.4 1.8-4.4 1.6-4.5 1.4-4.4 1.2-4.4 0.9-4.4 0.8-4.4 0.5-4.4 0.3-4.5 0.2-4.4-0.1-4.4-0.3-4.4-0.5-4.4-0.7-4.4-0.9-4.5-1.1-4.4-1.3-4.4-1.6-4.4-1.7-4.4-1.9-4.4-2.2-4.5-2.3-4.4-2.6-4.4-2.8-4.4-3-4.4-3.1-4.4-3.4-4.5-3.6-4.4-3.8-4-3.6ZM752.9 556.3l0.9-0.8M757.3 560.2l1.4-1.1M761.7 564l1.4-1.1M766.1 567.6l1.5-1.1M770.6 570.9l1.4-1M775 574l1.4-1M779.4 577l1.4-1M783.9 579.7l1.3-0.9M788.3 582.2l1.3-0.8M792.7 584.5l1.4-0.8M797.2 586.6l1.3-0.7M801.6 588.5l1.3-0.7M806 590.2l1.3-0.7M810.5 591.7l1.2-0.6M814.9 593l1.2-0.6M819.3 594.1l1.3-0.6M823.8 594.9l1.2-0.5M828.2 595.6l1.2-0.5M832.6 596l1.2-0.4M837 596.3l1.2-0.4M841.5 596.3l1.1-0.3M845.9 596.1l1.2-0.3M850.3 595.7l1.2-0.2M854.8 595.1l1.1-0.1M859.2 594.3l1.1-0.1M863.6 593.3l1.1 0M868.1 592.1l1 0M872.5 590.7l1.1 0M876.9 589l1.1 0.1M881.4 587.1l1 0.2M885.8 585l1 0.2M890.2 582.7l1 0.3M894.6 580.1l1 0.4M899.1 577.4l1 0.4M903.5 574.4l1 0.5M907.9 571.2l1 0.5M912.4 567.7l0.9 0.7M916.8 564.1l0.9 0.7"/>
<path d="M540.2 712.6l4.4 0.6 4.4 0.5 4.5 0.4 4.4 0.2 4.4 0.2 4.5 0 4.4-0.1 4.4-0.2 4.5-0.4 4.4-0.4 4.4-0.6 4.4-0.7 4.5-0.9 4.4-0.9 4.4-1.1 4.5-1.2 4.4-1.4 4.4-1.6 4.5-1.7 4.4-1.9 4.4-2.1 4.5-2.2 4.4-2.5 4.4-2.6 4.4-2.8 4.5-3 4.4-3.2 4.4-3.4 4.5-3.6 4.4-3.8 4.4-4.1 4.5-4.3 4.4-4.5 4.4-4.8 4.5-5.1 4.4-5.3 4.4-5.7 4.4-5.9 4.5-6.3 4.4-6.5 4.4-6.9 4.5-7.3 4.4-7.6 4.4-8 4.5-8.4 4.4-8.9 4.4-9.2 3.6-7.9 2.7 0-0.4 0.9-4.4 9.6-4.4 9.1-4.5 8.8-4.4 8.3-4.4 7.9-4.4 7.5-4.4 7.2-4.4 6.8-4.5 6.5-4.4 6.2-4.4 5.9-4.4 5.5-4.4 5.3-4.4 5.1-4.5 4.7-4.4 4.5-4.4 4.3-4.4 4-4.4 3.8-4.4 3.6-4.5 3.3-4.4 3.2-4.4 2.9-4.4 2.8-4.4 2.6-4.4 2.4-4.5 2.2-4.4 2.1-4.4 1.9-4.4 1.7-4.4 1.5-4.5 1.4-4.4 1.2-4.4 1.1-4.4 0.9-4.4 0.9-4.4 0.7-4.5 0.6-4.4 0.4-4.4 0.4-4.4 0.2-4.4 0.1-4.4 0-4.5-0.2-4.4-0.2-4.4-0.4-4.4-0.5-4.4-0.6ZM544.6 713.2l2.1 1M549 713.7l2.1 1M553.5 714.1l2 1M557.9 714.3l2 1M562.3 714.5l2.1 1M566.8 714.5l2 1M571.2 714.4l2 1M575.6 714.2l2 1M580.1 713.8l1.9 1M584.5 713.4l1.9 1M588.9 712.8l2 1M593.3 712.1l2 1M597.8 711.2l1.9 1M602.2 710.3l1.9 1M606.6 709.2l1.9 1M611.1 708l1.8 1M615.5 706.6l1.9 1M619.9 705l1.9 1.1M624.4 703.3l1.8 1.1M628.8 701.4l1.8 1.1M633.2 699.3l1.8 1.1M637.7 697.1l1.8 1.1M642.1 694.6l1.8 1.2M646.5 692l1.8 1.2M650.9 689.2l1.8 1.2M655.4 686.2l1.7 1.3M659.8 683l1.7 1.3M664.2 679.6l1.8 1.4M668.7 676l1.7 1.4M673.1 672.2l1.7 1.4M677.5 668.1l1.7 1.5M682 663.8l1.6 1.5M686.4 659.3l1.6 1.5M690.8 654.5l1.7 1.6M695.3 649.4l1.6 1.6M699.7 644.1l1.6 1.6M704.1 638.4l1.6 1.8M708.5 632.5l1.6 1.8M713 626.2l1.5 1.9M717.4 619.7l1.6 1.9M721.8 612.8l1.6 2M726.3 605.5l1.5 2.1M730.7 597.9l1.5 2.2M735.1 589.9l1.5 2.3M739.6 581.5l1.4 2.4M744 572.6l1.5 2.5M748.4 563.4l1.5 2.6M754.3 556.4l-0.5-0.9"/>
<path d="M754.7 555.5l4 3.6 4.4 3.8 4.5 3.6 4.4 3.4 4.4 3.1 4.4 3 4.4 2.8 4.4 2.6 4.5 2.3 4.4 2.2 4.4 1.9 4.4 1.7 4.4 1.6 4.4 1.3 4.5 1.1 4.4 0.9 4.4 0.7 4.4 0.5 4.4 0.3 4.4 0.1 4.5-0.2 4.4-0.3 4.4-0.5 4.4-0.8 4.4-0.9 4.4-1.2 4.5-1.4 4.4-1.6 4.4-1.8 4.4-2.1 4.4-2.2 4.4-2.5 4.5-2.7 4.4-2.9 4.4-3.2 4.4-3.3 4.4-3.6 4.4-3.8 2.1-0.4-1.1 0.9-4.4 3.7-4.4 3.5-4.4 3.3-4.4 3.1-4.4 2.9-4.5 2.6-4.4 2.4-4.4 2.2-4.4 2-4.4 1.8-4.4 1.5-4.4 1.4-4.4 1.1-4.4 0.9-4.4 0.7-4.4 0.5-4.4 0.3-4.4 0-4.4-0.1-4.4-0.3-4.4-0.6-4.4-0.7-4.4-1-4.4-1.1-4.4-1.4-4.4-1.5-4.4-1.8-4.4-2-4.4-2.2-4.4-2.4-4.4-2.6-4.4-2.8-4.4-3-4.5-3.2-4.4-3.4-4.4-3.7-4.4-3.8-2.7-2.5ZM758.7 559.1l1.4-1.3M763.1 562.9l1.4-1.3M767.6 566.5l1.3-1.2M772 569.9l1.3-1.2M776.4 573l1.4-1.1M780.8 576l1.4-1.1M785.2 578.8l1.4-1.1M789.6 581.4l1.4-1.1M794.1 583.7l1.3-1M798.5 585.9l1.3-1M802.9 587.8l1.3-0.9M807.3 589.5l1.3-0.8M811.7 591.1l1.3-0.9M816.1 592.4l1.3-0.8M820.6 593.5l1.2-0.8M825 594.4l1.2-0.7M829.4 595.1l1.2-0.7M833.8 595.6l1.2-0.6M838.2 595.9l1.2-0.6M842.6 596l1.2-0.6M847.1 595.8l1.1-0.4M851.5 595.5l1.1-0.4M855.9 595l1.1-0.4M860.3 594.2l1.1-0.3M864.7 593.3l1.1-0.3M869.1 592.1l1.1-0.2M873.6 590.7l1-0.2M878 589.1l1-0.1M882.4 587.3l1-0.1M886.8 585.2l1 0M891.2 583l1 0M895.6 580.5l1 0.1M900.1 577.8l1 0.2M904.5 574.9l1 0.2M908.9 571.7l1 0.3M913.3 568.4l1 0.3M917.7 564.8l1 0.4M923.1 561.5l-0.9-0.5"/>
<path d="M542.3 713.6l4.4 0.6 4.4 0.5 4.4 0.4 4.4 0.2 4.5 0.2 4.4 0 4.4-0.1 4.4-0.2 4.4-0.4 4.4-0.4 4.5-0.6 4.4-0.7 4.4-0.9 4.4-0.9 4.4-1.1 4.4-1.2 4.5-1.4 4.4-1.5 4.4-1.7 4.4-1.9 4.4-2.1 4.5-2.2 4.4-2.4 4.4-2.6 4.4-2.8 4.4-2.9 4.4-3.2 4.5-3.3 4.4-3.6 4.4-3.8 4.4-4 4.4-4.3 4.4-4.5 4.5-4.7 4.4-5.1 4.4-5.3 4.4-5.5 4.4-5.9 4.4-6.2 4.5-6.5 4.4-6.8 4.4-7.2 4.4-7.5 4.4-7.9 4.4-8.3 4.5-8.8 4.4-9.1 4.4-9.6 0.4-0.9 2.7-0.2-1.7 3.7-4.4 9.5-4.4 9-4.4 8.6-4.4 8.3-4.4 7.8-4.4 7.4-4.4 7.1-4.4 6.8-4.4 6.4-4.4 6.1-4.4 5.8-4.4 5.6-4.4 5.2-4.4 5-4.4 4.7-4.4 4.4-4.4 4.2-4.4 4-4.4 3.8-4.4 3.5-4.4 3.3-4.4 3.2-4.5 2.9-4.4 2.7-4.4 2.6-4.4 2.4-4.4 2.2-4.4 2-4.4 1.9-4.4 1.7-4.4 1.5-4.4 1.4-4.4 1.2-4.4 1.1-4.4 0.9-4.4 0.8-4.4 0.7-4.4 0.6-4.4 0.4-4.4 0.4-4.4 0.2-4.4 0.1-4.4 0-4.4-0.2-4.4-0.2-4.4-0.4-4.4-0.5-4.4-0.6ZM546.7 714.2l2.1 0.9M551.1 714.7l2.1 0.9M555.5 715.1l2.1 0.9M559.9 715.3l2.1 0.9M564.4 715.5l2 0.9M568.8 715.5l2 0.9M573.2 715.4l2 0.9M577.6 715.2l2 0.9M582 714.8l2 0.9M586.4 714.4l2 0.9M590.9 713.8l1.9 0.9M595.3 713.1l1.9 0.9M599.7 712.2l1.9 1M604.1 711.3l1.9 1M608.5 710.2l1.9 1M612.9 709l1.9 1M617.4 707.6l1.8 1M621.8 706.1l1.8 1M626.2 704.4l1.8 1M630.6 702.5l1.8 1M635 700.4l1.8 1.1M639.5 698.2l1.7 1.1M643.9 695.8l1.7 1.1M648.3 693.2l1.7 1.1M652.7 690.4l1.7 1.2M657.1 687.5l1.8 1.2M661.5 684.3l1.8 1.2M666 681l1.7 1.2M670.4 677.4l1.7 1.3M674.8 673.6l1.7 1.3M679.2 669.6l1.7 1.3M683.6 665.3l1.7 1.4M688 660.8l1.7 1.5M692.5 656.1l1.6 1.5M696.9 651l1.6 1.6M701.3 645.7l1.6 1.7M705.7 640.2l1.6 1.6M710.1 634.3l1.6 1.7M714.5 628.1l1.6 1.8M719 621.6l1.5 1.9M723.4 614.8l1.5 1.9M727.8 607.6l1.5 2M732.2 600.1l1.5 2.1M736.6 592.2l1.5 2.2M741 583.9l1.5 2.2M745.5 575.1l1.4 2.4M749.9 566l1.4 2.5M754.3 556.4l1.4 2.6"/>
<path d="M757.4 555.3l2.7 2.5 4.4 3.8 4.4 3.7 4.4 3.4 4.5 3.2 4.4 3 4.4 2.8 4.4 2.6 4.4 2.4 4.4 2.2 4.4 2 4.4 1.8 4.4 1.5 4.4 1.4 4.4 1.1 4.4 1 4.4 0.7 4.4 0.6 4.4 0.3 4.4 0.1 4.4 0 4.4-0.3 4.4-0.5 4.4-0.7 4.4-0.9 4.4-1.1 4.4-1.4 4.4-1.5 4.4-1.8 4.4-2 4.4-2.2 4.4-2.4 4.5-2.6 4.4-2.9 4.4-3.1 4.4-3.3 4.4-3.5 4.4-3.7 1.1-0.9 2-0.8-2.2 2-4.4 3.6-4.4 3.5-4.4 3.2-4.4 3-4.4 2.8-4.4 2.6-4.3 2.3-4.4 2.2-4.4 1.9-4.4 1.7-4.4 1.5-4.4 1.3-4.4 1-4.4 0.9-4.4 0.6-4.4 0.5-4.3 0.2-4.4 0.1-4.4-0.2-4.4-0.4-4.4-0.6-4.4-0.7-4.4-1-4.4-1.2-4.4-1.4-4.4-1.6-4.3-1.8-4.4-2-4.4-2.3-4.4-2.4-4.4-2.6-4.4-2.8-4.4-3.1-4.4-3.2-4.4-3.5-4.4-3.6-4.3-3.9-1.5-1.3ZM760.1 557.8l1.5-1.4M764.5 561.6l1.4-1.3M768.9 565.3l1.4-1.4M773.3 568.7l1.4-1.3M777.8 571.9l1.3-1.3M782.2 574.9l1.3-1.2M786.6 577.7l1.3-1.2M791 580.3l1.3-1.2M795.4 582.7l1.3-1.2M799.8 584.9l1.3-1.1M804.2 586.9l1.3-1.1M808.6 588.7l1.2-1.1M813 590.2l1.2-1M817.4 591.6l1.2-1M821.8 592.7l1.2-0.9M826.2 593.7l1.2-0.9M830.6 594.4l1.2-0.9M835 595l1.2-0.9M839.4 595.3l1.2-0.8M843.8 595.4l1.2-0.7M848.2 595.4l1.2-0.8M852.6 595.1l1.1-0.7M857 594.6l1.1-0.7M861.4 593.9l1.1-0.6M865.8 593l1.1-0.6M870.2 591.9l1.1-0.5M874.6 590.5l1.1-0.4M879 589l1.1-0.4M883.4 587.2l1.1-0.3M887.8 585.2l1.1-0.2M892.2 583l1.1-0.2M896.6 580.6l1-0.1M901.1 578l0.9-0.1M905.5 575.1l0.9 0M909.9 572l0.9 0.1M914.3 568.7l0.9 0.2M918.7 565.2l0.9 0.2M923.1 561.5l0.9 0.3"/>
<path d="M544.4 714.5l4.4 0.6 4.4 0.5 4.4 0.4 4.4 0.2 4.4 0.2 4.4 0 4.4-0.1 4.4-0.2 4.4-0.4 4.4-0.4 4.4-0.6 4.4-0.7 4.4-0.8 4.4-0.9 4.4-1.1 4.4-1.2 4.4-1.4 4.4-1.5 4.4-1.7 4.4-1.9 4.4-2 4.4-2.2 4.4-2.4 4.4-2.6 4.4-2.7 4.5-2.9 4.4-3.2 4.4-3.3 4.4-3.5 4.4-3.8 4.4-4 4.4-4.2 4.4-4.4 4.4-4.7 4.4-5 4.4-5.2 4.4-5.6 4.4-5.8 4.4-6.1 4.4-6.4 4.4-6.8 4.4-7.1 4.4-7.4 4.4-7.8 4.4-8.3 4.4-8.6 4.4-9 4.4-9.5 1.7-3.7 2.7-0.2-2.9 6.4-4.4 9.4-4.4 8.9-4.4 8.5-4.4 8.2-4.4 7.7-4.4 7.4-4.4 7-4.4 6.7-4.4 6.4-4.3 6-4.4 5.8-4.4 5.4-4.4 5.2-4.4 4.9-4.4 4.7-4.4 4.4-4.4 4.2-4.4 3.9-4.4 3.7-4.3 3.5-4.4 3.3-4.4 3.1-4.4 2.9-4.4 2.8-4.4 2.5-4.4 2.4-4.4 2.2-4.4 2-4.4 1.8-4.3 1.7-4.4 1.5-4.4 1.4-4.4 1.2-4.4 1-4.4 0.9-4.4 0.9-4.4 0.6-4.4 0.6-4.4 0.5-4.3 0.3-4.4 0.2-4.4 0.1-4.4 0-4.4-0.1-4.4-0.3-4.4-0.4-4.4-0.5-4.4-0.6ZM548.8 715.1l2 0.9M553.2 715.6l2 0.9M557.6 716l2 0.9M562 716.2l2 1M566.4 716.4l2 0.9M570.8 716.4l2 0.9M575.2 716.3l2 0.9M579.6 716.1l2 0.9M584 715.7l1.9 1M588.4 715.3l1.9 0.9M592.8 714.7l1.9 0.9M597.2 714l1.9 1M601.6 713.2l1.9 0.9M606 712.3l1.9 0.9M610.4 711.2l1.9 1M614.8 710l1.9 1M619.2 708.6l1.9 1M623.6 707.1l1.9 1M628 705.4l1.8 1M632.4 703.5l1.8 1.1M636.8 701.5l1.8 1.1M641.2 699.3l1.8 1.1M645.6 696.9l1.8 1.1M650 694.3l1.8 1.2M654.4 691.6l1.8 1.1M658.9 688.7l1.7 1.1M663.3 685.5l1.7 1.2M667.7 682.2l1.7 1.2M672.1 678.7l1.6 1.2M676.5 674.9l1.6 1.3M680.9 670.9l1.6 1.4M685.3 666.7l1.6 1.4M689.7 662.3l1.6 1.4M694.1 657.6l1.6 1.4M698.5 652.6l1.6 1.5M702.9 647.4l1.6 1.5M707.3 641.8l1.6 1.7M711.7 636l1.6 1.7M716.1 629.9l1.5 1.8M720.5 623.5l1.5 1.8M724.9 616.7l1.5 1.9M729.3 609.6l1.5 2M733.7 602.2l1.5 2M738.1 594.4l1.5 2.1M742.5 586.1l1.5 2.2M746.9 577.5l1.5 2.3M751.3 568.5l1.5 2.4M755.7 559l1.5 2.5"/>
<path d="M760.1 555.1l1.5 1.3 4.3 3.9 4.4 3.6 4.4 3.5 4.4 3.2 4.4 3.1 4.4 2.8 4.4 2.6 4.4 2.4 4.4 2.3 4.4 2 4.3 1.8 4.4 1.6 4.4 1.4 4.4 1.2 4.4 1 4.4 0.7 4.4 0.6 4.4 0.4 4.4 0.2 4.4-0.1 4.3-0.2 4.4-0.5 4.4-0.6 4.4-0.9 4.4-1 4.4-1.3 4.4-1.5 4.4-1.7 4.4-1.9 4.4-2.2 4.3-2.3 4.4-2.6 4.4-2.8 4.4-3 4.4-3.2 4.4-3.5 4.4-3.6 2.2-2 2.1-0.9-3.4 2.9-4.4 3.6-4.4 3.3-4.3 3.2-4.4 2.9-4.4 2.8-4.4 2.5-4.3 2.2-4.4 2.1-4.4 1.9-4.4 1.6-4.3 1.5-4.4 1.2-4.4 1-4.4 0.8-4.4 0.6-4.3 0.4-4.4 0.2-4.4 0-4.4-0.2-4.3-0.4-4.4-0.6-4.4-0.8-4.4-1-4.3-1.3-4.4-1.4-4.4-1.6-4.4-1.8-4.4-2.1-4.3-2.2-4.4-2.5-4.4-2.6-4.4-2.8-4.3-3.1-4.4-3.3-4.4-3.4-4.4-3.7-4.3-3.8-0.3-0.3ZM761.6 556.4l1.4-1.4M765.9 560.3l1.4-1.5M770.3 563.9l1.4-1.4M774.7 567.4l1.4-1.5M779.1 570.6l1.4-1.4M783.5 573.7l1.3-1.4M787.9 576.5l1.3-1.4M792.3 579.1l1.3-1.4M796.7 581.5l1.3-1.3M801.1 583.8l1.2-1.4M805.5 585.8l1.2-1.3M809.8 587.6l1.3-1.3M814.2 589.2l1.3-1.3M818.6 590.6l1.3-1.3M823 591.8l1.2-1.2M827.4 592.8l1.2-1.2M831.8 593.5l1.2-1.1M836.2 594.1l1.2-1.1M840.6 594.5l1.1-1.1M845 594.7l1.1-1.1M849.4 594.6l1.1-1M853.7 594.4l1.2-1M858.1 593.9l1.1-0.9M862.5 593.3l1.1-0.9M866.9 592.4l1.1-0.8M871.3 591.4l1.1-0.8M875.7 590.1l1.1-0.7M880.1 588.6l1-0.7M884.5 586.9l1-0.6M888.9 585l1-0.6M893.3 582.8l1-0.5M897.6 580.5l1-0.4M902 577.9l1-0.3M906.4 575.1l1-0.3M910.8 572.1l1-0.2M915.2 568.9l0.9-0.2M919.6 565.4l0.9 0M924 561.8l0.9 0"/>
<path d="M546.4 715.4l4.4 0.6 4.4 0.5 4.4 0.4 4.4 0.3 4.4 0.1 4.4 0 4.4-0.1 4.4-0.2 4.3-0.3 4.4-0.5 4.4-0.6 4.4-0.6 4.4-0.9 4.4-0.9 4.4-1 4.4-1.2 4.4-1.4 4.4-1.5 4.3-1.7 4.4-1.8 4.4-2 4.4-2.2 4.4-2.4 4.4-2.5 4.4-2.8 4.4-2.9 4.4-3.1 4.4-3.3 4.3-3.5 4.4-3.7 4.4-3.9 4.4-4.2 4.4-4.4 4.4-4.7 4.4-4.9 4.4-5.2 4.4-5.4 4.4-5.8 4.3-6 4.4-6.4 4.4-6.7 4.4-7 4.4-7.4 4.4-7.7 4.4-8.2 4.4-8.5 4.4-8.9 4.4-9.4 2.9-6.4 2.6-0.4-4.1 9.2-4.4 9.2-4.4 8.9-4.3 8.5-4.4 8-4.4 7.7-4.4 7.3-4.4 7-4.3 6.6-4.4 6.3-4.4 6-4.4 5.7-4.3 5.4-4.4 5.1-4.4 4.9-4.4 4.6-4.3 4.4-4.4 4.1-4.4 3.9-4.4 3.7-4.4 3.5-4.3 3.3-4.4 3.1-4.4 2.9-4.4 2.7-4.3 2.5-4.4 2.3-4.4 2.2-4.4 2-4.3 1.8-4.4 1.7-4.4 1.5-4.4 1.3-4.3 1.2-4.4 1.1-4.4 0.9-4.4 0.8-4.4 0.7-4.3 0.5-4.4 0.5-4.4 0.3-4.4 0.2-4.3 0.1-4.4 0-4.4-0.1-4.4-0.3-4.3-0.4-4.4-0.4-4.4-0.6ZM550.8 716l2.1 1.1M555.2 716.5l2.1 1M559.6 716.9l2 1M564 717.2l2 1M568.4 717.3l2 1M572.8 717.3l2 1M577.2 717.2l1.9 1M581.6 717l1.9 1M585.9 716.7l2 1M590.3 716.2l2 1M594.7 715.6l1.9 1.1M599.1 715l1.9 1M603.5 714.1l1.9 1.1M607.9 713.2l1.9 1.1M612.3 712.2l1.9 1M616.7 711l1.8 1M621.1 709.6l1.8 1.1M625.5 708.1l1.8 1.1M629.8 706.4l1.9 1.1M634.2 704.6l1.8 1.1M638.6 702.6l1.8 1.1M643 700.4l1.8 1.1M647.4 698l1.8 1.2M651.8 695.5l1.7 1.2M656.2 692.7l1.7 1.3M660.6 689.8l1.7 1.3M665 686.7l1.7 1.3M669.4 683.4l1.6 1.3M673.7 679.9l1.7 1.3M678.1 676.2l1.7 1.3M682.5 672.3l1.7 1.3M686.9 668.1l1.7 1.4M691.3 663.7l1.6 1.4M695.7 659l1.6 1.5M700.1 654.1l1.6 1.5M704.5 648.9l1.6 1.6M708.9 643.5l1.5 1.6M713.3 637.7l1.5 1.7M717.6 631.7l1.6 1.7M722 625.3l1.6 1.8M726.4 618.6l1.5 1.9M730.8 611.6l1.5 1.9M735.2 604.2l1.5 2M739.6 596.5l1.5 2M744 588.3l1.5 2.2M748.4 579.8l1.4 2.2M752.8 570.9l1.4 2.2M757.2 561.5l1.4 2.4"/>
<path d="M762.7 554.7l0.3 0.3 4.3 3.8 4.4 3.7 4.4 3.4 4.4 3.3 4.3 3.1 4.4 2.8 4.4 2.6 4.4 2.5 4.3 2.2 4.4 2.1 4.4 1.8 4.4 1.6 4.4 1.4 4.3 1.3 4.4 1 4.4 0.8 4.4 0.6 4.3 0.4 4.4 0.2 4.4 0 4.4-0.2 4.3-0.4 4.4-0.6 4.4-0.8 4.4-1 4.4-1.2 4.3-1.5 4.4-1.6 4.4-1.9 4.4-2.1 4.3-2.2 4.4-2.5 4.4-2.8 4.4-2.9 4.3-3.2 4.4-3.3 4.4-3.6 3.4-2.9 2.1-1.2-0.2 0.1-4.4 3.8-4.4 3.5-4.3 3.2-4.4 3.1-4.4 2.9-4.3 2.6-4.4 2.5-4.3 2.2-4.4 2-4.4 1.8-4.3 1.6-4.4 1.4-4.4 1.2-4.3 1-4.4 0.7-4.4 0.6-4.3 0.3-4.4 0.2-4.3 0-4.4-0.3-4.4-0.4-4.3-0.7-4.4-0.8-4.4-1.1-4.3-1.2-4.4-1.4-4.3-1.7-4.4-1.8-4.4-2.1-4.3-2.2-4.4-2.5-4.4-2.6-4.3-2.9-4.4-3.1-4.4-3.2-4.3-3.5-4.4-3.6-3.4-3ZM763 555l0.3-0.4M767.3 558.8l1.4-1.5M771.7 562.5l1.4-1.6M776.1 565.9l1.3-1.5M780.5 569.2l1.3-1.6M784.8 572.3l1.4-1.6M789.2 575.1l1.3-1.5M793.6 577.7l1.3-1.5M798 580.2l1.3-1.5M802.3 582.4l1.3-1.5M806.7 584.5l1.3-1.5M811.1 586.3l1.3-1.5M815.5 587.9l1.2-1.4M819.9 589.3l1.2-1.4M824.2 590.6l1.2-1.5M828.6 591.6l1.2-1.4M833 592.4l1.2-1.4M837.4 593l1.1-1.3M841.7 593.4l1.2-1.3M846.1 593.6l1.2-1.2M850.5 593.6l1.1-1.2M854.9 593.4l1.1-1.2M859.2 593l1.1-1.1M863.6 592.4l1.1-1.1M868 591.6l1.1-1M872.4 590.6l1-1M876.8 589.4l1-1M881.1 587.9l1.1-0.9M885.5 586.3l1-0.9M889.9 584.4l1-0.8M894.3 582.3l1-0.7M898.6 580.1l1-0.7M903 577.6l1-0.7M907.4 574.8l0.9-0.5M911.8 571.9l0.9-0.5M916.1 568.7l1-0.4M920.5 565.4l0.9-0.3M924.9 561.8l0.9-0.2M930.2 557.8l-0.2 0.1"/>
<path d="M548.5 716.5l4.4 0.6 4.4 0.4 4.3 0.4 4.4 0.3 4.4 0.1 4.4 0 4.3-0.1 4.4-0.2 4.4-0.3 4.4-0.5 4.3-0.5 4.4-0.7 4.4-0.8 4.4-0.9 4.4-1.1 4.3-1.2 4.4-1.3 4.4-1.5 4.4-1.7 4.3-1.8 4.4-2 4.4-2.2 4.4-2.3 4.3-2.5 4.4-2.7 4.4-2.9 4.4-3.1 4.3-3.3 4.4-3.5 4.4-3.7 4.4-3.9 4.4-4.1 4.3-4.4 4.4-4.6 4.4-4.9 4.4-5.1 4.3-5.4 4.4-5.7 4.4-6 4.4-6.3 4.3-6.6 4.4-7 4.4-7.3 4.4-7.7 4.4-8 4.3-8.5 4.4-8.9 4.4-9.2 4.1-9.2 2.6-0.4-0.9 2.2-4.4 9.6-4.4 9.3-4.3 8.7-4.4 8.4-4.4 8-4.3 7.6-4.4 7.3-4.3 6.9-4.4 6.6-4.4 6.2-4.3 6-4.4 5.6-4.4 5.4-4.3 5.1-4.4 4.9-4.4 4.5-4.3 4.4-4.4 4.1-4.3 3.9-4.4 3.6-4.4 3.5-4.3 3.3-4.4 3-4.4 2.9-4.3 2.7-4.4 2.5-4.4 2.3-4.3 2.2-4.4 1.9-4.3 1.9-4.4 1.6-4.4 1.5-4.3 1.3-4.4 1.2-4.4 1-4.3 1-4.4 0.7-4.3 0.7-4.4 0.6-4.4 0.4-4.3 0.4-4.4 0.2-4.4 0.1-4.3 0-4.4-0.2-4.4-0.2-4.3-0.4-4.4-0.5-4.3-0.6ZM552.9 717.1l2 1.1M557.3 717.5l2 1.2M561.6 717.9l2 1.2M566 718.2l2 1.1M570.4 718.3l2 1.2M574.8 718.3l1.9 1.2M579.1 718.2l2 1.2M583.5 718l2 1.2M587.9 717.7l1.9 1.1M592.3 717.2l1.9 1.2M596.6 716.7l2 1.1M601 716l1.9 1.1M605.4 715.2l1.9 1.2M609.8 714.3l1.8 1.1M614.2 713.2l1.8 1.2M618.5 712l1.9 1.2M622.9 710.7l1.8 1.2M627.3 709.2l1.8 1.2M631.7 707.5l1.8 1.3M636 705.7l1.8 1.2M640.4 703.7l1.8 1.3M644.8 701.5l1.7 1.3M649.2 699.2l1.7 1.3M653.5 696.7l1.8 1.3M657.9 694l1.7 1.3M662.3 691.1l1.7 1.3M666.7 688l1.7 1.4M671 684.7l1.7 1.4M675.4 681.2l1.7 1.4M679.8 677.5l1.7 1.5M684.2 673.6l1.6 1.5M688.6 669.5l1.6 1.5M692.9 665.1l1.6 1.5M697.3 660.5l1.6 1.6M701.7 655.6l1.6 1.6M706.1 650.5l1.5 1.6M710.4 645.1l1.6 1.6M714.8 639.4l1.6 1.7M719.2 633.4l1.5 1.7M723.6 627.1l1.5 1.8M727.9 620.5l1.6 1.8M732.3 613.5l1.5 1.9M736.7 606.2l1.5 1.9M741.1 598.5l1.4 2M745.5 590.5l1.4 2M749.8 582l1.5 2.1M754.2 573.1l1.4 2.3M758.6 563.9l1.4 2.2M764.4 556.5l-1.1-1.9"/>
<path d="M765.3 554.3l3.4 3 4.4 3.6 4.3 3.5 4.4 3.2 4.4 3.1 4.3 2.9 4.4 2.6 4.4 2.5 4.3 2.2 4.4 2.1 4.4 1.8 4.3 1.7 4.4 1.4 4.3 1.2 4.4 1.1 4.4 0.8 4.3 0.7 4.4 0.4 4.4 0.3 4.3 0 4.4-0.2 4.3-0.3 4.4-0.6 4.4-0.7 4.3-1 4.4-1.2 4.4-1.4 4.3-1.6 4.4-1.8 4.4-2 4.3-2.2 4.4-2.5 4.3-2.6 4.4-2.9 4.4-3.1 4.3-3.2 4.4-3.5 4.4-3.8 0.2-0.1 2-1.5-1.4 1.2-4.3 3.6-4.3 3.4-4.4 3.3-4.4 3-4.3 2.8-4.3 2.6-4.4 2.3-4.4 2.2-4.3 2-4.3 1.7-4.4 1.5-4.4 1.4-4.3 1.1-4.3 0.9-4.4 0.7-4.4 0.6-4.3 0.3-4.3 0.1-4.4-0.1-4.4-0.2-4.3-0.5-4.3-0.7-4.4-0.8-4.4-1.1-4.3-1.3-4.3-1.4-4.4-1.7-4.4-1.8-4.3-2.1-4.3-2.3-4.4-2.4-4.4-2.7-4.3-2.8-4.3-3-4.4-3.3-4.4-3.4-4.3-3.7-2.2-1.8ZM768.7 557.3l1.4-1.7M773.1 560.9l1.3-1.6M777.4 564.4l1.4-1.7M781.8 567.6l1.4-1.6M786.2 570.7l1.3-1.7M790.5 573.6l1.3-1.8M794.9 576.2l1.3-1.7M799.3 578.7l1.3-1.8M803.6 580.9l1.3-1.7M808 583l1.2-1.7M812.4 584.8l1.2-1.7M816.7 586.5l1.3-1.7M821.1 587.9l1.2-1.7M825.4 589.1l1.2-1.6M829.8 590.2l1.2-1.6M834.2 591l1.2-1.6M838.5 591.7l1.2-1.6M842.9 592.1l1.1-1.5M847.3 592.4l1.1-1.6M851.6 592.4l1.2-1.5M856 592.2l1.1-1.4M860.3 591.9l1.1-1.4M864.7 591.3l1.1-1.4M869.1 590.6l1.1-1.4M873.4 589.6l1.1-1.3M877.8 588.4l1-1.2M882.2 587l1-1.2M886.5 585.4l1.1-1.1M890.9 583.6l1-1M895.3 581.6l0.9-1M899.6 579.4l1-1M904 576.9l1-0.8M908.3 574.3l1-0.8M912.7 571.4l0.9-0.7M917.1 568.3l0.9-0.6M921.4 565.1l1-0.7M925.8 561.6l0.9-0.6M930.2 557.8l0.8-0.4"/>
<path d="M550.6 717.6l4.3 0.6 4.4 0.5 4.3 0.4 4.4 0.2 4.4 0.2 4.3 0 4.4-0.1 4.4-0.2 4.3-0.4 4.4-0.4 4.4-0.6 4.3-0.7 4.4-0.7 4.3-1 4.4-1 4.4-1.2 4.3-1.3 4.4-1.5 4.4-1.6 4.3-1.9 4.4-1.9 4.3-2.2 4.4-2.3 4.4-2.5 4.3-2.7 4.4-2.9 4.4-3 4.3-3.3 4.4-3.5 4.4-3.6 4.3-3.9 4.4-4.1 4.3-4.4 4.4-4.5 4.4-4.9 4.3-5.1 4.4-5.4 4.4-5.6 4.3-6 4.4-6.2 4.4-6.6 4.3-6.9 4.4-7.3 4.3-7.6 4.4-8 4.4-8.4 4.3-8.7 4.4-9.3 4.4-9.6 0.9-2.2 2.6-0.5-2.1 5-4.4 9.5-4.4 9.2-4.3 8.7-4.4 8.4-4.3 7.9-4.4 7.6-4.3 7.2-4.3 6.9-4.4 6.5-4.4 6.2-4.3 6-4.3 5.6-4.4 5.3-4.4 5.1-4.3 4.8-4.3 4.6-4.4 4.3-4.4 4.1-4.3 3.9-4.3 3.6-4.4 3.5-4.4 3.2-4.3 3.1-4.3 2.8-4.4 2.7-4.4 2.5-4.3 2.3-4.3 2.1-4.4 2-4.4 1.8-4.3 1.7-4.3 1.4-4.4 1.4-4.4 1.1-4.3 1-4.3 0.9-4.4 0.8-4.4 0.7-4.3 0.6-4.3 0.4-4.4 0.3-4.3 0.2-4.4 0.1-4.3 0-4.4-0.1-4.4-0.3-4.3-0.3-4.3-0.5-4.4-0.6ZM554.9 718.2l2.1 1.4M559.3 718.7l2 1.4M563.6 719.1l2 1.3M568 719.3l2 1.4M572.4 719.5l2 1.3M576.7 719.5l2 1.3M581.1 719.4l2 1.3M585.5 719.2l1.9 1.3M589.8 718.8l2 1.4M594.2 718.4l1.9 1.4M598.6 717.8l1.8 1.4M602.9 717.1l1.9 1.4M607.3 716.4l1.9 1.3M611.6 715.4l1.9 1.4M616 714.4l1.8 1.4M620.4 713.2l1.8 1.5M624.7 711.9l1.9 1.4M629.1 710.4l1.8 1.5M633.5 708.8l1.7 1.4M637.8 706.9l1.8 1.5M642.2 705l1.8 1.4M646.5 702.8l1.8 1.5M650.9 700.5l1.7 1.5M655.3 698l1.7 1.5M659.6 695.3l1.8 1.5M664 692.4l1.7 1.6M668.4 689.4l1.6 1.5M672.7 686.1l1.7 1.6M677.1 682.6l1.7 1.6M681.5 679l1.6 1.6M685.8 675.1l1.6 1.6M690.2 671l1.6 1.6M694.5 666.6l1.7 1.7M698.9 662.1l1.6 1.6M703.3 657.2l1.5 1.7M707.6 652.1l1.6 1.7M712 646.7l1.6 1.8M716.4 641.1l1.5 1.8M720.7 635.1l1.5 1.8M725.1 628.9l1.5 1.8M729.5 622.3l1.5 1.9M733.8 615.4l1.5 1.9M738.2 608.1l1.4 2M742.5 600.5l1.5 2M746.9 592.5l1.4 2.1M751.3 584.1l1.4 2.1M755.6 575.4l1.4 2.1M760 566.1l1.4 2.2M764.4 556.5l1.4 2.3"/></g>
<g fill="none" stroke="#a9a9a9" stroke-width="3" stroke-linecap="round">
<path d="M749.6 534L768.7 553.3M779.5 530.5L768.7 553.3"/>
<path d="M552.6 719l-3-1.9-3-1.6-3-1.3-3-1.4-3-1.7-3-2.1-3-2.8-3-3.6-3-4.3-2.9-4.9-3-5.3-3-5.6-3-5.8-3-6-3-6.1-3-6.2-3-6.4-3-6.3-3-6.1-3-6-3-5.8-3-5.4-3-5.2-3-5-3-4.8-3-4.7-3-4.7-3-4.8-3-4.9-2.9-5-3-5-3-4.8-3-4.6-3-4.2-3-3.7-3-3.4-3-2.9-3-2.8-3-2.5-3-2.4-3-2.3-3-2.4-3-2.4-3-2.5-3-2.6-3-2.9-3-3.2-3-3.5-3-3.8-2.9-4.3-3-4.6-3-5.1-3-5.6-3-6.2-3-7-3-7.9-3-9-3-10.1-3-11.5"/><path d="M552.6 719l3.6 0.5 3.7 0.4 3.6 0.4 3.7 0.2 3.6 0.2 3.7 0.1 3.6 0.1 3.7-0.1 3.6-0.2 3.7-0.2 3.6-0.3 3.7-0.4 3.6-0.4 3.7-0.6 3.6-0.6 3.7-0.7 3.6-0.8 3.7-0.9 3.6-1 3.7-1.1 3.6-1.2 3.7-1.3 3.6-1.4 3.7-1.6 3.6-1.6 3.7-1.8 3.6-1.9 3.7-2 3.6-2.2 3.7-2.3 3.6-2.4 3.7-2.5 3.6-2.7 3.7-2.8 3.6-3 3.7-3.1 3.6-3.3 3.7-3.4 3.6-3.6 3.7-3.8 3.6-3.9 3.7-4.1 3.6-4.3 3.7-4.5 3.6-4.7 3.7-4.8 3.6-5.1 3.7-5.4 3.6-5.5 3.7-5.8 3.6-6 3.7-6.3 3.6-6.5 3.7-6.8 3.6-7.1 3.7-7.3 3.6-7.6 3.7-8 3.6-8.2"/><path d="M767.9 553.8l2.8 2.4 2.8 2.3 2.8 2.3 2.8 2.1 2.8 2.1 2.8 2 2.8 2 2.7 1.8 2.8 1.8 2.8 1.7 2.8 1.6 2.8 1.5 2.8 1.4 2.8 1.4 2.8 1.3 2.7 1.2 2.8 1.1 2.8 1 2.8 1 2.8 0.9 2.8 0.7 2.8 0.8 2.8 0.6 2.7 0.5 2.8 0.5 2.8 0.4 2.8 0.3 2.8 0.2 2.8 0.1 2.8 0.1 2.8 0 2.7-0.1 2.8-0.2 2.8-0.3 2.8-0.3 2.8-0.5 2.8-0.5 2.8-0.6 2.8-0.6 2.7-0.8 2.8-0.8 2.8-1 2.8-1 2.8-1.1 2.8-1.2 2.8-1.3 2.8-1.3 2.7-1.5 2.8-1.5 2.8-1.6 2.8-1.7 2.8-1.8 2.8-1.9 2.8-2 2.8-2 2.7-2.2 2.8-2.2 2.8-2.3 2.8-2.4"/><path d="M932.4 556.2l-3 2.1-3 1.5-3 1-3 0.5-3 0-3-0.3-3-0.6-3-1-3-1.2-2.9-1.4-3-1.7-3-1.8-3-2-3-2.2-3-2.3-3-2.6-3-2.8-3-2.9-3-3.2-3-3.2-3-3.5-3-3.5-3-3.6-3-3.6-3-3.4-3-3.3-3-3.1-3-2.8-3-2.7-2.9-2.5-3-2.4-3-2.3-3-2.2-3-2.3-3-2.2-3-2.2-3-2.1-3-2-3-1.9-3-1.7-3-1.6-3-1.5-3-1.3-3-1.3-3-1.3-3-1.4-3-1.6-3-1.8-3-2.1-2.9-2.4-3-2.8-3-3.1-3-3.5-3-4-3-4.3-3-4.8-3-5.3-3-5.8-3-6.3"/>
</g>
<g stroke="#111" stroke-width="1.1">
<line x1="552.6" y1="719.0" x2="552.6" y2="862.2" />
<line x1="932.4" y1="556.0" x2="932.4" y2="769.7" />
</g>
<g stroke="#888" stroke-width="1.4">
<line x1="308.2" y1="304.8" x2="449.5" y2="507.0" />
<line x1="846.0" y1="577.6" x2="974.2" y2="717.3" />
</g>
<g stroke="#000" stroke-width="1.3">
<line x1="631.8" y1="341.0" x2="633.0" y2="488.0" />
<line x1="715.5" y1="480.0" x2="975.7" y2="244.0" />
<line x1="304.0" y1="769.0" x2="585.0" y2="712.5" />
</g>
<path d="M541.7 367.7C543.6 370.5 549.2 379.0 552.9 384.7C556.5 390.4 560.2 396.4 563.8 402.1C567.5 407.9 571.1 413.7 574.6 419.2C578.2 424.7 581.8 430.0 585.3 435.0C588.8 440.0 592.3 444.6 595.8 449.0C599.2 453.4 602.7 457.4 606.1 461.6C609.5 465.9 612.9 470.0 616.3 474.3C619.7 478.6 623.0 483.2 626.3 487.5C629.6 491.8 632.9 496.1 636.2 499.9C639.5 503.8 642.7 507.3 645.9 510.4C649.1 513.6 652.3 516.4 655.5 518.9C658.7 521.5 661.8 523.7 665.0 525.8C668.1 527.9 671.2 529.7 674.3 531.4C677.3 533.1 680.4 534.6 683.4 536.0C686.5 537.4 689.5 538.7 692.5 539.9C695.5 541.2 698.4 542.4 701.4 543.5C704.3 544.7 707.2 545.8 710.1 546.9C713.0 547.9 715.9 548.9 718.8 549.8C721.6 550.6 724.5 551.5 727.3 552.2C730.1 552.9 732.9 553.5 735.7 554.0C738.4 554.5 741.2 554.9 743.9 555.1C746.6 555.4 749.3 555.5 752.0 555.5C754.7 555.5 757.4 555.4 760.1 555.1C762.7 554.8 766.6 554.0 767.9 553.8" fill="none" stroke="#e0963c" stroke-width="4.2" stroke-linecap="round"/>
<line x1="737.6" y1="555.5" x2="713.0" y2="577.0" stroke="#e0963c" stroke-width="3.8"/>
<g fill="none" stroke="#2fb419" stroke-width="3.2" stroke-linecap="round">
<path d="M455.4 506.9C460.3 512.1 474.4 527.1 484.8 538.0C495.2 548.9 508.3 558.8 517.8 572.3C527.3 585.8 534.6 604.5 542.0 619.0C549.4 633.5 554.4 645.1 562.4 659.3C570.4 673.4 585.4 696.5 590.0 703.9"/>
<path d="M715.5 480.0C717.6 481.8 720.6 487.2 728.0 491.0C735.4 494.8 750.9 499.4 759.6 502.6C768.4 505.8 773.1 504.5 780.5 510.0C787.9 515.5 795.7 527.0 803.8 535.4C811.9 543.8 822.0 553.6 829.0 560.6C836.0 567.6 843.2 574.8 846.0 577.6"/>
<line x1="518.0" y1="572.0" x2="541.0" y2="551.0" />
<line x1="780.5" y1="510.4" x2="803.5" y2="488.0" />
</g>
<path d="M589.6 704.0C588.8 702.5 587.0 702.3 585.0 695.0C583.0 687.7 578.7 669.2 577.5 660.0C576.3 650.8 576.5 649.2 578.0 640.0C579.5 630.8 582.3 619.0 586.3 604.7C590.3 590.4 596.2 569.0 602.0 554.3C607.8 539.6 615.2 525.4 621.0 516.5C626.8 507.6 631.5 503.8 636.8 500.7C642.0 497.6 646.7 496.9 652.5 497.6C658.3 498.3 665.1 502.7 671.4 505.0C677.7 507.3 684.5 511.1 690.3 511.4C696.1 511.7 702.0 509.8 706.0 507.0C710.0 504.2 712.7 498.9 714.3 494.4C715.9 489.9 715.3 482.4 715.5 480.0" fill="none" stroke="#c8361f" stroke-width="3.6"/>
<g fill="none" stroke="#000" stroke-width="3.8">
<path d="M590.0 704.0C594.1 703.2 605.3 703.2 614.7 699.2C624.1 695.2 635.7 688.2 646.2 680.3C656.7 672.4 668.2 662.0 677.7 652.0C687.2 642.0 695.6 631.0 703.0 620.5C710.4 610.0 716.0 599.8 721.8 589.0C727.6 578.2 735.0 561.1 737.6 555.5"/>
<path d="M737.6 555.5C741.3 557.4 750.7 563.4 759.6 566.9C768.5 570.4 780.7 574.2 791.2 576.3C801.7 578.4 813.6 579.3 822.7 579.5C831.8 579.7 837.6 579.2 846.0 577.6C854.4 576.0 863.8 573.7 873.0 570.0C882.2 566.3 896.8 557.9 901.5 555.5"/>
</g>
<circle cx="455.4" cy="506.9" r="7.4" fill="#22b613" stroke="#000" stroke-width="2.4"/>
<circle cx="846.0" cy="577.6" r="7.4" fill="#22b613" stroke="#000" stroke-width="2.4"/>
<circle cx="517.8" cy="572.3" r="5.0" fill="#9bd05c" stroke="#000" stroke-width="2.2"/>
<circle cx="780.5" cy="510.0" r="5.0" fill="#9bd05c" stroke="#000" stroke-width="2.2"/>
<circle cx="737.6" cy="555.5" r="5.0" fill="#f6a48c" stroke="#000" stroke-width="2.2"/>
<circle cx="589.6" cy="704.0" r="7.6" fill="#c00000" stroke="#000" stroke-width="2.3"/>
<circle cx="715.1" cy="479.6" r="7.6" fill="#c00000" stroke="#000" stroke-width="2.3"/>
<polygon points="637.1,482.8 646.4,501 637.1,519.2 627.8,501" fill="#ffc000" stroke="#ee1c14" stroke-width="2.2"/>
</g>
<g font-family="Liberation Sans, sans-serif">
<text x="538.4" y="709.6" font-size="28.6" fill="#000" >Ox</text>
<text x="684.5" y="458.1" font-size="28.0" fill="#000" >Red</text>
<text x="552.9" y="510.5" font-size="28.6" fill="#b5201f" >CIET</text>
<text x="546.8" y="555.6" font-size="28.6" fill="#2fb419" >IT</text>
<text x="808.9" y="493.0" font-size="28.6" fill="#2fb419" >IT</text>
<text x="669.5" y="590.0" font-size="28.6" fill="#e0963c" >ET</text>
</g>
<g font-family="Liberation Serif, DejaVu Serif, serif" font-style="italic" fill="#000" stroke="#000" stroke-width="0.25">
<text x="316.6" y="406.0" font-size="36.0" fill="#000" >μ</text>
<text x="336.6" y="392.5" font-size="28.0" fill="#000" letter-spacing="1.5">ex</text>
<text x="369.5" y="712.3" font-size="37.4" fill="#000" >ξ</text>
<text x="385.4" y="719.1" font-size="23.0" fill="#000" >R</text>
<text x="405.9" y="786.7" font-size="37.4" fill="#000" >ξ</text>
<text x="496.3" y="854.1" font-size="37.4" fill="#000" >ξ</text>
<text x="512.3" y="860.8" font-size="22.4" fill="#000" >O</text>
<text x="605.5" y="870.5" font-size="37.0" fill="#000" >q</text>
<text x="623.7" y="878.5" font-size="22.4" fill="#000" >O</text>
<text x="758.9" y="839.0" font-size="37.0" fill="#000" >q</text>
<text x="776.8" y="848.5" font-size="26.4" fill="#000" font-style="normal">‡</text>
<text x="879.6" y="808.9" font-size="37.0" fill="#000" >q</text>
<text x="896.8" y="816.1" font-size="22.0" fill="#000" >R</text>
<text x="782.4" y="889.2" font-size="37.0" fill="#000" >q</text>
</g>
<defs>
<radialGradient id="gGray" cx="0.42" cy="0.42" r="0.62"><stop offset="0" stop-color="#f6f6f6"/><stop offset="0.5" stop-color="#cccccc"/><stop offset="1" stop-color="#979797"/></radialGradient>
<radialGradient id="gOr" cx="0.42" cy="0.42" r="0.62"><stop offset="0" stop-color="#fbdccc"/><stop offset="0.5" stop-color="#eeae8c"/><stop offset="1" stop-color="#d88860"/></radialGradient>
<radialGradient id="gSal" cx="0.45" cy="0.45" r="0.6"><stop offset="0" stop-color="#ecd2c8"/><stop offset="0.6" stop-color="#d9a996"/><stop offset="1" stop-color="#cf9a88"/></radialGradient>
<radialGradient id="gLi" cx="0.5" cy="0.5" r="0.5"><stop offset="0" stop-color="#e9f6e2"/><stop offset="0.55" stop-color="#c2e4b6"/><stop offset="1" stop-color="#a6d698"/></radialGradient>
<radialGradient id="gLiP" cx="0.5" cy="0.5" r="0.5"><stop offset="0" stop-color="#f2fff0"/><stop offset="0.4" stop-color="#84cc82"/><stop offset="1" stop-color="#3a8a3c"/></radialGradient>
<radialGradient id="gGlow" cx="0.5" cy="0.5" r="0.5"><stop offset="0" stop-color="#6fdc4a" stop-opacity="0.95"/><stop offset="0.6" stop-color="#86e262" stop-opacity="0.9"/><stop offset="0.82" stop-color="#a8ec8c" stop-opacity="0.6"/><stop offset="1" stop-color="#d8f8c8" stop-opacity="0"/></radialGradient>
<radialGradient id="gBlue" cx="0.5" cy="0.5" r="0.5"><stop offset="0" stop-color="#6d94dc" stop-opacity="0.7"/><stop offset="0.4" stop-color="#7ba0e0" stop-opacity="0.6"/><stop offset="0.72" stop-color="#9bb8ea" stop-opacity="0.3"/><stop offset="1" stop-color="#c0d4f4" stop-opacity="0"/></radialGradient>
<radialGradient id="gTeal" cx="0.5" cy="0.5" r="0.5"><stop offset="0" stop-color="#45c2a1" stop-opacity="0.8"/><stop offset="0.5" stop-color="#50c7a7" stop-opacity="0.68"/><stop offset="0.8" stop-color="#7dd6bd" stop-opacity="0.3"/><stop offset="1" stop-color="#b5ead9" stop-opacity="0"/></radialGradient>
<linearGradient id="gFade" x1="0" x2="1" y1="0" y2="0"><stop offset="0" stop-color="#fff" stop-opacity="1"/><stop offset="0.3" stop-color="#fff" stop-opacity="0.98"/><stop offset="0.5" stop-color="#fff" stop-opacity="0.93"/><stop offset="0.6" stop-color="#fff" stop-opacity="0.85"/><stop offset="0.7" stop-color="#fff" stop-opacity="0.64"/><stop offset="0.8" stop-color="#fff" stop-opacity="0.36"/><stop offset="0.9" stop-color="#fff" stop-opacity="0.12"/><stop offset="1" stop-color="#fff" stop-opacity="0"/></linearGradient>
</defs>
<clipPath id="clipE"><ellipse cx="160.2" cy="302.6" rx="147.3" ry="151.4"/></clipPath>
<g clip-path="url(#clipE)">
<g transform="translate(160.2 302.6)">
<polygon points="-183.3,-123.9 -129.0,-123.9 -111.3,-77.0 -165.6,-77.0" fill="#f6d4c6" stroke="#6b6b6b" stroke-opacity="0.30" stroke-width="0.7"/><line x1="-165.6" y1="-77.0" x2="-129.0" y2="-123.9" stroke="#6b6b6b" stroke-opacity="0.30" stroke-width="0.7"/>
<polygon points="-129.0,-123.9 -74.7,-123.9 -57.0,-77.0 -111.3,-77.0" fill="#f6d4c6" stroke="#6b6b6b" stroke-opacity="0.40" stroke-width="0.7"/><line x1="-111.3" y1="-77.0" x2="-74.7" y2="-123.9" stroke="#6b6b6b" stroke-opacity="0.40" stroke-width="0.7"/><circle cx="-93.0" cy="-100.5" r="10.6" fill="url(#gOr)" stroke="#5a5a5a" stroke-opacity="0.8" stroke-width="0.8" stroke-dasharray="2 1"/><line x1="-97.0" y1="-95.5" x2="-89.0" y2="-105.5" stroke="#fff" stroke-opacity="0.75" stroke-width="0.9"/>
<polygon points="-74.7,-123.9 -20.4,-123.9 -2.7,-77.0 -57.0,-77.0" fill="#d6d6d6" stroke="#6b6b6b" stroke-opacity="0.80" stroke-width="0.7"/><line x1="-57.0" y1="-77.0" x2="-20.4" y2="-123.9" stroke="#6b6b6b" stroke-opacity="0.80" stroke-width="0.7"/><circle cx="-38.7" cy="-100.5" r="10.6" fill="url(#gGray)" stroke="#5a5a5a" stroke-opacity="0.8" stroke-width="0.8" stroke-dasharray="2 1"/><line x1="-42.7" y1="-95.5" x2="-34.7" y2="-105.5" stroke="#fff" stroke-opacity="0.75" stroke-width="0.9"/>
<polygon points="-20.4,-123.9 33.9,-123.9 51.6,-77.0 -2.7,-77.0" fill="#d6d6d6" stroke="#6b6b6b" stroke-opacity="0.80" stroke-width="0.7"/><line x1="-2.7" y1="-77.0" x2="33.9" y2="-123.9" stroke="#6b6b6b" stroke-opacity="0.80" stroke-width="0.7"/><circle cx="15.6" cy="-100.5" r="10.6" fill="url(#gGray)" stroke="#5a5a5a" stroke-opacity="0.8" stroke-width="0.8" stroke-dasharray="2 1"/><line x1="11.6" y1="-95.5" x2="19.6" y2="-105.5" stroke="#fff" stroke-opacity="0.75" stroke-width="0.9"/>
<polygon points="-195.2,-27.8 -142.9,-27.8 -125.3,17.9 -177.6,17.9" fill="#d6d6d6" stroke="#6b6b6b" stroke-opacity="0.30" stroke-width="0.7"/><line x1="-177.6" y1="17.9" x2="-142.9" y2="-27.8" stroke="#6b6b6b" stroke-opacity="0.30" stroke-width="0.7"/>
<polygon points="-142.9,-27.8 -90.6,-27.8 -73.0,17.9 -125.3,17.9" fill="#d6d6d6" stroke="#6b6b6b" stroke-opacity="0.40" stroke-width="0.7"/><line x1="-125.3" y1="17.9" x2="-90.6" y2="-27.8" stroke="#6b6b6b" stroke-opacity="0.40" stroke-width="0.7"/><circle cx="-107.9" cy="-5.0" r="10.6" fill="url(#gGray)" stroke="#5a5a5a" stroke-opacity="0.8" stroke-width="0.8" stroke-dasharray="2 1"/><line x1="-111.9" y1="0.0" x2="-103.9" y2="-10.0" stroke="#fff" stroke-opacity="0.75" stroke-width="0.9"/>
<polygon points="-90.6,-27.8 -38.3,-27.8 -20.7,17.9 -73.0,17.9" fill="#d6d6d6" stroke="#6b6b6b" stroke-opacity="0.80" stroke-width="0.7"/><line x1="-73.0" y1="17.9" x2="-38.3" y2="-27.8" stroke="#6b6b6b" stroke-opacity="0.80" stroke-width="0.7"/><circle cx="-55.6" cy="-5.0" r="10.6" fill="url(#gGray)" stroke="#5a5a5a" stroke-opacity="0.8" stroke-width="0.8" stroke-dasharray="2 1"/><line x1="-59.6" y1="0.0" x2="-51.6" y2="-10.0" stroke="#fff" stroke-opacity="0.75" stroke-width="0.9"/>
<polygon points="-38.3,-27.8 14.0,-27.8 31.6,17.9 -20.7,17.9" fill="#f6d4c6" stroke="#6b6b6b" stroke-opacity="0.80" stroke-width="0.7"/><line x1="-20.7" y1="17.9" x2="14.0" y2="-27.8" stroke="#6b6b6b" stroke-opacity="0.80" stroke-width="0.7"/>
<polygon points="-150.5,77.5 -99.0,77.5 -82.5,123.2 -134.0,123.2" fill="#f6d4c6" stroke="#6b6b6b" stroke-opacity="0.30" stroke-width="0.7"/><line x1="-134.0" y1="123.2" x2="-99.0" y2="77.5" stroke="#6b6b6b" stroke-opacity="0.30" stroke-width="0.7"/>
<polygon points="-99.0,77.5 -47.5,77.5 -31.0,123.2 -82.5,123.2" fill="#f6d4c6" stroke="#6b6b6b" stroke-opacity="0.50" stroke-width="0.7"/><line x1="-82.5" y1="123.2" x2="-47.5" y2="77.5" stroke="#6b6b6b" stroke-opacity="0.50" stroke-width="0.7"/><circle cx="-65.0" cy="100.3" r="10.6" fill="url(#gOr)" stroke="#5a5a5a" stroke-opacity="0.8" stroke-width="0.8" stroke-dasharray="2 1"/><line x1="-69.0" y1="105.3" x2="-61.0" y2="95.3" stroke="#fff" stroke-opacity="0.75" stroke-width="0.9"/>
<polygon points="-47.5,77.5 4.0,77.5 20.5,123.2 -31.0,123.2" fill="#d6d6d6" stroke="#6b6b6b" stroke-opacity="0.80" stroke-width="0.7"/><line x1="-31.0" y1="123.2" x2="4.0" y2="77.5" stroke="#6b6b6b" stroke-opacity="0.80" stroke-width="0.7"/><circle cx="-13.5" cy="100.3" r="10.6" fill="url(#gGray)" stroke="#5a5a5a" stroke-opacity="0.8" stroke-width="0.8" stroke-dasharray="2 1"/><line x1="-17.5" y1="105.3" x2="-9.5" y2="95.3" stroke="#fff" stroke-opacity="0.75" stroke-width="0.9"/>
<circle cx="-72.2" cy="-55.3" r="11" fill="none" stroke="#8fae4e" stroke-width="2.6" stroke-dasharray="2.6 2.6" opacity="0.60"/>
<circle cx="-19.6" cy="-55.3" r="11" fill="none" stroke="#8fae4e" stroke-width="2.6" stroke-dasharray="2.6 2.6" opacity="1.00"/>
<circle cx="27.6" cy="-55.3" r="12.3" fill="url(#gLi)" stroke="#9ccf8e" stroke-width="0.8" opacity="1.00"/>
<circle cx="-88.5" cy="51.0" r="11" fill="none" stroke="#8fae4e" stroke-width="2.6" stroke-dasharray="2.6 2.6" opacity="0.50"/>
<circle cx="-35.2" cy="51.0" r="12.3" fill="url(#gLi)" stroke="#9ccf8e" stroke-width="0.8" opacity="0.85"/>

<g opacity="1.00"><circle cx="-3.4" cy="-5.0" r="10.6" fill="url(#gOr)" stroke="#5a5a5a" stroke-opacity="0.8" stroke-width="0.8" stroke-dasharray="2 1"/><line x1="-7.4" y1="0.0" x2="0.6" y2="-10.0" stroke="#fff" stroke-opacity="0.75" stroke-width="0.9"/></g>
<rect x="-165" y="-135" width="130" height="270" fill="url(#gFade)"/>
<path d="M53.2 -140.5C54.1 -134.9 57.7 -116.0 58.8 -106.9C59.9 -97.8 59.7 -93.3 59.6 -86.0C59.5 -78.7 59.3 -72.0 58.1 -63.3C56.9 -54.6 55.0 -44.2 52.5 -33.7C50.0 -23.3 44.8 -9.9 42.8 -0.6C40.8 8.7 40.9 14.2 40.4 22.0C39.9 29.8 39.9 37.1 39.6 46.4C39.3 55.7 40.4 66.7 38.6 77.7C36.8 88.7 30.7 103.9 28.8 112.6C26.9 121.3 27.2 123.9 27.0 130.0C26.8 136.1 27.5 145.8 27.6 149.0" fill="none" stroke="#7f7f7f" stroke-width="3.3" stroke-dasharray="29.5 8"/>
<ellipse cx="0" cy="0" rx="28.8" ry="8.0" fill="#a9985a" transform="translate(111.7 -14.6) rotate(2.0)"/><ellipse cx="0" cy="0" rx="28.8" ry="8.0" fill="#a9985a" transform="translate(106.5 21.3) rotate(25.0)"/><ellipse cx="0" cy="0" rx="28.8" ry="8.0" fill="#a9985a" transform="translate(95.0 62.1) rotate(-2.0)"/><ellipse cx="0" cy="0" rx="28.8" ry="8.0" fill="#a9985a" transform="translate(83.1 99.4) rotate(14.0)"/><rect x="-8.0" y="24.0" width="54.0" height="54.0" rx="20.2" fill="url(#gGlow)"/><line x1="-8.2" y1="65.8" x2="10" y2="49" stroke="#5c9c50" stroke-width="3.8"/><circle cx="19.0" cy="51.0" r="12.6" fill="url(#gLiP)" stroke="#2a5f2a" stroke-width="1.1"/><text x="19.4" y="55.6" font-family="Liberation Sans, sans-serif" font-size="15.5" text-anchor="middle" fill="#000" stroke="#000" stroke-width="0.3">+</text>
</g></g>
<ellipse cx="160.2" cy="302.6" rx="148.1" ry="152.2" fill="none" stroke="#9a9a9a" stroke-width="2.5"/>
<g transform="translate(160.2 302.6)"><text x="60.5" y="51.6" font-size="23.2" fill="#ab9a5c" font-family="Liberation Sans, sans-serif" >Solvent</text><line x1="59.5" y1="-69.3" x2="77.6" y2="-88.8" stroke="#000" stroke-width="3.2"/><text x="82.3" y="-82.3" font-size="23.4" fill="#000" font-family="Liberation Sans, sans-serif" >Interface</text><text x="-158.0" y="85.6" font-size="23.5" fill="#62a05a" font-family="Liberation Sans, sans-serif" >Intercalated Li<tspan font-size="14" dy="-8">+</tspan></text></g>
<text x="129.5" y="142.0" font-size="29.5" fill="#9a9a9a" font-family="Liberation Sans, sans-serif" >IT only</text>
<text transform="translate(9.3 147.7) scale(0.720 1)" font-size="52.0" font-weight="bold" fill="#000" stroke="#000" stroke-width="1.6" stroke-linejoin="round" font-family="Liberation Sans, sans-serif">E</text>
<clipPath id="clipC"><ellipse cx="632.9" cy="188.8" rx="146.9" ry="151.4"/></clipPath>
<g clip-path="url(#clipC)">
<g transform="translate(634.2 188.5)">
<polygon points="-183.3,-123.9 -129.0,-123.9 -111.3,-77.0 -165.6,-77.0" fill="#f6d4c6" stroke="#6b6b6b" stroke-opacity="0.30" stroke-width="0.7"/><line x1="-165.6" y1="-77.0" x2="-129.0" y2="-123.9" stroke="#6b6b6b" stroke-opacity="0.30" stroke-width="0.7"/>
<polygon points="-129.0,-123.9 -74.7,-123.9 -57.0,-77.0 -111.3,-77.0" fill="#f6d4c6" stroke="#6b6b6b" stroke-opacity="0.40" stroke-width="0.7"/><line x1="-111.3" y1="-77.0" x2="-74.7" y2="-123.9" stroke="#6b6b6b" stroke-opacity="0.40" stroke-width="0.7"/><circle cx="-93.0" cy="-100.5" r="10.6" fill="url(#gOr)" stroke="#5a5a5a" stroke-opacity="0.8" stroke-width="0.8" stroke-dasharray="2 1"/><line x1="-97.0" y1="-95.5" x2="-89.0" y2="-105.5" stroke="#fff" stroke-opacity="0.75" stroke-width="0.9"/>
<polygon points="-74.7,-123.9 -20.4,-123.9 -2.7,-77.0 -57.0,-77.0" fill="#d6d6d6" stroke="#6b6b6b" stroke-opacity="0.80" stroke-width="0.7"/><line x1="-57.0" y1="-77.0" x2="-20.4" y2="-123.9" stroke="#6b6b6b" stroke-opacity="0.80" stroke-width="0.7"/><circle cx="-38.7" cy="-100.5" r="10.6" fill="url(#gGray)" stroke="#5a5a5a" stroke-opacity="0.8" stroke-width="0.8" stroke-dasharray="2 1"/><line x1="-42.7" y1="-95.5" x2="-34.7" y2="-105.5" stroke="#fff" stroke-opacity="0.75" stroke-width="0.9"/>
<polygon points="-20.4,-123.9 33.9,-123.9 51.6,-77.0 -2.7,-77.0" fill="#d6d6d6" stroke="#6b6b6b" stroke-opacity="0.80" stroke-width="0.7"/><line x1="-2.7" y1="-77.0" x2="33.9" y2="-123.9" stroke="#6b6b6b" stroke-opacity="0.80" stroke-width="0.7"/><circle cx="15.6" cy="-100.5" r="10.6" fill="url(#gGray)" stroke="#5a5a5a" stroke-opacity="0.8" stroke-width="0.8" stroke-dasharray="2 1"/><line x1="11.6" y1="-95.5" x2="19.6" y2="-105.5" stroke="#fff" stroke-opacity="0.75" stroke-width="0.9"/>
<polygon points="-195.2,-27.8 -142.9,-27.8 -125.3,17.9 -177.6,17.9" fill="#d6d6d6" stroke="#6b6b6b" stroke-opacity="0.30" stroke-width="0.7"/><line x1="-177.6" y1="17.9" x2="-142.9" y2="-27.8" stroke="#6b6b6b" stroke-opacity="0.30" stroke-width="0.7"/>
<polygon points="-142.9,-27.8 -90.6,-27.8 -73.0,17.9 -125.3,17.9" fill="#d6d6d6" stroke="#6b6b6b" stroke-opacity="0.40" stroke-width="0.7"/><line x1="-125.3" y1="17.9" x2="-90.6" y2="-27.8" stroke="#6b6b6b" stroke-opacity="0.40" stroke-width="0.7"/><circle cx="-107.9" cy="-5.0" r="10.6" fill="url(#gGray)" stroke="#5a5a5a" stroke-opacity="0.8" stroke-width="0.8" stroke-dasharray="2 1"/><line x1="-111.9" y1="0.0" x2="-103.9" y2="-10.0" stroke="#fff" stroke-opacity="0.75" stroke-width="0.9"/>
<polygon points="-90.6,-27.8 -38.3,-27.8 -20.7,17.9 -73.0,17.9" fill="#d6d6d6" stroke="#6b6b6b" stroke-opacity="0.80" stroke-width="0.7"/><line x1="-73.0" y1="17.9" x2="-38.3" y2="-27.8" stroke="#6b6b6b" stroke-opacity="0.80" stroke-width="0.7"/><circle cx="-55.6" cy="-5.0" r="10.6" fill="url(#gGray)" stroke="#5a5a5a" stroke-opacity="0.8" stroke-width="0.8" stroke-dasharray="2 1"/><line x1="-59.6" y1="0.0" x2="-51.6" y2="-10.0" stroke="#fff" stroke-opacity="0.75" stroke-width="0.9"/>
<polygon points="-38.3,-27.8 14.0,-27.8 31.6,17.9 -20.7,17.9" fill="#d6d6d6" stroke="#6b6b6b" stroke-opacity="0.80" stroke-width="0.7"/><line x1="-20.7" y1="17.9" x2="14.0" y2="-27.8" stroke="#6b6b6b" stroke-opacity="0.80" stroke-width="0.7"/>
<polygon points="-150.5,77.5 -99.0,77.5 -82.5,123.2 -134.0,123.2" fill="#f6d4c6" stroke="#6b6b6b" stroke-opacity="0.30" stroke-width="0.7"/><line x1="-134.0" y1="123.2" x2="-99.0" y2="77.5" stroke="#6b6b6b" stroke-opacity="0.30" stroke-width="0.7"/>
<polygon points="-99.0,77.5 -47.5,77.5 -31.0,123.2 -82.5,123.2" fill="#f6d4c6" stroke="#6b6b6b" stroke-opacity="0.50" stroke-width="0.7"/><line x1="-82.5" y1="123.2" x2="-47.5" y2="77.5" stroke="#6b6b6b" stroke-opacity="0.50" stroke-width="0.7"/><circle cx="-65.0" cy="100.3" r="10.6" fill="url(#gOr)" stroke="#5a5a5a" stroke-opacity="0.8" stroke-width="0.8" stroke-dasharray="2 1"/><line x1="-69.0" y1="105.3" x2="-61.0" y2="95.3" stroke="#fff" stroke-opacity="0.75" stroke-width="0.9"/>
<polygon points="-47.5,77.5 4.0,77.5 20.5,123.2 -31.0,123.2" fill="#d6d6d6" stroke="#6b6b6b" stroke-opacity="0.80" stroke-width="0.7"/><line x1="-31.0" y1="123.2" x2="4.0" y2="77.5" stroke="#6b6b6b" stroke-opacity="0.80" stroke-width="0.7"/><circle cx="-13.5" cy="100.3" r="10.6" fill="url(#gGray)" stroke="#5a5a5a" stroke-opacity="0.8" stroke-width="0.8" stroke-dasharray="2 1"/><line x1="-17.5" y1="105.3" x2="-9.5" y2="95.3" stroke="#fff" stroke-opacity="0.75" stroke-width="0.9"/>
<circle cx="-72.2" cy="-55.3" r="11" fill="none" stroke="#8fae4e" stroke-width="2.6" stroke-dasharray="2.6 2.6" opacity="0.60"/>
<circle cx="-19.6" cy="-55.3" r="11" fill="none" stroke="#8fae4e" stroke-width="2.6" stroke-dasharray="2.6 2.6" opacity="1.00"/>
<circle cx="27.6" cy="-55.3" r="12.3" fill="url(#gLi)" stroke="#9ccf8e" stroke-width="0.8" opacity="1.00"/>
<circle cx="-88.5" cy="51.0" r="11" fill="none" stroke="#8fae4e" stroke-width="2.6" stroke-dasharray="2.6 2.6" opacity="0.50"/>
<circle cx="-35.2" cy="51.0" r="12.3" fill="url(#gLi)" stroke="#9ccf8e" stroke-width="0.8" opacity="0.85"/>
<ellipse cx="-2" cy="-6" rx="72" ry="66" fill="url(#gBlue)"/><ellipse cx="16" cy="6" rx="55" ry="50" fill="url(#gBlue)" opacity="0.55"/>
<g opacity="1.00"><circle cx="-3.4" cy="-5.0" r="10.6" fill="url(#gSal)" stroke="#a0523a" stroke-width="1.1" stroke-dasharray="1.6 1.4"/></g>
<rect x="-165" y="-135" width="130" height="270" fill="url(#gFade)"/>
<path d="M53.2 -140.5C54.1 -134.9 57.7 -116.0 58.8 -106.9C59.9 -97.8 59.7 -93.3 59.6 -86.0C59.5 -78.7 59.3 -72.0 58.1 -63.3C56.9 -54.6 55.0 -44.2 52.5 -33.7C50.0 -23.3 44.8 -9.9 42.8 -0.6C40.8 8.7 40.9 14.2 40.4 22.0C39.9 29.8 39.9 37.1 39.6 46.4C39.3 55.7 40.4 66.7 38.6 77.7C36.8 88.7 30.7 103.9 28.8 112.6C26.9 121.3 27.2 123.9 27.0 130.0C26.8 136.1 27.5 145.8 27.6 149.0" fill="none" stroke="#7f7f7f" stroke-width="3.3" stroke-dasharray="29.5 8"/>
<ellipse cx="0" cy="0" rx="28.8" ry="8.0" fill="#a9985a" transform="translate(91.7 -28.8) rotate(-25.0)"/><ellipse cx="0" cy="0" rx="28.8" ry="8.0" fill="#a9985a" transform="translate(90.2 26.9) rotate(-40.0)"/><ellipse cx="0" cy="0" rx="28.8" ry="8.0" fill="#a9985a" transform="translate(94.5 64.6) rotate(18.0)"/><ellipse cx="0" cy="0" rx="28.8" ry="8.0" fill="#a9985a" transform="translate(87.3 111.3) rotate(12.0)"/><circle cx="20.9" cy="50.2" r="11" fill="none" stroke="#8fae4e" stroke-width="2.6" stroke-dasharray="2.6 2.6" opacity="1.00"/><rect x="22.6" y="13.5" width="54.0" height="54.0" rx="20.2" fill="url(#gGlow)"/><circle cx="49.6" cy="40.5" r="12.6" fill="url(#gLiP)" stroke="#2a5f2a" stroke-width="1.1"/><text x="50.0" y="45.1" font-family="Liberation Sans, sans-serif" font-size="15.5" text-anchor="middle" fill="#000" stroke="#000" stroke-width="0.3">+</text><path d="M80.2 74.9V98.9M80.2 86.9H29.9" stroke="#000" stroke-width="3.7" fill="none"/><polygon points="20.9,86.9 33.4,80.3 33.4,93.5" fill="#000"/><text x="53.0" y="116.0" font-family="Liberation Serif, DejaVu Serif, serif" font-style="italic" font-size="27" text-anchor="middle" fill="#000">ξ</text><path d="M-88.6,-113.1 C-72,-106 -66,-98 -64.5,-80 C-63,-62 -64,-52 -52,-46 C-44,-42 -36,-38 -30,-33" fill="none" stroke="#159947" stroke-width="3.4"/><polygon points="-22.5,-27.5 -37.5,-27 -28,-40.5" fill="#159947"/><line x1="-44" y1="26.6" x2="-24.3" y2="6.8" stroke="#8faadc" stroke-width="3.2"/>
</g></g>
<ellipse cx="632.9" cy="188.8" rx="147.7" ry="152.2" fill="none" stroke="#000" stroke-width="2.4"/>
<g transform="translate(634.2 188.5)"><text x="-194.5" y="35.6" font-size="23.7" fill="#8faadc" font-family="Liberation Sans, sans-serif" >Environment</text><text x="-203.0" y="65.2" font-size="23.8" fill="#8faadc" font-family="Liberation Sans, sans-serif" >reorganization</text><text x="-91" y="-66" font-size="24" fill="#159947" font-family="Liberation Sans, sans-serif" font-style="italic">e<tspan font-size="15" dy="-9" font-style="normal">-</tspan></text></g>
<text x="487.3" y="25.4" font-size="30.0" fill="#000" font-family="Liberation Sans, sans-serif" >CIET (Transition state)</text>
<text transform="translate(395.0 48.0) scale(0.720 1)" font-size="52.0" font-weight="bold" fill="#000" stroke="#000" stroke-width="1.6" stroke-linejoin="round" font-family="Liberation Sans, sans-serif">C</text>
<clipPath id="clipD"><ellipse cx="1113.0" cy="302.6" rx="147.3" ry="151.4"/></clipPath>
<g clip-path="url(#clipD)">
<g transform="translate(1113.8 300.9)">
<polygon points="-183.3,-123.9 -129.0,-123.9 -111.3,-77.0 -165.6,-77.0" fill="#f6d4c6" stroke="#6b6b6b" stroke-opacity="0.30" stroke-width="0.7"/><line x1="-165.6" y1="-77.0" x2="-129.0" y2="-123.9" stroke="#6b6b6b" stroke-opacity="0.30" stroke-width="0.7"/>
<polygon points="-129.0,-123.9 -74.7,-123.9 -57.0,-77.0 -111.3,-77.0" fill="#f6d4c6" stroke="#6b6b6b" stroke-opacity="0.40" stroke-width="0.7"/><line x1="-111.3" y1="-77.0" x2="-74.7" y2="-123.9" stroke="#6b6b6b" stroke-opacity="0.40" stroke-width="0.7"/><circle cx="-93.0" cy="-100.5" r="10.6" fill="url(#gOr)" stroke="#5a5a5a" stroke-opacity="0.8" stroke-width="0.8" stroke-dasharray="2 1"/><line x1="-97.0" y1="-95.5" x2="-89.0" y2="-105.5" stroke="#fff" stroke-opacity="0.75" stroke-width="0.9"/>
<polygon points="-74.7,-123.9 -20.4,-123.9 -2.7,-77.0 -57.0,-77.0" fill="#d6d6d6" stroke="#6b6b6b" stroke-opacity="0.80" stroke-width="0.7"/><line x1="-57.0" y1="-77.0" x2="-20.4" y2="-123.9" stroke="#6b6b6b" stroke-opacity="0.80" stroke-width="0.7"/><circle cx="-38.7" cy="-100.5" r="10.6" fill="url(#gGray)" stroke="#5a5a5a" stroke-opacity="0.8" stroke-width="0.8" stroke-dasharray="2 1"/><line x1="-42.7" y1="-95.5" x2="-34.7" y2="-105.5" stroke="#fff" stroke-opacity="0.75" stroke-width="0.9"/>
<polygon points="-20.4,-123.9 33.9,-123.9 51.6,-77.0 -2.7,-77.0" fill="#d6d6d6" stroke="#6b6b6b" stroke-opacity="0.80" stroke-width="0.7"/><line x1="-2.7" y1="-77.0" x2="33.9" y2="-123.9" stroke="#6b6b6b" stroke-opacity="0.80" stroke-width="0.7"/><circle cx="15.6" cy="-100.5" r="10.6" fill="url(#gGray)" stroke="#5a5a5a" stroke-opacity="0.8" stroke-width="0.8" stroke-dasharray="2 1"/><line x1="11.6" y1="-95.5" x2="19.6" y2="-105.5" stroke="#fff" stroke-opacity="0.75" stroke-width="0.9"/>
<polygon points="-192.2,-27.8 -139.9,-27.8 -122.3,17.9 -174.6,17.9" fill="#d6d6d6" stroke="#6b6b6b" stroke-opacity="0.30" stroke-width="0.7"/><line x1="-174.6" y1="17.9" x2="-139.9" y2="-27.8" stroke="#6b6b6b" stroke-opacity="0.30" stroke-width="0.7"/>
<polygon points="-139.9,-27.8 -87.6,-27.8 -70.0,17.9 -122.3,17.9" fill="#d6d6d6" stroke="#6b6b6b" stroke-opacity="0.40" stroke-width="0.7"/><line x1="-122.3" y1="17.9" x2="-87.6" y2="-27.8" stroke="#6b6b6b" stroke-opacity="0.40" stroke-width="0.7"/><circle cx="-104.9" cy="-5.0" r="10.6" fill="url(#gGray)" stroke="#5a5a5a" stroke-opacity="0.8" stroke-width="0.8" stroke-dasharray="2 1"/><line x1="-108.9" y1="0.0" x2="-100.9" y2="-10.0" stroke="#fff" stroke-opacity="0.75" stroke-width="0.9"/>
<polygon points="-87.6,-27.8 -35.3,-27.8 -17.7,17.9 -70.0,17.9" fill="#d6d6d6" stroke="#6b6b6b" stroke-opacity="0.80" stroke-width="0.7"/><line x1="-70.0" y1="17.9" x2="-35.3" y2="-27.8" stroke="#6b6b6b" stroke-opacity="0.80" stroke-width="0.7"/><circle cx="-52.6" cy="-5.0" r="10.6" fill="url(#gGray)" stroke="#5a5a5a" stroke-opacity="0.8" stroke-width="0.8" stroke-dasharray="2 1"/><line x1="-56.6" y1="0.0" x2="-48.6" y2="-10.0" stroke="#fff" stroke-opacity="0.75" stroke-width="0.9"/>
<polygon points="-35.3,-27.8 17.0,-27.8 34.6,17.9 -17.7,17.9" fill="#d6d6d6" stroke="#6b6b6b" stroke-opacity="0.80" stroke-width="0.7"/><line x1="-17.7" y1="17.9" x2="17.0" y2="-27.8" stroke="#6b6b6b" stroke-opacity="0.80" stroke-width="0.7"/>
<polygon points="-150.5,77.5 -99.0,77.5 -82.5,123.2 -134.0,123.2" fill="#f6d4c6" stroke="#6b6b6b" stroke-opacity="0.30" stroke-width="0.7"/><line x1="-134.0" y1="123.2" x2="-99.0" y2="77.5" stroke="#6b6b6b" stroke-opacity="0.30" stroke-width="0.7"/>
<polygon points="-99.0,77.5 -47.5,77.5 -31.0,123.2 -82.5,123.2" fill="#f6d4c6" stroke="#6b6b6b" stroke-opacity="0.50" stroke-width="0.7"/><line x1="-82.5" y1="123.2" x2="-47.5" y2="77.5" stroke="#6b6b6b" stroke-opacity="0.50" stroke-width="0.7"/><circle cx="-65.0" cy="100.3" r="10.6" fill="url(#gOr)" stroke="#5a5a5a" stroke-opacity="0.8" stroke-width="0.8" stroke-dasharray="2 1"/><line x1="-69.0" y1="105.3" x2="-61.0" y2="95.3" stroke="#fff" stroke-opacity="0.75" stroke-width="0.9"/>
<polygon points="-47.5,77.5 4.0,77.5 20.5,123.2 -31.0,123.2" fill="#d6d6d6" stroke="#6b6b6b" stroke-opacity="0.80" stroke-width="0.7"/><line x1="-31.0" y1="123.2" x2="4.0" y2="77.5" stroke="#6b6b6b" stroke-opacity="0.80" stroke-width="0.7"/><circle cx="-13.5" cy="100.3" r="10.6" fill="url(#gGray)" stroke="#5a5a5a" stroke-opacity="0.8" stroke-width="0.8" stroke-dasharray="2 1"/><line x1="-17.5" y1="105.3" x2="-9.5" y2="95.3" stroke="#fff" stroke-opacity="0.75" stroke-width="0.9"/>
<circle cx="-72.2" cy="-55.3" r="11" fill="none" stroke="#8fae4e" stroke-width="2.6" stroke-dasharray="2.6 2.6" opacity="0.60"/>
<circle cx="-19.6" cy="-55.3" r="11" fill="none" stroke="#8fae4e" stroke-width="2.6" stroke-dasharray="2.6 2.6" opacity="1.00"/>
<circle cx="27.6" cy="-55.3" r="12.3" fill="url(#gLi)" stroke="#9ccf8e" stroke-width="0.8" opacity="1.00"/>
<circle cx="-88.5" cy="51.0" r="11" fill="none" stroke="#8fae4e" stroke-width="2.6" stroke-dasharray="2.6 2.6" opacity="0.50"/>
<circle cx="-35.2" cy="51.0" r="12.3" fill="url(#gLi)" stroke="#9ccf8e" stroke-width="0.8" opacity="0.85"/>
<ellipse cx="-8" cy="-8" rx="58" ry="52" fill="url(#gTeal)"/><ellipse cx="30" cy="52" rx="58" ry="60" fill="url(#gTeal)"/><ellipse cx="12" cy="22" rx="40" ry="45" fill="url(#gTeal)" opacity="0.7"/>
<g opacity="0.92"><circle cx="-0.4" cy="-5.0" r="10.6" fill="url(#gGray)" stroke="#5a5a5a" stroke-width="1.1" stroke-dasharray="1.6 1.4"/></g>
<rect x="-165" y="-135" width="130" height="270" fill="url(#gFade)"/>
<path d="M53.2 -140.5C54.1 -134.9 57.7 -116.0 58.8 -106.9C59.9 -97.8 59.7 -93.3 59.6 -86.0C59.5 -78.7 59.3 -72.0 58.1 -63.3C56.9 -54.6 55.0 -44.2 52.5 -33.7C50.0 -23.3 44.8 -9.9 42.8 -0.6C40.8 8.7 40.9 14.2 40.4 22.0C39.9 29.8 39.9 37.1 39.6 46.4C39.3 55.7 40.4 66.7 38.6 77.7C36.8 88.7 30.7 103.9 28.8 112.6C26.9 121.3 27.2 123.9 27.0 130.0C26.8 136.1 27.5 145.8 27.6 149.0" fill="none" stroke="#7f7f7f" stroke-width="3.3" stroke-dasharray="29.5 8"/>
<ellipse cx="0" cy="0" rx="28.8" ry="8.0" fill="#a9985a" transform="translate(116.4 -11.8) rotate(3.0)"/><ellipse cx="0" cy="0" rx="28.8" ry="8.0" fill="#a9985a" transform="translate(111.0 18.7) rotate(22.0)"/><ellipse cx="0" cy="0" rx="28.8" ry="8.0" fill="#a9985a" transform="translate(100.2 60.7) rotate(-2.0)"/><ellipse cx="0" cy="0" rx="28.8" ry="8.0" fill="#a9985a" transform="translate(96.5 99.5) rotate(12.0)"/><circle cx="20.5" cy="51.0" r="12.6" fill="url(#gLiP)" stroke="#2a5f2a" stroke-width="1.1"/><text x="20.9" y="55.6" font-family="Liberation Sans, sans-serif" font-size="15.5" text-anchor="middle" fill="#000" stroke="#000" stroke-width="0.3">+</text><path d="M66.1 76.0V100.0M66.1 88.0H18.7" stroke="#000" stroke-width="3.7" fill="none"/><polygon points="9.7,88.0 22.2,81.4 22.2,94.6" fill="#000"/><text x="43.0" y="119.0" font-family="Liberation Serif, DejaVu Serif, serif" font-style="italic" font-size="27" text-anchor="middle" fill="#000">ξ</text><line x1="-29.1" y1="27.7" x2="-8.6" y2="7.9" stroke="#3fae92" stroke-width="3.2"/>
</g></g>
<ellipse cx="1113.0" cy="302.6" rx="148.1" ry="152.2" fill="none" stroke="#000" stroke-width="2.4"/>
<g transform="translate(1113.8 300.9)"><text x="-138.7" y="36.7" font-size="23" fill="#3fae92" font-family="Liberation Sans, sans-serif"><tspan font-style="italic">e</tspan><tspan font-size="15" dy="-9">-</tspan><tspan dy="9">-ion pair</tspan></text></g>
<text x="1088.0" y="142.3" font-size="29.5" fill="#000" font-family="Liberation Sans, sans-serif" >Red</text>
<text transform="translate(960.0 147.6) scale(0.720 1)" font-size="52.0" font-weight="bold" fill="#000" stroke="#000" stroke-width="1.6" stroke-linejoin="round" font-family="Liberation Sans, sans-serif">D</text>
<clipPath id="clipB"><ellipse cx="155.7" cy="759.3" rx="147.3" ry="151.4"/></clipPath>
<g clip-path="url(#clipB)">
<g transform="translate(152.8 760.3)">
<polygon points="-183.3,-123.9 -129.0,-123.9 -111.3,-77.0 -165.6,-77.0" fill="#f6d4c6" stroke="#6b6b6b" stroke-opacity="0.30" stroke-width="0.7"/><line x1="-165.6" y1="-77.0" x2="-129.0" y2="-123.9" stroke="#6b6b6b" stroke-opacity="0.30" stroke-width="0.7"/>
<polygon points="-129.0,-123.9 -74.7,-123.9 -57.0,-77.0 -111.3,-77.0" fill="#f6d4c6" stroke="#6b6b6b" stroke-opacity="0.40" stroke-width="0.7"/><line x1="-111.3" y1="-77.0" x2="-74.7" y2="-123.9" stroke="#6b6b6b" stroke-opacity="0.40" stroke-width="0.7"/><circle cx="-93.0" cy="-100.5" r="10.6" fill="url(#gOr)" stroke="#5a5a5a" stroke-opacity="0.8" stroke-width="0.8" stroke-dasharray="2 1"/><line x1="-97.0" y1="-95.5" x2="-89.0" y2="-105.5" stroke="#fff" stroke-opacity="0.75" stroke-width="0.9"/>
<polygon points="-74.7,-123.9 -20.4,-123.9 -2.7,-77.0 -57.0,-77.0" fill="#d6d6d6" stroke="#6b6b6b" stroke-opacity="0.80" stroke-width="0.7"/><line x1="-57.0" y1="-77.0" x2="-20.4" y2="-123.9" stroke="#6b6b6b" stroke-opacity="0.80" stroke-width="0.7"/><circle cx="-38.7" cy="-100.5" r="10.6" fill="url(#gGray)" stroke="#5a5a5a" stroke-opacity="0.8" stroke-width="0.8" stroke-dasharray="2 1"/><line x1="-42.7" y1="-95.5" x2="-34.7" y2="-105.5" stroke="#fff" stroke-opacity="0.75" stroke-width="0.9"/>
<polygon points="-20.4,-123.9 33.9,-123.9 51.6,-77.0 -2.7,-77.0" fill="#d6d6d6" stroke="#6b6b6b" stroke-opacity="0.80" stroke-width="0.7"/><line x1="-2.7" y1="-77.0" x2="33.9" y2="-123.9" stroke="#6b6b6b" stroke-opacity="0.80" stroke-width="0.7"/><circle cx="15.6" cy="-100.5" r="10.6" fill="url(#gGray)" stroke="#5a5a5a" stroke-opacity="0.8" stroke-width="0.8" stroke-dasharray="2 1"/><line x1="11.6" y1="-95.5" x2="19.6" y2="-105.5" stroke="#fff" stroke-opacity="0.75" stroke-width="0.9"/>
<polygon points="-195.2,-27.8 -142.9,-27.8 -125.3,17.9 -177.6,17.9" fill="#d6d6d6" stroke="#6b6b6b" stroke-opacity="0.30" stroke-width="0.7"/><line x1="-177.6" y1="17.9" x2="-142.9" y2="-27.8" stroke="#6b6b6b" stroke-opacity="0.30" stroke-width="0.7"/>
<polygon points="-142.9,-27.8 -90.6,-27.8 -73.0,17.9 -125.3,17.9" fill="#d6d6d6" stroke="#6b6b6b" stroke-opacity="0.40" stroke-width="0.7"/><line x1="-125.3" y1="17.9" x2="-90.6" y2="-27.8" stroke="#6b6b6b" stroke-opacity="0.40" stroke-width="0.7"/><circle cx="-107.9" cy="-5.0" r="10.6" fill="url(#gGray)" stroke="#5a5a5a" stroke-opacity="0.8" stroke-width="0.8" stroke-dasharray="2 1"/><line x1="-111.9" y1="0.0" x2="-103.9" y2="-10.0" stroke="#fff" stroke-opacity="0.75" stroke-width="0.9"/>
<polygon points="-90.6,-27.8 -38.3,-27.8 -20.7,17.9 -73.0,17.9" fill="#d6d6d6" stroke="#6b6b6b" stroke-opacity="0.80" stroke-width="0.7"/><line x1="-73.0" y1="17.9" x2="-38.3" y2="-27.8" stroke="#6b6b6b" stroke-opacity="0.80" stroke-width="0.7"/><circle cx="-55.6" cy="-5.0" r="10.6" fill="url(#gGray)" stroke="#5a5a5a" stroke-opacity="0.8" stroke-width="0.8" stroke-dasharray="2 1"/><line x1="-59.6" y1="0.0" x2="-51.6" y2="-10.0" stroke="#fff" stroke-opacity="0.75" stroke-width="0.9"/>
<polygon points="-38.3,-27.8 14.0,-27.8 31.6,17.9 -20.7,17.9" fill="#f6d4c6" stroke="#6b6b6b" stroke-opacity="0.80" stroke-width="0.7"/><line x1="-20.7" y1="17.9" x2="14.0" y2="-27.8" stroke="#6b6b6b" stroke-opacity="0.80" stroke-width="0.7"/>
<polygon points="-150.5,77.5 -99.0,77.5 -82.5,123.2 -134.0,123.2" fill="#f6d4c6" stroke="#6b6b6b" stroke-opacity="0.30" stroke-width="0.7"/><line x1="-134.0" y1="123.2" x2="-99.0" y2="77.5" stroke="#6b6b6b" stroke-opacity="0.30" stroke-width="0.7"/>
<polygon points="-99.0,77.5 -47.5,77.5 -31.0,123.2 -82.5,123.2" fill="#f6d4c6" stroke="#6b6b6b" stroke-opacity="0.50" stroke-width="0.7"/><line x1="-82.5" y1="123.2" x2="-47.5" y2="77.5" stroke="#6b6b6b" stroke-opacity="0.50" stroke-width="0.7"/><circle cx="-65.0" cy="100.3" r="10.6" fill="url(#gOr)" stroke="#5a5a5a" stroke-opacity="0.8" stroke-width="0.8" stroke-dasharray="2 1"/><line x1="-69.0" y1="105.3" x2="-61.0" y2="95.3" stroke="#fff" stroke-opacity="0.75" stroke-width="0.9"/>
<polygon points="-47.5,77.5 4.0,77.5 20.5,123.2 -31.0,123.2" fill="#d6d6d6" stroke="#6b6b6b" stroke-opacity="0.80" stroke-width="0.7"/><line x1="-31.0" y1="123.2" x2="4.0" y2="77.5" stroke="#6b6b6b" stroke-opacity="0.80" stroke-width="0.7"/><circle cx="-13.5" cy="100.3" r="10.6" fill="url(#gGray)" stroke="#5a5a5a" stroke-opacity="0.8" stroke-width="0.8" stroke-dasharray="2 1"/><line x1="-17.5" y1="105.3" x2="-9.5" y2="95.3" stroke="#fff" stroke-opacity="0.75" stroke-width="0.9"/>
<circle cx="-72.2" cy="-55.3" r="11" fill="none" stroke="#8fae4e" stroke-width="2.6" stroke-dasharray="2.6 2.6" opacity="0.60"/>
<circle cx="-19.6" cy="-55.3" r="11" fill="none" stroke="#8fae4e" stroke-width="2.6" stroke-dasharray="2.6 2.6" opacity="1.00"/>
<circle cx="27.6" cy="-55.3" r="12.3" fill="url(#gLi)" stroke="#9ccf8e" stroke-width="0.8" opacity="1.00"/>
<circle cx="-88.5" cy="51.0" r="11" fill="none" stroke="#8fae4e" stroke-width="2.6" stroke-dasharray="2.6 2.6" opacity="0.50"/>
<circle cx="-35.2" cy="51.0" r="12.3" fill="url(#gLi)" stroke="#9ccf8e" stroke-width="0.8" opacity="0.85"/>

<g opacity="1.00"><circle cx="-3.4" cy="-5.0" r="10.6" fill="url(#gOr)" stroke="#5a5a5a" stroke-opacity="0.8" stroke-width="0.8" stroke-dasharray="2 1"/><line x1="-7.4" y1="0.0" x2="0.6" y2="-10.0" stroke="#fff" stroke-opacity="0.75" stroke-width="0.9"/></g>
<rect x="-165" y="-135" width="130" height="270" fill="url(#gFade)"/>
<path d="M53.2 -140.5C54.1 -134.9 57.7 -116.0 58.8 -106.9C59.9 -97.8 59.7 -93.3 59.6 -86.0C59.5 -78.7 59.3 -72.0 58.1 -63.3C56.9 -54.6 55.0 -44.2 52.5 -33.7C50.0 -23.3 44.8 -9.9 42.8 -0.6C40.8 8.7 40.9 14.2 40.4 22.0C39.9 29.8 39.9 37.1 39.6 46.4C39.3 55.7 40.4 66.7 38.6 77.7C36.8 88.7 30.7 103.9 28.8 112.6C26.9 121.3 27.2 123.9 27.0 130.0C26.8 136.1 27.5 145.8 27.6 149.0" fill="none" stroke="#7f7f7f" stroke-width="3.3" stroke-dasharray="29.5 8"/>
<ellipse cx="0" cy="0" rx="30.0" ry="8.5" fill="#a9985a" transform="translate(91.2 -12.8) rotate(-79.4)"/><ellipse cx="0" cy="0" rx="28.8" ry="8.0" fill="#a9985a" transform="translate(119.8 9.0) rotate(-42.0)"/><ellipse cx="0" cy="0" rx="28.8" ry="8.0" fill="#a9985a" transform="translate(134.5 34.8) rotate(-6.0)"/><ellipse cx="0" cy="0" rx="28.8" ry="8.0" fill="#a9985a" transform="translate(112.7 67.0) rotate(50.0)"/><circle cx="20.1" cy="49.7" r="11" fill="none" stroke="#8fae4e" stroke-width="2.6" stroke-dasharray="2.6 2.6" opacity="1.00"/><rect x="55.5" y="13.2" width="50.0" height="50.0" rx="18.8" fill="url(#gGlow)"/><circle cx="80.5" cy="38.2" r="12.6" fill="url(#gLiP)" stroke="#2a5f2a" stroke-width="1.1"/><text x="80.9" y="42.8" font-family="Liberation Sans, sans-serif" font-size="15.5" text-anchor="middle" fill="#000" stroke="#000" stroke-width="0.3">+</text><path d="M79.1 68.2V92.2M79.1 80.2H29.8" stroke="#000" stroke-width="3.7" fill="none"/><polygon points="20.8,80.2 33.3,73.6 33.3,86.8" fill="#000"/><text x="52.0" y="112.0" font-family="Liberation Serif, DejaVu Serif, serif" font-style="italic" font-size="27" text-anchor="middle" fill="#000">ξ</text><line x1="93.8" y1="14.7" x2="109.1" y2="0.3" stroke="#5c9c50" stroke-width="3.2"/><line x1="-6.4" y1="68.4" x2="10.1" y2="55.2" stroke="#5c9c50" stroke-width="3.2"/>
</g></g>
<ellipse cx="155.7" cy="759.3" rx="148.1" ry="152.2" fill="none" stroke="#000" stroke-width="2.4"/>
<g transform="translate(152.8 760.3)"><text x="104.2" y="-12.1" font-size="23.9" fill="#62a05a" font-family="Liberation Sans, sans-serif" >Adsorbed Li<tspan font-size="14" dy="-8">+</tspan></text><text x="-123.9" y="72.5" font-size="23.0" fill="#62a05a" font-family="Liberation Sans, sans-serif" >Li<tspan font-size="14" dy="-8">+</tspan><tspan dy="8"> vacancy</tspan></text><text x="-99.2" y="-24.9" fill="#8a8a8a" font-family="Liberation Serif, DejaVu Serif, serif" font-style="italic" font-size="20.5" letter-spacing="1.2">M<tspan font-size="15" dy="-7.5" dx="2.5">z</tspan><tspan font-size="11.5" dy="2.5">M</tspan><tspan font-size="15" dy="-2.5" dx="1" font-style="normal">−1</tspan></text><text x="-24.5" y="-24.9" fill="#b85a2c" font-family="Liberation Serif, DejaVu Serif, serif" font-style="italic" font-size="20.5" letter-spacing="1.2">M<tspan font-size="15" dy="-7.5" dx="2.5">z</tspan><tspan font-size="11.5" dy="2.5">M</tspan></text></g>
<text x="140.5" y="590.6" font-size="29.5" fill="#000" font-family="Liberation Sans, sans-serif" >Ox</text>
<text transform="translate(9.7 593.6) scale(0.720 1)" font-size="52.0" font-weight="bold" fill="#000" stroke="#000" stroke-width="1.6" stroke-linejoin="round" font-family="Liberation Sans, sans-serif">B</text>
<clipPath id="clipF"><ellipse cx="1115.7" cy="758.1" rx="147.3" ry="151.4"/></clipPath>
<g clip-path="url(#clipF)">
<g transform="translate(1116.7 757.7)">
<polygon points="-183.3,-123.9 -129.0,-123.9 -111.3,-77.0 -165.6,-77.0" fill="#f6d4c6" stroke="#6b6b6b" stroke-opacity="0.30" stroke-width="0.7"/><line x1="-165.6" y1="-77.0" x2="-129.0" y2="-123.9" stroke="#6b6b6b" stroke-opacity="0.30" stroke-width="0.7"/>
<polygon points="-129.0,-123.9 -74.7,-123.9 -57.0,-77.0 -111.3,-77.0" fill="#f6d4c6" stroke="#6b6b6b" stroke-opacity="0.40" stroke-width="0.7"/><line x1="-111.3" y1="-77.0" x2="-74.7" y2="-123.9" stroke="#6b6b6b" stroke-opacity="0.40" stroke-width="0.7"/><circle cx="-93.0" cy="-100.5" r="10.6" fill="url(#gOr)" stroke="#5a5a5a" stroke-opacity="0.8" stroke-width="0.8" stroke-dasharray="2 1"/><line x1="-97.0" y1="-95.5" x2="-89.0" y2="-105.5" stroke="#fff" stroke-opacity="0.75" stroke-width="0.9"/>
<polygon points="-74.7,-123.9 -20.4,-123.9 -2.7,-77.0 -57.0,-77.0" fill="#d6d6d6" stroke="#6b6b6b" stroke-opacity="0.80" stroke-width="0.7"/><line x1="-57.0" y1="-77.0" x2="-20.4" y2="-123.9" stroke="#6b6b6b" stroke-opacity="0.80" stroke-width="0.7"/><circle cx="-38.7" cy="-100.5" r="10.6" fill="url(#gGray)" stroke="#5a5a5a" stroke-opacity="0.8" stroke-width="0.8" stroke-dasharray="2 1"/><line x1="-42.7" y1="-95.5" x2="-34.7" y2="-105.5" stroke="#fff" stroke-opacity="0.75" stroke-width="0.9"/>
<polygon points="-20.4,-123.9 33.9,-123.9 51.6,-77.0 -2.7,-77.0" fill="#d6d6d6" stroke="#6b6b6b" stroke-opacity="0.80" stroke-width="0.7"/><line x1="-2.7" y1="-77.0" x2="33.9" y2="-123.9" stroke="#6b6b6b" stroke-opacity="0.80" stroke-width="0.7"/><circle cx="15.6" cy="-100.5" r="10.6" fill="url(#gGray)" stroke="#5a5a5a" stroke-opacity="0.8" stroke-width="0.8" stroke-dasharray="2 1"/><line x1="11.6" y1="-95.5" x2="19.6" y2="-105.5" stroke="#fff" stroke-opacity="0.75" stroke-width="0.9"/>
<polygon points="-191.7,-27.8 -139.4,-27.8 -121.8,17.9 -174.1,17.9" fill="#d6d6d6" stroke="#6b6b6b" stroke-opacity="0.30" stroke-width="0.7"/><line x1="-174.1" y1="17.9" x2="-139.4" y2="-27.8" stroke="#6b6b6b" stroke-opacity="0.30" stroke-width="0.7"/>
<polygon points="-139.4,-27.8 -87.1,-27.8 -69.5,17.9 -121.8,17.9" fill="#d6d6d6" stroke="#6b6b6b" stroke-opacity="0.40" stroke-width="0.7"/><line x1="-121.8" y1="17.9" x2="-87.1" y2="-27.8" stroke="#6b6b6b" stroke-opacity="0.40" stroke-width="0.7"/><circle cx="-104.4" cy="-5.0" r="10.6" fill="url(#gGray)" stroke="#5a5a5a" stroke-opacity="0.8" stroke-width="0.8" stroke-dasharray="2 1"/><line x1="-108.4" y1="0.0" x2="-100.4" y2="-10.0" stroke="#fff" stroke-opacity="0.75" stroke-width="0.9"/>
<polygon points="-87.1,-27.8 -34.8,-27.8 -17.2,17.9 -69.5,17.9" fill="#d6d6d6" stroke="#6b6b6b" stroke-opacity="0.80" stroke-width="0.7"/><line x1="-69.5" y1="17.9" x2="-34.8" y2="-27.8" stroke="#6b6b6b" stroke-opacity="0.80" stroke-width="0.7"/><circle cx="-52.1" cy="-5.0" r="10.6" fill="url(#gGray)" stroke="#5a5a5a" stroke-opacity="0.8" stroke-width="0.8" stroke-dasharray="2 1"/><line x1="-56.1" y1="0.0" x2="-48.1" y2="-10.0" stroke="#fff" stroke-opacity="0.75" stroke-width="0.9"/>
<polygon points="-34.8,-27.8 17.5,-27.8 35.1,17.9 -17.2,17.9" fill="#d6d6d6" stroke="#6b6b6b" stroke-opacity="0.80" stroke-width="0.7"/><line x1="-17.2" y1="17.9" x2="17.5" y2="-27.8" stroke="#6b6b6b" stroke-opacity="0.80" stroke-width="0.7"/>
<polygon points="-150.5,77.5 -99.0,77.5 -82.5,123.2 -134.0,123.2" fill="#f6d4c6" stroke="#6b6b6b" stroke-opacity="0.30" stroke-width="0.7"/><line x1="-134.0" y1="123.2" x2="-99.0" y2="77.5" stroke="#6b6b6b" stroke-opacity="0.30" stroke-width="0.7"/>
<polygon points="-99.0,77.5 -47.5,77.5 -31.0,123.2 -82.5,123.2" fill="#f6d4c6" stroke="#6b6b6b" stroke-opacity="0.50" stroke-width="0.7"/><line x1="-82.5" y1="123.2" x2="-47.5" y2="77.5" stroke="#6b6b6b" stroke-opacity="0.50" stroke-width="0.7"/><circle cx="-65.0" cy="100.3" r="10.6" fill="url(#gOr)" stroke="#5a5a5a" stroke-opacity="0.8" stroke-width="0.8" stroke-dasharray="2 1"/><line x1="-69.0" y1="105.3" x2="-61.0" y2="95.3" stroke="#fff" stroke-opacity="0.75" stroke-width="0.9"/>
<polygon points="-47.5,77.5 4.0,77.5 20.5,123.2 -31.0,123.2" fill="#d6d6d6" stroke="#6b6b6b" stroke-opacity="0.80" stroke-width="0.7"/><line x1="-31.0" y1="123.2" x2="4.0" y2="77.5" stroke="#6b6b6b" stroke-opacity="0.80" stroke-width="0.7"/><circle cx="-13.5" cy="100.3" r="10.6" fill="url(#gGray)" stroke="#5a5a5a" stroke-opacity="0.8" stroke-width="0.8" stroke-dasharray="2 1"/><line x1="-17.5" y1="105.3" x2="-9.5" y2="95.3" stroke="#fff" stroke-opacity="0.75" stroke-width="0.9"/>
<circle cx="-72.2" cy="-55.3" r="11" fill="none" stroke="#8fae4e" stroke-width="2.6" stroke-dasharray="2.6 2.6" opacity="0.60"/>
<circle cx="-19.6" cy="-55.3" r="11" fill="none" stroke="#8fae4e" stroke-width="2.6" stroke-dasharray="2.6 2.6" opacity="1.00"/>
<circle cx="27.6" cy="-55.3" r="12.3" fill="url(#gLi)" stroke="#9ccf8e" stroke-width="0.8" opacity="1.00"/>
<circle cx="-88.5" cy="51.0" r="11" fill="none" stroke="#8fae4e" stroke-width="2.6" stroke-dasharray="2.6 2.6" opacity="0.50"/>
<circle cx="-35.2" cy="51.0" r="12.3" fill="url(#gLi)" stroke="#9ccf8e" stroke-width="0.8" opacity="0.85"/>

<g opacity="1.00"><circle cx="0.1" cy="-5.0" r="10.6" fill="url(#gGray)" stroke="#5a5a5a" stroke-opacity="0.8" stroke-width="0.8" stroke-dasharray="2 1"/><line x1="-3.9" y1="0.0" x2="4.1" y2="-10.0" stroke="#fff" stroke-opacity="0.75" stroke-width="0.9"/></g>
<rect x="-165" y="-135" width="130" height="270" fill="url(#gFade)"/>
<path d="M53.2 -140.5C54.1 -134.9 57.7 -116.0 58.8 -106.9C59.9 -97.8 59.7 -93.3 59.6 -86.0C59.5 -78.7 59.3 -72.0 58.1 -63.3C56.9 -54.6 55.0 -44.2 52.5 -33.7C50.0 -23.3 44.8 -9.9 42.8 -0.6C40.8 8.7 40.9 14.2 40.4 22.0C39.9 29.8 39.9 37.1 39.6 46.4C39.3 55.7 40.4 66.7 38.6 77.7C36.8 88.7 30.7 103.9 28.8 112.6C26.9 121.3 27.2 123.9 27.0 130.0C26.8 136.1 27.5 145.8 27.6 149.0" fill="none" stroke="#7f7f7f" stroke-width="3.3" stroke-dasharray="29.5 8"/>
<ellipse cx="0" cy="0" rx="27.5" ry="8.5" fill="#a9985a" transform="translate(81.5 -10.4) rotate(-79.0)"/><ellipse cx="0" cy="0" rx="28.8" ry="8.0" fill="#a9985a" transform="translate(109.9 12.1) rotate(-40.5)"/><ellipse cx="0" cy="0" rx="28.8" ry="8.0" fill="#a9985a" transform="translate(119.7 38.2) rotate(-8.0)"/><ellipse cx="0" cy="0" rx="28.8" ry="8.0" fill="#a9985a" transform="translate(101.3 69.4) rotate(46.0)"/><circle cx="20.1" cy="49.7" r="11" fill="none" stroke="#8fae4e" stroke-width="2.6" stroke-dasharray="2.6 2.6" opacity="1.00"/><rect x="46.4" y="16.9" width="48.0" height="48.0" rx="18.0" fill="url(#gGlow)"/><circle cx="70.4" cy="40.9" r="12.6" fill="url(#gLiP)" stroke="#2a5f2a" stroke-width="1.1"/><text x="70.8" y="45.5" font-family="Liberation Sans, sans-serif" font-size="15.5" text-anchor="middle" fill="#000" stroke="#000" stroke-width="0.3">+</text>
</g></g>
<ellipse cx="1115.7" cy="758.1" rx="148.1" ry="152.2" fill="none" stroke="#9a9a9a" stroke-width="2.5"/>
<g transform="translate(1116.7 757.7)"><text x="-108.4" y="-25.4" fill="#8a8a8a" font-family="Liberation Serif, DejaVu Serif, serif" font-style="italic" font-size="20.5" letter-spacing="1.2">M<tspan font-size="15" dy="-7.5" dx="2.5">z</tspan><tspan font-size="11.5" dy="2.5">M</tspan><tspan font-size="15" dy="-2.5" dx="1" font-style="normal">−1</tspan></text></g>
<text x="1072.0" y="589.8" font-size="29.5" fill="#9e9e9e" font-family="Liberation Sans, sans-serif" >ET only</text>
<text transform="translate(973.0 594.4) scale(0.720 1)" font-size="52.0" font-weight="bold" fill="#000" stroke="#000" stroke-width="1.6" stroke-linejoin="round" font-family="Liberation Sans, sans-serif">F</text>
<text transform="translate(397.5 396.1) scale(0.750 1)" font-size="51.5" font-weight="bold" fill="#000" stroke="#000" stroke-width="1.6" stroke-linejoin="round" font-family="Liberation Sans, sans-serif">A</text>
</svg></body></html>
